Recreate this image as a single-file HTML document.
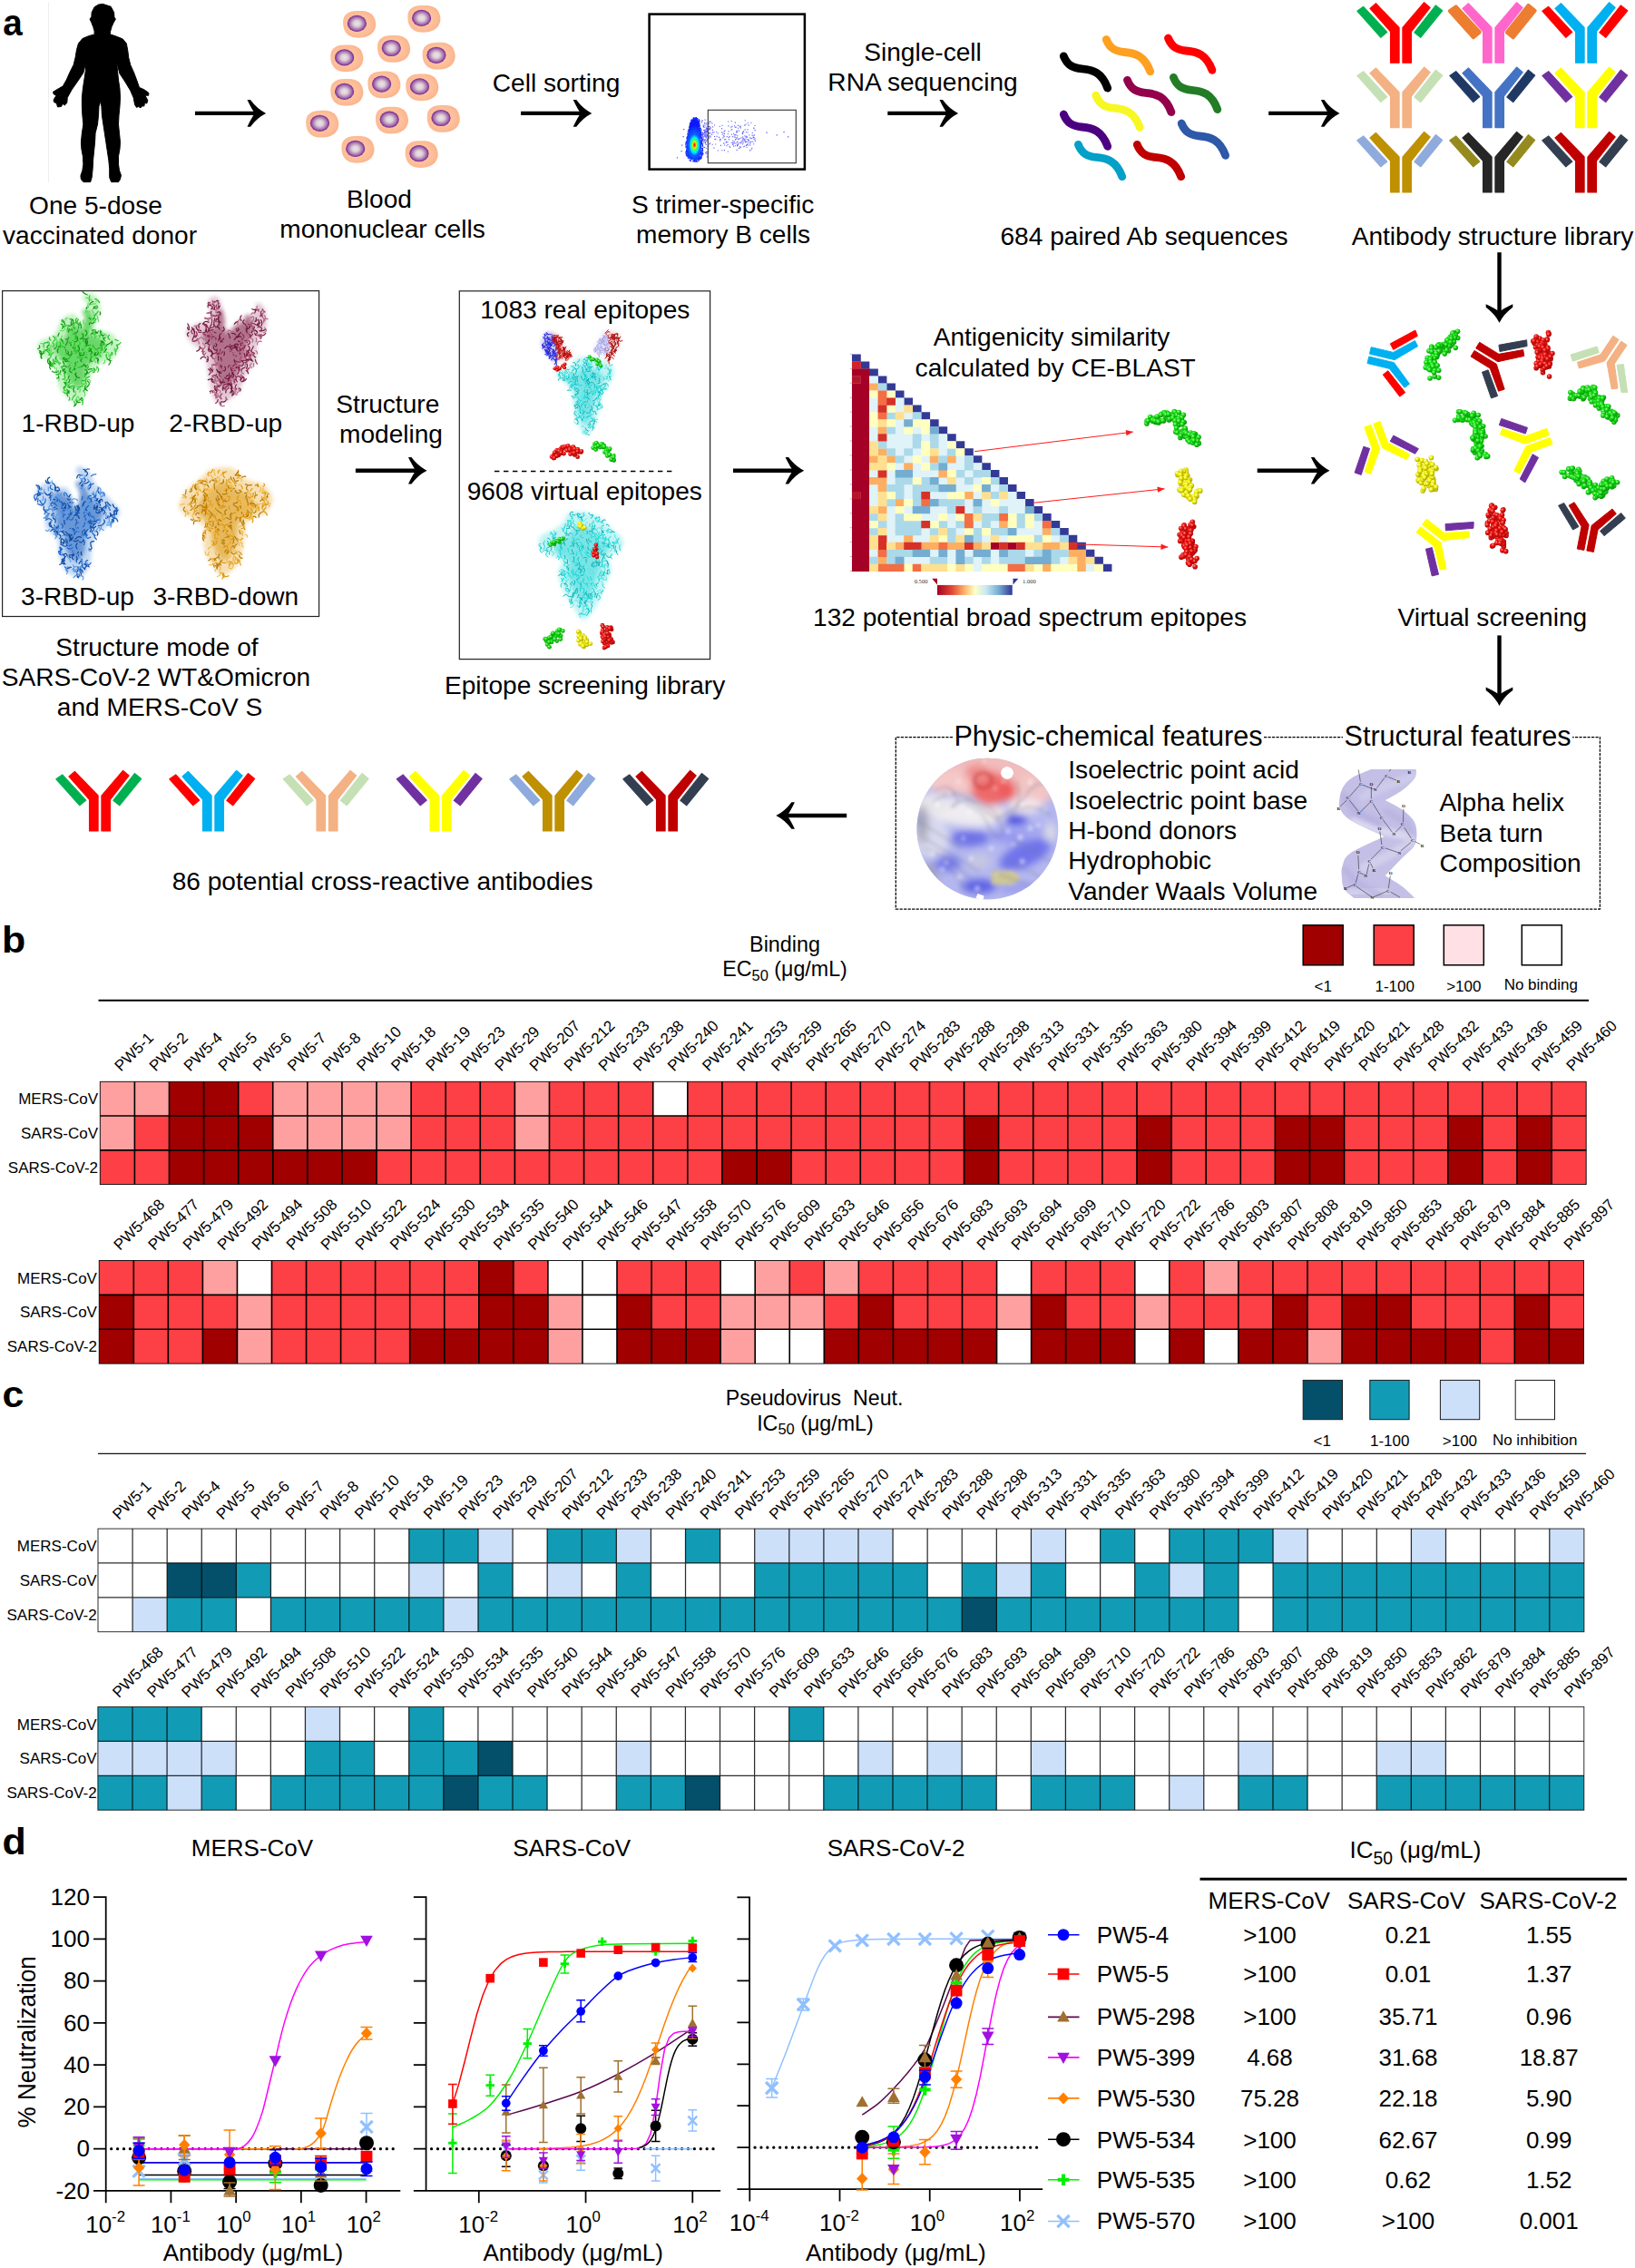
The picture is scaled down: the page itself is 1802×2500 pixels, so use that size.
<!DOCTYPE html>
<html lang="en"><head><meta charset="utf-8"><title>Figure 1</title>
<style>
html,body{margin:0;padding:0;background:#fff;}
body{width:1802px;height:2500px;overflow:hidden;}
svg{display:block;font-family:"Liberation Sans", Arial, sans-serif;fill:#000;}
</style></head><body>
<svg width="1802" height="2500" viewBox="0 0 1802 2500">
<rect width="1802" height="2500" fill="#fff"/>
<g id="panel-a">
<text transform="translate(3.3,38.6) scale(0.966,1.03)" font-size="40" font-weight="bold">a</text>
<path d="M53.4,2V201" stroke="#ececec" stroke-width="1"/><polygon points="113.39,4.4 122.19,7.34 125.62,13.7 125.91,19.08 127.38,21.04 125.13,24.95 123.17,29.35 121.7,34.25 121.21,37.67 128.06,40.12 135.4,43.05 139.32,47.95 140.78,55.77 141.76,63.6 143.72,71.43 147.63,80.23 150.57,88.06 153.5,96.38 158.88,98.83 163.78,102.25 163.78,105.19 159.86,105.19 162.8,110.57 161.82,113.99 159.37,113.5 158.88,116.93 156.44,116.93 154.97,118.88 152.52,117.42 150.57,118.4 148.61,115.46 147.14,107.63 143.72,99.8 137.85,90.02 131.98,81.21 128.55,68.49 129.53,78.28 130.51,88.06 131.98,97.85 132.47,107.63 131.98,117.42 131,127.2 130.51,136.99 131.49,146.77 132.47,156.56 131.98,164.38 130.51,172.21 130.51,181.02 131.49,187.87 133.44,193.25 132.47,197.65 130.51,200.59 122.68,200.59 120.72,195.69 120.72,185.91 119.75,176.13 118.28,166.34 116.81,156.56 115.34,146.77 113.87,136.99 112.41,127.2 111.92,117.42 110.45,111.55 108.98,117.42 108.49,127.2 107.51,136.99 105.07,146.77 104.58,156.56 103.6,166.34 102.62,176.13 102.13,185.91 101.15,195.69 99.69,200.59 91.86,200.59 89.41,197.65 88.92,193.74 90.88,187.87 91.86,181.02 91.37,172.21 89.9,164.38 89.41,156.56 90.39,146.77 91.86,136.99 90.88,127.2 90.39,117.42 90.39,107.63 91.37,97.85 92.84,88.06 94.31,78.28 94.79,68.49 91.86,80.23 85.99,89.04 79.14,98.83 74.25,107.63 73.76,113.5 71.31,115.95 69.35,114.48 67.4,117.42 63.48,117.91 62.5,113.99 59.57,112.52 59.08,110.08 62.02,105.19 59.08,103.72 58.59,101.27 63.48,98.34 69.35,94.91 73.27,88.06 77.18,79.26 81.1,71.43 83.05,63.6 84.52,54.79 86.48,47.95 90.88,42.56 97.73,39.63 104.09,37.96 104.09,34.25 102.62,29.35 100.67,24.46 99,21.04 100.86,18.59 101.15,13.7 104.09,7.83 108.49,5.09" fill="#000" stroke="#000" stroke-width="1" stroke-linejoin="round"/>
<defs><radialGradient id="cellg" cx="45%" cy="48%" r="60%"><stop offset="0" stop-color="#fdd0b3"/><stop offset="0.7" stop-color="#fcbd97"/><stop offset="1" stop-color="#fbb189"/></radialGradient><radialGradient id="nucg"><stop offset="0" stop-color="#ece4e2"/><stop offset="0.35" stop-color="#ded0d8"/><stop offset="0.75" stop-color="#a772b0"/><stop offset="1" stop-color="#74208a"/></radialGradient></defs>
<g transform="translate(396.1,26.8)"><path d="M-18,-2C-18,-11 -12,-14.5 -3,-14.8C6,-15.3 13,-14 16,-8C19,-2 19,4 15,9C10,14.5 2,15.5 -6,14.5C-14,13 -18,7 -18,-2Z" fill="url(#cellg)"/></g><ellipse cx="393.4" cy="25.9" rx="10.6" ry="9.1" fill="url(#nucg)"/>
<g transform="translate(467.3,20.8)"><path d="M-18,-2C-18,-11 -12,-14.5 -3,-14.8C6,-15.3 13,-14 16,-8C19,-2 19,4 15,9C10,14.5 2,15.5 -6,14.5C-14,13 -18,7 -18,-2Z" fill="url(#cellg)"/></g><ellipse cx="464.6" cy="19.9" rx="10.6" ry="9.1" fill="url(#nucg)"/>
<g transform="translate(382.3,64.3)"><path d="M-18,-2C-18,-11 -12,-14.5 -3,-14.8C6,-15.3 13,-14 16,-8C19,-2 19,4 15,9C10,14.5 2,15.5 -6,14.5C-14,13 -18,7 -18,-2Z" fill="url(#cellg)"/></g><ellipse cx="379.6" cy="63.4" rx="10.6" ry="9.1" fill="url(#nucg)"/>
<g transform="translate(434,53.9)"><path d="M-18,-2C-18,-11 -12,-14.5 -3,-14.8C6,-15.3 13,-14 16,-8C19,-2 19,4 15,9C10,14.5 2,15.5 -6,14.5C-14,13 -18,7 -18,-2Z" fill="url(#cellg)"/></g><ellipse cx="431.3" cy="53" rx="10.6" ry="9.1" fill="url(#nucg)"/>
<g transform="translate(483.6,61.7)"><path d="M-18,-2C-18,-11 -12,-14.5 -3,-14.8C6,-15.3 13,-14 16,-8C19,-2 19,4 15,9C10,14.5 2,15.5 -6,14.5C-14,13 -18,7 -18,-2Z" fill="url(#cellg)"/></g><ellipse cx="480.9" cy="60.8" rx="10.6" ry="9.1" fill="url(#nucg)"/>
<g transform="translate(382.3,101.8)"><path d="M-18,-2C-18,-11 -12,-14.5 -3,-14.8C6,-15.3 13,-14 16,-8C19,-2 19,4 15,9C10,14.5 2,15.5 -6,14.5C-14,13 -18,7 -18,-2Z" fill="url(#cellg)"/></g><ellipse cx="379.6" cy="100.9" rx="10.6" ry="9.1" fill="url(#nucg)"/>
<g transform="translate(423.3,93.5)"><path d="M-18,-2C-18,-11 -12,-14.5 -3,-14.8C6,-15.3 13,-14 16,-8C19,-2 19,4 15,9C10,14.5 2,15.5 -6,14.5C-14,13 -18,7 -18,-2Z" fill="url(#cellg)"/></g><ellipse cx="420.6" cy="92.6" rx="10.6" ry="9.1" fill="url(#nucg)"/>
<g transform="translate(465.2,96.3)"><path d="M-18,-2C-18,-11 -12,-14.5 -3,-14.8C6,-15.3 13,-14 16,-8C19,-2 19,4 15,9C10,14.5 2,15.5 -6,14.5C-14,13 -18,7 -18,-2Z" fill="url(#cellg)"/></g><ellipse cx="462.5" cy="95.4" rx="10.6" ry="9.1" fill="url(#nucg)"/>
<g transform="translate(355.2,136.7)"><path d="M-18,-2C-18,-11 -12,-14.5 -3,-14.8C6,-15.3 13,-14 16,-8C19,-2 19,4 15,9C10,14.5 2,15.5 -6,14.5C-14,13 -18,7 -18,-2Z" fill="url(#cellg)"/></g><ellipse cx="352.5" cy="135.8" rx="10.6" ry="9.1" fill="url(#nucg)"/>
<g transform="translate(431.9,132.6)"><path d="M-18,-2C-18,-11 -12,-14.5 -3,-14.8C6,-15.3 13,-14 16,-8C19,-2 19,4 15,9C10,14.5 2,15.5 -6,14.5C-14,13 -18,7 -18,-2Z" fill="url(#cellg)"/></g><ellipse cx="429.2" cy="131.7" rx="10.6" ry="9.1" fill="url(#nucg)"/>
<g transform="translate(488.7,130.9)"><path d="M-18,-2C-18,-11 -12,-14.5 -3,-14.8C6,-15.3 13,-14 16,-8C19,-2 19,4 15,9C10,14.5 2,15.5 -6,14.5C-14,13 -18,7 -18,-2Z" fill="url(#cellg)"/></g><ellipse cx="486" cy="130" rx="10.6" ry="9.1" fill="url(#nucg)"/>
<g transform="translate(394.4,164.8)"><path d="M-18,-2C-18,-11 -12,-14.5 -3,-14.8C6,-15.3 13,-14 16,-8C19,-2 19,4 15,9C10,14.5 2,15.5 -6,14.5C-14,13 -18,7 -18,-2Z" fill="url(#cellg)"/></g><ellipse cx="391.7" cy="163.9" rx="10.6" ry="9.1" fill="url(#nucg)"/>
<g transform="translate(464.6,170.1)"><path d="M-18,-2C-18,-11 -12,-14.5 -3,-14.8C6,-15.3 13,-14 16,-8C19,-2 19,4 15,9C10,14.5 2,15.5 -6,14.5C-14,13 -18,7 -18,-2Z" fill="url(#cellg)"/></g><ellipse cx="461.9" cy="169.2" rx="10.6" ry="9.1" fill="url(#nucg)"/>
<defs><radialGradient id="facsg" gradientUnits="userSpaceOnUse" cx="765.4" cy="159.8" r="11.5" gradientTransform="translate(765.4,159.8) scale(1,1.9) translate(-765.4,-159.8)"><stop offset="0" stop-color="#ff1000"/><stop offset="0.08" stop-color="#ff4a00"/><stop offset="0.16" stop-color="#ffe600"/><stop offset="0.26" stop-color="#40ff50"/><stop offset="0.38" stop-color="#00f0ff"/><stop offset="0.54" stop-color="#0a60ff"/><stop offset="1" stop-color="#0a18ff"/></radialGradient><filter id="fz" x="-20%" y="-20%" width="140%" height="140%"><feGaussianBlur stdDeviation="0.45"/></filter></defs>
<rect x="715.6" y="15.6" width="171.3" height="171" fill="none" stroke="#000" stroke-width="2.5"/>
<path d="M808.65,155.6h1.1v1.1h-1.1zM809.16,148.16h1.1v1.1h-1.1zM797.19,149.08h1.1v1.1h-1.1zM831.9,154.82h1.1v1.1h-1.1zM830.63,153.24h1.1v1.1h-1.1zM819.71,152.67h1.1v1.1h-1.1zM784.68,158.7h1.1v1.1h-1.1zM821.61,155.49h1.1v1.1h-1.1zM784.25,135.31h1.1v1.1h-1.1zM797.88,146.79h1.1v1.1h-1.1zM818.19,150.59h1.1v1.1h-1.1zM821.86,145.22h1.1v1.1h-1.1zM818.25,154.55h1.1v1.1h-1.1zM801.76,166.46h1.1v1.1h-1.1zM822.46,161.77h1.1v1.1h-1.1zM802.45,144.34h1.1v1.1h-1.1zM807.15,150.04h1.1v1.1h-1.1zM823.75,153.24h1.1v1.1h-1.1zM805.39,142.39h1.1v1.1h-1.1zM804.15,161.99h1.1v1.1h-1.1zM799.26,153.2h1.1v1.1h-1.1zM820.25,137.59h1.1v1.1h-1.1zM813.82,162.76h1.1v1.1h-1.1zM778.76,148.11h1.1v1.1h-1.1zM811.2,143.64h1.1v1.1h-1.1zM821.46,150.44h1.1v1.1h-1.1zM788.1,158.45h1.1v1.1h-1.1zM824.38,159.51h1.1v1.1h-1.1zM815.03,139.31h1.1v1.1h-1.1zM823.46,145.49h1.1v1.1h-1.1zM805.3,139.62h1.1v1.1h-1.1zM796.55,146.22h1.1v1.1h-1.1zM788.22,153.15h1.1v1.1h-1.1zM819.08,144.37h1.1v1.1h-1.1zM793.96,159.8h1.1v1.1h-1.1zM831.73,152.42h1.1v1.1h-1.1zM817.18,154.91h1.1v1.1h-1.1zM821.82,155.93h1.1v1.1h-1.1zM786.34,162.54h1.1v1.1h-1.1zM829.24,155.77h1.1v1.1h-1.1zM779.44,145.3h1.1v1.1h-1.1zM827.32,134.7h1.1v1.1h-1.1zM809.87,160.18h1.1v1.1h-1.1zM790.71,165.49h1.1v1.1h-1.1zM822.38,149.65h1.1v1.1h-1.1zM818.52,156.85h1.1v1.1h-1.1zM815.05,161.31h1.1v1.1h-1.1zM801.75,147.27h1.1v1.1h-1.1zM830.71,151.24h1.1v1.1h-1.1zM798.03,159.52h1.1v1.1h-1.1zM789.54,149.79h1.1v1.1h-1.1zM810.47,148.32h1.1v1.1h-1.1zM799.62,156.68h1.1v1.1h-1.1zM818.87,152.28h1.1v1.1h-1.1zM815.59,156.18h1.1v1.1h-1.1zM810,153.5h1.1v1.1h-1.1zM822.74,151.01h1.1v1.1h-1.1zM825.99,156.09h1.1v1.1h-1.1zM805.73,147.65h1.1v1.1h-1.1zM812.78,159.31h1.1v1.1h-1.1zM807.28,154.47h1.1v1.1h-1.1zM793.89,153.2h1.1v1.1h-1.1zM819.77,153.15h1.1v1.1h-1.1zM805.67,156.9h1.1v1.1h-1.1zM817.8,146.3h1.1v1.1h-1.1zM803.58,150.1h1.1v1.1h-1.1zM809.16,150.44h1.1v1.1h-1.1zM830.15,140.48h1.1v1.1h-1.1zM811.87,159.58h1.1v1.1h-1.1zM827.56,164.42h1.1v1.1h-1.1zM784.08,147.82h1.1v1.1h-1.1zM807.2,156.61h1.1v1.1h-1.1zM831.51,137.97h1.1v1.1h-1.1zM824.61,137.57h1.1v1.1h-1.1zM815.99,161.75h1.1v1.1h-1.1zM810.46,152.72h1.1v1.1h-1.1zM826.55,152.27h1.1v1.1h-1.1zM811.5,164.8h1.1v1.1h-1.1zM830.82,148.36h1.1v1.1h-1.1zM828.55,148.61h1.1v1.1h-1.1zM815.25,157.35h1.1v1.1h-1.1zM816.78,156.75h1.1v1.1h-1.1zM787.04,137.41h1.1v1.1h-1.1zM823.45,142.33h1.1v1.1h-1.1zM795.55,137.77h1.1v1.1h-1.1zM813.02,140.74h1.1v1.1h-1.1zM826.02,165.3h1.1v1.1h-1.1zM797.87,165.04h1.1v1.1h-1.1zM829.8,149.4h1.1v1.1h-1.1zM779.48,163.66h1.1v1.1h-1.1zM811.36,145.57h1.1v1.1h-1.1zM819.79,154.69h1.1v1.1h-1.1zM800.35,160.17h1.1v1.1h-1.1zM814.96,152.12h1.1v1.1h-1.1zM773.96,147.52h1.1v1.1h-1.1zM781.48,158.37h1.1v1.1h-1.1zM818.39,145.5h1.1v1.1h-1.1zM812.84,158.49h1.1v1.1h-1.1zM814.34,162.94h1.1v1.1h-1.1zM811.96,160.36h1.1v1.1h-1.1zM801.58,158.92h1.1v1.1h-1.1zM781.11,141.25h1.1v1.1h-1.1zM779.63,160.62h1.1v1.1h-1.1zM792.06,150.89h1.1v1.1h-1.1zM809.73,150.74h1.1v1.1h-1.1zM802.94,153.1h1.1v1.1h-1.1zM822.03,160h1.1v1.1h-1.1zM809.63,139.66h1.1v1.1h-1.1zM803.56,160.66h1.1v1.1h-1.1zM785.01,145.62h1.1v1.1h-1.1zM830.13,158.13h1.1v1.1h-1.1zM813.13,158.25h1.1v1.1h-1.1zM815.82,140.39h1.1v1.1h-1.1zM786.41,145.25h1.1v1.1h-1.1zM828.69,145.91h1.1v1.1h-1.1zM797.66,144.06h1.1v1.1h-1.1zM786.96,149.94h1.1v1.1h-1.1zM792.95,154.28h1.1v1.1h-1.1zM772.88,153.95h1.1v1.1h-1.1zM802.09,133.52h1.1v1.1h-1.1zM825.32,148.52h1.1v1.1h-1.1zM775.09,143.12h1.1v1.1h-1.1zM817.95,146.87h1.1v1.1h-1.1zM826.26,157.73h1.1v1.1h-1.1zM824.33,153.94h1.1v1.1h-1.1zM820.67,132.24h1.1v1.1h-1.1zM828.24,162.78h1.1v1.1h-1.1zM807.95,146.77h1.1v1.1h-1.1zM797.23,157.21h1.1v1.1h-1.1zM822.54,159.12h1.1v1.1h-1.1zM797.6,150.2h1.1v1.1h-1.1zM817.98,158.43h1.1v1.1h-1.1zM812.41,149.24h1.1v1.1h-1.1zM795.73,147.77h1.1v1.1h-1.1zM828.16,151.92h1.1v1.1h-1.1zM798.5,143.43h1.1v1.1h-1.1zM823.57,155.33h1.1v1.1h-1.1zM811.85,155.7h1.1v1.1h-1.1zM779.95,160.3h1.1v1.1h-1.1zM818.52,144.68h1.1v1.1h-1.1zM789.16,145h1.1v1.1h-1.1zM817.95,152.65h1.1v1.1h-1.1zM806.23,142.23h1.1v1.1h-1.1zM792.7,138.89h1.1v1.1h-1.1zM798.17,153.35h1.1v1.1h-1.1zM776.28,144.27h1.1v1.1h-1.1zM812,155.7h1.1v1.1h-1.1zM800.63,149.88h1.1v1.1h-1.1zM820.8,154.39h1.1v1.1h-1.1zM823.85,152.88h1.1v1.1h-1.1zM807.49,158.1h1.1v1.1h-1.1zM813.84,143.57h1.1v1.1h-1.1zM802.36,151h1.1v1.1h-1.1zM811.14,152.41h1.1v1.1h-1.1zM812.99,152.58h1.1v1.1h-1.1zM810.72,139.67h1.1v1.1h-1.1zM820.16,160.48h1.1v1.1h-1.1zM820.39,149.3h1.1v1.1h-1.1zM820.59,142.31h1.1v1.1h-1.1zM780.77,151.54h1.1v1.1h-1.1zM797.18,157.66h1.1v1.1h-1.1zM795.33,165.2h1.1v1.1h-1.1zM806.51,138.68h1.1v1.1h-1.1zM800.02,155.69h1.1v1.1h-1.1zM821.45,152.59h1.1v1.1h-1.1zM812.64,156.37h1.1v1.1h-1.1zM830.4,141.25h1.1v1.1h-1.1zM810.48,157.57h1.1v1.1h-1.1zM807.96,160.62h1.1v1.1h-1.1zM823.14,159.17h1.1v1.1h-1.1zM807.17,158.87h1.1v1.1h-1.1zM829.67,151.06h1.1v1.1h-1.1zM793.16,152.69h1.1v1.1h-1.1zM819.11,161.17h1.1v1.1h-1.1zM826.31,151.22h1.1v1.1h-1.1zM827.51,155.86h1.1v1.1h-1.1zM816.5,151.5h1.1v1.1h-1.1zM808.86,157.18h1.1v1.1h-1.1zM795.08,145.34h1.1v1.1h-1.1zM813.08,137.82h1.1v1.1h-1.1zM805.59,132.92h1.1v1.1h-1.1zM801.39,156.12h1.1v1.1h-1.1zM822.63,150.51h1.1v1.1h-1.1zM809.05,138.25h1.1v1.1h-1.1zM831.59,143.06h1.1v1.1h-1.1zM809.85,134.62h1.1v1.1h-1.1zM826.27,159.42h1.1v1.1h-1.1zM780.74,150.53h1.1v1.1h-1.1zM823.72,135.14h1.1v1.1h-1.1zM781.97,141.41h1.1v1.1h-1.1zM802.3,138.37h1.1v1.1h-1.1zM813.54,153.25h1.1v1.1h-1.1zM823.78,157.32h1.1v1.1h-1.1zM790.7,146.45h1.1v1.1h-1.1zM794.98,141.31h1.1v1.1h-1.1zM811.62,151.05h1.1v1.1h-1.1zM821.34,136.72h1.1v1.1h-1.1zM791.96,150.79h1.1v1.1h-1.1zM809.61,148.2h1.1v1.1h-1.1zM811.93,144.16h1.1v1.1h-1.1zM824.92,154.19h1.1v1.1h-1.1zM811.51,144.95h1.1v1.1h-1.1zM796.32,151.34h1.1v1.1h-1.1zM787.43,152.8h1.1v1.1h-1.1zM815.51,138.6h1.1v1.1h-1.1zM808.74,148.18h1.1v1.1h-1.1zM820.82,156.51h1.1v1.1h-1.1zM776.37,137.49h1.1v1.1h-1.1zM775.98,145.35h1.1v1.1h-1.1zM779.14,148.94h1.1v1.1h-1.1zM773.9,132.46h1.1v1.1h-1.1zM775.16,138.6h1.1v1.1h-1.1zM772.5,144.84h1.1v1.1h-1.1zM774.73,147.05h1.1v1.1h-1.1zM778.38,141.87h1.1v1.1h-1.1zM784.87,142.79h1.1v1.1h-1.1zM780.47,147.22h1.1v1.1h-1.1zM773.79,148.47h1.1v1.1h-1.1zM778.67,169.37h1.1v1.1h-1.1zM777.66,158.8h1.1v1.1h-1.1zM779.26,155.47h1.1v1.1h-1.1zM778.34,144.44h1.1v1.1h-1.1zM778.33,135.22h1.1v1.1h-1.1zM780.75,135.83h1.1v1.1h-1.1zM777.4,167.21h1.1v1.1h-1.1zM775.7,146.2h1.1v1.1h-1.1zM780.69,146.26h1.1v1.1h-1.1zM773.59,148.58h1.1v1.1h-1.1zM778.6,153.1h1.1v1.1h-1.1zM773.72,163.53h1.1v1.1h-1.1zM782.5,146.18h1.1v1.1h-1.1zM777.47,141.71h1.1v1.1h-1.1zM781.59,138.95h1.1v1.1h-1.1zM778.93,141.2h1.1v1.1h-1.1zM774,153.19h1.1v1.1h-1.1zM781.3,145.9h1.1v1.1h-1.1zM774.06,154.11h1.1v1.1h-1.1zM776.32,149.11h1.1v1.1h-1.1zM781.98,157.32h1.1v1.1h-1.1zM774.63,168.84h1.1v1.1h-1.1zM776.51,153.86h1.1v1.1h-1.1zM774.17,145.55h1.1v1.1h-1.1zM781.42,133.85h1.1v1.1h-1.1zM780.73,141.4h1.1v1.1h-1.1zM776.28,142.87h1.1v1.1h-1.1zM776.06,135.12h1.1v1.1h-1.1zM776.59,131.62h1.1v1.1h-1.1zM776.24,149.09h1.1v1.1h-1.1zM778.18,143.68h1.1v1.1h-1.1zM773.25,147.6h1.1v1.1h-1.1zM774.76,161.66h1.1v1.1h-1.1zM779.26,144.85h1.1v1.1h-1.1zM774.8,138.97h1.1v1.1h-1.1zM773.13,142.47h1.1v1.1h-1.1zM777.56,151.16h1.1v1.1h-1.1zM778.55,166.99h1.1v1.1h-1.1zM773.96,146.13h1.1v1.1h-1.1zM774.62,147.7h1.1v1.1h-1.1zM777.06,150.08h1.1v1.1h-1.1zM775.64,149.66h1.1v1.1h-1.1zM776.69,153.71h1.1v1.1h-1.1zM776.49,135.68h1.1v1.1h-1.1zM772.74,152.28h1.1v1.1h-1.1zM774.16,152.35h1.1v1.1h-1.1zM779.18,149.06h1.1v1.1h-1.1zM778.33,144.95h1.1v1.1h-1.1zM778.14,140.71h1.1v1.1h-1.1zM776.14,153.49h1.1v1.1h-1.1zM773.34,152.4h1.1v1.1h-1.1zM783.21,140.45h1.1v1.1h-1.1zM777.03,144.5h1.1v1.1h-1.1zM782.04,149.16h1.1v1.1h-1.1zM779.73,139.1h1.1v1.1h-1.1zM776.44,145.9h1.1v1.1h-1.1zM779.18,144.69h1.1v1.1h-1.1zM778.11,149.66h1.1v1.1h-1.1zM781.87,140.25h1.1v1.1h-1.1zM772.82,132.4h1.1v1.1h-1.1zM772.1,149.36h1.1v1.1h-1.1zM782.59,150.29h1.1v1.1h-1.1zM777.38,168.34h1.1v1.1h-1.1zM774.63,139.26h1.1v1.1h-1.1zM778.4,151.49h1.1v1.1h-1.1zM772.85,134.3h1.1v1.1h-1.1zM777.55,148.47h1.1v1.1h-1.1zM774.55,150.6h1.1v1.1h-1.1zM776.08,145.14h1.1v1.1h-1.1zM775.23,156.54h1.1v1.1h-1.1zM781.51,142.33h1.1v1.1h-1.1zM779.55,138.42h1.1v1.1h-1.1zM776.76,153.5h1.1v1.1h-1.1zM781.95,142.17h1.1v1.1h-1.1zM776.23,147.96h1.1v1.1h-1.1zM774.07,149.71h1.1v1.1h-1.1zM776.64,148.61h1.1v1.1h-1.1zM774.52,154.89h1.1v1.1h-1.1zM775.52,139.94h1.1v1.1h-1.1zM774.06,145.79h1.1v1.1h-1.1zM779.56,144.37h1.1v1.1h-1.1zM777.61,139.45h1.1v1.1h-1.1zM777.59,162.63h1.1v1.1h-1.1zM774.03,169.66h1.1v1.1h-1.1zM774.18,146.17h1.1v1.1h-1.1zM777.12,156.24h1.1v1.1h-1.1zM778.68,153.95h1.1v1.1h-1.1zM778.75,172.31h1.1v1.1h-1.1zM777.24,148.54h1.1v1.1h-1.1zM779.85,149.69h1.1v1.1h-1.1zM782.49,133.62h1.1v1.1h-1.1zM779.42,142.28h1.1v1.1h-1.1zM779.83,167.54h1.1v1.1h-1.1zM776.48,143.45h1.1v1.1h-1.1zM774.7,137.62h1.1v1.1h-1.1zM774.23,152.39h1.1v1.1h-1.1zM776.63,146.66h1.1v1.1h-1.1zM775.88,155.14h1.1v1.1h-1.1zM778.28,144.58h1.1v1.1h-1.1zM778.89,144.48h1.1v1.1h-1.1zM772.35,160.55h1.1v1.1h-1.1zM778.18,136.43h1.1v1.1h-1.1zM780.38,149.45h1.1v1.1h-1.1zM777.7,154.91h1.1v1.1h-1.1zM777.21,144.5h1.1v1.1h-1.1zM776.61,143.13h1.1v1.1h-1.1zM777.76,146.78h1.1v1.1h-1.1zM778.93,142.29h1.1v1.1h-1.1zM774.98,152.76h1.1v1.1h-1.1zM781.31,142.36h1.1v1.1h-1.1zM776.06,161.83h1.1v1.1h-1.1zM775.33,153.34h1.1v1.1h-1.1zM782.54,146.4h1.1v1.1h-1.1zM780.92,138.9h1.1v1.1h-1.1zM777.25,145.23h1.1v1.1h-1.1zM776.91,157.3h1.1v1.1h-1.1zM785.1,139.35h1.1v1.1h-1.1zM774.43,150.97h1.1v1.1h-1.1zM772.7,150.97h1.1v1.1h-1.1zM778.56,143.22h1.1v1.1h-1.1zM844.4,145.5h1.3v1.3h-1.3zM855.6,148.3h1.3v1.3h-1.3zM863.4,145h1.3v1.3h-1.3zM868,150.3h1.3v1.3h-1.3zM745.8,173.3h1.3v1.3h-1.3zM751,159.5h1.3v1.3h-1.3zM753,142h1.3v1.3h-1.3zM750.5,166h1.3v1.3h-1.3zM752.5,150h1.3v1.3h-1.3z" fill="#3030ff" opacity="0.8"/>
<path d="M772.04,157.11h1.1v1.1h-1.1zM757.52,172.72h1.1v1.1h-1.1zM770.53,142.34h1.1v1.1h-1.1zM771.71,161.53h1.1v1.1h-1.1zM769.96,135.63h1.1v1.1h-1.1zM773.98,167.65h1.1v1.1h-1.1zM769.79,141.42h1.1v1.1h-1.1zM772.49,147.79h1.1v1.1h-1.1zM759.11,145.88h1.1v1.1h-1.1zM758.89,141.8h1.1v1.1h-1.1zM766.25,130.1h1.1v1.1h-1.1zM771.3,151.01h1.1v1.1h-1.1zM765.84,175.86h1.1v1.1h-1.1zM767.33,175.28h1.1v1.1h-1.1zM770.5,172.75h1.1v1.1h-1.1zM772.29,168.68h1.1v1.1h-1.1zM769.6,173.51h1.1v1.1h-1.1zM772.74,149.51h1.1v1.1h-1.1zM771.84,144.87h1.1v1.1h-1.1zM769.59,176.7h1.1v1.1h-1.1zM769.8,138.67h1.1v1.1h-1.1zM770.35,132.57h1.1v1.1h-1.1zM771.49,171.83h1.1v1.1h-1.1zM772.25,163.05h1.1v1.1h-1.1zM766.94,130.59h1.1v1.1h-1.1zM756.81,167.35h1.1v1.1h-1.1zM773.17,152.45h1.1v1.1h-1.1zM770.27,135.94h1.1v1.1h-1.1zM772.67,172.31h1.1v1.1h-1.1zM758.33,149.33h1.1v1.1h-1.1zM763.68,174.83h1.1v1.1h-1.1zM761.2,137.67h1.1v1.1h-1.1zM772.15,150.82h1.1v1.1h-1.1zM771.48,157.3h1.1v1.1h-1.1zM772.27,162.72h1.1v1.1h-1.1zM760.95,174.91h1.1v1.1h-1.1zM769.83,134.64h1.1v1.1h-1.1zM757.59,165.46h1.1v1.1h-1.1zM756.57,164.5h1.1v1.1h-1.1zM757.49,160.24h1.1v1.1h-1.1zM773.7,163.51h1.1v1.1h-1.1zM756.78,157.62h1.1v1.1h-1.1zM771.65,160.77h1.1v1.1h-1.1zM773.52,157.49h1.1v1.1h-1.1zM771.62,141.62h1.1v1.1h-1.1zM761.99,133.74h1.1v1.1h-1.1zM774,164.35h1.1v1.1h-1.1zM771.95,147.8h1.1v1.1h-1.1zM773.44,169.43h1.1v1.1h-1.1zM770.35,138.49h1.1v1.1h-1.1zM770.25,136.04h1.1v1.1h-1.1zM771.23,144.6h1.1v1.1h-1.1zM773.84,165.13h1.1v1.1h-1.1zM757.21,157.3h1.1v1.1h-1.1zM760.47,139.26h1.1v1.1h-1.1zM757.47,154.88h1.1v1.1h-1.1zM757.15,167.76h1.1v1.1h-1.1zM773.08,167.46h1.1v1.1h-1.1zM769.77,137.31h1.1v1.1h-1.1zM756.34,157.49h1.1v1.1h-1.1zM761.15,174.62h1.1v1.1h-1.1zM770.62,174.45h1.1v1.1h-1.1zM759.51,143.64h1.1v1.1h-1.1zM768.31,132.27h1.1v1.1h-1.1zM770.48,174.41h1.1v1.1h-1.1zM759.06,139.94h1.1v1.1h-1.1zM757.13,161.05h1.1v1.1h-1.1zM756.55,151.23h1.1v1.1h-1.1zM762.94,134.01h1.1v1.1h-1.1zM772.58,152.9h1.1v1.1h-1.1zM761.43,132.55h1.1v1.1h-1.1zM755.8,157.11h1.1v1.1h-1.1zM769.7,131.01h1.1v1.1h-1.1zM772.24,146.11h1.1v1.1h-1.1zM759.87,136.98h1.1v1.1h-1.1zM773.5,165.27h1.1v1.1h-1.1zM771.16,172.37h1.1v1.1h-1.1zM768.17,177.31h1.1v1.1h-1.1zM764.35,176.29h1.1v1.1h-1.1zM766.42,177.56h1.1v1.1h-1.1zM772.49,170.59h1.1v1.1h-1.1zM769.78,172.35h1.1v1.1h-1.1zM773.22,163.16h1.1v1.1h-1.1zM765.5,177.58h1.1v1.1h-1.1zM772.32,165.33h1.1v1.1h-1.1zM761.25,132.26h1.1v1.1h-1.1zM758.93,142.46h1.1v1.1h-1.1zM771.36,147.16h1.1v1.1h-1.1zM756.85,156.38h1.1v1.1h-1.1zM756.49,154.38h1.1v1.1h-1.1zM757.47,166.1h1.1v1.1h-1.1zM771.63,173.8h1.1v1.1h-1.1zM769.73,134.72h1.1v1.1h-1.1zM760.48,176.67h1.1v1.1h-1.1zM756.79,171.1h1.1v1.1h-1.1zM771.46,173.36h1.1v1.1h-1.1zM757.59,151.14h1.1v1.1h-1.1zM769.11,134.83h1.1v1.1h-1.1zM768.66,135.06h1.1v1.1h-1.1zM756.4,167.04h1.1v1.1h-1.1zM764.51,130.6h1.1v1.1h-1.1zM772.43,153.93h1.1v1.1h-1.1zM760.71,139.95h1.1v1.1h-1.1zM769.35,174.83h1.1v1.1h-1.1zM771.55,142.22h1.1v1.1h-1.1zM766.49,175.43h1.1v1.1h-1.1zM766.96,129.58h1.1v1.1h-1.1zM756.12,165.1h1.1v1.1h-1.1zM763.34,132.67h1.1v1.1h-1.1zM766.71,130.69h1.1v1.1h-1.1zM757.09,160.49h1.1v1.1h-1.1zM771.17,145.47h1.1v1.1h-1.1zM772.02,167.33h1.1v1.1h-1.1zM763.08,132.26h1.1v1.1h-1.1zM771.75,163.21h1.1v1.1h-1.1zM770.82,137.93h1.1v1.1h-1.1zM761.49,136.94h1.1v1.1h-1.1zM757.85,148.5h1.1v1.1h-1.1zM757.53,144.41h1.1v1.1h-1.1zM767,174.64h1.1v1.1h-1.1zM755.91,170.59h1.1v1.1h-1.1zM765.17,175.59h1.1v1.1h-1.1zM765.79,130.06h1.1v1.1h-1.1zM763.88,131.87h1.1v1.1h-1.1zM772.88,167.6h1.1v1.1h-1.1zM772.15,161.78h1.1v1.1h-1.1zM772.32,172.86h1.1v1.1h-1.1zM759,173.16h1.1v1.1h-1.1zM771.14,174.83h1.1v1.1h-1.1zM765.24,129.52h1.1v1.1h-1.1zM768.91,133.04h1.1v1.1h-1.1zM769.54,173.94h1.1v1.1h-1.1zM772.68,169.42h1.1v1.1h-1.1zM771.59,160.84h1.1v1.1h-1.1zM770.87,150.09h1.1v1.1h-1.1zM771.37,157.74h1.1v1.1h-1.1zM772.87,157.85h1.1v1.1h-1.1zM770.02,144.5h1.1v1.1h-1.1zM755.4,168.55h1.1v1.1h-1.1zM766.03,132.46h1.1v1.1h-1.1zM756.94,161.11h1.1v1.1h-1.1zM772.01,144.98h1.1v1.1h-1.1zM771.2,144.02h1.1v1.1h-1.1zM762.03,174.41h1.1v1.1h-1.1zM772.18,168.39h1.1v1.1h-1.1zM768.09,175.23h1.1v1.1h-1.1zM763.64,177.21h1.1v1.1h-1.1zM757,170.57h1.1v1.1h-1.1zM761.08,134.14h1.1v1.1h-1.1zM768.17,134.36h1.1v1.1h-1.1zM763.4,132.19h1.1v1.1h-1.1zM769.46,136.96h1.1v1.1h-1.1zM770.36,142.99h1.1v1.1h-1.1zM757.39,154.4h1.1v1.1h-1.1zM769.39,133.22h1.1v1.1h-1.1zM760.59,134.41h1.1v1.1h-1.1zM760.26,134.63h1.1v1.1h-1.1zM761.77,131.36h1.1v1.1h-1.1zM759.61,176.17h1.1v1.1h-1.1zM769.41,173.14h1.1v1.1h-1.1zM771.68,140.87h1.1v1.1h-1.1zM766.06,130.26h1.1v1.1h-1.1zM755.51,169.27h1.1v1.1h-1.1zM770.96,141.15h1.1v1.1h-1.1zM757.07,167.24h1.1v1.1h-1.1zM765.21,131.33h1.1v1.1h-1.1zM768.18,174.63h1.1v1.1h-1.1zM769.47,135.62h1.1v1.1h-1.1zM772.56,159.17h1.1v1.1h-1.1zM765.73,132.09h1.1v1.1h-1.1zM759.66,142.25h1.1v1.1h-1.1zM771.21,172.87h1.1v1.1h-1.1zM769.66,173.62h1.1v1.1h-1.1zM773.76,158.21h1.1v1.1h-1.1zM757.99,170.88h1.1v1.1h-1.1zM770.04,172.81h1.1v1.1h-1.1zM771.53,146.37h1.1v1.1h-1.1zM773.68,170.21h1.1v1.1h-1.1zM760.63,174.84h1.1v1.1h-1.1zM773.9,168.47h1.1v1.1h-1.1zM767.44,175.73h1.1v1.1h-1.1zM769.96,131.97h1.1v1.1h-1.1zM757.7,148.87h1.1v1.1h-1.1zM762.08,174.46h1.1v1.1h-1.1zM756.79,161.91h1.1v1.1h-1.1zM757.53,148.71h1.1v1.1h-1.1zM757.59,147.45h1.1v1.1h-1.1zM769.74,175.3h1.1v1.1h-1.1zM759.27,143.94h1.1v1.1h-1.1zM771.28,151.81h1.1v1.1h-1.1zM756.21,156.6h1.1v1.1h-1.1zM764.6,176.34h1.1v1.1h-1.1zM768.22,132.57h1.1v1.1h-1.1zM772.5,166.12h1.1v1.1h-1.1zM767.66,131.7h1.1v1.1h-1.1zM771.18,145.66h1.1v1.1h-1.1zM774.11,165.82h1.1v1.1h-1.1zM771.34,169.06h1.1v1.1h-1.1zM758.68,142.27h1.1v1.1h-1.1zM761.22,132.59h1.1v1.1h-1.1zM756.57,165.36h1.1v1.1h-1.1zM758.16,144.69h1.1v1.1h-1.1zM755.35,158.3h1.1v1.1h-1.1zM756.92,164.36h1.1v1.1h-1.1zM757.56,158.82h1.1v1.1h-1.1zM757.77,146.94h1.1v1.1h-1.1zM757.3,164.54h1.1v1.1h-1.1zM760,176.33h1.1v1.1h-1.1zM763.76,129.14h1.1v1.1h-1.1zM757.21,158.43h1.1v1.1h-1.1zM771.2,143.91h1.1v1.1h-1.1zM760.61,135.07h1.1v1.1h-1.1zM772.59,155.12h1.1v1.1h-1.1zM757.81,150.81h1.1v1.1h-1.1zM765.74,129.7h1.1v1.1h-1.1zM759.95,136.45h1.1v1.1h-1.1zM765.32,176.93h1.1v1.1h-1.1zM757.72,149h1.1v1.1h-1.1zM766.97,176.65h1.1v1.1h-1.1zM758.16,171.73h1.1v1.1h-1.1zM770.56,143.4h1.1v1.1h-1.1zM760.6,173.49h1.1v1.1h-1.1zM757.98,169.46h1.1v1.1h-1.1zM757.51,164.07h1.1v1.1h-1.1zM766.8,132.88h1.1v1.1h-1.1zM762.97,174.73h1.1v1.1h-1.1zM771.87,158.93h1.1v1.1h-1.1zM759.33,144.72h1.1v1.1h-1.1zM757.37,155.97h1.1v1.1h-1.1zM771.62,142.39h1.1v1.1h-1.1zM762.93,176.69h1.1v1.1h-1.1zM761.35,132.25h1.1v1.1h-1.1zM771.04,149.54h1.1v1.1h-1.1zM769.01,175.3h1.1v1.1h-1.1zM764.07,131.11h1.1v1.1h-1.1zM771.91,157.8h1.1v1.1h-1.1zM773.84,164.4h1.1v1.1h-1.1zM766.88,131.8h1.1v1.1h-1.1zM760.52,134.55h1.1v1.1h-1.1zM755.17,166.95h1.1v1.1h-1.1zM770.26,140.18h1.1v1.1h-1.1zM766.31,132.55h1.1v1.1h-1.1zM758.03,169.23h1.1v1.1h-1.1zM760.13,135.5h1.1v1.1h-1.1zM769.48,134.61h1.1v1.1h-1.1zM773.12,154.97h1.1v1.1h-1.1zM755.75,167.21h1.1v1.1h-1.1zM765.82,131.92h1.1v1.1h-1.1zM757.74,151.8h1.1v1.1h-1.1zM769.86,138.24h1.1v1.1h-1.1zM760.46,137.17h1.1v1.1h-1.1zM764.49,175.91h1.1v1.1h-1.1zM772.83,171.34h1.1v1.1h-1.1zM758.44,174.05h1.1v1.1h-1.1zM772.78,157h1.1v1.1h-1.1zM769.9,135.15h1.1v1.1h-1.1zM757.54,157.77h1.1v1.1h-1.1zM763.55,174.82h1.1v1.1h-1.1zM760.62,135.47h1.1v1.1h-1.1zM763.67,130.8h1.1v1.1h-1.1zM772.97,157.33h1.1v1.1h-1.1zM770.86,139.62h1.1v1.1h-1.1zM759.7,142.85h1.1v1.1h-1.1zM772.74,166.1h1.1v1.1h-1.1zM772.25,151.66h1.1v1.1h-1.1zM757.11,162.68h1.1v1.1h-1.1zM761.57,174.63h1.1v1.1h-1.1zM763.26,174.64h1.1v1.1h-1.1zM767.94,131.22h1.1v1.1h-1.1zM769.94,135.79h1.1v1.1h-1.1zM771.58,150.86h1.1v1.1h-1.1zM757.58,158.48h1.1v1.1h-1.1zM755.26,157.64h1.1v1.1h-1.1zM772.14,156.1h1.1v1.1h-1.1zM771.07,146.08h1.1v1.1h-1.1zM772.3,157.28h1.1v1.1h-1.1zM768.03,133.79h1.1v1.1h-1.1zM769.83,141.03h1.1v1.1h-1.1zM759.52,138.89h1.1v1.1h-1.1zM770.69,174.78h1.1v1.1h-1.1zM770.18,134.34h1.1v1.1h-1.1zM771.52,157.97h1.1v1.1h-1.1zM765.78,130.95h1.1v1.1h-1.1zM764.32,175h1.1v1.1h-1.1zM768.67,134.96h1.1v1.1h-1.1zM770.3,141.69h1.1v1.1h-1.1zM773.85,167.4h1.1v1.1h-1.1zM770.46,133.39h1.1v1.1h-1.1zM759.48,143.88h1.1v1.1h-1.1zM771.7,147.79h1.1v1.1h-1.1zM756.78,150.33h1.1v1.1h-1.1zM759.29,139.23h1.1v1.1h-1.1zM759.33,171.76h1.1v1.1h-1.1zM756.43,170.29h1.1v1.1h-1.1zM769.07,132.38h1.1v1.1h-1.1zM760.77,176.77h1.1v1.1h-1.1zM770.83,174.35h1.1v1.1h-1.1zM768.79,174.66h1.1v1.1h-1.1zM767.26,132.39h1.1v1.1h-1.1zM773.72,164.69h1.1v1.1h-1.1zM769.11,135.93h1.1v1.1h-1.1zM773.03,154.43h1.1v1.1h-1.1zM765.9,129.16h1.1v1.1h-1.1zM756.25,165.47h1.1v1.1h-1.1zM761.41,135.85h1.1v1.1h-1.1zM769.84,172.38h1.1v1.1h-1.1zM757.11,158.42h1.1v1.1h-1.1zM765.59,174.71h1.1v1.1h-1.1zM757.4,158.41h1.1v1.1h-1.1zM756.91,163.45h1.1v1.1h-1.1zM763.57,129.78h1.1v1.1h-1.1zM762.23,132.78h1.1v1.1h-1.1zM771.94,167.56h1.1v1.1h-1.1zM772.39,165.46h1.1v1.1h-1.1zM756.37,166.35h1.1v1.1h-1.1zM773.18,154.19h1.1v1.1h-1.1zM760.89,138.51h1.1v1.1h-1.1zM759.97,141.84h1.1v1.1h-1.1zM767.56,131.48h1.1v1.1h-1.1zM766.61,132.1h1.1v1.1h-1.1zM761.08,136.99h1.1v1.1h-1.1zM766.83,177.61h1.1v1.1h-1.1zM771.07,154.48h1.1v1.1h-1.1zM771.43,172.19h1.1v1.1h-1.1zM766.75,130.6h1.1v1.1h-1.1zM758.37,142.4h1.1v1.1h-1.1zM771.25,144.27h1.1v1.1h-1.1zM770.78,150.7h1.1v1.1h-1.1zM757.5,171.79h1.1v1.1h-1.1zM762.45,132.8h1.1v1.1h-1.1zM772.17,162.51h1.1v1.1h-1.1zM772.06,174.32h1.1v1.1h-1.1zM756.44,168.79h1.1v1.1h-1.1zM768.31,134.42h1.1v1.1h-1.1zM763.14,131.21h1.1v1.1h-1.1zM760.38,140.17h1.1v1.1h-1.1zM769.5,132.38h1.1v1.1h-1.1zM761.27,175.14h1.1v1.1h-1.1zM771.2,148.86h1.1v1.1h-1.1zM756.25,161.21h1.1v1.1h-1.1zM773.67,163.63h1.1v1.1h-1.1zM768.34,130.29h1.1v1.1h-1.1zM770.09,132.87h1.1v1.1h-1.1zM771.76,144.38h1.1v1.1h-1.1zM773.76,158.67h1.1v1.1h-1.1zM756.29,155.56h1.1v1.1h-1.1zM760,140.21h1.1v1.1h-1.1zM770.39,174.55h1.1v1.1h-1.1zM772.81,154.93h1.1v1.1h-1.1zM773.06,165.23h1.1v1.1h-1.1zM771.47,155.83h1.1v1.1h-1.1zM758.04,151.35h1.1v1.1h-1.1zM765.78,175.62h1.1v1.1h-1.1zM771.82,161.66h1.1v1.1h-1.1zM760.2,141.18h1.1v1.1h-1.1zM761.24,132.11h1.1v1.1h-1.1zM773.07,170.9h1.1v1.1h-1.1zM770.66,147.65h1.1v1.1h-1.1zM756.98,165.74h1.1v1.1h-1.1zM768.19,174.48h1.1v1.1h-1.1zM762.26,174.61h1.1v1.1h-1.1zM763.2,176.63h1.1v1.1h-1.1zM759.72,141.27h1.1v1.1h-1.1zM773.04,155.84h1.1v1.1h-1.1zM762.25,133.4h1.1v1.1h-1.1zM769.81,138.89h1.1v1.1h-1.1zM771.99,160.92h1.1v1.1h-1.1zM768.95,174.08h1.1v1.1h-1.1zM771.73,143.57h1.1v1.1h-1.1zM761.38,136.13h1.1v1.1h-1.1zM772.99,157.22h1.1v1.1h-1.1zM771.51,169.61h1.1v1.1h-1.1zM770.89,143.31h1.1v1.1h-1.1zM769.67,136.45h1.1v1.1h-1.1zM759.57,175.89h1.1v1.1h-1.1zM760.07,139.27h1.1v1.1h-1.1zM759.79,138.33h1.1v1.1h-1.1zM771.78,174.07h1.1v1.1h-1.1zM756.09,169.25h1.1v1.1h-1.1zM768,129.93h1.1v1.1h-1.1zM761.74,133.97h1.1v1.1h-1.1zM769.6,176.46h1.1v1.1h-1.1zM756.38,171.11h1.1v1.1h-1.1zM769.06,136.05h1.1v1.1h-1.1zM761.1,138.35h1.1v1.1h-1.1zM764.28,131.97h1.1v1.1h-1.1zM769.95,140.91h1.1v1.1h-1.1zM771.46,147.54h1.1v1.1h-1.1zM766.91,129.06h1.1v1.1h-1.1zM773.49,169.2h1.1v1.1h-1.1zM758.67,142.43h1.1v1.1h-1.1zM770.5,148.4h1.1v1.1h-1.1zM771.82,160.28h1.1v1.1h-1.1zM760.47,135.29h1.1v1.1h-1.1zM770.97,146.45h1.1v1.1h-1.1zM771.74,156.6h1.1v1.1h-1.1zM771.37,173.24h1.1v1.1h-1.1zM755.4,161.16h1.1v1.1h-1.1zM756.28,156.75h1.1v1.1h-1.1zM761.12,131.9h1.1v1.1h-1.1zM769.9,137.84h1.1v1.1h-1.1zM769.31,176.08h1.1v1.1h-1.1zM756.32,170.86h1.1v1.1h-1.1zM769.15,136.09h1.1v1.1h-1.1zM756.67,167.24h1.1v1.1h-1.1zM767.63,131.48h1.1v1.1h-1.1zM770.05,141.53h1.1v1.1h-1.1zM767.14,131.57h1.1v1.1h-1.1zM755.51,156.09h1.1v1.1h-1.1zM770.91,136.43h1.1v1.1h-1.1zM769.66,132.85h1.1v1.1h-1.1zM764.28,176.83h1.1v1.1h-1.1zM765.82,132.6h1.1v1.1h-1.1zM771.32,147.17h1.1v1.1h-1.1zM758.07,152.72h1.1v1.1h-1.1zM771.65,147.38h1.1v1.1h-1.1zM772.05,145.16h1.1v1.1h-1.1zM763.76,132.87h1.1v1.1h-1.1zM766.35,130.96h1.1v1.1h-1.1zM761.93,134.04h1.1v1.1h-1.1zM758.01,150h1.1v1.1h-1.1zM770.46,144.09h1.1v1.1h-1.1zM759.04,142.1h1.1v1.1h-1.1zM755.72,160.77h1.1v1.1h-1.1zM759.91,140.79h1.1v1.1h-1.1zM760.79,137.36h1.1v1.1h-1.1zM770.03,172.82h1.1v1.1h-1.1zM764.94,130.55h1.1v1.1h-1.1zM768.69,134.2h1.1v1.1h-1.1zM770.32,173.17h1.1v1.1h-1.1zM767.6,177.66h1.1v1.1h-1.1zM763.76,174.83h1.1v1.1h-1.1zM764.06,129.52h1.1v1.1h-1.1zM759.2,141.88h1.1v1.1h-1.1zM758.27,143.52h1.1v1.1h-1.1zM761.66,131.41h1.1v1.1h-1.1zM772.72,155.63h1.1v1.1h-1.1zM772.81,157.71h1.1v1.1h-1.1zM764.73,176.44h1.1v1.1h-1.1zM760.07,137.61h1.1v1.1h-1.1zM771.34,155.64h1.1v1.1h-1.1zM757.63,148.19h1.1v1.1h-1.1zM759.85,135.76h1.1v1.1h-1.1zM773,155.63h1.1v1.1h-1.1zM771.3,148.14h1.1v1.1h-1.1zM758.88,144.73h1.1v1.1h-1.1zM756.28,166.49h1.1v1.1h-1.1zM757.69,157.01h1.1v1.1h-1.1zM760.67,137.9h1.1v1.1h-1.1zM764.69,132.31h1.1v1.1h-1.1zM757.46,157.52h1.1v1.1h-1.1zM757.82,173.65h1.1v1.1h-1.1zM768.24,174.92h1.1v1.1h-1.1zM757.09,146.69h1.1v1.1h-1.1zM766.75,130.56h1.1v1.1h-1.1zM760.24,137.69h1.1v1.1h-1.1zM761,176.93h1.1v1.1h-1.1zM763.42,130.59h1.1v1.1h-1.1zM757.57,151.37h1.1v1.1h-1.1zM757.59,165.2h1.1v1.1h-1.1zM769.96,143.07h1.1v1.1h-1.1zM756,165.87h1.1v1.1h-1.1zM773.88,159.53h1.1v1.1h-1.1zM760.13,136.4h1.1v1.1h-1.1zM756.91,171.33h1.1v1.1h-1.1zM770.18,140.22h1.1v1.1h-1.1zM770.97,144.25h1.1v1.1h-1.1zM771.19,150.18h1.1v1.1h-1.1zM755.98,171.14h1.1v1.1h-1.1zM757.56,149.33h1.1v1.1h-1.1zM761.66,131.69h1.1v1.1h-1.1zM756.65,152.83h1.1v1.1h-1.1zM772.43,147.27h1.1v1.1h-1.1zM769.24,138.37h1.1v1.1h-1.1zM767.62,130.72h1.1v1.1h-1.1zM769.02,133.33h1.1v1.1h-1.1zM771.96,149.34h1.1v1.1h-1.1zM773.44,168.58h1.1v1.1h-1.1zM764.52,177.68h1.1v1.1h-1.1zM763.89,130.72h1.1v1.1h-1.1zM758.31,149.95h1.1v1.1h-1.1zM763.45,133.14h1.1v1.1h-1.1zM772.05,145.29h1.1v1.1h-1.1zM761.04,134.32h1.1v1.1h-1.1zM770.38,136.12h1.1v1.1h-1.1zM759.38,173h1.1v1.1h-1.1zM767.48,175.33h1.1v1.1h-1.1zM772.86,151.07h1.1v1.1h-1.1zM770.54,141.1h1.1v1.1h-1.1zM756.86,161.78h1.1v1.1h-1.1zM755.33,157.73h1.1v1.1h-1.1zM758.73,146.48h1.1v1.1h-1.1zM772.5,173.82h1.1v1.1h-1.1zM773.89,162.8h1.1v1.1h-1.1zM758.47,144.17h1.1v1.1h-1.1zM761.81,135.29h1.1v1.1h-1.1zM756.3,156.9h1.1v1.1h-1.1zM756.3,151.65h1.1v1.1h-1.1zM759.31,138.47h1.1v1.1h-1.1zM770.26,140.13h1.1v1.1h-1.1zM773.78,160.54h1.1v1.1h-1.1zM757.39,157.67h1.1v1.1h-1.1zM766.13,131.39h1.1v1.1h-1.1zM770.87,145.33h1.1v1.1h-1.1zM756.62,165.11h1.1v1.1h-1.1zM759.08,144.97h1.1v1.1h-1.1zM768.91,136.26h1.1v1.1h-1.1zM771.28,154.36h1.1v1.1h-1.1zM773.48,169.24h1.1v1.1h-1.1zM772.34,156.72h1.1v1.1h-1.1zM770.88,172.69h1.1v1.1h-1.1zM755.2,159.47h1.1v1.1h-1.1zM772.53,168.68h1.1v1.1h-1.1zM772.56,168.26h1.1v1.1h-1.1zM774.02,160.07h1.1v1.1h-1.1zM759.33,142.69h1.1v1.1h-1.1zM770.42,173.96h1.1v1.1h-1.1zM771.72,159.04h1.1v1.1h-1.1zM761.37,132.17h1.1v1.1h-1.1zM755.6,162.18h1.1v1.1h-1.1z" fill="#1a28ff"/>
<path d="M766.48,131.2C767.36,131.55 768.6,132.33 769.21,133.61C769.83,134.9 769.92,136.91 770.18,138.92C770.44,140.93 770.55,143.42 770.8,145.67C771.05,147.93 771.4,150.02 771.68,152.43C771.95,154.84 772.31,157.74 772.47,160.15C772.63,162.56 772.82,164.89 772.64,166.9C772.47,168.92 772.13,170.76 771.41,172.21C770.69,173.66 769.58,174.95 768.33,175.59C767.09,176.23 765.4,176.31 763.93,176.07C762.47,175.83 760.71,175.35 759.53,174.14C758.36,172.94 757.41,170.85 756.89,168.83C756.38,166.82 756.44,164.49 756.45,162.08C756.47,159.67 756.66,156.93 756.98,154.36C757.3,151.79 757.89,149.05 758.39,146.64C758.89,144.23 759.44,141.98 759.97,139.88C760.5,137.79 760.9,135.49 761.56,134.09C762.22,132.7 763.11,131.97 763.93,131.49C764.75,131.01 765.6,130.85 766.48,131.2Z" fill="url(#facsg)" filter="url(#fz)"/>
<rect x="780.3" y="121.3" width="97" height="58.4" fill="none" stroke="#333" stroke-width="1.1"/>
<path transform="translate(1172.3,61.8)" d="M0,0C4,10 10,13.2 20,14C32,15 42,18 48.4,35.3" fill="none" stroke="#000000" stroke-width="8.8" stroke-linecap="round"/>
<path transform="translate(1219.3,43.5)" d="M0,0C4,10 10,13.2 20,14C32,15 42,18 48.4,35.3" fill="none" stroke="#ffa020" stroke-width="8.8" stroke-linecap="round"/>
<path transform="translate(1287.5,42)" d="M0,0C4,10 10,13.2 20,14C32,15 42,18 48.4,35.3" fill="none" stroke="#ff0000" stroke-width="8.8" stroke-linecap="round"/>
<path transform="translate(1242.5,88.3)" d="M0,0C4,10 10,13.2 20,14C32,15 42,18 48.4,35.3" fill="none" stroke="#93004c" stroke-width="8.8" stroke-linecap="round"/>
<path transform="translate(1293.4,85.3)" d="M0,0C4,10 10,13.2 20,14C32,15 42,18 48.4,35.3" fill="none" stroke="#237d26" stroke-width="8.8" stroke-linecap="round"/>
<path transform="translate(1207.8,105.1)" d="M0,0C4,10 10,13.2 20,14C32,15 42,18 48.4,35.3" fill="none" stroke="#f7f724" stroke-width="8.8" stroke-linecap="round"/>
<path transform="translate(1172.3,126)" d="M0,0C4,10 10,13.2 20,14C32,15 42,18 48.4,35.3" fill="none" stroke="#4b0082" stroke-width="8.8" stroke-linecap="round"/>
<path transform="translate(1302.2,136)" d="M0,0C4,10 10,13.2 20,14C32,15 42,18 48.4,35.3" fill="none" stroke="#2e58a8" stroke-width="8.8" stroke-linecap="round"/>
<path transform="translate(1188.4,159.4)" d="M0,0C4,10 10,13.2 20,14C32,15 42,18 48.4,35.3" fill="none" stroke="#04a0c8" stroke-width="8.8" stroke-linecap="round"/>
<path transform="translate(1253.3,159.4)" d="M0,0C4,10 10,13.2 20,14C32,15 42,18 48.4,35.3" fill="none" stroke="#c00000" stroke-width="8.8" stroke-linecap="round"/>
<g transform="translate(1544,29.9)" stroke-linejoin="round" stroke-width="1.1"><polygon points="-1.9,0.5 -27.6,-26.2 -34.1,-20.6 -11.5,4.9 -11.5,39.4 -1.9,39.4" fill="#ff0000" stroke="#ff0000"/><polygon points="1.9,0.5 25.6,-27.2 32.2,-21.6 11.5,4.9 11.5,39.4 1.9,39.4" fill="#ff0000" stroke="#ff0000"/><polygon points="-48.2,-17.7 -41.3,-22.6 -15.2,5.5 -22.2,11.4" fill="#00b050" stroke="#00b050" stroke-width="1.1"/><polygon points="38.4,-24 45.7,-18.1 21.7,11.4 14.8,5.9" fill="#00b050" stroke="#00b050" stroke-width="1.1"/></g>
<g transform="translate(1646,29.9)" stroke-linejoin="round" stroke-width="1.1"><polygon points="-1.9,0.5 -27.6,-26.2 -34.1,-20.6 -11.5,4.9 -11.5,39.4 -1.9,39.4" fill="#ff66cc" stroke="#ff66cc"/><polygon points="1.9,0.5 25.6,-27.2 32.2,-21.6 11.5,4.9 11.5,39.4 1.9,39.4" fill="#ff66cc" stroke="#ff66cc"/><polygon points="-48.2,-17.7 -41.3,-22.6 -15.2,5.5 -22.2,11.4" fill="#ed7d31" stroke="#ed7d31" stroke-width="3.96"/><polygon points="38.4,-24 45.7,-18.1 21.7,11.4 14.8,5.9" fill="#ed7d31" stroke="#ed7d31" stroke-width="3.96"/></g>
<g transform="translate(1748,29.9)" stroke-linejoin="round" stroke-width="1.1"><polygon points="-1.9,0.5 -27.6,-26.2 -34.1,-20.6 -11.5,4.9 -11.5,39.4 -1.9,39.4" fill="#00b0f0" stroke="#00b0f0"/><polygon points="1.9,0.5 25.6,-27.2 32.2,-21.6 11.5,4.9 11.5,39.4 1.9,39.4" fill="#00b0f0" stroke="#00b0f0"/><polygon points="-48.2,-17.7 -41.3,-22.6 -15.2,5.5 -22.2,11.4" fill="#ff0000" stroke="#ff0000" stroke-width="1.1"/><polygon points="38.4,-24 45.7,-18.1 21.7,11.4 14.8,5.9" fill="#ff0000" stroke="#ff0000" stroke-width="1.1"/></g>
<g transform="translate(1544,101.2)" stroke-linejoin="round" stroke-width="1.1"><polygon points="-1.9,0.5 -27.6,-26.2 -34.1,-20.6 -11.5,4.9 -11.5,39.4 -1.9,39.4" fill="#f4b183" stroke="#f4b183"/><polygon points="1.9,0.5 25.6,-27.2 32.2,-21.6 11.5,4.9 11.5,39.4 1.9,39.4" fill="#f4b183" stroke="#f4b183"/><polygon points="-48.2,-17.7 -41.3,-22.6 -15.2,5.5 -22.2,11.4" fill="#c5e0b4" stroke="#c5e0b4" stroke-width="1.1"/><polygon points="38.4,-24 45.7,-18.1 21.7,11.4 14.8,5.9" fill="#c5e0b4" stroke="#c5e0b4" stroke-width="1.1"/></g>
<g transform="translate(1646,101.2)" stroke-linejoin="round" stroke-width="1.1"><polygon points="-1.9,0.5 -27.6,-26.2 -34.1,-20.6 -11.5,4.9 -11.5,39.4 -1.9,39.4" fill="#4472c4" stroke="#4472c4"/><polygon points="1.9,0.5 25.6,-27.2 32.2,-21.6 11.5,4.9 11.5,39.4 1.9,39.4" fill="#4472c4" stroke="#4472c4"/><polygon points="-48.2,-17.7 -41.3,-22.6 -15.2,5.5 -22.2,11.4" fill="#1f3864" stroke="#1f3864" stroke-width="1.1"/><polygon points="38.4,-24 45.7,-18.1 21.7,11.4 14.8,5.9" fill="#1f3864" stroke="#1f3864" stroke-width="1.1"/></g>
<g transform="translate(1748,101.2)" stroke-linejoin="round" stroke-width="1.1"><polygon points="-1.9,0.5 -27.6,-26.2 -34.1,-20.6 -11.5,4.9 -11.5,39.4 -1.9,39.4" fill="#ffff00" stroke="#ffff00"/><polygon points="1.9,0.5 25.6,-27.2 32.2,-21.6 11.5,4.9 11.5,39.4 1.9,39.4" fill="#ffff00" stroke="#ffff00"/><polygon points="-48.2,-17.7 -41.3,-22.6 -15.2,5.5 -22.2,11.4" fill="#7030a0" stroke="#7030a0" stroke-width="1.1"/><polygon points="38.4,-24 45.7,-18.1 21.7,11.4 14.8,5.9" fill="#7030a0" stroke="#7030a0" stroke-width="1.1"/></g>
<g transform="translate(1544,172.5)" stroke-linejoin="round" stroke-width="1.1"><polygon points="-1.9,0.5 -27.6,-26.2 -34.1,-20.6 -11.5,4.9 -11.5,39.4 -1.9,39.4" fill="#bf9000" stroke="#bf9000"/><polygon points="1.9,0.5 25.6,-27.2 32.2,-21.6 11.5,4.9 11.5,39.4 1.9,39.4" fill="#bf9000" stroke="#bf9000"/><polygon points="-48.2,-17.7 -41.3,-22.6 -15.2,5.5 -22.2,11.4" fill="#8faadc" stroke="#8faadc" stroke-width="1.1"/><polygon points="38.4,-24 45.7,-18.1 21.7,11.4 14.8,5.9" fill="#8faadc" stroke="#8faadc" stroke-width="1.1"/></g>
<g transform="translate(1646,172.5)" stroke-linejoin="round" stroke-width="1.1"><polygon points="-1.9,0.5 -27.6,-26.2 -34.1,-20.6 -11.5,4.9 -11.5,39.4 -1.9,39.4" fill="#262626" stroke="#262626"/><polygon points="1.9,0.5 25.6,-27.2 32.2,-21.6 11.5,4.9 11.5,39.4 1.9,39.4" fill="#262626" stroke="#262626"/><polygon points="-48.2,-17.7 -41.3,-22.6 -15.2,5.5 -22.2,11.4" fill="#948a1e" stroke="#948a1e" stroke-width="1.1"/><polygon points="38.4,-24 45.7,-18.1 21.7,11.4 14.8,5.9" fill="#948a1e" stroke="#948a1e" stroke-width="1.1"/></g>
<g transform="translate(1748,172.5)" stroke-linejoin="round" stroke-width="1.1"><polygon points="-1.9,0.5 -27.6,-26.2 -34.1,-20.6 -11.5,4.9 -11.5,39.4 -1.9,39.4" fill="#c00000" stroke="#c00000"/><polygon points="1.9,0.5 25.6,-27.2 32.2,-21.6 11.5,4.9 11.5,39.4 1.9,39.4" fill="#c00000" stroke="#c00000"/><polygon points="-48.2,-17.7 -41.3,-22.6 -15.2,5.5 -22.2,11.4" fill="#333f50" stroke="#333f50" stroke-width="1.1"/><polygon points="38.4,-24 45.7,-18.1 21.7,11.4 14.8,5.9" fill="#333f50" stroke="#333f50" stroke-width="1.1"/></g>
<g transform="translate(293.1,124.9) rotate(0)"><path d="M-78.1,0H-10" stroke="#000" stroke-width="4.4" fill="none"/><path d="M0,0Q-10,-5 -17.1,-14.8L-20.6,-14.8Q-16,-5 -12.3,0Q-16,5 -20.6,14.8L-17.1,14.8Q-10,5 0,0Z"/></g>
<g transform="translate(652.3,124.9) rotate(0)"><path d="M-78.2,0H-10" stroke="#000" stroke-width="4.4" fill="none"/><path d="M0,0Q-10,-5 -17.1,-14.8L-20.6,-14.8Q-16,-5 -12.3,0Q-16,5 -20.6,14.8L-17.1,14.8Q-10,5 0,0Z"/></g>
<g transform="translate(1056.1,124.9) rotate(0)"><path d="M-77.8,0H-10" stroke="#000" stroke-width="4.4" fill="none"/><path d="M0,0Q-10,-5 -17.1,-14.8L-20.6,-14.8Q-16,-5 -12.3,0Q-16,5 -20.6,14.8L-17.1,14.8Q-10,5 0,0Z"/></g>
<g transform="translate(1476.5,124.9) rotate(0)"><path d="M-78.3,0H-10" stroke="#000" stroke-width="4.4" fill="none"/><path d="M0,0Q-10,-5 -17.1,-14.8L-20.6,-14.8Q-16,-5 -12.3,0Q-16,5 -20.6,14.8L-17.1,14.8Q-10,5 0,0Z"/></g>
<g transform="translate(1652.5,355.8) rotate(90)"><path d="M-77.6,0H-10" stroke="#000" stroke-width="4.4" fill="none"/><path d="M0,0Q-10,-5 -17.1,-14.8L-20.6,-14.8Q-16,-5 -12.3,0Q-16,5 -20.6,14.8L-17.1,14.8Q-10,5 0,0Z"/></g>
<g transform="translate(1652.5,778) rotate(90)"><path d="M-77.6,0H-10" stroke="#000" stroke-width="4.4" fill="none"/><path d="M0,0Q-10,-5 -17.1,-14.8L-20.6,-14.8Q-16,-5 -12.3,0Q-16,5 -20.6,14.8L-17.1,14.8Q-10,5 0,0Z"/></g>
<g transform="translate(470.6,518.7) rotate(0)"><path d="M-78.7,0H-10" stroke="#000" stroke-width="4.4" fill="none"/><path d="M0,0Q-10,-5 -17.1,-14.8L-20.6,-14.8Q-16,-5 -12.3,0Q-16,5 -20.6,14.8L-17.1,14.8Q-10,5 0,0Z"/></g>
<g transform="translate(886.2,518.7) rotate(0)"><path d="M-78.2,0H-10" stroke="#000" stroke-width="4.4" fill="none"/><path d="M0,0Q-10,-5 -17.1,-14.8L-20.6,-14.8Q-16,-5 -12.3,0Q-16,5 -20.6,14.8L-17.1,14.8Q-10,5 0,0Z"/></g>
<g transform="translate(1465.5,518.7) rotate(0)"><path d="M-79.8,0H-10" stroke="#000" stroke-width="4.4" fill="none"/><path d="M0,0Q-10,-5 -17.1,-14.8L-20.6,-14.8Q-16,-5 -12.3,0Q-16,5 -20.6,14.8L-17.1,14.8Q-10,5 0,0Z"/></g>
<g transform="translate(855.3,899) rotate(180)"><path d="M-77.9,0H-10" stroke="#000" stroke-width="4.4" fill="none"/><path d="M0,0Q-10,-5 -17.1,-14.8L-20.6,-14.8Q-16,-5 -12.3,0Q-16,5 -20.6,14.8L-17.1,14.8Q-10,5 0,0Z"/></g>
<text x="105.5" y="236" font-size="28.1" text-anchor="middle">One 5-dose</text>
<text x="110" y="269.3" font-size="28.1" text-anchor="middle">vaccinated donor</text>
<text x="418" y="228.5" font-size="28.1" text-anchor="middle">Blood</text>
<text x="421.5" y="262.3" font-size="28.1" text-anchor="middle">mononuclear cells</text>
<text x="613" y="101" font-size="28.1" text-anchor="middle">Cell sorting</text>
<text x="796.6" y="235" font-size="28.1" text-anchor="middle">S trimer-specific</text>
<text x="797" y="268.3" font-size="28.1" text-anchor="middle">memory B cells</text>
<text x="1017" y="66.5" font-size="28.1" text-anchor="middle">Single-cell</text>
<text x="1017" y="99.5" font-size="28.1" text-anchor="middle">RNA sequencing</text>
<text x="1261" y="269.8" font-size="28.1" text-anchor="middle">684 paired Ab sequences</text>
<text x="1645" y="269.8" font-size="28.1" text-anchor="middle">Antibody structure library</text>
<text x="86" y="476.2" font-size="28.1" text-anchor="middle">1-RBD-up</text>
<text x="248.8" y="476.2" font-size="28.1" text-anchor="middle">2-RBD-up</text>
<text x="85.5" y="666.7" font-size="28.1" text-anchor="middle">3-RBD-up</text>
<text x="248.8" y="666.7" font-size="28.1" text-anchor="middle">3-RBD-down</text>
<text x="173" y="722.7" font-size="28.1" text-anchor="middle">Structure mode of</text>
<text x="172" y="755.8" font-size="28.1" text-anchor="middle">SARS-CoV-2 WT&amp;Omicron</text>
<text x="176" y="788.8" font-size="28.1" text-anchor="middle">and MERS-CoV S</text>
<text x="427.3" y="454.6" font-size="28.1" text-anchor="middle">Structure</text>
<text x="431" y="488.2" font-size="28.1" text-anchor="middle">modeling</text>
<text x="644.8" y="350.8" font-size="28.1" text-anchor="middle">1083 real epitopes</text>
<text x="644.3" y="550.8" font-size="28.1" text-anchor="middle">9608 virtual epitopes</text>
<text x="644.6" y="765.1" font-size="28.1" text-anchor="middle">Epitope screening library</text>
<text x="1159" y="380.8" font-size="28.1" text-anchor="middle">Antigenicity similarity</text>
<text x="1163.2" y="415" font-size="28.1" text-anchor="middle">calculated by CE-BLAST</text>
<text x="1135" y="689.5" font-size="28.1" text-anchor="middle">132 potential broad spectrum epitopes</text>
<text x="1644.8" y="689.5" font-size="28.1" text-anchor="middle">Virtual screening</text>
<text x="421.6" y="981" font-size="28.1" text-anchor="middle">86 potential cross-reactive antibodies</text>
<g transform="translate(110,876.5)" stroke-linejoin="round" stroke-width="1.1"><polygon points="-1.9,0.5 -27.6,-26.2 -34.1,-20.6 -11.5,4.9 -11.5,39.4 -1.9,39.4" fill="#ff0000" stroke="#ff0000"/><polygon points="1.9,0.5 25.6,-27.2 32.2,-21.6 11.5,4.9 11.5,39.4 1.9,39.4" fill="#ff0000" stroke="#ff0000"/><polygon points="-48.2,-17.7 -41.3,-22.6 -15.2,5.5 -22.2,11.4" fill="#00b050" stroke="#00b050" stroke-width="1.1"/><polygon points="38.4,-24 45.7,-18.1 21.7,11.4 14.8,5.9" fill="#00b050" stroke="#00b050" stroke-width="1.1"/></g>
<g transform="translate(235,876.5)" stroke-linejoin="round" stroke-width="1.1"><polygon points="-1.9,0.5 -27.6,-26.2 -34.1,-20.6 -11.5,4.9 -11.5,39.4 -1.9,39.4" fill="#00b0f0" stroke="#00b0f0"/><polygon points="1.9,0.5 25.6,-27.2 32.2,-21.6 11.5,4.9 11.5,39.4 1.9,39.4" fill="#00b0f0" stroke="#00b0f0"/><polygon points="-48.2,-17.7 -41.3,-22.6 -15.2,5.5 -22.2,11.4" fill="#ff0000" stroke="#ff0000" stroke-width="1.1"/><polygon points="38.4,-24 45.7,-18.1 21.7,11.4 14.8,5.9" fill="#ff0000" stroke="#ff0000" stroke-width="1.1"/></g>
<g transform="translate(360.5,876.5)" stroke-linejoin="round" stroke-width="1.1"><polygon points="-1.9,0.5 -27.6,-26.2 -34.1,-20.6 -11.5,4.9 -11.5,39.4 -1.9,39.4" fill="#f4b183" stroke="#f4b183"/><polygon points="1.9,0.5 25.6,-27.2 32.2,-21.6 11.5,4.9 11.5,39.4 1.9,39.4" fill="#f4b183" stroke="#f4b183"/><polygon points="-48.2,-17.7 -41.3,-22.6 -15.2,5.5 -22.2,11.4" fill="#c5e0b4" stroke="#c5e0b4" stroke-width="1.1"/><polygon points="38.4,-24 45.7,-18.1 21.7,11.4 14.8,5.9" fill="#c5e0b4" stroke="#c5e0b4" stroke-width="1.1"/></g>
<g transform="translate(485.5,876.5)" stroke-linejoin="round" stroke-width="1.1"><polygon points="-1.9,0.5 -27.6,-26.2 -34.1,-20.6 -11.5,4.9 -11.5,39.4 -1.9,39.4" fill="#ffff00" stroke="#ffff00"/><polygon points="1.9,0.5 25.6,-27.2 32.2,-21.6 11.5,4.9 11.5,39.4 1.9,39.4" fill="#ffff00" stroke="#ffff00"/><polygon points="-48.2,-17.7 -41.3,-22.6 -15.2,5.5 -22.2,11.4" fill="#7030a0" stroke="#7030a0" stroke-width="1.1"/><polygon points="38.4,-24 45.7,-18.1 21.7,11.4 14.8,5.9" fill="#7030a0" stroke="#7030a0" stroke-width="1.1"/></g>
<g transform="translate(610,876.5)" stroke-linejoin="round" stroke-width="1.1"><polygon points="-1.9,0.5 -27.6,-26.2 -34.1,-20.6 -11.5,4.9 -11.5,39.4 -1.9,39.4" fill="#bf9000" stroke="#bf9000"/><polygon points="1.9,0.5 25.6,-27.2 32.2,-21.6 11.5,4.9 11.5,39.4 1.9,39.4" fill="#bf9000" stroke="#bf9000"/><polygon points="-48.2,-17.7 -41.3,-22.6 -15.2,5.5 -22.2,11.4" fill="#8faadc" stroke="#8faadc" stroke-width="1.1"/><polygon points="38.4,-24 45.7,-18.1 21.7,11.4 14.8,5.9" fill="#8faadc" stroke="#8faadc" stroke-width="1.1"/></g>
<g transform="translate(735,876.5)" stroke-linejoin="round" stroke-width="1.1"><polygon points="-1.9,0.5 -27.6,-26.2 -34.1,-20.6 -11.5,4.9 -11.5,39.4 -1.9,39.4" fill="#c00000" stroke="#c00000"/><polygon points="1.9,0.5 25.6,-27.2 32.2,-21.6 11.5,4.9 11.5,39.4 1.9,39.4" fill="#c00000" stroke="#c00000"/><polygon points="-48.2,-17.7 -41.3,-22.6 -15.2,5.5 -22.2,11.4" fill="#333f50" stroke="#333f50" stroke-width="1.1"/><polygon points="38.4,-24 45.7,-18.1 21.7,11.4 14.8,5.9" fill="#333f50" stroke="#333f50" stroke-width="1.1"/></g>
<defs><filter id="pblur" x="-10%" y="-10%" width="120%" height="120%"><feGaussianBlur stdDeviation="2.2"/></filter><radialGradient id="spg" cx="38%" cy="35%" r="65%"><stop offset="0" stop-color="#a8ff9a"/><stop offset="0.45" stop-color="#14e014"/><stop offset="1" stop-color="#0a8f0a"/></radialGradient><radialGradient id="spr" cx="38%" cy="35%" r="65%"><stop offset="0" stop-color="#ff9a8a"/><stop offset="0.45" stop-color="#f01010"/><stop offset="1" stop-color="#9a0808"/></radialGradient><radialGradient id="spy" cx="38%" cy="35%" r="65%"><stop offset="0" stop-color="#ffffb0"/><stop offset="0.45" stop-color="#f2f210"/><stop offset="1" stop-color="#a8a000"/></radialGradient></defs>
<rect x="2.6" y="320.6" width="349" height="358.9" fill="none" stroke="#222" stroke-width="1.2"/>
<path d="M94.68,323.21C97.06,322.84 102.94,323.21 105.69,326.51C108.44,329.82 111.56,337.34 111.19,343.03C110.82,348.72 102.94,356.97 103.49,360.64C104.04,364.31 110.82,363.58 114.49,365.05C118.16,366.51 122.75,366.51 125.5,369.45C128.26,372.38 131.38,378.26 131.01,382.66C130.64,387.06 127.16,392.57 123.3,395.87C119.45,399.17 111.93,399.17 107.89,402.48C103.85,405.78 100.92,411.28 99.08,415.69C97.25,420.09 98.71,424.49 96.88,428.9C95.05,433.3 90.64,439.72 88.07,442.11C85.5,444.49 85.14,445.41 81.47,443.21C77.8,441.01 69.36,434.95 66.05,428.9C62.75,422.84 63.85,412.02 61.65,406.88C59.45,401.74 56.15,401.38 52.84,398.07C49.54,394.77 43.3,390.73 41.83,387.06C40.37,383.39 41.1,378.99 44.04,376.05C46.97,373.12 55.41,373.49 59.45,369.45C63.49,365.41 64.59,355.69 68.26,351.83C71.93,347.98 77.8,345.6 81.47,346.33C85.14,347.06 87.71,357.52 90.27,356.24C92.84,354.95 96.7,343.21 96.88,338.62C97.06,334.04 91.74,331.28 91.38,328.72C91.01,326.15 92.29,323.58 94.68,323.21Z" fill="#8fe88f" opacity="0.55" filter="url(#pblur)"/>
<path d="M92.53,340.73C94.01,340.46 97.65,340.73 99.36,343.1C101.07,345.48 103,350.9 102.77,354.99C102.55,359.09 97.65,365.03 97.99,367.68C98.34,370.32 102.55,369.79 104.82,370.85C107.1,371.9 109.94,371.9 111.65,374.02C113.35,376.13 115.29,380.36 115.06,383.53C114.83,386.7 112.67,390.66 110.28,393.04C107.89,395.42 103.23,395.42 100.72,397.8C98.22,400.18 96.4,404.14 95.26,407.31C94.13,410.48 95.04,413.65 93.9,416.82C92.76,419.99 90.03,424.62 88.44,426.33C86.85,428.05 86.62,428.71 84.34,427.13C82.07,425.54 76.84,421.18 74.79,416.82C72.74,412.46 73.42,404.67 72.06,400.97C70.69,397.27 68.64,397 66.6,394.63C64.55,392.25 60.68,389.34 59.77,386.7C58.86,384.06 59.32,380.89 61.14,378.77C62.96,376.66 68.19,376.92 70.69,374.02C73.19,371.11 73.88,364.11 76.15,361.34C78.43,358.56 82.07,356.84 84.34,357.37C86.62,357.9 88.21,365.43 89.8,364.51C91.4,363.58 93.79,355.13 93.9,351.82C94.01,348.52 90.71,346.54 90.49,344.69C90.26,342.84 91.06,340.99 92.53,340.73Z" fill="#1fb81f" opacity="0.5" filter="url(#pblur)"/>
<path d="M70.9,394.1q3.9,1.7 0.4,4.2M76.3,438.2q1.4,1.7 -0.4,3M91.7,376.9q0.7,-1.9 -0.4,-3.5M120.5,395.6q-0.3,3 2.5,1.9M84.6,401.6q-3.9,2.3 -2,6.3M65.8,376.7q0.5,2.3 2,4M86.3,352.2q-3,2.8 0,5.5M120.3,369.3q-2.7,2.8 0.5,5M111.3,388q-4.4,2.6 0.1,5M100,383.5q-0.1,2.6 -2.5,3.6M128.2,386.1q-1.4,2.3 -0.9,4.9M123.6,388.5q1.2,2.9 -1.9,2.9M95.6,430.1q-2.4,-2.3 0.7,-3.7M76.4,375.4q-0.5,3.2 2.3,4.6M52.1,383.9q3.4,-0.6 2.6,2.7M83.5,385q-0.6,-1.8 -2.5,-1.8M58,377.7q2.6,2.3 0.1,4.6M122.6,389.2q-1.6,3.1 -1.7,6.7M76.6,430.9q-2.6,5.6 -6.7,1M104.8,329.3q3.5,0.9 4.8,4.4M129.4,381.3q1.5,3.8 -2.6,4.2M95.7,406.6q3.1,-1.9 0.4,-4.3M47.5,388.8q-4.7,2.2 -1.1,5.9M101.8,382.4q-2.5,2.7 -0.6,5.9M56.3,399.4q2.6,2.1 1.1,5M90.9,425.6q-3.9,0.3 -5.6,3.9M113.3,369.4q-0.5,4 2.7,6.4M108,397.6q-0.4,1.6 0.1,3.2M68.9,417.9q2.4,0.9 2.9,-1.7M52.7,376.6q3.2,1.7 0.6,4.1M66.3,379.6q0.1,1.9 1.5,3M102.3,408.2q-3.2,1 -5.2,3.7M110.6,364.2q3.8,4 -1.1,6.6M76.3,363q2.1,1.9 4.6,0.4M100.7,396.2q-2.1,1.3 -2.1,3.8M93,422.9q-2.4,2.2 -3.2,-1M98.9,414.8q-1.4,0.7 -2.7,1.6M88.2,354.8q-0.4,1.8 1.1,3M128.6,380.3q3,-0.2 4.4,-2.8M103.6,350.9q-1.7,1.9 -4.1,1.2M66.3,373.7q2.6,1.9 3.6,4.9M113.5,386.1q-2.9,-5.2 -6.9,-0.7M94.1,387.7q-0.3,-3.7 -3.3,-1.5M62.8,376.1q-0.3,1.9 -0.8,3.9M86.1,375.4q4.5,3.5 -0.5,6.2M83,435.1q-3,2.2 -3.6,5.9M56.1,393.4q-4.4,3.6 0.3,6.6M83.1,370.4q-0.5,3.2 2.7,3.6M74.9,396.6q1.6,-2.5 3.5,-4.9M75.5,424.8q-5.6,-2.2 -1.3,-6.4M72.3,430.9q-3.4,-1.1 -1,-3.7M74.6,405.2q1.5,-1.2 2.4,-3M89.9,419.4q4.9,1.6 5.2,-3.6M75.1,360.3q-1.4,2 -1,4.5M103.7,388.7q2.6,1 1.2,3.4M67.8,353.2q0.4,2.6 2.8,1.5M71.7,412.2q1.6,-2.7 -0.2,-5.2M111.2,386.2q3.8,-3.3 -0.7,-5.6M60.8,397.2q-1.6,2 -2.1,4.5M66.8,400.5q-2.9,-0.9 -5.8,-2.1M48.3,382.8q-1.6,-6.2 4.7,-5M72.3,421.7q-1.2,2.7 1.7,2.9M77.1,422.7q-3.9,4.5 1.9,5.5M88,393.3q-2,-4 2.4,-4.4M128.3,380.1q1.6,1.9 1.2,4.3M82.1,390.2q2.7,-0.1 2,-2.8M54.7,390.9q-0.8,-4.3 -5.1,-4.6M85,350.8q-3.7,2.6 0.3,4.6M103.1,366.1q3.6,2.8 5.6,-1.3M96.2,393.9q-2.6,-2.3 -5.1,0.1M94.4,420.1q1.3,2.8 0,5.6M98.8,325.9q-1,3 -0.2,6M115.3,380.7q0.4,-5.1 -4.7,-4.7M108,343.2q-0.4,2.1 -2.5,2.9M82.5,381.6q-1.2,-1.7 0.1,-3.4M55.3,388.2q-0.3,1.9 -1.4,3.3M58.5,395.8q-0.3,3.5 2.7,5.4M106.3,385.7q-2.8,-2.1 -3.9,-5.5M106.6,404.1q3.3,2.4 1.2,5.9M126.9,374.2q1.7,0.7 3.3,1.5M82.3,367.9q4.7,4.1 -1,6.7M90,391.3q2.2,-0.9 3.1,1.2M117.4,390.6q-1.3,2.3 0.8,3.9M103.1,364.9q2.8,0.1 4.6,2.2M83.8,400.5q-0.5,6.4 5.3,3.7M98.8,382.2q0.6,2.4 -1.9,2.5M89.4,392.9q-1.1,2.6 -3.1,0.7M117.8,381.6q-4.2,1 -1.2,4.1M93.3,411.9q1.3,1.7 -0.2,3.4M62.2,395.7q2.2,2.8 3.3,6.2M100.1,350.3q1.8,2.1 4.3,0.9M70.8,410.4q0.3,2.5 0.5,5.1M85.9,381.7q-3.8,1.5 -4.1,5.5M95.9,378.5q-0.6,3.8 -4.1,5.4M81.1,375q-3.6,1.7 -3.5,5.7M58.8,388.6q-2.9,0.8 -2.8,3.9M90.3,385q5,1 3.3,-3.9M81.8,442q0.2,2.7 1.3,5.2M88.5,440.4q4,1.7 2.3,5.7M73.9,396.3q1.6,2.6 4.4,3.4M86.4,383.2q0,3.6 -3.6,3.8M105,367.9q1.3,2.2 -0.5,4.1M58.4,370.4q4.5,2.7 0.5,6M54.7,371.7q-1,2.3 1.3,3.3M89.4,438.7q2.3,0.4 1.9,2.8M81.5,358.6q-0.7,-3.8 2.9,-2.5" fill="none" stroke="#22c422" stroke-width="1.2" stroke-linecap="round"/>
<path d="M43.2,386.6q3.8,0.6 1.5,3.7M64.5,414.2q0.9,2.8 -2,2.8M83.7,440.9q1.2,3.7 4.9,2.4M74.7,397.9q-4.9,1.9 -5.4,-3.3M107.6,338.8q-2.7,2.8 -4.3,-0.7M79,362.8q1.3,2.6 1.8,5.5M95.5,380.9q0.2,-2.7 -1.6,-4.7M68.7,404.6q-0.1,3.8 3.2,5.8M82,356.2q-2.3,1.5 -4.7,2.8M105,391.7q-1.6,-2 0.8,-3M76.9,418.2q-0.3,4.9 -4.9,3.2M72.3,373.8q2.9,1.3 3.4,-1.9M47.7,387.9q2.5,-3.6 6.4,-1.8M85.8,364q-0.4,4.4 -4.4,2.6M93.8,425.4q-0.7,3.6 2.5,5.3M96.4,426q4.3,-3.4 -0.4,-6.2M77.8,405.4q-3.2,4 1.7,5.5M101.8,392.8q-2.9,-0.5 -1.4,-3M94,364.1q3.8,2.8 0.3,6M89.9,367.6q2.8,0.8 1.6,3.5M113.4,376.9q-3,1.2 -2.1,4.3M123.3,375.8q1.2,2.2 -0.4,4.2M87.8,388.5q-0.1,3.9 3.2,6.1M79.5,408.7q1.6,-1.5 3.6,-2.4M98.9,386.1q2.7,1.8 4.1,4.7M83.9,410.9q-2.2,5.5 3.7,5.5M43.4,380.9q1.2,2.9 -1.8,3.8M105.8,394.6q3.1,0.9 1.6,3.8M122.6,377.2q-2.4,2.4 -5.7,3.1M105.6,366.4q-0.2,1.8 -1.5,3.1M55.4,398.5q-2.6,5.1 3.1,5.1M71.5,358.4q-0.2,-2 -0.9,-3.9M54,380.6q-2.8,0.3 -1.7,2.9M85.2,442.6q-1,3.2 -3.7,5.2M88.3,373.7q2.2,-0.4 3.5,-2.3M107.1,394.9q2.5,1.1 0.7,3.2M74.7,388.7q-1.9,0.9 -2.2,3M92.4,431.6q0.7,-1.6 0.9,-3.4M68.5,362.2q1.8,-2.8 5,-3.8M105.2,346.8q-2.7,3.1 0.5,5.6M101.3,356.4q-2.9,-1.8 -3,1.6M108.2,387q1,5.1 -4.2,4.4M117.9,395.6q6.3,1.7 2,6.6M92.6,388.4q3.1,-0.6 3,2.6M82.4,412.6q4.4,3 0.4,6.5M79.2,352.8q-1.2,2.1 -0.9,4.5M103.5,366.7q2,-1.4 3.7,0.4M92.4,401.1q0.5,2 2.6,2M82,425.8q-2.1,3.2 -0.3,6.5M77,351.8q5.3,-0.5 3.1,4.4M78.5,380.6q1.5,1.5 2.5,3.4M66.8,408.7q-0.4,4.5 -4.9,4.2M75.2,417.2q0.5,-1.7 1.1,-3.3M76,362.6q0.3,1.9 -0.7,3.6M110.3,365.3q-0.1,4.9 4.8,4.5M93.8,407.4q5.3,2.4 0.6,5.8M97.2,372.5q-4.8,2.4 -1,6.2M66.2,382.6q3,-1.9 5.4,0.7M102.5,351.4q-2.8,1.4 -4.4,-1.2M71.5,405.9q-0.9,2 -2.8,3.1M117.5,384.7q-1.3,1.9 -2.9,3.6M64.5,384.1q-2.1,1.9 -0.8,4.5M92.4,373.7q5.2,-0.2 3.9,4.8M54.6,398.2q1.5,2.3 0.7,4.9M89.9,404.2q3.2,-3.7 5.2,0.8M104.7,353.3q-0.6,2 -2.4,3.1M87,356.4q0.2,2.8 -0.5,5.5M72.4,385.3q0.8,1.4 0.8,2.9M67.6,373.1q-0.1,1.9 1.6,2.7M110.2,343.8q1.2,1.6 -0.1,3.2M107.5,366.4q-2,0.3 -3,2M96.3,325q-3.4,-0.7 -5.4,-3.6M100.9,384.4q-1.7,1.2 -2.4,3.2M76.6,359.1q-2.9,0.2 -5.5,-1.3M70.6,421.4q4.5,3.5 -0.7,5.8M67.3,404.8q3,-2.3 6.3,-0.6M67.3,357.1q2.7,0.4 1.6,2.9M111.5,376.1q3.9,0.9 1.8,4.4M78.8,387.6q1.5,4.6 -3.2,3.7M85.5,399.1q-2.6,-1.2 -2.7,1.7M92.5,389.4q-0.7,4.7 3.9,5.5M89.5,396.4q4.1,-2.3 0.5,-5.3M48.6,389.2q-4.2,1.6 -3.2,5.9M116.2,372.1q-2.1,0.4 -1.7,2.5M45.8,390.1q-3,-0.2 -1.6,-2.9M94.7,412.2q0.6,-1.4 1.3,-2.8M98.7,335.8q1.2,-2.8 4.2,-3.4M73.6,429.3q2.5,1.3 2.5,4.2M100.9,371.3q-1.9,-4.6 3,-4.3M86.2,381q2.7,3.5 -0.1,6.9M59.2,399.2q1,2.8 -2,2.6M68.9,352.5q0.8,1.3 1.8,2.5M97.4,338.2q-2.7,-0.1 -2.1,2.5M58.5,401q-5.9,1 -2.7,6.1M88.8,357.8q0.9,2.1 0.7,4.4M73.5,386.4q2.8,1.5 1.5,4.4M74.5,375.6q-0.3,2.9 -2.2,5M75.4,431q-2.8,2.5 -0.6,5.6M75.7,426.9q2.7,-1.5 5.8,-1.6M105.4,364q-2.2,-1 -4,0.6M103.5,406q1.9,2.2 0.2,4.5M65.4,381.9q-2.2,0.9 -0.9,3M84,395.8q3,-1.8 0.5,-4.2M70.7,394.4q-0.8,2.4 -1.1,4.8M101.3,406.7q-2.1,0 -4.1,0.8M62,392.8q-0.6,1.6 -0.8,3.3M64.3,409q-3.3,3.3 -6.9,0.2M101.6,398.6q-4.4,-1.6 -1,-4.9M90.2,438.5q-1.2,1.6 -2.9,2.6M74.1,395.9q-6.7,-0.1 -3.3,5.7M65.2,367.1q-1,1.6 -1.3,3.6M107.2,337q-3,0.6 -4.3,3.4M62.6,381q-0.4,2.8 -3.1,3.5M101.9,366.3q0.5,2.1 2.5,2.5M99.6,380.3q-4.8,1.7 -5.5,-3.3M53.3,395.6q-1.9,3.1 0.8,5.6M91.2,393.1q-5.4,1.8 -1.2,5.6M81.4,357.5q-2.4,3 1.1,4.6M85,371q2.3,6.3 -4.4,5.5" fill="none" stroke="#0f9a0f" stroke-width="1.2" stroke-linecap="round"/>
<path d="M82.2,390.4q4,0.6 2.9,4.5M84.3,396.9q-1.8,0.4 -3.4,1.2M98.4,394.7q-3.3,-0.7 -5.7,1.7M82.6,356.6q-4.7,2.9 -0.9,6.9M71.9,360.6q-0.5,5.5 -5.7,3.6M95.5,392.4q4.8,-0.7 2.9,3.8M71.2,358.8q3.6,-0.7 4.5,2.9M107.8,370.2q2.2,-1.2 4.1,-2.8M82,362.9q-4.4,1.9 -0.8,5M98.6,381.1q1,1.3 2.4,2.3M79,418.1q0.8,2.2 2.7,3.7M97.5,361.7q-1.3,1.8 -1,4M65.6,416.7q-0.6,1.6 -0.8,3.3M102.9,347.1q0.8,1.3 1.3,2.7M71.7,417.8q-0.1,3.2 3,4.1M85.8,437.1q2.4,2.2 0.9,5M87.7,432.1q2.4,-5.2 -3.2,-6M62.1,405.7q1.4,4.6 -3.4,4.3M115.4,397.1q1.1,2.6 -1.5,3.6M48.7,385q1,1.5 0.8,3.4M86,396.6q2.3,-0.6 4.4,-1.6M69.7,386.9q-2.4,3.1 -0.8,6.7M80.1,380.5q-1,1.7 -1.8,3.6M52.9,376.4q1.7,2.2 2,5M97.6,366.3q-0.2,-2.8 -2.1,-4.8M126.7,383.5q-1.4,1.7 -0.4,3.8M79.8,398q-2.2,1.9 -3.2,-0.9M114.1,367.5q3.9,1.1 4.6,5.2M58.2,401.7q1.7,2.1 2.2,4.7M85.1,405.4q-1.4,-1.9 0.5,-3.3M73.7,410.3q1.7,2.5 4.3,3.9M102.2,393.4q2.9,2.2 0.2,4.6M78.4,422.4q-5.4,0.4 -3.3,5.4M105.7,334.9q-3.6,-0.4 -6.7,1.3M85.9,436.8q-4,3.5 1.1,5.1M90.7,365.5q-1.8,3 -3.3,6.1M122.5,388.4q0.3,3.4 -3,4.3M77.8,382.9q-5.9,0 -3.7,5.4M59.8,399.1q-0.4,-2.7 2.3,-2.2M44.8,378.6q3.8,-0.6 3.8,3.3M70.4,381.2q-2.3,2.7 -1.6,6.1M79.8,406.7q0.2,3 0.4,6M78.5,366.9q1.5,-0.4 3.1,-0.6M91.4,379.8q1.2,3.9 5.3,4.4M84,382q1,1.6 1.9,3.2M68.4,403.7q-1.2,2 0.3,3.9M72.8,430.2q0.3,1.9 0.2,3.7M108.6,387.3q2.5,2.1 0,4.3M97.2,358.2q2.4,2.5 4.2,5.5M79.2,399q0.9,-6.6 6.4,-2.8M91.4,430.8q3.5,2.5 1.7,6.3M73.2,390.4q-1,1.8 -0.5,3.8M88.9,420.4q2.4,2.1 2.9,5.2M94.4,392.7q-3.3,0.6 -6.7,1.1M108.2,375.6q0.3,-2.7 2.6,-4.3M92.9,385q-1.1,-2.3 -3.3,-3.4M89.7,362.6q-1.5,-1.2 -2.7,-2.6M77.7,427.3q2.3,-2.5 5,-0.3M106.7,346.9q1.6,2.1 0.3,4.3M75.2,396.7q3.1,-0.4 2.3,2.6M104.6,351.4q-2.1,2.6 0.9,4M99.7,350.3q3,1.5 1.5,4.4M66.9,376.1q-2.5,-0.1 -3.5,2.3M101.4,341.9q1.4,2.1 2.4,4.4M55.8,386.9q-0.6,4.1 3.2,2.7M65.7,395.2q3.3,0.5 5.3,3.1M80.2,377.3q1,-1.3 1.7,-2.8M73.6,423q-0.1,3.1 -2.1,5.4M104.5,382.5q0.6,-2.5 1.5,-4.8M99.9,368.5q0.9,2.5 1.2,5.2M75.5,409.2q1.1,-5.1 -3.9,-3.5M103.3,366.9q3.4,1.5 2.8,5.1M67.4,390.5q0.6,2.2 2.8,1.4M115.1,388.5q4.6,-1.5 5.2,3.3M104.5,393.9q-1.1,3.3 1.1,6M62.7,377.6q-0.4,-3.4 -0.9,-6.7M101.3,331.4q-2.1,-3.6 -6.3,-3M90.2,375.6q-5,-0.4 -3.3,4.3M96.1,418.7q3.2,-0.9 3.5,2.4M84.5,417.2q2.6,2.6 0.4,5.6M93,392q-0.7,1.5 -1.2,3M101.6,351.1q-2.7,2.1 0.2,3.8M106.5,404.4q0.8,3.3 -2.3,4.8M107.5,348.6q0.6,3 1.2,6.1M56.3,384.3q1.7,2.7 -1.3,4M69.8,389.8q0.4,-2.4 -1.3,-4.2M101.2,383.6q2.6,1.4 2.1,4.3M62.4,397.4q1.6,1.8 2.7,3.9M88.4,381.8q1.5,-2.1 3.3,-3.9M80.1,380.3q1.3,-5.5 -4.3,-4.5M55.2,389.4q-2.4,-2.5 -1.1,-5.8M83.3,397q1.4,3.2 2.7,6.4M92.1,352.6q-1.1,3.7 2.3,5.5M97.3,333.9q-0.8,2.7 -0.7,5.5M93.8,421.8q0.1,2.4 1.5,4.3M93.4,384.8q-0.1,3.4 2.4,5.6M104.2,363.7q0.2,2.2 -0.5,4.2M66.9,383.8q-3.1,0.9 -5.2,-1.6M74.3,350.7q-2.6,-0.1 -2.2,2.4M78.7,370q1.3,2.1 2.9,3.9M68.2,370.2q-0.3,2.8 -2.6,4.4M102.8,406.2q0.6,2.5 -0.6,4.8M83.2,431.3q1.2,2.7 -0.6,5.1M56.4,380q0.5,2.8 -2.2,3.7M58.3,399.4q0.7,2.8 -0.7,5.2M103.8,368.9q4,2.6 0.3,5.7M106.3,329.4q2.4,2 -0.6,3.1M98.9,343.4q-2.8,2.3 -4.4,-1M79.5,417.9q1.1,2.4 -1,4M80.6,392.7q1.7,-2.5 4.4,-1.3M63.4,410q1.4,2.4 4.1,3.1M96.8,342.7q-2.4,-0.4 -3.2,1.9M102.8,388.9q0.4,3.8 -3.4,3M95.5,384.3q-2.4,2.2 -1.3,5.3M67.7,377.9q0.9,3.2 -0.6,6.2" fill="none" stroke="#5fe05f" stroke-width="1.2" stroke-linecap="round"/>
<path d="M230.09,330.92C231.56,326.88 237.43,325.6 240,327.61C242.57,329.63 244.77,338.07 245.5,343.03C246.24,347.98 243.12,354.04 244.4,357.34C245.69,360.64 249.91,363.76 253.21,362.84C256.51,361.93 259.81,354.77 264.22,351.83C268.62,348.9 276.51,348.16 279.63,345.23C282.75,342.29 281.1,335.32 282.93,334.22C284.77,333.12 288.81,335.32 290.64,338.62C292.47,341.93 293.94,349.27 293.94,354.04C293.94,358.81 292.29,363.58 290.64,367.25C288.99,370.92 285.5,370.92 284.03,376.05C282.57,381.19 284.03,391.83 281.83,398.07C279.63,404.31 274.13,407.61 270.82,413.49C267.52,419.36 266.79,428.16 262.02,433.3C257.25,438.44 246.97,444.31 242.2,444.31C237.43,444.31 235.59,439.17 233.39,433.3C231.19,427.43 230.46,416.42 228.99,409.08C227.52,401.74 227.89,394.77 224.59,389.27C221.28,383.76 212.29,380.27 209.17,376.05C206.05,371.83 204.4,367.25 205.87,363.94C207.34,360.64 213.76,358.26 217.98,356.24C222.2,354.22 229.17,356.05 231.19,351.83C233.21,347.61 228.62,334.95 230.09,330.92Z" fill="#c99ab0" opacity="0.55" filter="url(#pblur)"/>
<path d="M238.6,344.44C239.51,341.54 243.15,340.61 244.75,342.07C246.34,343.52 247.7,349.6 248.16,353.16C248.61,356.73 246.68,361.09 247.48,363.47C248.27,365.84 250.89,368.09 252.94,367.43C254.98,366.77 257.03,361.62 259.76,359.5C262.49,357.39 267.38,356.86 269.32,354.75C271.25,352.63 270.23,347.61 271.37,346.82C272.5,346.03 275.01,347.61 276.14,349.99C277.28,352.37 278.19,357.65 278.19,361.09C278.19,364.52 277.17,367.96 276.14,370.6C275.12,373.24 272.96,373.24 272.05,376.94C271.14,380.64 272.05,388.3 270.68,392.8C269.32,397.29 265.91,399.66 263.86,403.89C261.81,408.12 261.35,414.46 258.4,418.16C255.44,421.86 249.07,426.09 246.11,426.09C243.15,426.09 242.02,422.39 240.65,418.16C239.29,413.93 238.83,406.01 237.92,400.72C237.01,395.44 237.24,390.42 235.19,386.45C233.14,382.49 227.57,379.98 225.63,376.94C223.7,373.9 222.68,370.6 223.59,368.22C224.5,365.84 228.48,364.13 231.09,362.67C233.71,361.22 238.03,362.54 239.29,359.5C240.54,356.47 237.69,347.35 238.6,344.44Z" fill="#7e2046" opacity="0.5" filter="url(#pblur)"/>
<path d="M265.9,420.7q3.6,0.1 5.5,-3.1M289.2,340.7q0.7,2.2 2.8,3.2M277.2,386q1.2,-2 2.1,-4.2M230.7,383.2q-3.2,3.5 1.4,4.7M262.3,379.6q-0.9,2.8 -1.3,5.8M275.4,395.3q-2.5,1.7 -4,4.4M212.3,376.1q3.8,0.7 5.5,-2.7M213.8,364.1q1.5,3.4 -0.3,6.7M273.9,375.2q3.4,3 -0.7,4.7M263.4,414.2q-6,1.8 -2,6.6M281.5,363.9q4.3,2.6 0,5.2M286.1,370.2q3.4,0.7 1,3.2M238.9,336q-2,2.8 1,4.6M266.3,393.5q-2.4,2.4 -1.7,5.6M288.1,369.9q3.2,0.2 4.8,-2.5M234.8,390.3q-3,2.9 0.6,5.1M233.2,343.1q-1.5,2.6 -4.2,1.6M243.1,424.6q-1.8,3 -4.9,1.5M239.3,384.8q0.7,5.4 -4.7,4.8M239.3,389.3q3.9,2.3 6.1,-1.7M266.9,368.1q4.5,3.6 -0.7,6.2M234.6,347.2q2.2,2.4 4.7,0.3M260.7,392.4q-4.3,0.6 -3.7,-3.7M286.7,355.5q-3.6,3.9 1.3,6M259.6,414.3q2.1,3.3 -1.8,3.7M260.6,424q-2.7,2.6 0.2,5M252.6,411.3q0.4,2.5 -2,3.3M259.5,408.5q-4.3,-1 -3.6,3.4M283.9,357.6q3,1.5 0.1,3.3M273.3,372.7q3.5,-1.2 5.3,-4.4M266.4,414.5q5.2,2.1 0.9,5.8M233.6,373.4q-2.8,-1.3 -0.8,-3.6M242.3,336.8q-0.4,2.7 -3.1,2.9M233.2,367.7q-0.3,3.8 -3.6,1.9M231.4,333.6q-3,1.8 -2.1,5.2M275.6,390.1q-0.6,3.7 1.7,6.7M255.2,425.6q-3.3,-0.9 -4.1,-4.2M289.7,347q-2.5,-1 -2.8,1.7M239.7,400.2q-2.5,2.2 -5.9,2M225.4,358.7q3.9,0.8 5,4.6M265.4,403q-4.1,-0.6 -5.7,3.3M272,386.5q1.5,0.9 2.7,2.2M265.4,413.8q2.2,1.4 3.5,3.6M242.5,385.1q0.8,4.3 -3.3,5.6M224.9,358.1q3.9,-1.5 3.2,2.6M233.2,358q-2.5,1.3 -0.5,3.2M233.9,414.5q4.8,-2.8 6.1,2.6M245.6,427.1q0.4,-4.6 4.9,-3.5M254.8,415.1q-3,1.7 -2.6,5.1M250.2,420.9q0.4,2.8 3.2,2.3M233.1,340q2,0.5 3.9,1.4M233,344.7q-1.3,2.8 1.2,4.5M245.9,427.3q1.3,2.5 3.1,0.3M259.4,397.6q3.6,3.1 6.8,-0.4M276.9,356q2.4,0.3 4.6,1.5M260.6,401.9q-5.2,-0.3 -3.5,4.6M252.1,413.8q-2.3,-0.9 -2.7,1.5M235.3,357.7q1.9,1.1 2.5,3.3M272.5,398.9q-2.4,-3.1 -5.6,-0.8M218.2,363.8q0.2,3.7 3.6,2.3M252.5,422.4q3.8,2.4 1.8,6.4M208.4,363.5q-2.3,-0.7 -1.5,-3M281.9,354.5q0.7,-1.6 2.4,-2M287,360.5q3.2,1.8 0.1,3.8M244.8,403.6q-1.7,3.7 2.1,5.1M240.7,331.5q-0.8,1.9 -0.2,3.9M254,403q-3,-0.7 -2.4,2.4M241.5,346.5q-0.4,1.9 -0.9,3.8M233,350.5q-3.4,0.6 -6.9,0.7M265.6,376.2q3.2,1.4 0.7,3.9M272.1,386.4q-0.3,3.4 -0.8,6.7M254.6,419.4q-0.8,2.5 1.1,4.1M229.5,406.9q4.8,2.4 0.9,6.1M225,387.4q-3,1.9 0,3.9M221.3,383.6q4.2,1 1.3,4.1M213.9,362.6q-5.1,1.3 -1.7,5.3M267.5,416.1q-2,1.1 -2.1,3.4M253.3,379.7q3.2,2.9 6.2,-0.2M274.8,405.6q-2.9,1 -1.9,3.9M235.4,357.4q1.6,3 -1.7,3.6M263.8,382.9q1.7,2.7 -0.1,5.3M227,361.2q0.8,-4.1 -3.4,-4.6M273.8,357.1q3.4,1.5 0.7,4.1M281.4,396.4q0.2,2.7 2.1,4.7M230.4,381.6q-0.5,2.3 -0.2,4.7M238.8,431.9q-2.2,3.4 0.3,6.6M228.8,392.7q1.4,2.4 -0.9,4.1M216.2,365.9q2.5,3.7 -1.2,6.1M262.7,406.2q1.5,3.6 -1.2,6.4M232.5,386.1q2.3,3.4 -0.3,6.6M275,385.7q-4.5,5.2 2.3,6.3M243.4,421q3.2,0.4 2.5,-2.8M268.9,380.8q1.4,2.7 -1.4,4M224.5,368.4q3.1,1.4 6.1,3.2M270.8,380.6q-2.5,2 -2.7,5.3M260.2,362.4q1,1.3 1,3M260.5,418.2q-3.7,0.4 -1.5,3.4M234.5,363.4q-2.6,1.3 -5.4,1.4M271.1,397.1q2,-2.4 3.1,0.6M232.7,358.4q1.3,-3.3 0.7,-6.9M250.9,421.3q-0.2,2.9 1.1,5.4M242.6,371q-2.5,5.1 3.1,6M288.3,342.8q-2.2,3.8 1.2,6.4M285.3,359.2q-2.6,-0.4 -4.7,-1.9M241.2,424.4q-4.7,2.1 -1,5.6M244.7,434.1q-3.4,2.4 -0.7,5.7" fill="none" stroke="#8e2550" stroke-width="1.2" stroke-linecap="round"/>
<path d="M247.7,404.3q1.7,2.3 -0.2,4.5M266.7,397.8q3.4,3 -0.3,5.6M238.3,367.3q-1.6,-1 -3.4,-1.8M239.7,331.2q-2.4,2.1 -5.5,1.3M246.8,391.7q0.9,-1.9 0.4,-3.9M216.1,369.7q-3.5,1.4 -3.9,5.2M262.2,354.4q-2.6,0.5 -4,2.9M266,408.6q0.3,-3.2 3.5,-3.1M256.1,411.5q3.5,2.3 0,4.7M258.2,380.9q2.4,0.1 2.3,2.5M238.1,426.7q-2.3,2.2 0.6,3.5M220.2,381.8q0.7,4.2 -3.5,5.3M254.7,407.1q-0.2,-2.1 -0.5,-4.3M247.9,421.1q-2.3,1.2 -4.7,0.2M276,371.8q0.6,-3 -2.4,-3.7M276.4,386.6q1.4,2.3 4.1,2.7M258.1,396.1q-0.3,2.5 1.6,4M244.3,367.3q-3.4,1.4 -2.2,4.9M241.1,351.5q-4,-0.7 -3,3.3M280.7,367.2q0.3,1.9 2.2,2.5M240.2,440.5q0.1,2.8 -2.5,4M255.9,426.4q0.3,3.8 -2.2,6.6M272.6,374.3q-2.4,2.9 -4.7,-0.1M240.5,337q1.3,1.6 0.1,3.2M286.1,364.6q3.6,1 6.3,-1.6M247.4,427q-3.2,0.4 -1.6,3.2M279.8,390.2q-1,2.9 1.9,3.7M208.1,366.6q-3.1,1.7 -0.5,4M238.6,360.3q3,-0.3 3.3,2.7M248.7,426.3q2.7,-0.6 3.7,-3.2M274.4,395.3q1.9,1.9 4.4,3M255.2,430.5q1.3,2.5 0.9,5.3M273.2,389.8q-1.6,1.9 0.7,3M236.7,350.9q-1,3.3 -0.8,6.7M255,407.7q3.6,3.2 0.2,6.7M253.6,413.6q-0.7,3.3 -2.3,6.2M243.5,411.5q-2,-0.7 -3.8,-2M262.8,379.7q-1.7,-1.1 -3.5,-0.3M230.2,375.1q-3.1,3.2 0.8,5.2M265.8,385.7q-3.9,1.8 -0.9,4.8M243.2,402.1q-0.3,2 0.2,3.9M243.3,394.1q0.6,2.1 1.2,4.2M258.7,381.8q1.7,2.6 3.5,5.1M255.3,367.4q4,-0.5 5.4,3.3M256,430.2q4.1,3.1 -0.3,5.8M275.5,358q0.3,6.1 -5.3,3.6M281.8,341q-2.1,1.1 -4,-0.4M287.4,352.6q2.4,3 0.6,6.5M243.1,372.9q-3.4,0.4 -1.7,3.4M273.8,381.3q3,3.2 -0.6,5.7M236.8,425.3q-1.4,3.9 2.2,5.9M231.8,361.1q-4.6,4.6 1.5,6.8M261.8,371.3q1.3,-2.8 3.5,-4.8M232.6,336.7q3.2,1.9 0.3,4.2M254,387.6q-1.4,-3.6 1.4,-6.1M265.8,353.4q-2.1,-2.9 0.2,-5.6M236.2,341q0.8,-3.5 -1.8,-6M268.9,352.8q-2.7,2.8 0.8,4.4M284.8,352.4q1.8,3.2 -1.4,5.2M244.5,409.9q-3.9,0.9 -5.8,-2.7M252.2,427.9q-3.8,1.2 -3.3,5.1M240.8,392.4q-0.6,2.3 0,4.7M214.5,367.3q0,-3.8 -3,-6.1M241.7,417.9q0.5,3 2.2,5.5M276.8,355.4q-0.9,3.5 1.9,5.7M238.4,412.7q-0.8,2 1.1,3.1M263.1,428q3.2,0.2 1.6,3M258.3,374.5q1.6,-3.3 5.2,-3.2M247.8,383.9q2,-3.5 5.7,-1.8M269.8,399.3q4.4,2.4 1.8,6.8M272.4,374.5q0,1.6 -0.1,3.2M263.9,404.7q-2,0.1 -4,0.6M240.3,354.4q2.8,2.9 -0.8,4.9M280,359.9q1.1,2.5 -1.6,2.6M247.7,416.2q2.5,3.1 5,0M231.7,407q3.6,-0.1 2.2,3.3M271.5,363.1q0.8,1.9 0.5,3.8M263.9,408.5q0,-1.6 -0.1,-3.2M282.3,350.4q0.3,2.4 -1.3,4.3M246.3,360.6q2.4,3.9 -2.1,4.9M238.1,374.3q-0.2,-4.3 -4.4,-3M251.5,367.5q1.5,2.3 2,5.1M216.1,360.2q0.8,4.6 5.4,4.1M220.7,356.6q-3.1,1.3 -1.1,4M263.6,415.3q3.3,0.7 1.2,3.4M232.6,336.5q-4.2,0.7 -2.8,-3.3M236.3,380.5q-2.9,4.6 2.4,5.7M231.7,405.7q1.7,0.8 1.6,2.7M274.8,394.8q1.9,0.8 3.2,2.5M270.1,393.7q0.9,4.1 4.6,2.1M243.1,346.9q0.1,-4.3 -3.8,-2.6M241.2,349.1q-2,4 1.9,6.4M252.7,422.8q4.6,1.9 1.9,6M283.1,365.5q-3.2,-3.1 -5.7,0.5M262.2,361.7q2.2,2.2 -0.8,3.2M262.6,375.9q3.3,1.4 2.9,5M233.7,416.8q-1.8,4.6 3.1,5.1M266,371.8q-3.1,-3.3 -5.9,0.2M229.8,384.8q4,1.1 4.7,5.1M226.4,378.7q3.7,-1 4.5,-4.8M271.4,408.4q1.6,1.3 2.3,3.3M244.2,442.6q-2,1.4 -0.4,3.3M249.5,438.9q0,4.3 -4.3,4.2M269.7,393.4q0.9,-2.3 -1,-3.9M279.4,362.9q-1.7,1.6 -2.1,3.9M208,363.6q1.1,-3.7 -1.2,-6.7M259.4,383.5q-3.9,-1.3 -4.1,2.8M223.6,366.9q5,-0.3 3.5,-5.1M238,378.5q1.9,2.1 -0.4,3.9M236,419.8q-2.9,-3.2 -6.7,-1M244.7,409.7q-5.4,1.8 -1.2,5.7M229.4,395.8q0.3,2 -1.5,3M234.9,432.7q-1,-3 -3.6,-1.2M223.6,357.2q2.2,-4.4 6.4,-1.9M270.4,357.8q3.7,3.1 0.8,6.9M226.8,394.3q-3.5,-2.5 -5.7,1.3M226.3,364q1.3,1.1 2.4,2.5M246.7,373.1q-2.2,1.8 -3.8,4.2M280.9,344.7q0.3,-3.9 4.2,-3.3M269.2,383q-1.7,0.7 -3.1,2M284.5,369.4q1.8,0.2 3.4,-0.7" fill="none" stroke="#6d1a3c" stroke-width="1.2" stroke-linecap="round"/>
<path d="M254.8,386.8q-2.4,-1.5 -4.4,-3.5M282.2,372.6q1,2.2 -0.1,4.3M272.2,353.4q-0.3,2.3 -0.7,4.7M266.2,379.5q1.7,0.7 1.9,2.5M266.6,390.8q-0.5,1.7 -0.5,3.5M265.7,395.4q-0.2,1.9 -2.1,2.6M240.1,429.5q3.6,0.2 2.4,3.6M239.7,374.2q-3.7,1.4 -0.7,4M272.6,370.4q2.2,-2.3 3.4,-5.2M276.3,373.2q4,0.6 1.7,4M236,431.4q2.1,1.9 0.6,4.3M228.1,376.4q-3.5,-2.5 -0.4,-5.5M230.2,366.8q5.7,2.6 5.6,-3.7M244.5,360.6q-1.5,2.7 -0.2,5.5M226.9,389q-2.2,1.9 -1.6,4.7M254.5,420q-4.2,3.9 -6.5,-1.4M276,389.2q-3.1,1.3 -1.6,4.3M292,353.7q-0.7,-2 -2.2,-3.5M260.7,369.4q-2.2,1.6 -4.7,0.3M251.2,406.2q5.5,-2 1,-5.7M266.1,387.9q-3.5,-1.3 -3,2.4M263.1,403.5q-2.1,0.6 -3.5,-0.9M258.2,388.8q-1.4,1.6 -3.6,1.8M223.5,378.4q5.6,3.7 -0.5,6.6M252.8,374.7q-1.2,1.5 -0.5,3.3M232.7,369.4q0.1,2.7 -0.9,5.3M244.5,385.8q-3.6,3.2 0,6.4M291.5,347.6q2.1,3.4 -0.7,6.2M254.3,364.8q-2.8,-2 -3.4,1.4M275.3,357.5q1.7,2.2 2.7,4.8M258.9,429.7q2.5,2 -0.4,3.4M273.8,370.9q-1.2,2.5 -1.5,5.2M242.9,399.3q3.2,-3.3 4.5,1.1M230,354.5q-0.7,-3.9 -4.7,-4.3M236.4,401.5q-5.1,2.3 -1.1,6.1M237.8,417.2q-3.9,1.9 -1,5.2M232,343.5q-1.4,2.4 -4.2,1.9M242.8,364q0.9,1.5 1.1,3.2M238.7,414.4q-2.9,1.3 -1.2,4M263.5,414.7q2.8,0.6 2.2,-2.2M263.8,393q1.8,-1.6 3,-3.6M259.4,406.6q-2.3,0.6 -2.8,3M290,341.8q2.5,3.5 -1.8,4M277.3,400.7q-3.5,2.3 0,4.6M238,367.1q3.6,3.9 -1.6,5M273.7,395.2q1.5,-0.6 3.1,-0.3M264.9,396.5q2.4,-3.8 6.2,-1.3M237.9,393.7q-2.7,3.3 0.4,6.1M268.3,389.6q-4.3,-3.5 1,-5.4M247.1,405.7q-3.1,5.4 -6,-0.1M259.2,405.9q-2.3,-0.3 -4.1,-1.8M282,386.6q1.8,1.2 1.5,3.4M249.3,369.9q-2.2,2.6 -1.4,5.9M239.2,340.7q-1.5,1.5 -1.1,3.7M238.6,422.1q2.5,4.2 -2.2,5.7M234.4,415.4q5.4,0.9 2.4,5.5M279.6,392.6q-1.6,-2.5 -4.5,-2.5M283.4,337.4q-1.7,4.2 2.4,6.1M277.3,388.9q0.9,2.3 3.1,1.1M243.4,405.4q1.5,2.3 0.3,4.7M250.9,384.2q2.6,4.3 -2.3,5.4M217.2,374.7q2.2,1.5 2.4,4.2M240.8,399.2q-2.1,0.4 -2.9,2.4M268.7,375.9q-3.2,0.4 -5.7,2.6M233,377.5q2.6,0.7 1.1,3M235.7,430.6q-3.1,-0.3 -3.9,2.7M260,416.5q-4.3,2.6 -1.4,6.7M218.8,361.2q-1.3,-4 -4.7,-1.4M259.5,389q-2,3.1 0.8,5.6M276,350.1q1.8,-1.9 3.8,-0.2M234.3,331.4q2.4,2.6 -1,3.6M257,428.5q2.8,-1.2 2.9,1.9M257.9,430.9q0,3.4 3.3,4.2M240.9,417.7q-0.1,2.5 -2.6,2.6M253.3,376.3q1.6,1.7 1.7,4M283.5,379.8q0.2,-4.8 4.7,-3.4M279.5,400.7q0.5,1.7 -0.4,3.4M257.6,375.4q1.9,0.2 2.9,1.8M257.5,392.4q1.5,1.6 0.4,3.4M262.8,427.8q1.7,3.5 -1.6,5.6M218.7,374.4q2.9,-4.9 6,-0.1M270.5,371.5q-4.4,3 0.2,5.7M256.1,399.6q-3.3,0.4 -3.8,-2.9M232.4,335.6q-1.8,-0.1 -3.3,-1M291.7,361.1q4.1,3.8 -1.2,5.8M241.9,375.3q-1.2,5.1 4.1,4.9M241.9,443.1q-0.2,5.7 5.4,4.3M271,361.8q-2.3,0 -4.4,-1.2M277.9,361.1q-0.3,2.8 2.1,4.3M277.6,354.5q2.7,-1.5 1.8,-4.5M265.8,407q-0.5,3.6 2.8,5.2M231,366.4q-3.7,0.4 -3.9,4.1M242.6,438.7q-2,-4.3 -5,-0.6M276.8,346.5q1.4,-2.9 3.9,-0.9M257,365.4q-3.3,-0.5 -3.6,2.9M247.7,429.8q4.6,-0.8 3.1,-5.2M230.6,366q-1.3,2.9 1.9,2.9M286.1,369.2q2.2,-1.4 2.9,1.1M237.6,403.1q2,-0.9 4.2,-0.7M235.7,335.6q1.7,2.9 4.9,4.2M272.6,398.9q-3.5,2.2 -2.4,6.2M242.2,412.9q2.8,1.9 1.3,5M282.4,368.5q2.9,1.5 4.6,4.3M233.2,346.6q0.6,3.6 -2.5,5.4M235.9,334q3.9,-3.9 6.3,1.1M239.9,433.8q1.5,3.5 -1.9,5.2M251.3,392q0.4,1.5 0.7,3M276.1,355.3q1.9,2.6 2.9,5.6M235,380.7q-0.8,2.7 -3,4.4M248.8,437.5q-0.4,2.5 2.1,3.2M218.5,360.7q2.5,2.5 0.2,5.2M261.9,357.2q-0.2,-2.9 2,-4.9M290.7,355.7q-1.2,-5.6 4.4,-4.1" fill="none" stroke="#b86a8a" stroke-width="1.2" stroke-linecap="round"/>
<path d="M88.07,513.67C90.64,514.04 96.15,517.89 99.08,521.37C102.02,524.86 102.38,530.18 105.69,534.59C108.99,538.99 114.49,543.03 118.9,547.8C123.3,552.57 131.38,558.44 132.11,563.21C132.84,567.98 127.34,572.38 123.3,576.42C119.27,580.46 111.56,583.03 107.89,587.43C104.22,591.83 102.75,596.97 101.28,602.84C99.82,608.71 101.28,617.15 99.08,622.66C96.88,628.16 92.48,634.77 88.07,635.87C83.67,636.97 76.51,633.3 72.66,629.26C68.81,625.23 66.61,617.52 64.95,611.65C63.3,605.78 65.14,599.17 62.75,594.03C60.37,588.9 52.84,585.96 50.64,580.82C48.44,575.69 51.56,568.71 49.54,563.21C47.52,557.7 39.45,552.2 38.53,547.8C37.61,543.39 41.28,539.72 44.04,536.79C46.79,533.85 51.74,530.18 55.05,530.18C58.35,530.18 60.55,535.32 63.85,536.79C67.16,538.26 71.93,535.69 74.86,538.99C77.8,542.29 79.27,554.4 81.47,556.6C83.67,558.81 86.6,556.24 88.07,552.2C89.54,548.16 91.01,537.89 90.27,532.38C89.54,526.88 84.04,522.29 83.67,519.17C83.3,516.05 85.5,513.3 88.07,513.67Z" fill="#8fb6ea" opacity="0.55" filter="url(#pblur)"/>
<path d="M86.02,529.76C87.61,530.02 91.02,532.8 92.84,535.31C94.66,537.82 94.89,541.65 96.94,544.82C98.98,547.99 102.4,550.9 105.13,554.33C107.86,557.77 112.86,561.99 113.32,565.43C113.77,568.86 110.36,572.03 107.86,574.94C105.36,577.85 100.58,579.7 98.3,582.87C96.03,586.04 95.12,589.74 94.21,593.96C93.3,598.19 94.21,604.27 92.84,608.23C91.48,612.19 88.75,616.95 86.02,617.74C83.29,618.54 78.85,615.89 76.46,612.99C74.07,610.08 72.71,604.53 71.68,600.3C70.66,596.08 71.8,591.32 70.32,587.62C68.84,583.92 64.17,581.81 62.81,578.11C61.44,574.41 63.38,569.39 62.13,565.43C60.87,561.46 55.87,557.5 55.3,554.33C54.73,551.16 57.01,548.52 58.71,546.4C60.42,544.29 63.49,541.65 65.54,541.65C67.59,541.65 68.95,545.35 71,546.4C73.05,547.46 76,545.61 77.83,547.99C79.65,550.37 80.56,559.09 81.92,560.67C83.29,562.26 85.11,560.41 86.02,557.5C86.93,554.59 87.84,547.2 87.38,543.23C86.93,539.27 83.51,535.97 83.29,533.72C83.06,531.48 84.42,529.49 86.02,529.76Z" fill="#1458b8" opacity="0.5" filter="url(#pblur)"/>
<path d="M103.2,581.4q1.3,3.4 -2.3,4.2M73.6,601.2q3.1,1.6 5.3,-1M93.1,583.3q0.5,3.1 2.2,5.8M67.6,563.5q2,2.7 4.4,5.1M113.3,559.6q-3.1,1.9 -0.7,4.6M83.5,581.4q2.4,3.1 -1.2,4.6M93.3,584.9q-4.1,-0.4 -2.5,3.4M109.8,572.8q-3.3,0.4 -6.4,1.6M123.3,572.6q3.6,0.4 1.4,3.2M78.5,625.4q-5,-0.9 -5.2,4.2M101,585.9q1.2,2.9 3.9,4.4M57.8,553.7q-3.5,1.7 -0.5,4.2M76.9,582.6q2.2,-0.9 3,1.3M60.4,554.2q3.3,-4.8 6.5,0.1M93.4,568.4q0.4,2.5 1,4.9M94.2,561q0,3.2 -2.3,5.5M65.4,607.9q2.1,-2.2 0.4,-4.8M84,583.5q0,1.5 0,3M102.8,548.5q3.4,-0.8 3.9,2.6M101.5,544q3.6,0.8 2.6,4.4M61.6,548.1q2.8,1.5 2.1,4.6M77.5,561.8q2.7,2.5 0.9,5.7M57.9,554.4q2.9,0.7 4.7,3M96.3,590.1q-2,-1.2 -4.1,-2.2M97.7,563.8q2.3,2.5 2.5,5.9M128.8,559.4q0.7,4.2 -3.4,5.5M42,549.7q-0.2,1.8 -0.5,3.6M90.1,550.9q0.8,-1.8 0.8,-3.7M50.5,573.3q3.7,-3.6 6.8,0.5M66.4,603.3q1.6,0.8 2.2,2.5M123.9,573q-1.1,3.1 -1.6,6.3M41.1,546.7q-0.1,3 -2.4,5M54.8,560.7q-1.7,2.8 -4.5,1.1M111,543.1q5,-1.6 4.1,3.6M93.5,576.1q0.1,2.8 -2.1,4.6M92.6,600.4q1.4,-2.6 -0.1,-5M63.2,537.5q-3.7,0.2 -2.4,3.6M90.8,622.4q-0.5,3.2 2.4,4.8M88.3,624.6q1.7,2.3 -1.1,2.8M83.6,572.6q2.2,3.1 -0.3,5.9M68.2,616.4q1.7,4.3 -2.6,6.1M89.4,616.7q1.6,2.5 0.8,5.3M83.4,579.1q-0.3,-3.1 2.8,-2.7M74.5,557.6q1.7,1.9 0.1,3.9M87.5,632.8q0.6,2.5 -1.8,3.4M67.5,577.2q3.5,2 0.8,5M95.2,567.3q-4.5,1.9 -0.5,4.7M94.6,589.8q0.7,5.7 5.3,2.3M46.2,539.1q-3.2,0.1 -5.1,-2.4M128,562.1q-3.7,0.6 -2.2,4M103.1,533.2q-2.6,0.7 -5.1,1.9M68.8,555.6q-0.4,2.5 -1,4.9M100.3,546.3q-3.8,-0.1 -3.3,3.6M59.5,567.9q-3.1,3.6 1.6,4.5M58,584.2q5.7,-1.4 1.6,-5.6M100.5,524.8q2.2,-2.3 5.3,-2M90,623.7q0.6,2.3 3,2.4M77.6,625q-3.2,4 -6.1,-0.2M83.7,560.9q-1.7,5.4 3.9,4.3M98.6,549q1.8,2 2.7,4.4M82.9,564.2q1.8,2.5 -0.8,4.2M126.1,570.6q3.2,1 3.7,4.3M90,590.2q1.9,0.3 3.4,-1M65.2,550.9q0.7,2.2 1.7,4.3M70.1,611.4q-5.2,1.5 -5.6,-3.9M88.8,625q-0.5,2.6 0.8,4.9M93.7,622.2q4,2.2 6.5,-1.7M91.5,535q-1,1.7 -1.8,3.4M75.2,570.1q-1.6,1.1 -1.6,3M98.7,574.7q-1.7,3.7 1.5,6.1M97.8,557.4q-3.4,1.8 -3,5.6M100.8,574.3q-2.8,-1.2 -4,1.6M59.8,581.8q-2.4,1.5 -4,3.8M85.1,616.2q-1.9,1.7 -0.5,3.8M46.3,557.1q-2.6,-0.5 -4.9,-1.8M60.7,558.5q1.3,3.9 -2.8,3.3M123.2,569.2q3.1,1.9 1.3,5.1M72.7,543.3q0.8,2.7 2.8,4.6M98.5,554.4q2.6,-2.1 2.5,-5.5M119.3,557.8q-3.9,-0.8 -5.8,2.7M72.2,559.9q-2.3,2 -4.5,-0.2M52.9,532.4q-2.4,-0.5 -2.5,-3M61.4,588.2q0.1,-2.2 -2.1,-2.5M112.6,552.7q1,-2.5 -1.7,-2.6M96.6,617.7q-3.7,0.9 -1.8,4.3M50,549.9q0.7,4 -2.7,6.2M100.9,569.1q5.1,0.6 2.5,5.1M56,535q-2.2,3.8 2.1,4.6M63.3,536.7q4.5,2.8 -0.2,5.3M80.7,570.3q-0.4,3.7 -4,2.4M68.1,604.8q-1.8,2.8 -1.9,6.1M80.2,603.6q-2.8,2.7 -6,0.4M78,565.8q-1,3.4 -3.2,6.1M98.8,576.2q1.8,1.8 4.2,0.9M51.4,564.6q-2.2,-0.2 -2.2,2.1M91.6,554.9q-0.1,1.8 -1,3.4M85.7,581q1.3,2.6 0.8,5.4M56.3,545.8q-0.4,2.8 -0.6,5.7M77.8,588.9q1.5,1.5 0.6,3.4M71.5,566.8q-3.5,0.8 -1.5,3.7M103.7,589.4q0.1,3.2 2.7,5.3M105.7,544.9q0.9,3.1 -2.2,2.3M99.2,568.1q0,2.6 0.7,5.2M110.6,553.4q-1.9,-0.4 -3.9,-0.9M94,519.2q1.4,-3.2 4.6,-1.9M40.9,544.5q-5.3,1.3 -2.2,5.8M72.5,593.8q-1.7,4.2 2.4,6.1M43.8,551.5q1.2,3.5 4.3,5.5M41.9,541.1q1.4,2.1 2.6,4.4M71.1,542.7q-0.9,1.7 0,3.4M109.8,561.7q-1.9,2 0.2,3.8M67.2,600.3q2.5,1.7 5.4,2.2M126.1,565.2q-0.5,3.1 0,6.1" fill="none" stroke="#1c63c4" stroke-width="1.2" stroke-linecap="round"/>
<path d="M60.6,537.4q0.5,5.3 5,2.5M85.1,599q-2.6,2.9 -0.1,5.9M54.2,566.1q-3.5,1.5 -3.3,5.3M85,632.2q-0.7,2.8 1.5,4.7M62.7,585.5q2.3,2 0.1,4.1M59,550.7q1.9,-0.5 3.4,0.7M89.6,529q4.1,3.2 0.1,6.5M42.9,542.7q-2.4,1.4 -0.9,3.8M109.6,559q3.3,0.8 3.1,4.2M78.2,589.7q4.5,2.6 0.5,6M41.3,545.3q2.8,1.6 3.7,-1.5M89.7,531q-0.8,1.4 -1.9,2.5M74.2,613.2q-0.5,-4.3 -4.2,-2M110.6,563.7q-2.2,3.7 -5,0.4M111.1,550.9q-2.6,2.9 -0.5,6.2M99.5,533.3q1.8,4.1 -2.3,5.8M94.6,519.3q3.6,2.3 0.4,5.2M97.7,530.8q-1.6,2.1 -4.3,2.1M58,532.5q2.8,1.8 3.7,5M56.2,543.1q-3.3,5.5 -6.6,0M76,588.9q1.9,2.6 1.6,5.8M76.2,611.8q-0.3,1.9 1.5,2.8M87.6,597.4q3.8,1.6 4.3,-2.5M120,570.5q2.3,-0.9 1.8,-3.3M85.7,566.2q-1.6,1.8 -4,2.3M64.3,579.4q-0.8,3.1 0.1,6.1M107.5,555.8q-1.4,3.1 -0.6,6.5M87.2,571.5q-0.3,-3.3 -3.4,-4.2M69.3,611.1q4.5,3.2 0.1,6.6M94,552.7q-2.5,1.3 -2.2,4.1M75.8,558.5q-0.4,2.5 1.8,3.8M119.2,568.5q-0.2,2.4 -2.5,2.8M119.2,558.3q1.6,1.8 2,4.1M95.7,562.4q0.5,3.4 2.5,6.1M90.2,523.9q-4.6,-2.1 -5.5,2.9M70.8,588.8q-1.7,-4.2 -6,-2.7M85.9,624.8q1.1,3.3 -1.3,5.9M103.6,596.7q-5.5,-0.1 -3.2,4.8M82.8,585.8q-3,0.6 -1.4,3.2M77.7,550q-1.8,2.4 -3.1,-0.3M84.5,613.6q1,1.6 0.3,3.4M62.2,585q1.1,2.9 -0.7,5.4M80.2,554.6q-1.4,-1.7 -3.3,-0.7M124.2,555.9q0.9,3.6 4.4,5.1M42.7,540.5q3.1,-5.2 -2.9,-5.6M96.6,621.7q0.3,1.8 1.5,3.2M59.6,566.2q-2.7,-0.6 -2.7,2.2M73.8,595q1.1,3.3 -0.4,6.4M93.5,587.8q2,-2.9 4.4,-5.4M79.8,590q-3.8,4.6 2,6M86.4,595.6q-4.9,3.3 -6.6,-2.3M67.6,594.2q-1.5,4.7 3.4,3.9M71.4,618.1q-2.1,-2.8 0.9,-4.6M54.3,548.9q2.7,-2.4 -0.5,-4.1M82.7,558q0,3.9 3.8,4.8M128.6,566.2q-0.5,-2.5 1.5,-4.2M75.6,590.3q5.6,2.4 0.9,6.3M55.2,532.2q-2.7,1.6 -4.3,-1M104.4,556.8q-2.1,3.3 1.5,4.8M54.3,576.4q-0.7,4.9 4.3,4.9M77.4,611.8q5.3,0.2 2.8,-4.4M111.7,550.6q-3.7,0.4 -2.7,4M88.1,630.3q1.5,1.1 1.4,3M86.3,557q-2,2 0,4M72.1,559.1q1.2,3.7 -2.7,3.8M98.3,605.9q4.6,-0.7 1.7,-4.3M123,568.5q0,-2.1 -1.8,-3.1M105.7,580.3q-5,4.3 -6.1,-2.2M105.2,577.1q-2.5,0.9 -3.1,3.5M107.8,549.3q0,2.6 -2.6,2.3M106.2,585.4q2.8,1.9 1,4.7M77.1,562.3q2.4,3.6 -1.8,4.8M71.5,586q2.1,1.1 3.7,2.8M81.2,583.1q3,3.4 0.1,6.8M68.6,617.4q-1.4,3.1 1.7,4.5M68.1,593.4q4.5,2.7 1.1,6.7M91.2,631.1q-0.1,-4.6 -4.2,-2.4M109.8,544q-2.9,-2.2 -1.5,-5.6M91.9,517.3q2.7,0.3 2.2,2.9M58.9,559.6q2.1,0.8 4.2,1.4M114.7,573.1q1.7,2.4 -0.8,4.1M83.6,564.7q4.9,-0.6 3,-5.2M98.6,580.9q3.4,2.2 0.6,5.1M84.3,557.8q2.9,0.3 3.5,3.3M69.1,615.8q-1,2.1 1.2,3.1M69.4,585.2q0,4.5 4.5,5M90.4,616.6q-1.7,2.3 -3.4,4.7M79,582.5q4.1,0.1 2,3.7M62.9,580.5q-0.4,3.5 -3.2,5.5M48.4,558.6q-1.2,4.5 3.3,5.7M107.6,559.3q-2.9,-1.1 -4.2,1.8M86.5,608.6q-2.4,1.8 0,3.5M67.3,553.2q2.3,1.4 3.1,4M67.2,594.8q-0.2,2.7 0,5.5M70.7,573.4q0.2,2.3 0.7,4.5M64.8,589.1q3.9,1.6 0.9,4.6M72,621.9q-2.8,-2 -3,-5.4M92.4,621.5q1.9,0.9 3.6,2.3M106.7,575.3q-2.4,-1 -4.9,-0.3M75.7,590.4q2.2,2 1.3,4.8M58.9,571.5q3.3,1.3 1.9,4.6M116.1,553.6q2,3.5 -0.2,7M73.9,554.9q1.5,2.8 4.3,4.3M45.1,543.2q-1.8,0.4 -2.3,2.2M70.7,554.2q4.3,2.7 0.1,5.5M89.7,592.3q-4.2,-1.9 -6.5,2.1M53.6,531.8q-3.1,-3.6 1.1,-5.7M81.8,611.6q-4.6,2 -0.8,5.3M99.8,578.1q0.4,-1.6 0.1,-3.3M97.2,623.8q-3.8,0.2 -3.6,4M106.7,554.7q1.8,2.1 0.6,4.6M117.8,553.2q1.8,2.4 4.1,4.3M76.3,547.8q-0.1,-1.9 1.6,-2.6M92,527.1q3.7,1 1.1,3.8M113.7,578q-2.5,1.8 -5.5,1.5M89.8,608.3q-1.3,1.9 0.4,3.5M56.2,574.9q-1.6,2.8 0.6,5.1M113.2,561.6q3.8,1.7 1.2,5M123.6,568.3q2,-2.3 4.9,-1.4" fill="none" stroke="#0f4aa0" stroke-width="1.2" stroke-linecap="round"/>
<path d="M55.9,541.8q4.4,2.3 0.9,5.9M80.7,567q0.1,-3.1 3.2,-3.1M91.3,566.2q-0.7,3.6 -3.8,1.8M55.3,557.2q-3,1.8 -0.3,4.1M78.3,552.4q0.4,2.9 2.9,1.3M56.8,561.7q-1.3,-1.1 -3.1,-0.9M76.5,561q2.1,0.7 2.1,2.9M85,577.4q0.2,2.9 -1,5.5M85.4,626.8q-2.5,2.7 -5.4,0.5M85.7,583.5q-3.7,1 -4.8,4.6M88.4,634.7q5.3,0 2.6,4.5M58.4,533.1q-2,-1 -1,-3M96.6,577.1q3.9,2.7 0.6,6.1M91.3,590.7q-0.5,3 -1.2,6M70.4,566.1q-1.2,-3.4 -4.3,-1.6M118.3,576.3q5.8,-0.7 3.8,4.8M105.1,573.4q0.9,-1.7 -0.5,-3.1M98.1,535.1q-2.5,2.7 0.3,5.1M107.6,536.9q6.1,1.8 1.9,6.6M89.6,578.6q-1.4,1.2 -1.1,3.1M48.6,539.8q0.8,5.6 -4.7,4.4M81,604.3q1.2,-2.2 -1,-3.3M94.9,620.3q3.1,1 1.5,3.8M58.1,582.3q3.1,-1.9 3.3,1.7M105,553.3q1.1,4.8 5.1,1.9M42.8,540.5q-0.8,-1.8 -0.9,-3.9M99.1,568.8q-0.1,4.6 4.5,4.7M120.2,561.6q-0.2,-3.4 -1.8,-6.3M89.3,528.5q3.2,2.5 2.7,6.5M67.4,554.5q-3,0.8 -2.9,-2.3M70.2,583.9q1.1,1.4 0.5,3.2M50.8,568.3q1.3,2 -0.8,3.2M83.8,630.3q-4.2,0 -3,-4M88.6,625.1q-2.7,1.9 -1.1,4.8M72.2,627.7q3.9,1.6 1.3,4.9M66.4,583q1,2.1 -1,3.4M73.7,576q1.7,-1.3 3.4,-0.1M107.2,540.5q-1.3,1.7 -1.3,3.8M73.1,568.5q-2.5,0.2 -2.1,2.7M75.6,585.7q1.9,-1.5 3.5,-3.3M80.6,622.8q1,3.5 3.9,1.4M76.3,575.4q-1.6,3.2 0.7,5.9M103.9,563.2q-2,1.8 -3.7,-0.2M108.6,581.3q-1.7,2.8 -4.2,5M64.3,547.2q0.1,1.5 0.7,2.9M52.7,569.2q-0.3,3 -3.1,2M122.5,574.8q0.2,5.4 -5,3.8M45.7,537.1q-1.5,1.5 -0.5,3.4M79.1,551.4q3.2,-3.4 6.4,0.1M78.6,609.8q4.3,-1.5 2.8,-5.9M66.2,581.5q-3.7,2.6 -0.8,6.1M61.3,560.1q-4.6,1.5 -2.7,5.9M47.5,547q1,3 -1.4,5.1M52.8,566.2q-1,3.8 -4.8,4.9M86.4,585.3q0.5,-2 1.4,-4M62.7,579q5.7,-3.1 0.5,-7M98.2,604.1q-1.4,3.4 2.2,3M78,619.4q-1.2,-3.2 -3.5,-5.7M97.4,562.4q-0.5,2.6 -2.4,4.6M71.3,561.7q3.2,0.6 2.4,3.8M65.2,547.7q1.7,-1.9 2.8,-4.2M92.1,561.1q-1.9,0 -3.4,-1.1M64.8,566q-5.4,2.1 -1.3,6.2M60.7,569.2q-0.4,1.7 0.8,2.9M64.2,575.5q2,-0.7 3.3,1.1M54.4,583.6q-1.6,3.2 -4.1,0.7M102.7,542.2q2.5,1.8 -0.2,3.3M74.2,556.3q1.1,1.7 0.6,3.6M89.9,536.6q0.6,2.5 2.9,3.5M79.6,586.1q3.7,3.7 -1.1,5.7M110.1,571.5q1.7,3.8 -1.8,6M91.6,575.1q-2.5,2.1 0.4,3.6M53.3,537.1q-0.2,1.9 0.2,3.8M87.4,633.8q-4,-0.5 -6.3,2.9M110.1,543q0.7,1.7 1,3.5M68.1,590.7q3.9,-1.4 6.6,1.7M68,608.1q-0.2,2 1,3.6M99.5,578q-5,3 0.1,5.9M112.9,578.4q-3.6,4 1.4,6.1M73,552q-0.6,3 1.6,5.2M113,543.5q2,3.8 -2.2,4.7M99.2,563.2q-3.5,1.5 -6.8,-0.4M116.8,564.9q-0.3,3.5 0.9,6.9M99.9,553.5q-2.2,2.7 0.8,4.4M59.9,548.9q3.6,1.5 1,4.3M104.4,553q-0.4,-2.3 -0.1,-4.6M74.8,624.7q-3.8,2.5 0.1,4.9M80.5,594q0.4,2.8 -2.5,2.9M118.6,556.5q-1.4,2.6 -1.8,5.5M57,560.5q1.8,1.3 1.1,3.5M75,561.2q3.2,2.1 1,5.2M51.2,562q0.6,3.4 2.2,6.5M73.6,599.5q2.4,0.4 1.8,2.8M82.1,624.5q-1.9,3 1.2,4.8M100.5,562.1q1.2,-3.7 -2.3,-5.4M89.4,615.5q0.1,2.3 2,3.5M86,610.2q-2.2,3.5 1.9,4.3M100.5,533.3q-2.1,-2.5 -4,-5.1M59.1,588.5q5,1.3 1.6,5.2M108.9,581.3q3,1.4 0.6,3.7M99.6,569.2q-0.3,1.9 -1.3,3.5M62.1,587.4q0.2,2.2 0.8,4.4M60.9,549.6q4.1,-0.5 2.8,-4.4M96.9,552.3q-2.5,1.8 -1.3,4.6M120.6,574.7q-0.9,-2.5 -0.7,-5.2M91.6,523.6q-3.6,-0.7 -4.2,2.9M88.5,527.2q4.9,2.7 5,-2.9M93.3,570.7q-0.4,2.3 -2.1,4.1" fill="none" stroke="#5b9be6" stroke-width="1.2" stroke-linecap="round"/>
<path d="M233.39,516.97C238.9,515.32 249.17,514.04 255.41,515.87C261.65,517.7 264.95,524.86 270.82,527.98C276.7,531.1 285.69,530.92 290.64,534.59C295.59,538.26 300.18,544.86 300.55,550C300.92,555.14 297.43,561.37 292.84,565.41C288.25,569.45 277.06,569.08 273.03,574.22C268.99,579.36 270.09,588.9 268.62,596.24C267.15,603.58 267.89,611.83 264.22,618.25C260.55,624.68 251.74,634.03 246.6,634.77C241.47,635.5 237.06,627.98 233.39,622.66C229.72,617.34 226.05,609.81 224.59,602.84C223.12,595.87 226.79,585.96 224.59,580.82C222.38,575.69 215.96,575.69 211.37,572.02C206.79,568.35 197.8,564.31 197.06,558.81C196.33,553.3 202.75,544.49 206.97,538.99C211.19,533.48 217.98,529.45 222.38,525.78C226.79,522.11 227.89,518.62 233.39,516.97Z" fill="#efc674" opacity="0.55" filter="url(#pblur)"/>
<path d="M238.95,532.93C242.37,531.74 248.74,530.82 252.61,532.14C256.47,533.46 258.52,538.61 262.16,540.86C265.8,543.11 271.38,542.97 274.45,545.62C277.52,548.26 280.36,553.01 280.59,556.71C280.82,560.41 278.66,564.9 275.81,567.81C272.97,570.72 266.03,570.45 263.53,574.15C261.02,577.85 261.71,584.72 260.8,590C259.89,595.29 260.34,601.23 258.07,605.86C255.79,610.48 250.33,617.22 247.15,617.75C243.96,618.28 241.23,612.86 238.95,609.03C236.68,605.2 234.4,599.78 233.49,594.76C232.58,589.74 234.86,582.61 233.49,578.91C232.13,575.21 228.15,575.21 225.3,572.57C222.46,569.92 216.88,567.02 216.43,563.05C215.97,559.09 219.96,552.75 222.57,548.79C225.19,544.82 229.4,541.92 232.13,539.27C234.86,536.63 235.54,534.12 238.95,532.93Z" fill="#d89410" opacity="0.5" filter="url(#pblur)"/>
<path d="M225.1,546.3q1.7,2.5 1.3,5.6M265.8,535.5q1.6,1.3 1.2,3.3M258,591.2q2.6,2 5.4,3.6M225.1,590.1q2.3,2.5 -0.8,3.9M249.5,577.9q-4.1,2.5 -1.7,6.6M245.6,556.2q0.7,2.2 3,2.3M235.2,566.4q-1.1,2 0.6,3.5M258.7,613.8q3.5,2 3.3,6M253.2,527.4q-3.3,3.3 1.2,4.5M205.5,548.1q-1.9,-1.8 -4.2,-2.8M236.9,587.4q6.1,-2.9 0.6,-6.9M236,600.9q4.3,-1.9 2.7,-6.3M277.2,566.3q1.9,-2.8 -0.2,-5.5M262.8,559.7q-2.4,1.2 -1.1,3.5M215.4,545.2q-3.4,3.7 1.5,4.9M290,536.3q2.6,-1.1 0.9,-3.3M246.4,530q-0.7,3.7 -4.4,3M229.9,576.7q-3.3,4.5 2,6.3M240.9,556.7q0.8,5.4 5.3,2.4M225.6,544.5q2,0.3 2.1,2.4M258.6,619.1q1.2,3.7 4.1,1M241.5,589.7q-1.9,-0.6 -2.2,-2.6M241,580.9q-2.3,2.6 -4.3,5.4M289.8,563.4q3.6,1.1 4.7,4.6M236.3,555.5q-3.2,0.1 -2.2,3.2M254.7,569.1q1.1,-4 5.2,-3.9M249.4,519.9q-5.9,1.7 -2,6.5M247.2,540.6q2.6,0.3 2.2,-2.3M269.4,569.2q0.7,2.5 3.2,2.2M256.4,594.2q-4.4,0.5 -2.5,4.5M257.6,622q-1.8,-3.1 -5.5,-3.2M221.1,531.9q0.1,-2.8 2.9,-2.6M227,584.4q-1.6,2.2 -0.2,4.5M277,571.1q3,1.8 1.2,4.8M253.9,605.4q-3.5,0.4 -1.5,3.3M272.1,564.7q-1.6,2 0.3,3.6M225.8,556.2q-0.1,2.6 -0.7,5.1M278.4,552q-4.2,2.9 -0.2,6.1M238.1,529.6q-1.6,1.9 -3.2,-0.1M267.5,569.2q-4.3,1.5 -2.4,5.6M232.7,616.2q3.3,-1.1 5.5,1.5M218.1,530.6q1.3,-0.8 2.7,-1.5M254.9,621.1q-3.4,0 -1.9,3M217,562.9q-3.4,0.4 -3.6,3.8M249,584.8q2.6,1.6 -0.1,3.1M252.9,547.3q-6.8,-0.9 -4,5.4M254.4,537.2q-0.5,1.8 1.1,2.9M232.5,570.3q-2.9,1 -2.6,4.1M279.1,543.5q0.6,2.1 -0.7,3.9M265.5,571.2q-0.7,1.7 -0.1,3.4M236.7,539.6q3.2,0.1 2.9,3.3M235.7,574.6q-3,-0.7 -5.6,1.2M249.7,601.4q-1.2,2.1 -3.6,1.4M263.4,546.4q-4.3,2.9 0.1,5.7M245.6,632.2q-0.6,2.5 1.3,4.3M252.8,557.8q-1.3,1.8 0.4,3.2M232.1,551.9q0.2,2.8 -1,5.3M290.1,550.1q0.8,3.4 3.1,5.9M246.3,631.9q0.7,5.6 5.7,2.9M263.3,608.1q1.9,1.4 3.4,3.2M229.3,558.5q-2.9,3.1 1.2,4.2M227.4,562.8q-0.1,5.7 5.2,3.6M289.6,554.9q3,2.2 -0.4,3.8M257.1,588.1q-3.4,3.1 0.8,5M239.1,551.2q3.9,1.7 1.1,4.9M247.6,520.5q-2.9,-0.4 -2.1,2.4M213.3,534.3q-0.9,3.5 -3.8,5.6M270.7,567.5q2.5,0.6 1.2,2.8M244.7,574.5q-2.5,0.6 -4,-1.4M214.4,551.5q3,3 0.1,6.2M255.9,528.7q1.4,3.4 5,4.3M264,555.8q2.6,-1.5 0.8,-4M230.5,520.4q-2.4,1.5 -0.9,3.8M237.2,587.8q-0.9,3 0,5.9M249.9,610.6q3.7,-2.2 0.1,-4.4M262.5,617q2.4,2.5 2.8,5.9M276,541.4q0.5,-1.8 2,-3M277.3,547.3q-2.3,2.5 -4.6,0M216.2,538.1q2.6,1.2 5,2.7M293.9,542.6q-2.5,2.1 -5.2,0.2M217.8,546.1q1.8,-2.5 -1.2,-2.9M268,565.2q0.7,2.2 0.4,4.6M251.7,599.8q-2.8,3.3 1.1,5.2M242,518.3q-2.1,0.9 -1.4,3.1M237,568q0.3,3.3 1.8,6.3M243.7,631.1q4.3,2.8 1.1,6.9M231.1,580.1q0.8,2.8 3.7,2.7M284.7,536.5q0.1,-1.9 -0.8,-3.5M232.1,521.6q1.2,-2 2.6,-3.9M283.3,557.3q3.4,2.1 1.6,5.7M247.7,558.7q-3.3,0.1 -5.9,-1.9M265.2,595.7q0.4,-2 2.4,-2.4M275.1,555.2q4.9,-0.6 4.9,4.4M291.3,541.5q2.7,2.5 0.1,5.1M292.6,557.2q4.1,-1.1 2.3,-4.9M249.7,528.5q0.2,3.4 0.2,6.8M288.7,547.5q-0.1,2.1 0.7,4M226.2,546q1.1,3 3.2,5.4M255.4,581.5q-0.5,2.2 0.6,4.1M215.1,558.1q-1.6,2.2 -0.5,4.7M265.1,557.7q-3.8,1.6 -2.4,5.5M289.2,564.3q2,-2.4 3.8,-4.9M248.5,571q-1.8,2.5 -4.8,2.8M293.8,556.1q-6.7,-1.1 -4.3,5.2M246,548.9q-0.6,2.8 0,5.5M262.2,521.9q3.2,3.5 -1.2,5.3M239.3,593.4q-1.2,1.7 -2.4,3.3M249.1,588.6q4,1.8 2.6,5.9M228.3,546.7q0.5,-2.6 -2.1,-2.5M266.1,582.7q3.5,-0.1 2.7,-3.6M281.9,545.5q-1.1,-1.5 -0.4,-3.2M240.4,583q-2.2,2.3 0.8,3.5M248.8,567.4q-4.9,-0.9 -3.5,3.9M250.5,552.7q2.9,-1.9 2.8,-5.3M239.6,621.1q0,2.9 2.6,4.1M263.8,571.2q-2,-0.6 -3.8,-1.7M251.7,593.4q1.6,-1.9 2.2,-4.2M249,620.4q-3.3,0.5 -6.1,-1.4M229.7,540.3q-4.2,-1.8 -6.5,2.2M238.5,579.4q-3,2.1 0,4.1M295.5,547.5q-2.4,0.6 -4.9,1.2M275.4,566.8q-0.3,3.8 3.5,4.3M236,568.6q5.5,-2.7 0.9,-6.7M242.9,577.8q3.9,-0.3 5.1,3.5" fill="none" stroke="#e09a10" stroke-width="1.2" stroke-linecap="round"/>
<path d="M225.9,529.9q-2.9,0.8 -4.9,3M246.8,597.4q0.5,2.4 0.6,4.8M240.3,614.2q-2.5,0.7 -3.8,3M269.9,583.8q-1.8,-3 -1.9,-6.5M224.4,545.4q2.6,3.3 0.1,6.7M217.5,574.2q-4.5,-1.2 -4,3.4M228.6,531.9q-1.4,-0.6 -2.6,-1.6M234.1,529.1q-2.7,0.2 -3.1,2.8M244,594.6q0.1,3.3 2.3,5.8M233.1,575.1q4,2.3 0.6,5.5M246.3,552.1q1.8,-0.5 2.9,1.1M240.6,575.6q-1.5,2.3 1.1,3M257.4,593.9q0.6,2.6 -0.6,4.9M259.4,540.5q1.4,5.2 5.8,2.1M271,569.9q3.2,-0.5 3.1,-3.8M253.4,538.7q-2.2,-0.8 -2,-3.2M240,620.5q-0.4,3 -0.8,6.1M258.6,591.1q1.3,3.3 3.8,5.8M227.3,550.8q-3.2,2 -2.6,5.7M266.7,526.4q1.6,-1.9 4,-1M238.6,562q2.7,2 5.5,3.9M234.1,600.9q3.7,-2.5 -0.2,-4.6M230.4,563.7q6.2,2.3 0.9,6.4M245.3,546.9q-2.1,1.3 -0.6,3.4M272.6,535.8q-2.4,2.8 0.8,4.7M232.3,586q-0.3,-3.1 -2.9,-1.3M294.4,548.8q-0.7,-2.9 1.6,-4.7M282.5,556.9q2.2,0.2 1.9,2.5M245.7,586q2.5,-4.9 5.4,-0.2M272.7,562q1.6,3.2 0,6.3M252,580.6q4.2,0 2.7,-3.9M249.9,561.7q-3.4,1.6 -1.5,4.9M265.1,588.5q-0.9,-2 -1.7,-4.2M237.3,527.6q-1.3,1.3 -2.9,2.1M228.2,545.9q0.8,3.2 1.8,6.4M224.8,534q4.1,-1 5.2,3M244.8,617.3q-3.8,2.2 -1.4,5.8M227.6,557.2q-1.2,3.4 -4.5,1.8M279.6,565.5q2.9,-0.6 2.7,-3.6M259.9,535.7q-2.8,-4.8 2.7,-6M283.5,545.7q-3.3,-0.1 -2.7,3.1M232.1,615.7q-0.4,1.9 -2.3,2.1M281.4,535q2.5,-1.2 3.2,1.5M234.8,621.4q1.3,1.5 1.3,3.5M293.4,550.9q-4,-2.3 -6.6,1.4M264.9,570.2q-0.6,2.3 -0.3,4.7M259.3,524q3.2,-0.5 6.2,0.6M226.8,561.4q1.9,-3.2 0.3,-6.6M215.5,536.1q-0.5,2.9 2.3,2.3M213.2,549.5q4.1,1.7 0.7,4.5M254.6,541.5q0,-3.7 3.6,-2.9M215.9,568q0,-3.8 3.4,-2.1M241.1,543.3q2,2.2 2.5,5.1M243.7,574.5q-0.8,-2.5 -3.2,-1.3M275.9,565.5q1.9,3.5 -1.7,5.4M225.7,539.5q-2.8,2.9 0.8,4.6M257.6,601.8q-3.6,0.8 -5.6,3.8M268,574.6q-2.9,1.8 -0.3,3.9M211,548.8q2.6,0.3 1.6,2.7M226.5,586.8q-4.4,1.1 -2.3,5.1M236.4,532.6q-0.8,3.2 0.4,6.3M288.2,564.7q-3.7,1.6 -2.9,5.5M271.9,545.2q-2.1,2.9 0.5,5.3M238.2,549.2q0.5,2.8 0.3,5.6M270.4,533.7q3.3,2.1 6.9,0.7M247.6,595.7q-3.7,-0.5 -2.9,3.2M212.1,554.6q-1.1,1.5 -2.9,1.6M215.3,546.1q-4.1,1.7 -2.8,5.9M239.7,546.6q-0.1,2.8 2.4,4.3M249.4,542.5q-0.5,-3.9 3.1,-2.4M263.7,611.5q-0.2,3.5 3.3,3.9M216,533.6q-3.3,3.4 0.5,6.4M237.8,532.5q1.5,-3 -1.8,-3.8M241.6,610.9q-1.6,2.7 0.3,5.1M212,552q-3.5,3.4 -0.3,7M246.2,528.7q1.1,3.1 -1.9,4.3M262.1,559.7q-2.5,-1.6 -4.9,-3.5M252,591.2q-3.3,1.1 -6.3,3M261.1,521.3q1.3,-1 1.6,-2.7M251.7,607.4q-0.5,1.7 -1.9,2.6M249.6,605.8q-0.6,1.6 -1.9,2.7M250.8,578.7q2.5,0.9 2.5,3.5M241.2,549.9q-3.8,4 0.8,6.9M255.6,575.4q-4.2,0.8 -1.6,4.2M222.2,565.3q0.8,-3.5 4.4,-3.2M254.5,607.2q1.7,6.3 6.2,1.7M268.1,573.1q0.1,2.2 1.3,4.1M217.4,557.6q0.3,2.2 -1.8,2.7M223.6,533.4q-4.6,-3.7 -6.7,1.8M238.1,621q2.8,2.2 0.5,4.9M211.1,539q1.2,3.1 -2.1,2.9M250.3,544.1q-2.6,0.9 -5.3,0.7M262.1,562q4.3,-0.3 3,-4.4M278.7,569.9q2.2,-2 3.4,0.7M275.4,564.5q0.8,1.7 1.2,3.6M261.7,570.6q-2.3,0.5 -2,2.9M241.5,584.3q-2,-1.8 -4.3,-3.3M266.2,564.4q0.3,2.2 2.1,3.6M227.2,575.6q3.6,4 -1.6,5.6M242,620.8q-0.8,4 -4.7,2.8M214.9,558.2q-2,2.7 -4.9,4.3M213.7,572.3q-1.6,2 -3.3,0M226,567.7q2,-4.8 -3,-6M263.6,540.1q1.6,0.5 2.6,1.9M254.3,579.1q0.4,1.9 0.6,3.8M232.8,574.6q-3.8,2.4 0.1,4.6M218.2,557.9q3.7,-2.8 6.1,1.2M240.2,543.2q-1.8,-1.2 -1.8,-3.4M228.2,575.7q-2.8,2.1 -0.7,5M236.3,615.7q0.8,1.8 -0.7,3M234.9,563q1.4,-1.5 2.9,-2.9M204.3,545q0.7,-2.5 0.8,-5.2M259.1,524q1.8,-1.9 3.6,-3.9M203.4,559.1q-2.6,3.5 1.4,5.3M217.8,570.4q4.2,0.6 2,4.2M254.2,572.8q-2.3,-0.9 -4.5,-2.2M272,551.4q2,3.2 1.1,6.8M255,565.5q-2.5,3.1 0.1,6.1M262.4,553q-2,2.1 -5,1.7M273,542.4q-1.5,1.5 -3.6,1.1M257.1,526.5q1.3,1.9 2.1,4M261.3,599.6q-2.5,1.7 -3.4,4.6M254.2,525.6q1.2,1.5 0.6,3.4M224.6,590.4q-2.2,2.9 0.1,5.7M275.9,555.3q5.7,-2.2 5.7,3.9" fill="none" stroke="#b87a08" stroke-width="1.2" stroke-linecap="round"/>
<path d="M229.7,611.9q-4,0.2 -3.4,-3.8M236.6,585.2q-4.3,2.1 -1,5.5M270.5,559.6q1.7,4.6 -3.2,4M245.6,546.3q1.3,4.1 4.1,0.9M219,573.8q-0.1,-2.8 2.6,-1.9M251.3,615.2q1.1,-1.3 2.7,-1.9M271.4,570.7q3.2,-0.4 3.5,2.8M293.6,549.3q-3.3,-1.2 -2.6,2.3M274.9,560.7q-1.6,2.4 1.2,3.3M290.1,556.1q-4.3,-2.4 -6.6,1.9M233.7,579.6q-2.7,-2.6 0,-5.1M275.2,566q4.2,1.5 2.7,5.6M218.2,541.3q-1.2,1.6 0.3,3M297.7,554.5q-0.8,2 -1.1,4.2M198.6,556.7q2.2,-1.1 4.6,-1.2M237.1,561.6q2.5,2.7 0.5,5.8M226.1,537.9q1.9,1.8 3.5,-0.3M231,523.5q6.2,2.4 1,6.6M239.3,620.5q-2.2,-2.5 -5.6,-2.7M205.5,562.2q1.7,2.2 2.2,4.9M236.5,561.3q-2.6,-0.5 -2.8,2.1M283.2,554.1q3.7,5.1 -2.5,6.2M226,553.7q0.5,2.3 -1.6,3.2M208.5,565.1q-1.5,0.6 -2.6,1.8M282.7,562.8q2.3,-2.2 0.6,-4.8M229.5,605.6q0.6,-2.6 3.2,-2.5M277.7,567.5q-0.1,2.2 0.3,4.4M238.1,583.1q3.2,-4.1 5.2,0.7M264,616.4q1,1.8 0.3,3.8M259.9,617.4q0.4,-1.5 0.6,-3M257.3,624.3q-1.9,4.4 -5.5,1.2M227.5,572.6q-2.7,1.7 0.1,3.3M238.2,538.2q0.2,2.4 -1.4,4.2M221,531.1q-4.1,1.8 -3.2,6.2M228.7,583.8q-4.5,-0.1 -4.9,4.3M265.6,551.6q4.1,0 4.7,4.1M243.9,571.9q0,2.1 2.1,2.2M266.5,542.7q1.1,1.8 0.8,4M218.6,533.5q-4.6,3.1 0.1,6M261.1,621q-3.5,-0.7 -5.1,2.4M264.4,563q3.6,-0.1 2,-3.3M274.2,566.2q3.3,2.2 2.3,6.1M223.7,535.7q3.1,1.1 3.8,-2.1M237.1,620.7q-2.8,2.6 -6.6,1.9M263.4,527.2q3.5,-0.1 2.7,3.3M263.3,560.2q4.4,3.4 -0.4,6.2M235.5,601.2q-1,-2.3 -1.6,-4.6M254.1,587.8q0.9,1.6 2.8,1.6M290.4,538.1q-2.4,3.6 1.9,4M242.8,523.6q1.7,0.1 3.4,0M229.6,542.9q3,-1.2 1.8,-4.2M240.8,594.8q-3.6,-0.7 -5.6,2.3M266.2,535.4q-1.3,-2.7 -3,-0.3M238.7,552.7q0.8,3.7 -2.8,2.8M246.5,601.6q3.4,-3 6,0.7M218.4,539.3q3.3,-0.7 3,2.7M211.6,546.2q-0.1,2.4 -2.3,3.4M216.4,548.9q0.9,1.4 1.4,3M244.1,597.7q-1,-6.1 4.9,-4.2M242.1,630.2q1.9,4.3 -2.7,5.3M224.8,568.7q-0.3,-1.9 -2.2,-2.1M264.7,611.3q-3.4,1.3 -3.6,-2.4M264.9,548.4q-0.5,-2.3 -0.2,-4.7M272.8,540.8q1.5,3.5 5.2,4.1M252.3,581.8q3.4,4 -1.5,5.7M258.1,611.7q-1.2,3 -1.4,6.3M204.2,564.2q0.7,2.6 -0.1,5.3M275.2,558.3q-4.1,1.4 -3.6,-2.9M236.6,528.3q4.7,0.1 2.4,4.2M267.2,567.3q1.2,-1.7 2.5,-3.3M251.5,582.8q-2.4,2.9 -4.9,0.1M240,525.7q5.2,2.7 0.1,5.7M218.5,574.2q2.1,-0.8 2.7,-3M216,557.7q-2,1.3 -2.9,3.5M229.4,547q-2.4,3.7 2,4.4M258.1,576.1q2.6,2.9 3.8,-0.8M265.1,553.5q3.2,0.9 6.3,-0.5M241.6,624.7q3.1,1.7 0.3,3.8M276.2,566.5q-2.7,2.8 -0.2,5.7M263.3,581q3.7,-3.2 6.4,0.9M258.5,597.7q1.4,2.5 3.3,0.4M227.8,581.3q1,3.1 3.4,5.2M228.1,575.8q-1,1.9 -0.2,3.8M267.6,598.9q-2.5,2.4 0.5,4M212.4,554.1q-5,2.9 -0.5,6.6M228.2,533.5q0.5,-3.1 -0.8,-5.9M291.3,546.5q2.7,1.6 0.9,4.1M225.1,529.1q1.7,0.5 3,-0.5M269.9,589.5q3.3,-0.5 2.3,2.7M230.4,608.5q-0.9,1.8 -1.2,3.7M255.3,602q-2.4,1.2 -2.4,4M235.9,591.6q-2.7,-3.2 1.4,-4.1M245.7,600.1q-2.4,2.9 -3.9,-0.6M237.1,524.4q-1.3,-3.3 -0.9,-6.8M268.2,586.7q-1.6,1.6 -0.5,3.6M252.3,578.4q2,-1.9 4.4,-0.4M282.9,557.7q-0.5,1.7 -0.4,3.4M263.8,601.5q-1.4,-4.2 2.9,-3.3M259.2,531.2q0,1.7 0.1,3.3M215.9,565.7q-6.3,0.9 -2.4,6M254.5,601.8q-5.1,4 1,6.2M219.9,536q-1.4,2.9 -3.6,0.5M256.6,615.1q1.3,1.6 0.6,3.5M261.8,607.2q-2.2,0.1 -4.4,-0.1M250.7,615.6q-2.1,3.4 1.5,5.3M237.4,532.5q3.6,-0.4 4.6,-3.9M256.4,553.6q2.9,-1.6 1.4,-4.5M227.3,569.3q-1.6,1.7 -0.1,3.6M238.2,607.9q-1.6,3.3 1.9,4.6M255,534.3q3.6,5.2 -2.7,6.4M231.4,576.3q-2.9,2.2 0.1,4.4M254.6,539.5q-1.9,-0.3 -3.5,0.8M287,537q1.9,3.1 -1.2,5M245,605.3q0.9,1.6 0.8,3.5M227.6,542.4q-0.2,-3.3 -3.4,-4.2M204.6,549.5q-1.1,-2.8 -3.6,-1M289.9,555.6q1,-1.9 3,-1.2M252,598.6q2.4,-2.6 -0.6,-4.5M263.2,552.4q-0.7,4.3 3.6,3.9M234.6,557.1q3.5,3.3 -0.3,6.4M248.6,533q0.3,2.8 -1.8,4.7M244.7,570.5q-1.7,-1.1 -3.8,-1.5M276.3,547.6q-0.1,-4.1 -3.9,-5.4M208.9,554.4q-0.7,1.6 -2.4,1.9M239.6,627.7q-2.7,-0.8 -2.4,2.1M230.7,580.3q0.3,2.1 1.5,3.8M274.6,557.2q-4.3,2.4 -0.1,5M258.9,617.2q0.5,-3.2 3.2,-1.4M263.6,584.8q4.8,-0.3 3.2,4.2M239.4,525.9q-0.3,2.4 -2.1,3.9M294.7,543.5q-2.2,-0.9 -3.6,-2.8" fill="none" stroke="#f0bc50" stroke-width="1.2" stroke-linecap="round"/>
<rect x="506.3" y="320.8" width="276.3" height="405.8" fill="none" stroke="#222" stroke-width="1.2"/>
<path d="M545,519.5H743.5" stroke="#000" stroke-width="1.5" stroke-dasharray="5.4,4.6"/>
<path d="M636,395.32C640.11,393.43 645.16,392.48 651.17,393.43C657.17,394.38 667.76,397.85 672.03,401.01C676.29,404.17 677.71,407.96 676.77,412.39C675.82,416.81 668.77,422.5 666.34,427.56C663.9,432.61 663.59,437.04 662.17,442.73C660.74,448.41 659.64,456 657.8,461.69C655.97,467.38 653.54,474.01 651.17,476.86C648.8,479.7 646.17,480.96 643.58,478.75C640.99,476.54 637.67,469.59 635.62,463.58C633.57,457.58 632.46,448.73 631.26,442.73C630.06,436.72 631.1,431.98 628.41,427.56C625.73,423.13 617.67,419.03 615.14,416.18C612.61,413.34 611.35,412.39 613.25,410.49C615.14,408.6 622.73,407.33 626.52,404.8C630.31,402.28 631.89,397.22 636,395.32Z" fill="#8feaea" opacity="0.55" filter="url(#pblur)"/>
<path d="M639.22,407.13C641.77,405.76 644.9,405.08 648.63,405.76C652.35,406.45 658.91,408.95 661.56,411.22C664.2,413.5 665.09,416.23 664.5,419.41C663.91,422.6 659.54,426.7 658.03,430.34C656.52,433.98 656.33,437.16 655.45,441.26C654.56,445.35 653.88,450.81 652.74,454.91C651.61,459.01 650.1,463.78 648.63,465.83C647.16,467.88 645.53,468.79 643.92,467.2C642.32,465.6 640.26,460.6 638.99,456.28C637.71,451.95 637.03,445.58 636.28,441.26C635.54,436.93 636.19,433.52 634.52,430.34C632.85,427.15 627.86,424.19 626.29,422.15C624.72,420.1 623.94,419.41 625.12,418.05C626.29,416.68 630.99,415.77 633.34,413.95C635.7,412.13 636.68,408.49 639.22,407.13Z" fill="#12cfd2" opacity="0.4" filter="url(#pblur)"/>
<path d="M646.8,460.7q0.8,-3.4 3.9,-1.8M642,440.5q-1.5,3.1 -3.5,0.3M655.8,446.9q3.6,1.6 2.4,5.3M662.6,425.4q-4.4,-0.6 -3.4,3.7M615.5,414.6q-0.6,-4 3.4,-3.6M660.6,434.3q2.7,1.2 4.4,-1.2M654.1,466.1q0.3,2 -0.6,3.7M661.3,445q4.6,1.7 1.1,5.1M645.3,474.2q-2.7,2.7 0.7,4.5M663.9,427.5q-1.2,3.1 0.8,5.7M646.7,439.1q-3.9,-0.9 -2.2,-4.5M638.6,396.2q0.4,2.7 -2.4,2.9M657.5,424.7q2,1.1 1.2,3.3M671.1,413.9q0.5,2.8 2.4,5.1M634.6,431q2.9,0 2.3,2.8M659.9,432.6q1,-2.6 3.8,-2.9M635.2,406.6q1.5,2.8 -0.7,5M642.3,410.7q0.7,1.6 1.9,2.9M632.6,421.6q0.6,-3.1 3.7,-2.2M627.1,407.5q-5.1,-1.7 -4.2,3.6M669.1,414.4q0.7,2 -0.3,4M650,471.6q2.4,-2.8 5.3,-0.5M662.2,437.7q-3.7,-1.8 -1.2,-5.1M630.1,423.2q-1,2.5 0.2,4.9M653.4,463.3q-0.5,-1.7 0.6,-2.9M645.3,397q1,3.4 -2.3,4.5M642.5,452.5q-0.1,1.9 1.1,3.4M633.2,415.8q-1.6,-0.6 -3.3,-0.8M637,422.5q0.9,4.8 4.7,1.8M651.4,407.8q-2.3,-3.5 1.9,-4M660.3,442.4q-0.7,2.3 -0.4,4.7M634.2,412.8q0.6,-1.6 0.7,-3.3M646.9,475.9q-1.2,3.8 2.8,3.5M672.8,409.7q-1,1.4 -0.4,3M651.2,456.2q-0.9,3.6 -4.6,3.5M663.9,429.5q2.4,-2.4 5.2,-0.6M645.7,407.2q1.9,3.1 -1.8,3.2M635.3,433.9q-3.1,2.5 0,4.9M673.5,407.4q0.4,2.9 -2.4,3.7M633.2,406.7q-0.3,-3.5 -3.7,-2.9M643.1,450.9q-0.1,3 -2.6,4.5M636,463.4q-0.5,-1.8 -2.1,-2.9M656.1,430.1q0.8,3.9 -3.2,3.9M657.3,405.6q3.4,-0.4 3,2.9M630.3,426.7q-1.9,-0.1 -3.2,1.3M661.4,440.4q-2,-4.2 -4.5,-0.3M659.3,447q-2.8,2.7 0.8,4.3M650.1,426.2q1.9,-0.6 2.3,-2.5M631.6,416.4q-3.9,2.9 -5.7,-1.6M642.9,402q0.2,2 -1.6,2.9M658,427.7q-1.6,1.6 0.2,3M644.9,414.3q0.5,2 -0.7,3.6M673.1,414.3q-2.3,2 -0.2,4.3M672,403.2q1.7,-0.1 3,-1.3M628.4,418.2q-5.5,1.7 -4.2,-3.9M665.8,422.8q4.9,-1.9 4.4,3.4M648.6,417.7q-1.7,2 -3.7,3.7M661.6,432q-2.4,1.9 -3.1,-1M645.2,394.5q-1.6,1.1 -2.8,2.7M640.3,458.7q-2.3,1.2 -4.9,1.8M624.1,408.9q2.6,1.1 0.7,3.2M653.7,462.9q-0.6,-1.8 -2.4,-1.9M637,441.4q-1.6,0.7 -2.5,2.4M636,434q-1.3,1.7 -3.1,2.9M651.2,399.5q2.2,-2.4 1.3,-5.5M657.8,399.8q4.8,0.1 2.4,4.3M623,411.3q-2.5,1.6 0,3.1M648.5,402.1q2,0.1 3.6,-1.1M671.5,408.4q2,3.3 -1.9,3.8M644.9,418q2,-3.1 -0.4,-6M639.1,443.5q-2.7,2.2 -0.7,5.1M637,456.5q3.2,1.4 0.9,4.1M658.5,403.6q1.1,1.9 1.1,4.1M636.1,436.4q1.7,2.1 2.3,4.6M651,412.9q1.7,3.1 -1,5.3M648.9,445.3q2.3,2.9 -1.2,4.2M647.3,415.8q-0.7,3.1 -3,5.2M642.6,457.9q3,2.4 -0.4,4.1M665.1,415.7q2.3,1.6 0.1,3.2M644.3,439.9q-0.4,-2.4 -2.8,-2.6M637,459.9q-1.5,2 -3.8,2.9M648.7,401.8q-2.6,1.7 -1,4.3M648.4,396.2q-2,2.6 -4.2,0.1M653.3,464.1q3.1,-1.7 4.9,1.4M659.7,430.9q0.7,2.3 2.1,4.1M647.9,406.2q0.2,-2.9 3.1,-2.7M657.2,446.8q3.8,2.1 4.1,-2.2M640.7,457.8q-1.9,1.5 -0.2,3.3M655.7,435.5q0.3,-2 1.4,-3.7M649.3,433.5q-2.8,1.8 0.1,3.4M632,425.4q-1.9,-0.1 -3.8,-0.1M640.3,461.6q1.3,1 2.5,2M647.2,422.6q0.1,3.3 -2.6,5.3M647.6,437.1q2.1,2.5 -0.1,4.9M657.1,426.3q-0.3,3.3 2.5,5.1" fill="none" stroke="#10d8d8" stroke-width="1.0" stroke-linecap="round"/>
<path d="M648.7,426.5q2.8,0.8 2.8,3.7M637.1,414.5q-2.9,2.4 -0.5,5.4M636.5,406.6q3.5,-1.7 0.6,-4.4M641.6,405.4q1.8,2.1 0.7,4.6M649.6,440q-1.6,-1.2 -3.3,-2.2M657.7,438.3q-1.2,3.1 -4.4,3.9M655,429.3q-1.9,1.9 -1.7,4.6M640.8,414.5q-0.5,3.5 2.8,4.7M659.7,445.1q1.1,1.5 2,3.2M637.8,445.9q-1.4,1.2 -3,0.3M659.5,438.2q-1.8,-3 1.7,-3.2M651.8,447.4q0.9,1.4 0.4,3M656.4,412q-5.6,0.2 -2.8,5M632.1,407.2q-1.1,2.2 -2.7,4M629.3,430.1q-1.9,-0.1 -3.8,0.2M655.4,443q-2.1,1.2 -1.2,3.5M656,395.7q1,1.7 0,3.4M638,447.1q2,2.1 1.8,4.9M646.4,394.2q2.5,-0.2 3.1,2.3M637,447.7q-0.6,2.3 -2.9,2.9M653.6,432.4q-1,1.4 -0.4,3M647,407.4q-2.1,-1.6 -2.6,-4.3M622.7,419.7q-2.9,-0.7 -2.3,-3.7M645,453.3q-2.4,0.8 -2.8,3.2M661.7,397.6q0.2,1.7 0.5,3.3M654.7,467.9q0.9,-2.8 0.6,-5.8M632.2,412.9q-1.4,2.9 -0.2,5.9M646.3,455q5.3,1.9 4.3,-3.6M663.3,435.1q-0.6,-4.8 -4.5,-2M633.3,446q-0.8,4.4 3.6,3.4M639.9,451.8q-1.4,1.8 -0.2,3.8M655.5,427.3q0.9,-2 -0.4,-3.7M634.6,403.2q0.7,-3.3 -2.7,-3.8M649.8,406q-1.7,1.9 0.6,3.2M662.6,425.9q1.6,-4 5.4,-1.9M619,416.8q-3.1,-0.8 -3.7,2.3M661.3,400.3q-1.2,3 1.2,5.3M660.5,419.6q1.9,2.9 -1.5,3.1M647.1,422.2q1.9,-2.1 1.5,-4.9M653.6,410.6q2.9,3.7 -1.5,5.4M631,424.1q4,0.4 3.2,-3.5M644.6,429.6q-2.1,2.6 1.2,3.3M640.9,448.5q-1.1,-4.2 3.2,-3.3M645.2,420.7q3.7,0.3 4,4M637.3,442.2q-2.7,1.9 -0.6,4.5M632.3,439.2q0.1,-2.4 -2.3,-2.7M647.5,429.4q0.5,1.9 -1.1,3M653.3,471.1q1.4,1.7 -0.3,3.1M651.4,431.5q-1.2,3.6 -4.4,1.5M626.9,413.1q1.5,4.2 -2.9,5M620.8,410.8q-2.6,1.6 0.2,3M622.1,414.5q2.1,3.5 -1.6,5.2M636.1,424.1q-2.9,-1 -5.9,0M633.5,426.8q-2,3.8 2.3,4.5M642.2,443.6q2.6,-1.2 5.4,-0.7M646.4,418.9q5.8,0.9 2,5.4M636.1,462.3q2.4,2.6 0.3,5.5M648.4,467.4q3,2 0,4M665.5,428.8q-0.8,-2.1 0.9,-3.7M616.7,409.8q-1.6,3.1 0.9,5.6M644.9,412.7q3,3.6 -1.2,5.8M652.7,450q-1.8,3.1 1.7,3.8M652.2,404.9q-3.6,1.3 -5.5,-2M637,445q-1.7,1.4 -3.2,2.9M663.3,431.3q-1.7,-2.2 -2.5,-4.8M655.1,413.8q-0.3,2.8 1.5,5M643.3,398.6q1.8,3.9 5.5,1.8M646.2,407.2q0.5,3.4 3.8,2.2M650.5,422q2,-1.9 3.7,0.2M646,445.4q-2.6,1.5 -0.7,3.9M652.9,463.8q-5.2,0.6 -2,4.7M633.7,405.5q1.1,1.3 1.6,3M657.2,456.7q-0.7,-1.7 -1.5,-3.3M660.6,416.9q0.9,1.8 -0.4,3.2M635.7,458.5q-4.7,-1.5 -1.7,-5.4M660.6,407.6q1.2,-2.8 3.8,-4.4M643.1,460.3q-2.2,1.2 -1.7,3.6M656.4,415.7q-0.1,-3.8 -4,-4.2M648.1,418.2q-2.1,2.1 -2.9,4.9M633.5,429q3.3,-2.4 4.7,1.5M672,408.4q-2.4,-0.4 -2.2,-2.8M647.4,432.4q0.8,3.6 -2.5,5.2M646.4,402.5q0.7,-2.8 0.8,-5.8M645.2,471.8q0.4,2.8 3.2,3.4M626.8,422.3q1.4,-4.2 4.5,-1.1M635.4,414.7q-4.2,3.9 1.3,5.6M636.9,430.9q1.7,4.8 -3.3,4M632.6,411.5q-1.3,3.2 2.1,3.9" fill="none" stroke="#0ab4b8" stroke-width="1.0" stroke-linecap="round"/>
<path d="M653.6,434.3q0.8,-2.6 1.4,-5.2M662.2,428.1q2.7,0.9 4.5,-1.2M618,410.3q-4.8,1.9 -1.4,5.7M645.1,420.6q3.1,3.1 -0.5,5.5M644.5,440.4q0.6,1.9 2.3,2.8M632.8,439q1.2,-1.4 0.3,-3M637.9,467.2q-3.6,1.3 -5.1,-2.3M651.7,457.1q-2.4,4.7 2.9,4.3M643.7,435.4q-3.3,0.5 -3,3.8M619,408.4q1.8,1.9 1.6,4.6M642.6,402.7q-0.8,2.1 0.4,4M658.7,406.8q-2.5,0.2 -3.6,2.5M630.5,409.5q-1.1,2 1,2.9M636.6,399.8q-2.6,3.6 1.8,3.9M649.5,471.2q0.6,-2 2.1,-3.3M643,461q-0.2,1.6 -1,3.1M635.7,418.9q-0.3,1.6 -0.5,3.2M665.9,424.2q2.9,1 2.5,4M647.3,468.7q2.4,2.3 4.7,-0.1M660.6,414.6q-4.1,-2.9 0.1,-5.8M632,412q-2.5,2.6 -5.1,0.1M651.5,437q-0.5,2.2 -0.4,4.4M647.2,403.3q1.4,-1.7 0.2,-3.6M649.9,397.4q-2.7,-3.4 1.5,-4.2M645.8,402.5q-3,-0.7 -2.8,2.4M660,438.5q-3.3,1.8 -0.9,4.7M636.7,405.7q0.9,-3 4.1,-2.8M635.4,453.3q0.6,2.9 -1.8,4.5M632.8,415q-4.2,-1.1 -4.3,3.3M644.1,471q-1,-2.3 -3.2,-1M643.3,437.4q-2.5,1.4 -3.6,-1.2M626.2,408.8q4,2.3 1,5.8M643.8,444.3q-1.6,-0.6 -3.3,0M649,398.8q-0.2,2.7 -0.2,5.3M668.1,402.2q0.9,2.7 -1.2,4.6M659.1,450.9q2.6,-0.9 5.3,-1.5M637.4,446.8q-2,-2.9 1.3,-3.9M638.6,449.4q0.7,2.8 -0.4,5.4M666.7,417.7q4.4,-2.4 4.3,2.6M647.5,404.3q0,2.5 2.3,3.2M622.4,415.7q-3.5,-0.4 -3.1,-3.9M663.1,414.4q-3.4,2 -5.3,-1.4M659.1,435.3q-2.7,3.2 0.8,5.6M632.5,403.2q1,2.1 -1.2,3M644.4,445.7q-4,-1.4 -2.2,-5.2M649.2,448.5q1.2,-1.8 0.8,-3.9M645.9,418.8q0.2,-1.7 -0.6,-3.1M653.7,432.6q-2.8,-1.3 -3.3,-4.3M667.5,424.8q-3.4,1 -1.5,4M640.9,458.8q-1.1,3 -4.3,2.5M641.9,455q-0.9,-4.9 -5.1,-2.2M655.7,463.5q1,-2.2 3.1,-1.1M651.8,432.6q5.4,0.7 3.5,-4.4M632.7,428q4,1.1 1.5,4.4M660.2,426.7q-1.8,-1.1 -2.8,-2.9M645.3,433.1q0.7,2.3 0.9,4.8M661.3,406.2q2.9,1.4 2.8,-1.8M647.3,410.9q-2.6,2.4 0.3,4.4M646.7,421.7q-2.3,-2.3 -5.2,-0.9M662.8,439.7q-2.2,0.8 -2.1,3.2M658.1,417.8q0.1,-4 -3.9,-4.5M627.9,421.5q5.1,-1.5 4.6,3.8M631.8,411.4q-1.6,1.9 -2.8,4.1M630.8,424.6q2.5,-2 0,-4.1M664.6,430.1q1.6,-0.1 3,-0.6M670.9,412.1q-0.3,4.2 -4.2,2.6M628.2,416.7q-0.5,3.6 -4.2,3.8M666.2,427q0.5,-1.5 0.1,-3M672.8,406.3q-1,2.4 -3,0.7M642.3,432q1.3,1.7 -0.1,3.2M642.6,474.6q-0.4,1.7 -0.1,3.4M650.8,457.1q2.1,0.2 3.9,-0.9M646.7,449.8q-2.1,0.7 -2,2.8M636.8,449.9q-0.8,2.7 1.9,3.5M626.7,414.6q4.3,1.3 2.1,5.2M661.1,433.5q2.2,-0.2 2.4,2.1M638.6,445q1.5,2.3 2.2,5" fill="none" stroke="#5ae8e8" stroke-width="1.0" stroke-linecap="round"/>
<path d="M626.52,565.97C629.99,564.08 636,563.44 641.69,564.08C647.38,564.71 655.59,566.92 660.65,569.76C665.7,572.61 668.23,577.67 672.03,581.14C675.82,584.62 680.87,587.46 683.4,590.62C685.93,593.78 687.83,596.94 687.19,600.1C686.56,603.26 682.45,607.37 679.61,609.58C676.77,611.79 671.08,610.21 670.13,613.38C669.18,616.54 674.55,623.49 673.92,628.54C673.29,633.6 668.55,638.34 666.34,643.71C664.12,649.08 663.49,654.77 660.65,660.78C657.8,666.78 652.75,676.26 649.27,679.74C645.8,683.21 642.95,683.85 639.79,681.63C636.63,679.42 633.47,671.52 630.31,666.47C627.15,661.41 623.36,656.99 620.83,651.3C618.3,645.61 615.46,638.02 615.14,632.34C614.83,626.65 620.83,620.64 618.93,617.17C617.04,613.69 607.87,614.01 603.77,611.48C599.66,608.95 595.55,605.47 594.29,602C593.02,598.52 593.34,593.78 596.18,590.62C599.03,587.46 607.24,585.57 611.35,583.04C615.46,580.51 618.3,578.3 620.83,575.45C623.36,572.61 623.04,567.87 626.52,565.97Z" fill="#8feaea" opacity="0.55" filter="url(#pblur)"/>
<path d="M632.38,581.56C634.54,580.19 638.26,579.74 641.79,580.19C645.31,580.65 650.41,582.24 653.54,584.29C656.68,586.34 658.24,589.98 660.6,592.48C662.95,594.98 666.08,597.03 667.65,599.31C669.22,601.58 670.39,603.86 670,606.13C669.61,608.41 667.06,611.37 665.3,612.96C663.53,614.55 660.01,613.41 659.42,615.69C658.83,617.96 662.16,622.97 661.77,626.61C661.38,630.25 658.44,633.66 657.07,637.53C655.7,641.4 655.3,645.5 653.54,649.82C651.78,654.14 648.64,660.97 646.49,663.47C644.33,665.97 642.57,666.43 640.61,664.84C638.65,663.24 636.69,657.55 634.73,653.91C632.77,650.27 630.42,647.09 628.85,642.99C627.29,638.9 625.52,633.44 625.33,629.34C625.13,625.25 628.85,620.92 627.68,618.42C626.5,615.92 620.82,616.14 618.27,614.32C615.73,612.5 613.18,610 612.4,607.5C611.61,604.99 611.81,601.58 613.57,599.31C615.34,597.03 620.43,595.67 622.98,593.85C625.52,592.03 627.29,590.43 628.85,588.39C630.42,586.34 630.23,582.92 632.38,581.56Z" fill="#12cfd2" opacity="0.4" filter="url(#pblur)"/>
<path d="M660.1,569.8q-1.8,2.3 -4.5,1.5M643.6,649.8q0.8,2.2 -0.7,3.9M683.2,600.8q-1.4,3 0.3,5.9M669.3,594.5q3.7,0.6 1.6,3.7M634.6,595.7q1.4,-3.1 4,-0.8M639.8,609q1.4,2.2 2.1,4.7M672.9,591.5q-3.9,1.8 -1.6,5.4M640.7,580q0.4,2.5 -1.6,4.2M630.2,641.2q1.4,1 1.7,2.7M673.3,587.2q1.2,-1.4 2.9,-0.9M609.1,597.5q2.9,0.3 2.7,3.2M666.6,589.6q-4.8,0.9 -3.2,-3.7M660.6,591.5q-0.2,3.3 -3.4,3.6M625.5,620.9q-3.4,0.3 -4.2,-3M671.1,627.7q-1,2.6 1.3,4.1M628.4,573.7q1,1.6 0.6,3.5M643.1,668q1.9,-0.9 3.4,0.5M657.7,605q0.9,2.4 2.7,4.3M612.8,589q-4.6,2.8 -0.1,5.9M671.8,598.6q1,3.6 4.8,3.1M660.4,656.4q2.9,3.4 -1.3,4.9M620.7,585.7q-0.4,-2.6 1.5,-4.4M621.8,637.5q-3.4,0.2 -1.9,3.2M670.9,632.7q-3.2,0.5 -5.1,-2.1M631.7,627.2q-2.5,1.5 -1.6,4.3M624.8,583.8q-0.8,2.1 -0.8,4.4M643.6,638.3q-3.1,5.2 3,5.2M660.6,570q0.6,2.5 -0.6,4.8M666.2,598.4q-0.5,5.2 4.3,3.1M659.1,598.4q-1.7,2.2 0,4.4M643.2,624q-2.3,2.3 0.7,3.4M607.1,586.4q1.9,2.2 -0.9,2.9M629.3,578.6q2.3,-4.5 -2.7,-4.9M660,616.9q-0.3,2.8 2.3,3.7M624.7,640.4q-2.8,1.7 -1.8,4.9M659.2,573.6q2.1,1.9 4.7,2.5M665.2,599.1q-0.8,1.8 0.1,3.6M646.5,678.8q1.4,-2.6 2.8,-5.2M622.7,629.8q-3.8,-1.1 -3.3,2.8M665.7,609.4q-0.6,1.8 0.9,3.1M619.8,615.5q-3.7,-1.8 -1.6,-5.4M627.4,622.6q-5.6,2.1 -0.9,5.8M621.4,632.8q2.7,-5.1 -3.1,-4.8M665.2,591.8q4.1,2.7 -0.2,4.9M650.2,613.7q-5.4,-0.5 -2.7,-5.2M644.1,649.2q-2.2,-1.6 -4.8,-0.9M663.8,637.6q-2.9,-1.5 -3.6,1.7M639.9,648q-0.9,1.6 -0.5,3.3M639.4,623.3q-0.8,2.8 -2.7,4.9M665.1,618.4q4.9,-2.4 4.4,3.1M615.1,612.7q2.7,1.8 0.6,4.3M662.2,629.8q-1.4,2.5 -2.2,5.2M619.2,582.1q1.1,1.7 2.4,3.2M660.2,586.9q-1.7,3.7 2.4,3.6M635.4,608.4q1.4,1.9 0,3.9M667,621.7q-2.6,2 -0.6,4.6M662.9,652.7q3.1,-0.1 1.5,-2.7M626,632.2q2.5,1.7 3.6,4.6M667.6,599.4q4.1,0.3 2.2,4M605.1,607.4q0.9,1.8 0.3,3.8M624.3,630.3q2.5,-0.2 2.3,2.3M635.5,638.6q0.8,2.6 2.6,4.6M639.9,668.1q-2.1,2.5 -3.5,-0.4M651.8,585.3q0,-2.5 2.2,-3.8M664.7,644.5q-1.4,2.9 1.8,3.5M633.1,619q3.2,0.9 2.6,4.2M634.8,652q-5,0.1 -3,4.7M611.2,600.2q2.8,1.6 0.1,3.3M668.3,585.7q0.6,-2.7 3.3,-2.3M682.3,593.6q-5.2,2.3 -0.6,5.7M664,619.2q0.1,3 0,5.9M638.5,658.5q3.2,1.2 1.2,4M619.7,605.4q-3.3,1.6 -2.3,5.2M674.4,597.5q2.9,0.6 2.7,3.5M670.8,622.5q-0.3,-2.5 -2.1,-4.3M623.4,577.3q-0.5,3 -1.9,5.6M649.1,587.9q4.3,1 2.5,5M638.2,607.8q1.5,-1.7 3.6,-1.2M596.2,603.5q-3.1,3.5 1,5.8M603.1,598.8q-0.1,3 2.9,2.4M659.3,606.2q2.9,1.4 2.5,-1.8M630.6,661q-3,2.1 -1.5,5.5M657.5,648.6q-3.6,-1.7 -1.3,-5M681.1,596q-1.4,5.7 -5.7,1.7M664.2,573.6q-1.6,1.7 0,3.3M600.3,596.1q-0.7,1.8 -1.6,3.5M653.2,592.1q4.6,-0.6 2,-4.4M640.6,640.9q-1.2,1.7 -1,3.7M602.4,609.2q-2.1,3.2 1.5,4.8M632.5,610.6q-1.7,0.5 -3.5,-0.1M621.6,634.6q1.5,-0.7 2.2,-2.3M652.9,648.7q3.7,0.6 1.4,3.5M647.1,607.4q-3.2,0.1 -1.5,2.8M672.4,598.6q-1.3,2.8 -4.2,4M657.9,605.4q-3.1,-0.7 -2.3,2.4M663,651.5q-2.2,1.6 -0.1,3.3M654.4,574.6q-4.2,2.2 -0.6,5.3M659,635.3q2,2.5 1.2,5.6M648.8,659.4q2.6,-0.4 4.3,1.6M656.4,593.6q2,3 -0.3,5.8M661.9,589.1q4,-0.3 2.3,3.4M648.8,600.6q-2.6,1.5 -0.6,3.8M632.3,573.7q-2.3,3.4 1.5,4.9M665.5,579.1q-4.1,0.4 -2,3.9M643.3,605.1q0.9,-2.8 -2,-2.6M656.6,588.4q2.4,1.9 3.9,4.5M644,654.2q2.7,-0.1 2.7,-2.8M673.8,586.8q-2.4,0.2 -4.3,-1.2M660.3,653.8q-3,0.5 -1.9,3.4M631.4,653.7q4,3.9 -1.4,5.4M636.6,598.1q-2.7,3 0.3,5.8M657.4,570.1q-2.6,3.9 1.8,5.3M603.5,608.3q-2.7,-4.1 -5.8,-0.2M636.4,634.1q-4.3,-2.2 -0.5,-5.3M623.4,636.7q-2.7,-2.1 -2.2,-5.5M650.9,635.7q-0.7,2.4 1.3,3.9M625.9,604.8q0.6,1.9 0.9,3.9M623.7,619.5q-3,1.5 -1.5,4.4M617.3,602.4q2.2,2.8 -1,4.4M595.8,599.3q-3,0.2 -1.5,2.8M648.1,643q-2.9,1.7 -0.1,3.5M622.4,632.8q-1.3,3.5 2.3,4.5M634.1,623.8q0.2,-2 1.7,-3.4M642.7,592.6q-3.6,0.7 -2.6,-2.8M619.3,642.7q-2,1.8 -1,4.4M618.5,637.5q3.5,1.4 0.5,3.7M632,632.9q3.1,-0.3 3.9,2.8M656.1,591.4q1.8,1.6 3.2,3.5M639.1,597.7q4.3,0.8 1.6,4.2M656.3,655.1q-2,-1.6 -3.1,0.7M647.3,635.2q0.7,1.9 1.3,3.9M639.3,566.3q-1.6,1.2 -1.8,3.2M651.8,669.4q-1.2,2.7 -0.3,5.5M625.8,573.4q1.5,2.7 0.3,5.5M632.1,629.4q-0.7,2.9 -0.6,5.8M674.1,610.6q-3.2,3.1 0.6,5.4M649.9,577.3q0.2,1.7 0.2,3.4M599.3,599.8q2.7,2.5 0.1,5.2M623.2,649.6q2.3,4.9 5.7,0.7M663.5,622.3q0.2,2.2 -1.8,2.8M664,610.4q2.8,2.3 1.2,5.6M634.9,567q2.4,-0.8 5,-0.2M641.2,676.4q-2,-0.4 -3.4,1M638,631.5q2.9,4.6 5.9,0.1M641.6,627.5q1.8,-1.5 2,-3.9M648.7,670.2q-1.1,2 0.8,3.4M643.8,659.1q5.2,2 4.6,-3.5M641.8,574.8q1,-4.1 -3.2,-4.6M666.2,629q-1.9,2.9 -0.1,5.8M661.8,592.4q1.6,3.3 4.7,1.4M640.7,675.4q1.3,2.8 4.3,2.4" fill="none" stroke="#10d8d8" stroke-width="1.0" stroke-linecap="round"/>
<path d="M620.3,595.9q1.9,2.3 2.3,5.2M641.3,624.9q-3.2,-1.4 -3.1,-4.9M612.6,592.1q-1,3.4 -3.5,0.9M646.9,585q1.5,1.7 0.2,3.5M659.4,596.6q-2.2,1.6 -0.4,3.6M605.2,601.1q4.7,1.6 1.7,5.6M629.1,568.8q2.1,1 1.2,3.2M646,616.4q-0.3,1.7 0.1,3.5M648.7,599.7q-2.7,-2.1 -2.2,-5.4M636,648.3q0.5,2.5 0.2,5M638.5,584.7q-1.9,0.4 -3.8,0M618.8,631q-0.9,2.3 1.2,3.6M646.5,670.3q4.9,1.8 1.6,5.8M670.2,601.2q2.5,0.9 0.9,2.9M633.5,640.1q0.8,2.6 -0.9,4.7M664.4,606.7q-4.3,2.4 -0.5,5.4M651.5,644.8q-0.5,-2.8 2.3,-2.5M665.4,584.6q-2,0.9 -1.4,3M630.2,605.8q0.3,3.1 2.7,5.2M630,659.9q-2.3,2.6 0.9,3.9M668.1,612.6q1.8,3 5,1.7M608.9,592q2.1,-3.1 -1.3,-4.8M670.2,621.2q0,2 -0.2,4.1M622,596.8q1.5,-1.9 3.8,-3M655.7,652.4q2,2.5 0,5.1M626.6,589.3q1.7,-3.5 4.1,-0.4M621.6,643.2q4.1,-0.6 3.6,3.5M648.8,594.1q-0.8,3.9 3,2.9M639.1,578q-1.5,3 1.8,3.8M635.8,598.2q-4.8,-0.2 -3.5,4.5M651.2,605.1q-0.9,3.5 2.6,4.7M639.8,658.4q2.2,1.7 -0.1,3.2M633.6,568q-1.9,-0.1 -3.5,-1.2M637.3,634.1q2.9,3.7 -1.6,4.9M669.9,627.9q-1.6,2.4 -0.2,5M629.8,578.6q-3.3,0.8 -2,4M640.6,569.3q-0.6,2.4 0.9,4.4M627.3,579.8q0.9,3.8 -2.8,2.6M679.3,607.1q-0.3,2.5 1.5,4.3M648.1,603.5q-1.1,2.9 1.9,3M638.7,606.2q-1.3,-1.4 -0.1,-3M637,565.7q-2,5 3.4,4.6M603.7,593.2q2,-0.1 2.5,1.8M595.6,601.9q0.4,1.8 1.5,3.2M642.1,637.7q3,1.9 -0.2,3.5M654.9,599.8q-0.4,3 2.6,2.4M647.2,615q-2.2,-1.6 -4.2,0.1M630.2,597.4q3.5,3.7 -1.5,4.8M646.3,654.2q-2.2,0.4 -3.1,2.5M652.9,652.7q-2.2,2.1 -2.4,5.1M621.5,597.5q-0.6,2 1.3,2.9M638.6,664.3q2,2.6 0.1,5.2M651.9,659.8q2.1,-3.8 -1.9,-5.4M653.5,663.2q-3,2.2 -1.1,5.4M642.3,658.3q-2.1,1.4 -0.8,3.5M652,623.8q3.5,-1.1 1.7,-4.3M626.2,575.9q1.3,2.9 -1.6,4.2M611.8,586.4q2.4,1.8 0.1,3.7M670.3,599.5q0.6,1.6 0.5,3.3M653.5,588q-2.7,-5 3,-5M620.3,598.6q-4.5,2.2 -0.9,5.8M643.8,664.5q1.7,1 2.4,2.8M653.4,568.1q-3.5,0.5 -4.6,-2.9M637.5,626.3q4.6,1.3 1.3,4.7M657.5,659.1q-1,-2.9 1.2,-4.9M648.8,654.5q-1.4,3.4 1.6,5.6M635.3,648.9q-0.8,2.9 -2.6,5.3M654.8,623.9q2.3,1.7 3.5,-0.8M666.8,615.5q-3.7,-3.3 0.9,-5.1M622,587.3q1.4,1.6 3.3,0.8M635.2,585.1q2.8,3 -0.9,4.8M640.2,646.8q0.9,-2.1 -0.1,-4.1M653.7,603.4q0.9,2 0,4M628.3,568.1q-1.3,-4.3 3.2,-3.8M632.4,613.6q0.8,3.1 -0.7,5.9M603.3,596.1q1.3,1.4 1.4,3.4M655.7,578.7q0.7,2.5 -1.3,4.1M664.5,614.6q-0.6,2.4 -1.5,4.7M633.5,583.6q-0.8,-3.1 -4,-3.1M627.6,660.8q-1.1,4.5 3.5,3.9M635.2,598.4q0.5,3.5 4,4M657.6,622.1q-0.2,-1.7 0.9,-3.1M663.3,598.1q2.4,-0.7 3.3,1.7M638.8,624.8q1.2,2.8 -1.7,3.9M643.8,626.4q1.8,2.2 -0.1,4.3M661.1,619.6q-1.8,1.6 -1.8,3.9M640.6,627.3q2.4,3.1 -1.4,4.2M656.9,608q-1.6,-3.3 -5,-2M662.8,584.1q0.4,2.4 2.7,3.1M663.6,574.9q0.9,-2.9 3.7,-1.6M674.7,601.4q2.5,0.5 1.7,2.9M636.3,619.7q1.2,1.6 0.6,3.6M605.6,602.9q-5,0.7 -2,4.7M658.7,601.9q3.2,0.6 1.1,3.1M624.4,624.2q3,1.1 2,4.2M631,658.2q-1.3,-5.8 4.3,-4M625.1,616.6q1.2,2.4 0.1,4.8M645.6,661.7q-3.3,3.7 1.4,5.2M609.9,592.6q-1.1,2.1 0.8,3.5M648.1,659.9q-2.2,2 -3.1,5M658.5,615.6q-3.3,2.1 -0.4,4.7M630,642q-2.9,1.8 0,3.5M659.3,642.6q-3.1,1 -1.4,3.8M667.6,617.5q2.6,0.6 1.7,3.1M637.7,614.3q-2.2,1.7 -0.4,3.8M647.2,608.8q2,1.5 4.1,2.7M649.1,585.8q2.7,-1.7 3.4,1.4M645.8,653.4q0.2,3 2.6,4.7M638.9,663q2.1,0.6 2,2.8M623.7,648.1q3.7,0.3 4.2,4M672.9,583.8q1.4,2.5 4.3,2.9M630.3,657.8q-2.7,0.7 -4.7,-1.1M662.1,634.9q4.2,0.4 3,-3.6M643,601.2q-1.1,2.7 -2.7,5.1M619.8,634.1q-2.4,-2.3 -4.4,0.4M631.7,592.5q2.6,3.1 -0.4,5.9M624,655.1q-2.1,0.2 -3,2.1M678.4,601.9q-1,2.9 -0.3,5.9M655.2,619.7q2.5,0.7 5.1,0.6M627.2,590q-1.8,-0.9 -3.6,0.1M653,579.5q-1.2,1.4 -0.5,3.2M651.2,571.1q3.3,-0.9 1.7,-3.9M652.7,620.7q-2.5,3.7 1.9,4.4M668.4,578q2.4,-0.2 3.1,2.1M622.2,612.4q2.2,2 -0.1,3.9M637.8,655.4q-0.3,2 -1.6,3.5M642.7,634.2q-1.9,0.1 -3.7,0.8M660.3,623.7q1.4,-1.9 -0.2,-3.7M643.1,565.5q1.6,3.9 -2.4,5.1M667.6,592.8q1.5,2.7 -1,4.6" fill="none" stroke="#0ab4b8" stroke-width="1.0" stroke-linecap="round"/>
<path d="M654.8,604.7q-1,1.9 -0.6,3.9M631.2,567q-0.7,2.3 -0.9,4.6M626.7,602.7q0.4,1.5 1.1,2.9M662.9,641.1q2.6,0.9 1.1,3.2M637.1,663.6q-1.7,-4.5 -4.7,-0.7M643.9,621.3q2.5,1.1 5.2,0.8M613.6,604.5q-0.7,1.5 -2.3,2.1M659.6,635.6q2.7,-1.7 3.3,-4.8M641.9,586.2q1.4,2.4 3,4.6M679.9,594.4q-1.8,2.4 -2.2,5.3M663,603.2q-4.2,0 -3.9,4.2M668.7,623.4q-3.7,0.1 -2.2,3.5M644.3,610.5q-0.5,-3.1 2.6,-3.5M667,590.6q2.8,1.7 1.3,4.6M626.6,608.1q0.7,1.6 1.9,2.8M624.5,656.3q2.6,-1.4 3,-4.3M644.3,582.7q1.9,3.3 -1.9,3.7M626.8,577.2q0.9,3.3 -2.5,3.4M657.9,656.5q-1.5,3.4 -4.4,1M616.2,629.4q3.1,0.5 1.7,3.3M630.6,593.2q1.2,1.6 0,3.3M649.5,610.6q3.2,-1.8 0.4,-4.1M639.2,600.4q-2.4,2.2 0.7,3.3M642.1,579.4q2.8,1.3 0.5,3.4M626.7,638.7q-2.6,3 -4.8,-0.4M635.7,589.2q-2.7,3.6 -5.2,-0.1M667.5,594q-2.5,0.8 -1,3M667.3,622.7q-4.1,2.6 0.2,4.9M642.6,638.3q-0.5,2.7 1.6,4.5M651.6,614.5q-1.8,0 -3.7,-0.1M667.9,635.5q2.2,2.3 0.1,4.6M658.2,602.4q-3.2,0.6 -4.9,3.4M643.5,574.7q1.3,-1.6 2.7,-3M630.8,569.1q2.2,3.4 -1.5,4.9M635.8,639.8q3.3,-0.6 3.6,2.7M646.5,642.1q-3.9,4.3 1.8,5.5M643.9,565.1q-1.8,2.3 1,3.3M643,668.6q1.3,3 -1.4,4.9M647.5,626.9q4.2,2 0.7,5.1M661.6,586.8q-4.2,3.6 0.9,5.7M656.2,655.7q3.2,-1.6 4.4,1.8M627.2,660.5q0.9,2.7 2.2,5.1M673.8,603.9q-3.5,-1.2 -1.2,-4M646.9,608.4q-3.4,2 -2,5.6M633.8,613.3q-1.7,3.2 1.2,5.5M628.4,615.1q-1.8,3.9 2.4,4.6M628.9,646.5q0.1,1.7 -0.8,3.2M665.1,636.4q-0.3,1.6 -0.2,3.2M637,607.9q-2.7,2.1 0.4,3.6M632.2,580.4q2.9,-1.7 3.4,1.6M657.4,637.4q1.1,-2.1 3.5,-1.6M639.9,583.2q2.8,-0.5 2.7,2.3M654.8,644.3q-2.5,1.6 -2.1,4.6M656,583.5q4.6,0.9 1.7,4.6M673.4,602.6q2.4,2.9 -0.5,5.3M640.3,600.7q-1,-1.8 0.2,-3.6M663.4,635.1q-0.8,5.2 4.2,3.5M645.4,633.5q2.7,2.4 -0.2,4.4M610.6,584.9q2.6,2.8 0.5,5.9M635.6,635.9q2,-2.1 4,-0.1M647.6,575.2q-2.2,1.9 -3.5,4.5M674.9,611.4q-2.3,5.1 -5.5,0.5M651.7,581.6q2,-2 4,0.1M646.2,671.6q-4.3,-0.5 -3.6,3.8M649.3,649.5q-2.1,-1 -1.1,-3.1M643.5,634.2q4.7,-1.6 4.7,3.3M636.7,619.1q-0.9,5.3 -5.1,2M639.3,664.7q-0.6,1.5 -0.7,3M646.9,640.4q1.9,1.7 3.3,-0.4M653.6,596.5q-3.4,3 0.9,4.5M642.6,642.1q-2.9,0.6 -5,-1.3M647.6,663.5q1.2,-3.6 -2.5,-4.2M645.9,666.5q3.2,0.1 1.9,3M635.3,594q-3.1,2.4 -4.2,-1.4M677.5,589.3q-0.1,3.2 2.4,5.3M657.3,584q2,-4.2 5.3,-0.9M648.6,664q2.3,-1.6 4.8,-0.4M618.7,630.6q2.8,-2 3.2,1.4M631.9,593.2q-1.3,2.6 -2.3,5.3M650.4,603.7q1,2.5 3,4.4M636.5,617.2q-0.4,3.5 -4,3.6M660.4,603.4q-1.9,1.5 -0.9,3.8M645.3,634.7q-0.6,2.1 -2.6,2.7M630,636.3q2.8,0.2 2,2.9M610.1,588.8q2,2.2 -0.8,3.2M626.7,635q2.4,2.1 4.7,-0.2M640.3,572.1q-2.7,2.6 0.4,4.5M631.2,664.7q2.7,4.4 -2.5,4.7M678.8,599.7q-0.1,-2.4 -2.5,-2.6M625.4,574.6q2.5,1.2 1.1,3.6M641.5,634.2q-1.3,-3.3 -4.2,-1.2M646.9,614.9q-0.4,2.5 1.8,3.8M616.7,600.9q-3.4,1.7 -2,5.2M611.6,591.1q-1,-2.6 -3.2,-0.9M623.7,606.9q-2.3,-1.1 -3,1.4M648.8,589.4q-0.4,-4.2 3.6,-2.7M644.6,630.7q2.7,2.6 -0.8,4M636.5,569.5q0.1,2.2 2.2,3M638.4,631.5q2.9,0.6 1.4,3.2M636.7,582.9q4.6,0.8 3.2,-3.7M645.5,602.6q0.1,2.2 0.2,4.4M636.1,625.2q0.1,3.1 2.2,5.2M613.5,587.2q-2.7,3.1 -5.9,0.5M652.2,659.8q-2.8,2.4 0.3,4.4M665.2,614.3q2.1,1.2 2.4,3.5M631.5,649.1q3,0.7 1.2,3.3M650.7,632.1q3.2,3 4.5,-1.2M619.5,609.5q-3.8,1.4 -3.5,-2.6M660.4,634.7q1.8,0 3.3,-1.1M670.8,582.5q0.6,3.2 -1.6,5.5M646.2,677.5q-2.8,-0.9 -5.5,-0.1M651.2,644q3.5,4 5.1,-1M643.3,673.2q-2.2,-1.6 -0.4,-3.6M627.2,630.3q2.9,4.6 -2.5,5M651.6,627.8q3.8,1.7 0.7,4.4M642.3,623.7q-0.8,-2.9 2.2,-2.9M656,583.4q2.1,1.1 2.9,3.2M647,673q-0.8,2 -2.2,3.6M626,630.3q-2.9,-0.2 -2.3,2.6M634.6,597.5q0.4,2.4 1.1,4.7M638.6,675.6q0.9,2.4 0.9,5M641.1,645.1q3.6,0.1 1.9,3.2M662.4,650.1q-2.1,1.1 -4.3,1.8M620.2,591.3q3.2,-1.2 3.9,2.2M642.4,617.6q-3.3,1.4 -2.5,4.9M654.2,638.5q-1,-2.1 -0.2,-4.3M640.3,617.6q-1.5,1.6 0,3.2M668.4,598.1q-1,2.6 -3.7,3.4M637.6,658.1q1.1,-1.1 2.1,-2.2M660.8,571.3q-2.3,3.7 2.1,4.1M662.1,627.7q3.3,2.5 0.5,5.6M648.7,626.1q2.4,0 2.2,2.5M606.9,607.2q5.6,0.9 2.2,5.4M653.7,642.7q-1.9,-1.9 -3.5,0.3M630.6,587.7q0.3,2.2 1.4,4.2M614.7,612.4q0.6,2.2 -1.6,2.6M654.2,573.4q0.5,2.1 0.3,4.2M641.8,666.2q-0.3,2.4 2.2,2.8M641.1,608.5q0.7,-5.4 -4.5,-3.9" fill="none" stroke="#5ae8e8" stroke-width="1.0" stroke-linecap="round"/>
<path d="M601.87,365.93C604.4,364.04 609.45,366.41 611.35,368.78C613.25,371.15 612.77,376.05 613.25,380.16C613.72,384.26 614.19,389.95 614.19,393.43C614.19,396.9 614.98,401.33 613.25,401.01C611.51,400.7 606.61,395.01 603.77,391.53C600.92,388.06 596.5,384.42 596.18,380.16C595.87,375.89 599.34,367.83 601.87,365.93Z" fill="#8a8af0" opacity="0.45" filter="url(#pblur)"/>
<path d="M612.8,399.2q-1,1.3 -1.8,2.7M603.8,383.9q1.8,2.3 -1,2.9M608.4,371.7q-1,1.9 0.3,3.6M600.5,385.1q-0.1,2.5 2.1,1.3M607.5,379.7q1.2,0.9 0.3,2M609.7,378.1q2.3,0.2 1.9,2.5M600.9,385.2q0.2,1.1 0.9,2.1M608,380.5q-3.9,1.1 -3.3,-3M602.2,385.6q-2.4,1.1 -0.3,2.7M599.3,381.7q1.9,0.9 3.6,2M602.9,387.7q-0.7,1.9 1.1,2.6M611.6,375q3.2,2 -0.1,3.9M607.2,378.6q-2.1,-1.1 -3.8,0.6M612.3,376.3q2.7,2.6 -0.6,4.2M608.1,384.6q-2.1,-0.5 -3.9,-1.6M606.8,380.5q-0.4,2 -1.6,3.7M603.4,378.8q2.2,1.3 4.7,0.5M612.7,400.4q2.5,1.8 -0.1,3.3M609.1,371q-1.5,1.7 0,3.4M603.8,390q3.6,-1.1 3.5,2.7M613.1,384.9q0.7,-1.4 -0.2,-2.7M608.7,376.8q2.4,1.6 3.6,-1M607.6,383.9q-1.7,-2.3 -4.5,-2.2M612.8,389.1q1.5,2.9 -1.7,3.6M605,391.8q0.9,1.8 0.3,3.8M606.4,386q-0.7,3.1 -3.6,1.6M611,389.4q-0.8,-3 2.2,-3.6M605.6,384.8q-1.8,3 1.4,4.6M602.6,373.1q1.5,3.1 4.6,1.8M614,393.2q-0.5,1.2 -0.4,2.4M608.9,389.6q3.1,-1.5 1.5,-4.5M603.5,389.3q1.6,-1.4 -0.3,-2.5M610.4,385.2q-1.8,1.2 -1.1,3.3M600.6,369.2q1.2,2.4 -1,4M603.3,386.9q3.9,2.9 -0.5,4.9M612.6,395.7q-1,2.5 0.6,4.6M605.3,387.9q-1.1,1.1 -1.4,2.6M612.8,383.6q0.6,1.3 0,2.5M610.5,395.5q2.1,1 2,3.3M605.4,373.8q0.7,0.9 1.7,1.4M604.8,368.6q-2.4,-1.7 -3.4,1.1M606.8,391.2q1,1.8 -1,2.6M608.6,369.2q0.2,1.4 -1.1,2M603.1,370.6q0.3,1.9 2.2,2.3M603.1,380.3q-3.9,-0.7 -3.1,3.2M601.1,374.2q-1.9,-0.8 -2.4,-2.9M603.7,382.3q0.6,1.6 1.2,3.2M597.6,380.4q1.4,1.8 0.7,4M609.8,391.3q1.4,-2.8 -1.7,-3.6M608.6,395.3q-1.9,0.3 -0.7,1.9" fill="none" stroke="#1c1cd0" stroke-width="1.0" stroke-linecap="round"/>
<path d="M609.3,375.3q-4,0.8 -3.4,-3.2M606.8,389q-0.1,2.4 -1.9,3.8M608.1,377q-2.2,-0.3 -4.1,0.7M606.7,368.8q-3,0.7 -4.4,-2M604.4,373.6q0,-1.7 -1.7,-1.6M608.6,385.5q2.3,-1 2,1.5M606,380.8q-1.2,-3.4 2.4,-2.9M613.4,394q-1.6,1.1 0.1,2.1M605.7,376.4q-1.9,0.4 -1,2M603,366.6q-1.4,1.6 -3.4,2.1M612.2,389.4q-0.1,2.2 -1.8,3.6M601.1,378.6q1.4,-0.5 1.2,-1.9M611.6,373.2q-1,1.7 -1.6,3.5M605,378.2q-1.4,-0.5 -1.5,-2M603.2,379.4q1,3 3.1,0.7M609.7,387.2q1.7,2.7 -0.7,4.9M602.6,386.4q2.2,3.5 -1.9,4.2M601,387q3.7,1.5 1.1,4.6M609,371.1q-1.3,2.3 1.1,3.5M609.9,381.6q1.8,0.5 2.5,-1.2M610.2,390.2q0.7,-2.3 -0.5,-4.3M613.2,388.2q-0.6,1.7 -0.9,3.5M608.3,372.2q2,-2.4 -0.7,-4.1M610.2,389.3q2,1.8 0.1,3.8M613.7,390q-2.4,1.5 -1.2,4M602.3,385q3.7,2.2 0.1,4.5M612.4,386.7q-1.9,0.8 -0.6,2.5M611.8,378.4q-0.4,-1.5 -1.4,-2.6M609.3,395.5q0.7,0.8 1.4,1.6M608.9,375.8q1.1,1.1 0.5,2.5M606.8,392.5q-0.5,1.3 0.1,2.5M603.8,373q-4.7,-0.4 -2.7,4M601.1,375.3q-0.1,2 0,4.1M603.6,377.4q0.3,-1.8 -1.5,-1.6M613.2,395.7q1.3,1.7 -0.2,3.3M603.8,388.8q1,1.3 2.7,1.3M599.2,377.9q-2.2,2.2 -0.3,4.7M605.8,374.1q-3,-0.3 -2.1,2.6M609.9,394.5q-1.1,-0.1 -2.1,-0.6M608.4,377.5q0.1,1.1 0.6,2M597.9,379.4q2.8,1.6 0.4,3.8M602.2,385.7q0.6,1.6 -0.7,2.7M608.3,391q-0.6,2.3 1.8,2.3M602.4,379.3q0.3,1.2 -0.1,2.4M612.9,391.2q-0.9,-1.1 -2.3,-1.2" fill="none" stroke="#3030e0" stroke-width="1.0" stroke-linecap="round"/>
<path d="M607.56,366.88C608.51,365.3 616.72,370.04 618.93,372.57C621.15,375.1 618.93,379.21 620.83,382.05C622.73,384.9 629.99,387.11 630.31,389.64C630.63,392.16 625.25,396.27 622.73,397.22C620.2,398.17 616.72,397.85 615.14,395.32C613.56,392.8 614.51,386.79 613.25,382.05C611.98,377.31 606.61,368.46 607.56,366.88Z" fill="#f09090" opacity="0.45" filter="url(#pblur)"/>
<path d="M623.8,392.4q1.3,0.8 2.6,0M621.5,387.5q-0.7,1.1 -0.1,2.2M625.7,391.7q-3.7,1.2 -1,4.1M620.7,390.7q2,0.9 0.9,2.8M613.3,372.5q-2.7,-0.7 -2.5,2.1M616,371.3q0,1.1 0.5,2.1M616.7,378.8q-1.6,1.5 -3.8,1.2M625.4,392.5q1.4,2.1 -0.9,3.2M610.1,369.4q2.4,0.3 4.9,0.7M628.2,391q0.5,1.1 1,2.2M618,378.4q2.2,0.3 1.1,2.2M610.6,369.9q0.7,2 2.5,3M621.8,391.3q-3.8,0.4 -2.4,3.9M617.7,394.9q-1.2,2.2 -3.5,1.2M612.4,374.6q2.3,1.7 1.2,4.4M614,384.5q2.5,-1.9 4.5,0.5M629.3,390.1q-1.2,-0.8 -2.6,-0.6M621.3,386.6q3.2,-2.4 -0.5,-4M618.4,378.5q-1.5,-0.2 -2.8,-0.7M626.3,392.7q2.2,3.1 -1.3,4.4M619,382.9q-3,2.4 0.4,4.3M617.2,372.6q-3.4,1.5 -0.5,3.8M618.4,373.5q-0.5,2.6 2.1,3M616.5,393.8q-0.8,0.8 -1.8,1.4M620.5,383q1.6,3 -1.3,4.8M627.2,388.8q-2.3,1.7 0.2,3.1M620.9,386.4q-3.6,-0.9 -3.2,2.8M614.3,378.6q-0.8,-2.5 1.8,-2.7M610,371.6q2.5,3 -1.3,4.2M610.2,371.4q1.8,0.8 3.4,-0.4M614.7,377.9q4.3,-0.2 3,3.9M615.1,390.3q-1.1,1 -1.9,2.3M613.5,377.6q2.5,2.9 -0.9,4.7M613.5,374.1q-4.7,0.8 -1.7,4.4M618.8,385.6q1.8,1.4 1.2,3.7M623.2,389.8q3.1,0.3 3.7,3.4M626.5,390q0.8,-1.4 2.3,-1.7M624.3,394.8q-2.5,1.2 -0.4,3M624,391.4q-2,-3.2 -3.8,0.1M614.2,383.6q2.1,1.2 0.8,3.2M626.6,390.3q-1.8,2.2 1,2.8M614.9,372.4q-0.7,-1.7 0.2,-3.2M619.3,393.2q-1.7,1.9 -3.1,-0.2M621.3,388.5q1.4,2.2 3.9,1.4M613.4,381.5q2,2 -0.6,3.1M617.9,373.9q-2.6,1.7 0.1,3.2" fill="none" stroke="#d01818" stroke-width="1.0" stroke-linecap="round"/>
<path d="M618.2,388.8q-2.6,1 -1,3.3M618.4,374.8q1.3,1.3 -0.3,2.2M622.2,386.6q0.3,-1.6 0.9,-3.1M627.4,388.2q-1.4,-1.5 0.5,-2.2M623.7,391.5q2.1,0.7 1.4,2.9M621.1,382.7q-0.7,1.6 0.6,2.9M611.4,372.6q0.8,1 0.1,2M623,389.6q-2.6,0.2 -1.3,2.4M622,384.1q-3,3 1,4.3M625.1,390.5q2.2,2.5 -1,3.5M627.2,390.3q1.8,-0.5 1.9,1.4M614.2,371q1.1,3 4.1,2M617.1,382.7q-1.8,-0.5 -2.6,1.2M625.2,386.5q-2.1,2 0.5,3.3M614.1,379q2.9,0.1 3.1,3M617.3,379.1q1.2,-2.4 3.7,-3.2M615.5,382.4q0.9,-3.7 -2.9,-3.1M616.7,371.9q1.5,-0.2 3.1,-0.1M614.8,391.8q-1.3,1.2 -3,1.9M624.5,388.8q-2.1,1.3 -2.5,3.8M617.8,389.3q-1.8,0.3 -3.4,-0.6M613.8,371.6q-3.8,0.1 -1.9,3.4M619.8,377.1q0.9,1.8 -1.1,2.2M627.5,391q0.4,1.6 1.4,2.9M621.2,391.7q0.1,2.9 2.8,3.9M623.2,386.9q-2,1.5 0.1,2.8M617,385.1q0.2,1.2 0,2.4M613.7,375.8q-0.8,2 0.9,3.4M614.4,384.8q-0.7,-1.8 1.2,-2.1M617.5,394.9q-1.8,-1.8 0.3,-3.2M626.4,387.5q-1,1.8 -2.1,3.5M614.8,388.2q2.9,0.5 1.7,3.2M621.8,385.2q-0.1,-2.3 2.1,-3M610.3,372.9q2.6,-0.8 3.8,1.6M618.7,374.7q2.6,0.3 2,2.8M613.5,379.8q0.6,1 0.7,2.2M629.2,390.7q-0.6,1.9 1.4,2.1M618.8,375.2q-1.3,2 -3.6,1.1M620.5,389.3q-0.9,1.9 -2.6,2.9M613.6,375.7q-2,0 -3.3,1.4M612.6,372q-1.3,0.4 -1.9,1.6M620.4,392.8q-0.3,-2.7 2.3,-2.3M615.7,386.3q-0.4,-2.4 1.9,-1.7M617.5,385.5q-2.3,0.3 -2.7,2.5M616.2,381q-2.4,1.2 -0.3,2.9M610,372q-2.1,3.8 2.3,3.9M617.8,392.3q-1.3,0.5 -1.3,2M609.5,371.7q1.1,1.4 2,2.8M617.1,386.4q-0.2,2.3 -2.2,3.6" fill="none" stroke="#b00c0c" stroke-width="1.0" stroke-linecap="round"/>
<path d="M666.34,365.93C667.92,364.04 678.66,364.83 681.51,366.88C684.35,368.94 684.03,374.78 683.4,378.26C682.77,381.74 679.93,384.26 677.71,387.74C675.5,391.22 672.03,398.48 670.13,399.12C668.23,399.75 666.02,395.01 666.34,391.53C666.65,388.06 672.03,382.53 672.03,378.26C672.03,373.99 664.76,367.83 666.34,365.93Z" fill="#f0a0a0" opacity="0.4" filter="url(#pblur)"/>
<path d="M676,369.1q-1.3,2 0.4,3.7M674.3,369.4q0.8,1.8 0.6,3.7M677.9,386.5q-1.2,0.2 -1.8,1.3M673.8,382.3q2.1,1.9 0.8,4.4M673.7,385.1q3,2.3 -0.1,4.5M672.6,378q-1.4,1.1 -3.2,0.7M681.2,374.7q1.9,3.1 4.8,0.9M676.1,371.8q0,2 2,1.9M671,369q-2.1,2.1 0.4,3.6M679.9,378.1q0.6,1.9 2.3,0.8M671.2,390.6q0.6,1.4 1,2.9M667.5,367.7q1.2,1.5 2.6,2.7M677.1,375.6q-0.2,1.2 -1.2,1.9M676.5,369.8q1.5,1.9 3.1,3.7M669.1,389q-0.4,2 -0.8,4.1M681.6,379q1.1,3.8 -2.8,4.1M672.5,394.6q-1.4,-1.6 -2.9,-3M681.5,380q-0.8,1.3 0.4,2.1M674.6,380.2q-2,-1.4 -4.1,-2.8M672.6,391.2q3.1,-1.6 0.2,-3.4M675.7,383.7q1.9,-1.7 2.6,-4.2M674.8,387.8q1.6,2.3 -0.8,3.8M672.3,375.3q-0.7,-2.8 1.7,-4.5M676.4,389.5q2.1,-1.4 3.2,-3.7M675.6,384.3q-0.2,1.7 -1.8,2M673.1,372.8q-1.2,-1.4 0.5,-2M679.8,374.8q1.5,2.1 0.5,4.5M674.1,373.3q-0.5,1.2 0.4,2M668.8,386.4q2.4,0.9 2.1,-1.7M676.3,384.4q1.6,0.9 2.2,2.5M672.6,393.3q2.5,0.2 3.9,2.3M668.3,367.4q1,-3 3.7,-1.5M670.4,395.4q0.8,1.1 0.4,2.4M678.1,380.3q-1.3,2.4 -3.9,2M681.5,373.7q0.8,-0.8 1.5,-1.6M677.4,372q1,1.2 0.3,2.7M674.8,380.2q3.7,1.6 1.1,4.7M673.4,379.3q-1.8,-1.6 -3.8,-0.3M668.6,387.4q-3.2,-1.6 -1.1,-4.4M675.6,371.5q0.5,1.5 2,1.5M672.6,393.8q-2.1,1.5 -2.8,4M671.1,396.6q-0.2,2.2 0.2,4.4M673,368.5q2.8,2.1 0.1,4.4" fill="none" stroke="#c01c1c" stroke-width="1.0" stroke-linecap="round"/>
<path d="M680.7,373q2.4,2.2 0.5,4.8M675.6,368.5q-2.4,2.6 0.7,4.3M679.2,373.2q0.9,-2.3 3,-1M675.2,371.4q-2.1,1.6 0.2,2.8M674.9,373.6q2.1,-1 2,1.3M680.3,367.6q2,3.3 -1.7,4.5M680.1,372.6q2.7,1.4 4.1,-1.2M670.1,372q1.2,1.3 -0.2,2.4M671.9,392.1q-0.2,1.5 0.7,2.7M681.1,368q-1.3,-0.8 -2.1,0.5M667,367.1q1.7,-1.6 3.3,-3.3M675.1,385.1q-2.4,1.3 -1.1,3.6M679.5,383.5q-2.5,0.9 -0.8,2.9M675.5,380.3q-0.1,1.8 0.6,3.4M671.9,375.4q-1.9,-0.6 -1.6,1.4M676.9,388.1q-0.8,-1.3 0.4,-2.2M682.4,372.9q-2,1.3 0.1,2.3M677.7,386.9q0.4,-1.2 1.7,-1.1M668.8,389.5q0.7,2.3 2.8,1M675.1,390.2q-1,-2.5 -3.6,-1.5M668.8,392.3q1.5,-0.8 2.1,0.9M672.6,377.4q0.3,1.4 1.6,1.7M673.6,391.4q2.7,-2.2 3.5,1.2M674.4,380.6q-1.9,-0.2 -1.5,1.6M677.7,376q-2.4,2.6 0.9,4M671.5,394.4q0.6,1.4 -0.1,2.8M677.8,386.3q-2.2,2.1 0.7,3M674.4,368.3q2.8,2.3 4.9,-0.6M677.8,368.2q-0.2,1.9 -0.7,3.7M671.4,394.2q1.2,0.8 1.2,2.2M675.8,371.6q1.9,-0.4 1.6,-2.3M678.3,377.3q1.5,2.1 -0.9,3.2M672.2,373.2q-0.2,-1.6 -1.8,-1.2M674.6,376.6q-1.6,0.9 -3.5,0.9M668.8,390.6q1.2,3 -1.7,4.5M678.9,372.3q-1.6,0.4 -2.3,1.9M674.5,378.4q-0.5,1.7 0.6,3" fill="none" stroke="#a01010" stroke-width="1.0" stroke-linecap="round"/>
<path d="M666.34,365.93C668.23,366.88 672.03,373.99 672.03,378.26C672.03,382.53 668.23,389.32 666.34,391.53C664.44,393.74 662.7,392.48 660.65,391.53C658.59,390.58 654.01,389 654.01,385.84C654.01,382.68 658.59,375.89 660.65,372.57C662.7,369.25 664.44,364.99 666.34,365.93Z" fill="#d0d0f8" opacity="0.4" filter="url(#pblur)"/>
<path d="M663.1,382.2q-3.1,0.8 -2.2,4M660.6,387.1q1.5,-0.1 2.8,-0.6M664.9,369.9q0,2.6 2.6,2.6M655.9,386q1.7,0.8 0.4,2.1M660.3,378q1,0.5 2.1,0.4M666.6,379.1q1.5,0.9 0.3,2.1M659.8,378q1.2,0.7 2.5,1.1M667.7,369.6q-1.5,1.4 -2.5,3.1M661.3,388.6q-3,2 -0.8,4.9M664.8,371.9q-1.5,2.1 0,4.1M665,374.1q-2.7,1.5 -1.3,4.3M667.4,383.5q3.9,-0.5 3.3,3.4M667.8,383.7q-2.7,0.5 -3.8,2.9M665.7,375.4q1.2,2.2 -0.4,4.1M659,381.3q2,3.2 -1.6,4M663.2,373q1,2.5 3.5,3.3M666.8,385q-2.3,4.4 2.6,4.1M664.7,379.1q1.9,0.9 2.2,3M667.6,384.8q-2.4,-0.1 -4.6,-0.6M661.5,373.5q-1.1,1.6 0.4,2.8M668.5,370.6q1.2,1.5 2.1,3.1M666.8,384.1q0.3,1.5 0.6,3.1M656.7,383.4q-1.6,2.6 1.5,2.6M669.3,380.5q-1,3.1 2.2,2.4M664.4,375.2q2.1,0.9 0.3,2.4" fill="none" stroke="#9898e0" stroke-width="1.0" stroke-linecap="round"/>
<path d="M667.5,371.1q-0.2,-1.5 -1.7,-1.3M666,387.8q-1.3,2 0.7,3.4M663.2,382.4q-1.6,-0.7 -1.6,-2.5M661.8,383.7q1.4,0.2 2.5,-0.8M661.3,375.4q3.8,2.3 0.2,5M666.2,373q0.6,2.3 2.6,3.6M668.8,378.1q0.2,1 -0.1,2.1M659.3,388.9q3.7,0.2 3.1,-3.4M663.8,386.6q1.2,-1.1 1.3,-2.7M658.2,387.4q-0.5,1.7 0.4,3.1M656.1,385q2.2,0 1.1,1.9M661.5,383.2q0,-3.4 -3,-1.7M668,372.4q0,2.4 1.9,3.8M667.9,377.9q-0.2,2.1 -1.2,3.9M664.3,388.2q-2.8,-0.1 -1.9,2.6M664,373.6q-1,3.3 -3.4,0.8M656.6,382.5q-1.9,1.1 -2.2,3.2M663.2,380.6q0.7,0.9 0.3,2M668.1,380.9q0.5,-2 2.6,-1.8M660.4,378.6q-3.2,0.3 -3,3.6M665.6,378.3q-2.6,-1.5 -2.9,1.5M659.2,382.1q-2.6,2 0.3,3.6M670.6,378.4q1.5,2 1.4,4.5M670.3,378.3q-1.9,0.1 -1.9,2M668.8,383q0.2,1.1 0.6,2M660.1,375.3q2.9,3.4 -1.3,4.8M670.4,380.6q-1.4,-0.3 -2.8,-0.2M656.2,385.6q-2.8,0.6 -1,2.7M659.4,382.7q2.8,2.2 -0.5,3.5M661.4,385.2q-1.2,2.1 1,3.3M666,376.7q2.2,-1.1 3,1.2M661.1,373.2q-0.5,2.7 -3,3.8M662.5,377.5q-1.4,-2.2 0.6,-3.9M660.6,377q-2.2,0.2 -1.1,2.2M667.3,373.9q-3.8,0.1 -2,3.5" fill="none" stroke="#b8b8f0" stroke-width="1.0" stroke-linecap="round"/>
<g fill="url(#spr)"><circle cx="611.49" cy="406.25" r="2"/><circle cx="614.12" cy="407.68" r="2"/><circle cx="614.47" cy="404.99" r="2"/><circle cx="616.07" cy="406.68" r="2"/><circle cx="617.03" cy="405.99" r="2"/><circle cx="620.15" cy="403.18" r="2"/><circle cx="620.96" cy="403.67" r="2"/><circle cx="622.1" cy="405.33" r="2"/><circle cx="622.53" cy="401.5" r="2"/></g>
<g fill="url(#spg)"><circle cx="649.65" cy="393.35" r="2"/><circle cx="651.79" cy="396.39" r="2"/><circle cx="653.81" cy="396.31" r="2"/><circle cx="653.71" cy="396.11" r="2"/><circle cx="657.71" cy="396.73" r="2"/><circle cx="659.41" cy="398.59" r="2"/><circle cx="658.1" cy="396.56" r="2"/><circle cx="660.24" cy="398.15" r="2"/><circle cx="658.31" cy="401.46" r="2"/><circle cx="662.07" cy="402.98" r="2"/></g>
<g fill="url(#spr)"><circle cx="608.12" cy="503.51" r="2.4"/><circle cx="610.77" cy="500.4" r="2.4"/><circle cx="610.13" cy="505.04" r="2.4"/><circle cx="612.86" cy="499.13" r="2.4"/><circle cx="611.48" cy="502.31" r="2.4"/><circle cx="610.97" cy="504.83" r="2.4"/><circle cx="611.85" cy="500.39" r="2.4"/><circle cx="615.85" cy="501.64" r="2.4"/><circle cx="611.39" cy="498.76" r="2.4"/><circle cx="613.62" cy="496.44" r="2.4"/><circle cx="615.19" cy="501.63" r="2.4"/><circle cx="614.42" cy="502.25" r="2.4"/><circle cx="619.11" cy="499.65" r="2.4"/><circle cx="617.81" cy="495.87" r="2.4"/><circle cx="613.49" cy="502.5" r="2.4"/><circle cx="615.95" cy="496.05" r="2.4"/><circle cx="621.48" cy="500.03" r="2.4"/><circle cx="615.92" cy="496.29" r="2.4"/><circle cx="617.51" cy="495.58" r="2.4"/><circle cx="616.25" cy="497.28" r="2.4"/><circle cx="619.27" cy="495.92" r="2.4"/><circle cx="618.95" cy="493.33" r="2.4"/><circle cx="618.36" cy="499.12" r="2.4"/><circle cx="624.71" cy="496.29" r="2.4"/><circle cx="620.35" cy="492.69" r="2.4"/><circle cx="620.95" cy="493.72" r="2.4"/><circle cx="621.08" cy="493.07" r="2.4"/><circle cx="622.88" cy="492.1" r="2.4"/><circle cx="627.12" cy="493.9" r="2.4"/><circle cx="626.31" cy="492.79" r="2.4"/><circle cx="627.34" cy="496.71" r="2.4"/><circle cx="626" cy="491.5" r="2.4"/><circle cx="627.9" cy="494.49" r="2.4"/><circle cx="630.8" cy="492.85" r="2.4"/><circle cx="632.05" cy="492.59" r="2.4"/><circle cx="629.92" cy="496.53" r="2.4"/><circle cx="628.61" cy="500.61" r="2.4"/><circle cx="632.22" cy="495.31" r="2.4"/><circle cx="631.07" cy="499.41" r="2.4"/><circle cx="627.89" cy="495.73" r="2.4"/><circle cx="632.95" cy="501.37" r="2.4"/><circle cx="632.35" cy="499.42" r="2.4"/><circle cx="633.21" cy="498.64" r="2.4"/><circle cx="636.6" cy="503.65" r="2.4"/><circle cx="633.87" cy="495.52" r="2.4"/><circle cx="633.62" cy="501.17" r="2.4"/><circle cx="633.48" cy="494.99" r="2.4"/><circle cx="632.79" cy="499.23" r="2.4"/><circle cx="636.72" cy="495.23" r="2.4"/><circle cx="637.16" cy="498.42" r="2.4"/><circle cx="640.33" cy="498.38" r="2.4"/><circle cx="636.51" cy="497.6" r="2.4"/><circle cx="640.87" cy="497.48" r="2.4"/></g>
<g fill="url(#spg)"><circle cx="653.64" cy="493.56" r="2.4"/><circle cx="656.61" cy="495.46" r="2.4"/><circle cx="657.7" cy="491.6" r="2.4"/><circle cx="658.98" cy="491.78" r="2.4"/><circle cx="655.43" cy="489.32" r="2.4"/><circle cx="657.66" cy="489.51" r="2.4"/><circle cx="656.87" cy="492.38" r="2.4"/><circle cx="661.11" cy="493.12" r="2.4"/><circle cx="657.25" cy="488.2" r="2.4"/><circle cx="659.23" cy="491.31" r="2.4"/><circle cx="664.02" cy="492.78" r="2.4"/><circle cx="665.49" cy="491.11" r="2.4"/><circle cx="664.08" cy="489.66" r="2.4"/><circle cx="662.49" cy="489.65" r="2.4"/><circle cx="664.59" cy="492.94" r="2.4"/><circle cx="665.46" cy="492.05" r="2.4"/><circle cx="665.04" cy="491.64" r="2.4"/><circle cx="668.31" cy="494.47" r="2.4"/><circle cx="668.46" cy="496.61" r="2.4"/><circle cx="665.88" cy="492.45" r="2.4"/><circle cx="666.5" cy="498.4" r="2.4"/><circle cx="670.56" cy="495.55" r="2.4"/><circle cx="671.06" cy="495.69" r="2.4"/><circle cx="672.07" cy="494.76" r="2.4"/><circle cx="671.63" cy="501.6" r="2.4"/><circle cx="669.85" cy="498.85" r="2.4"/><circle cx="668.28" cy="498.37" r="2.4"/><circle cx="669.39" cy="499.29" r="2.4"/><circle cx="668.66" cy="500.09" r="2.4"/><circle cx="669.31" cy="502.41" r="2.4"/><circle cx="671.77" cy="501.17" r="2.4"/><circle cx="676.23" cy="502.11" r="2.4"/><circle cx="674.24" cy="506.46" r="2.4"/><circle cx="676.6" cy="507.33" r="2.4"/><circle cx="676.4" cy="507.06" r="2.4"/><circle cx="673.51" cy="506.51" r="2.4"/><circle cx="676.17" cy="504.08" r="2.4"/></g>
<g fill="url(#spy)"><circle cx="639.1" cy="576.76" r="2.2"/><circle cx="640.51" cy="578.49" r="2.2"/><circle cx="638.49" cy="580.15" r="2.2"/><circle cx="640.33" cy="580.15" r="2.2"/><circle cx="641.69" cy="582.24" r="2.2"/><circle cx="639.56" cy="580.45" r="2.2"/><circle cx="642.34" cy="582.53" r="2.2"/><circle cx="642.99" cy="582.33" r="2.2"/><circle cx="644.53" cy="581.44" r="2.2"/></g>
<g fill="url(#spg)"><circle cx="606.74" cy="600.53" r="2.2"/><circle cx="610.85" cy="599.81" r="2.2"/><circle cx="611.12" cy="599.19" r="2.2"/><circle cx="608.41" cy="597.6" r="2.2"/><circle cx="610.68" cy="597.69" r="2.2"/><circle cx="612.65" cy="596.46" r="2.2"/><circle cx="614.26" cy="596.13" r="2.2"/><circle cx="616.71" cy="597.67" r="2.2"/><circle cx="615.51" cy="596.36" r="2.2"/><circle cx="619.22" cy="593.9" r="2.2"/><circle cx="616.65" cy="593.93" r="2.2"/><circle cx="620.84" cy="593.58" r="2.2"/><circle cx="619.16" cy="593.98" r="2.2"/></g>
<g fill="url(#spr)"><circle cx="656.85" cy="600.82" r="2.2"/><circle cx="656.36" cy="605.83" r="2.2"/><circle cx="657.33" cy="605.24" r="2.2"/><circle cx="656.12" cy="605.58" r="2.2"/><circle cx="655.42" cy="605.33" r="2.2"/><circle cx="656.07" cy="609" r="2.2"/><circle cx="653.83" cy="608.95" r="2.2"/><circle cx="656.57" cy="610.24" r="2.2"/><circle cx="658.11" cy="613.93" r="2.2"/><circle cx="657.86" cy="610.3" r="2.2"/><circle cx="654.27" cy="612.28" r="2.2"/></g>
<g fill="url(#spg)"><circle cx="605.58" cy="708.21" r="2.4"/><circle cx="607.02" cy="703.15" r="2.4"/><circle cx="607.01" cy="706.83" r="2.4"/><circle cx="606.17" cy="703.84" r="2.4"/><circle cx="603.08" cy="704.76" r="2.4"/><circle cx="603.22" cy="710.4" r="2.4"/><circle cx="605.42" cy="713.14" r="2.4"/><circle cx="607.18" cy="703.19" r="2.4"/><circle cx="607.91" cy="706.82" r="2.4"/><circle cx="602.11" cy="706.47" r="2.4"/><circle cx="600.76" cy="704.15" r="2.4"/><circle cx="607.92" cy="707.87" r="2.4"/><circle cx="613.75" cy="706.6" r="2.4"/><circle cx="601.94" cy="704.46" r="2.4"/><circle cx="605.2" cy="707.66" r="2.4"/><circle cx="613.9" cy="698.74" r="2.4"/><circle cx="612.65" cy="701.09" r="2.4"/><circle cx="605.33" cy="702.84" r="2.4"/><circle cx="608.73" cy="700.34" r="2.4"/><circle cx="607.05" cy="701.91" r="2.4"/><circle cx="612.92" cy="698.07" r="2.4"/><circle cx="609.14" cy="698.71" r="2.4"/><circle cx="614.1" cy="698.49" r="2.4"/><circle cx="614.58" cy="695.31" r="2.4"/><circle cx="616.42" cy="700.16" r="2.4"/><circle cx="617.77" cy="704.61" r="2.4"/><circle cx="616.92" cy="694.32" r="2.4"/><circle cx="616.03" cy="700.42" r="2.4"/><circle cx="618.16" cy="700.63" r="2.4"/><circle cx="611.48" cy="704.68" r="2.4"/><circle cx="620.24" cy="695.46" r="2.4"/><circle cx="609.53" cy="698" r="2.4"/><circle cx="616.52" cy="694.02" r="2.4"/><circle cx="615.92" cy="698.64" r="2.4"/></g>
<g fill="url(#spy)"><circle cx="637.84" cy="696.61" r="2.4"/><circle cx="637.86" cy="697.22" r="2.4"/><circle cx="641.71" cy="700.24" r="2.4"/><circle cx="638.8" cy="697.86" r="2.4"/><circle cx="638.21" cy="702.97" r="2.4"/><circle cx="639.54" cy="704.16" r="2.4"/><circle cx="637.51" cy="695.94" r="2.4"/><circle cx="641.18" cy="700.59" r="2.4"/><circle cx="644.64" cy="705.56" r="2.4"/><circle cx="642.42" cy="700.4" r="2.4"/><circle cx="644.63" cy="702.52" r="2.4"/><circle cx="640.21" cy="701.65" r="2.4"/><circle cx="637.54" cy="706.06" r="2.4"/><circle cx="637.88" cy="701.37" r="2.4"/><circle cx="643.52" cy="706.22" r="2.4"/><circle cx="643.4" cy="706.88" r="2.4"/><circle cx="645.12" cy="710.52" r="2.4"/><circle cx="646.68" cy="705.47" r="2.4"/><circle cx="640.41" cy="703.48" r="2.4"/><circle cx="641.11" cy="704.38" r="2.4"/><circle cx="646.03" cy="710.72" r="2.4"/><circle cx="639.56" cy="710.18" r="2.4"/><circle cx="644.71" cy="704.34" r="2.4"/><circle cx="646.33" cy="710.77" r="2.4"/><circle cx="643.48" cy="712.96" r="2.4"/><circle cx="640.15" cy="703.95" r="2.4"/><circle cx="647.02" cy="710.35" r="2.4"/><circle cx="640.35" cy="709.84" r="2.4"/><circle cx="646.73" cy="707.65" r="2.4"/><circle cx="642.61" cy="712.14" r="2.4"/><circle cx="650.78" cy="709.6" r="2.4"/></g>
<g fill="url(#spr)"><circle cx="668.73" cy="695.27" r="2.4"/><circle cx="663.9" cy="689.23" r="2.4"/><circle cx="674.01" cy="693.93" r="2.4"/><circle cx="664.71" cy="690.96" r="2.4"/><circle cx="672.85" cy="692.49" r="2.4"/><circle cx="663.36" cy="698" r="2.4"/><circle cx="664.35" cy="695.7" r="2.4"/><circle cx="669.61" cy="694.22" r="2.4"/><circle cx="673.25" cy="691.6" r="2.4"/><circle cx="669.2" cy="691.42" r="2.4"/><circle cx="673.04" cy="692.26" r="2.4"/><circle cx="667.93" cy="700.34" r="2.4"/><circle cx="671.88" cy="692.76" r="2.4"/><circle cx="671.69" cy="701.46" r="2.4"/><circle cx="665.38" cy="701.01" r="2.4"/><circle cx="664.28" cy="694.89" r="2.4"/><circle cx="663.87" cy="697.03" r="2.4"/><circle cx="671.46" cy="699.15" r="2.4"/><circle cx="673.54" cy="704.34" r="2.4"/><circle cx="665.27" cy="699.72" r="2.4"/><circle cx="663.95" cy="701.81" r="2.4"/><circle cx="670.24" cy="702.26" r="2.4"/><circle cx="664.8" cy="702.99" r="2.4"/><circle cx="665.35" cy="705.95" r="2.4"/><circle cx="669.48" cy="698.23" r="2.4"/><circle cx="675.47" cy="707.96" r="2.4"/><circle cx="668.64" cy="708.24" r="2.4"/><circle cx="668.42" cy="704.32" r="2.4"/><circle cx="671.88" cy="707.58" r="2.4"/><circle cx="666.2" cy="699.81" r="2.4"/><circle cx="666.92" cy="704.14" r="2.4"/><circle cx="673.9" cy="708.38" r="2.4"/><circle cx="666.18" cy="709.01" r="2.4"/><circle cx="666.93" cy="701.65" r="2.4"/><circle cx="669.97" cy="711.96" r="2.4"/><circle cx="674.52" cy="707.3" r="2.4"/><circle cx="673.19" cy="705.1" r="2.4"/><circle cx="666.02" cy="714.02" r="2.4"/><circle cx="671.5" cy="705.89" r="2.4"/><circle cx="667.68" cy="713" r="2.4"/><circle cx="664.46" cy="707.07" r="2.4"/></g>
<path d="M938.95,390.6h9.84v8.27h-9.84zM948.49,398.57h9.84v8.27h-9.84zM958.03,406.54h9.84v8.27h-9.84zM967.57,414.51h9.84v8.27h-9.84zM977.11,422.48h9.84v8.27h-9.84zM986.65,430.45h9.84v8.27h-9.84zM996.19,438.42h9.84v8.27h-9.84zM1005.73,446.39h9.84v8.27h-9.84zM1015.27,454.36h9.84v8.27h-9.84zM1024.81,462.33h9.84v8.27h-9.84zM1034.35,470.3h9.84v8.27h-9.84zM1043.89,478.27h9.84v8.27h-9.84zM1053.43,486.24h9.84v8.27h-9.84zM1062.97,494.21h9.84v8.27h-9.84zM1072.51,502.18h9.84v8.27h-9.84zM1082.05,510.15h9.84v8.27h-9.84zM1091.59,518.12h9.84v8.27h-9.84zM1101.13,526.09h9.84v8.27h-9.84zM1110.67,534.06h9.84v8.27h-9.84zM1120.21,542.03h9.84v8.27h-9.84zM1129.75,550h9.84v8.27h-9.84zM1139.29,557.97h9.84v8.27h-9.84zM1148.83,565.94h9.84v8.27h-9.84zM1158.37,573.91h9.84v8.27h-9.84zM1167.91,581.88h9.84v8.27h-9.84zM1177.45,589.85h9.84v8.27h-9.84zM1186.99,597.82h9.84v8.27h-9.84zM1196.53,605.79h9.84v8.27h-9.84zM1206.07,613.76h9.84v8.27h-9.84zM1215.61,621.73h9.84v8.27h-9.84z" fill="#333a96"/>
<path d="M938.95,398.57h9.84v8.27h-9.84z" fill="#d3222a"/>
<path d="M938.95,406.54h9.84v8.27h-9.84zM948.49,406.54h9.84v8.27h-9.84zM948.49,414.51h9.84v8.27h-9.84zM938.95,422.48h9.84v8.27h-9.84zM948.49,422.48h9.84v8.27h-9.84zM938.95,430.45h9.84v8.27h-9.84zM948.49,430.45h9.84v8.27h-9.84zM938.95,438.42h9.84v8.27h-9.84zM948.49,438.42h9.84v8.27h-9.84zM938.95,446.39h9.84v8.27h-9.84zM948.49,446.39h9.84v8.27h-9.84zM938.95,454.36h9.84v8.27h-9.84zM948.49,454.36h9.84v8.27h-9.84zM938.95,462.33h9.84v8.27h-9.84zM948.49,462.33h9.84v8.27h-9.84zM938.95,470.3h9.84v8.27h-9.84zM948.49,470.3h9.84v8.27h-9.84zM938.95,478.27h9.84v8.27h-9.84zM948.49,478.27h9.84v8.27h-9.84zM938.95,486.24h9.84v8.27h-9.84zM948.49,486.24h9.84v8.27h-9.84zM938.95,494.21h9.84v8.27h-9.84zM948.49,494.21h9.84v8.27h-9.84zM938.95,502.18h9.84v8.27h-9.84zM948.49,502.18h9.84v8.27h-9.84zM938.95,510.15h9.84v8.27h-9.84zM948.49,510.15h9.84v8.27h-9.84zM938.95,518.12h9.84v8.27h-9.84zM948.49,518.12h9.84v8.27h-9.84zM938.95,526.09h9.84v8.27h-9.84zM948.49,526.09h9.84v8.27h-9.84zM938.95,534.06h9.84v8.27h-9.84zM948.49,534.06h9.84v8.27h-9.84zM948.49,542.03h9.84v8.27h-9.84zM938.95,550h9.84v8.27h-9.84zM948.49,550h9.84v8.27h-9.84zM938.95,557.97h9.84v8.27h-9.84zM948.49,557.97h9.84v8.27h-9.84zM938.95,565.94h9.84v8.27h-9.84zM948.49,565.94h9.84v8.27h-9.84zM938.95,573.91h9.84v8.27h-9.84zM948.49,573.91h9.84v8.27h-9.84zM938.95,581.88h9.84v8.27h-9.84zM948.49,581.88h9.84v8.27h-9.84zM938.95,589.85h9.84v8.27h-9.84zM948.49,589.85h9.84v8.27h-9.84zM938.95,597.82h9.84v8.27h-9.84zM948.49,597.82h9.84v8.27h-9.84zM1091.59,597.82h9.84v8.27h-9.84zM1110.67,597.82h9.84v8.27h-9.84zM938.95,605.79h9.84v8.27h-9.84zM948.49,605.79h9.84v8.27h-9.84zM938.95,613.76h9.84v8.27h-9.84zM948.49,613.76h9.84v8.27h-9.84zM938.95,621.73h9.84v8.27h-9.84zM948.49,621.73h9.84v8.27h-9.84z" fill="#a50026"/>
<path d="M938.95,414.51h9.84v8.27h-9.84zM938.95,542.03h9.84v8.27h-9.84z" fill="#b5142a"/>
<path d="M958.03,414.51h9.84v8.27h-9.84zM958.03,438.42h9.84v8.27h-9.84zM986.65,438.42h9.84v8.27h-9.84zM958.03,446.39h9.84v8.27h-9.84zM986.65,446.39h9.84v8.27h-9.84zM996.19,454.36h9.84v8.27h-9.84zM986.65,462.33h9.84v8.27h-9.84zM958.03,470.3h9.84v8.27h-9.84zM986.65,470.3h9.84v8.27h-9.84zM1005.73,470.3h9.84v8.27h-9.84zM958.03,478.27h9.84v8.27h-9.84zM977.11,478.27h9.84v8.27h-9.84zM986.65,478.27h9.84v8.27h-9.84zM996.19,478.27h9.84v8.27h-9.84zM1015.27,478.27h9.84v8.27h-9.84zM1034.35,478.27h9.84v8.27h-9.84zM977.11,486.24h9.84v8.27h-9.84zM986.65,486.24h9.84v8.27h-9.84zM996.19,486.24h9.84v8.27h-9.84zM1034.35,486.24h9.84v8.27h-9.84zM986.65,494.21h9.84v8.27h-9.84zM1005.73,494.21h9.84v8.27h-9.84zM1034.35,494.21h9.84v8.27h-9.84zM996.19,502.18h9.84v8.27h-9.84zM1015.27,502.18h9.84v8.27h-9.84zM1053.43,502.18h9.84v8.27h-9.84zM986.65,510.15h9.84v8.27h-9.84zM1005.73,510.15h9.84v8.27h-9.84zM1043.89,510.15h9.84v8.27h-9.84zM1053.43,510.15h9.84v8.27h-9.84zM1072.51,510.15h9.84v8.27h-9.84zM958.03,518.12h9.84v8.27h-9.84zM977.11,518.12h9.84v8.27h-9.84zM1005.73,518.12h9.84v8.27h-9.84zM1015.27,518.12h9.84v8.27h-9.84zM1024.81,518.12h9.84v8.27h-9.84zM1062.97,518.12h9.84v8.27h-9.84zM977.11,526.09h9.84v8.27h-9.84zM1034.35,526.09h9.84v8.27h-9.84zM1053.43,526.09h9.84v8.27h-9.84zM1072.51,526.09h9.84v8.27h-9.84zM958.03,534.06h9.84v8.27h-9.84zM996.19,534.06h9.84v8.27h-9.84zM1053.43,534.06h9.84v8.27h-9.84zM1062.97,534.06h9.84v8.27h-9.84zM1091.59,534.06h9.84v8.27h-9.84zM958.03,542.03h9.84v8.27h-9.84zM996.19,542.03h9.84v8.27h-9.84zM1024.81,542.03h9.84v8.27h-9.84zM1034.35,542.03h9.84v8.27h-9.84zM1072.51,542.03h9.84v8.27h-9.84zM1110.67,542.03h9.84v8.27h-9.84zM958.03,550h9.84v8.27h-9.84zM1062.97,550h9.84v8.27h-9.84zM1082.05,550h9.84v8.27h-9.84zM1101.13,550h9.84v8.27h-9.84zM1110.67,550h9.84v8.27h-9.84zM1120.21,550h9.84v8.27h-9.84zM977.11,557.97h9.84v8.27h-9.84zM996.19,557.97h9.84v8.27h-9.84zM1024.81,557.97h9.84v8.27h-9.84zM1034.35,557.97h9.84v8.27h-9.84zM1062.97,557.97h9.84v8.27h-9.84zM1082.05,557.97h9.84v8.27h-9.84zM1091.59,557.97h9.84v8.27h-9.84zM1110.67,557.97h9.84v8.27h-9.84zM1120.21,557.97h9.84v8.27h-9.84zM977.11,565.94h9.84v8.27h-9.84zM1015.27,565.94h9.84v8.27h-9.84zM1024.81,565.94h9.84v8.27h-9.84zM1043.89,565.94h9.84v8.27h-9.84zM977.11,573.91h9.84v8.27h-9.84zM1043.89,573.91h9.84v8.27h-9.84zM1072.51,573.91h9.84v8.27h-9.84zM1091.59,573.91h9.84v8.27h-9.84zM1139.29,573.91h9.84v8.27h-9.84zM977.11,581.88h9.84v8.27h-9.84zM1015.27,581.88h9.84v8.27h-9.84zM1053.43,581.88h9.84v8.27h-9.84zM1120.21,581.88h9.84v8.27h-9.84zM1129.75,581.88h9.84v8.27h-9.84zM1139.29,581.88h9.84v8.27h-9.84zM977.11,589.85h9.84v8.27h-9.84zM986.65,589.85h9.84v8.27h-9.84zM1005.73,589.85h9.84v8.27h-9.84zM1015.27,589.85h9.84v8.27h-9.84zM1082.05,589.85h9.84v8.27h-9.84zM1101.13,589.85h9.84v8.27h-9.84zM1158.37,589.85h9.84v8.27h-9.84zM958.03,605.79h9.84v8.27h-9.84zM1024.81,605.79h9.84v8.27h-9.84zM1043.89,605.79h9.84v8.27h-9.84zM1062.97,605.79h9.84v8.27h-9.84zM1091.59,605.79h9.84v8.27h-9.84zM1129.75,605.79h9.84v8.27h-9.84zM996.19,613.76h9.84v8.27h-9.84zM1005.73,613.76h9.84v8.27h-9.84zM1015.27,613.76h9.84v8.27h-9.84zM1043.89,613.76h9.84v8.27h-9.84zM1072.51,613.76h9.84v8.27h-9.84zM1091.59,613.76h9.84v8.27h-9.84zM1167.91,613.76h9.84v8.27h-9.84zM1072.51,621.73h9.84v8.27h-9.84zM1196.53,621.73h9.84v8.27h-9.84z" fill="#e0f3f8"/>
<path d="M958.03,422.48h9.84v8.27h-9.84zM967.57,470.3h9.84v8.27h-9.84zM967.57,494.21h9.84v8.27h-9.84zM958.03,502.18h9.84v8.27h-9.84zM977.11,502.18h9.84v8.27h-9.84zM1024.81,502.18h9.84v8.27h-9.84zM1043.89,502.18h9.84v8.27h-9.84zM996.19,510.15h9.84v8.27h-9.84zM1034.35,518.12h9.84v8.27h-9.84zM958.03,526.09h9.84v8.27h-9.84zM967.57,526.09h9.84v8.27h-9.84zM967.57,534.06h9.84v8.27h-9.84zM1062.97,542.03h9.84v8.27h-9.84zM986.65,550h9.84v8.27h-9.84zM967.57,557.97h9.84v8.27h-9.84zM1101.13,573.91h9.84v8.27h-9.84zM1148.83,581.88h9.84v8.27h-9.84zM996.19,589.85h9.84v8.27h-9.84zM986.65,597.82h9.84v8.27h-9.84zM1015.27,597.82h9.84v8.27h-9.84zM1024.81,597.82h9.84v8.27h-9.84zM1043.89,597.82h9.84v8.27h-9.84zM1053.43,597.82h9.84v8.27h-9.84zM1072.51,597.82h9.84v8.27h-9.84zM1148.83,597.82h9.84v8.27h-9.84zM1158.37,597.82h9.84v8.27h-9.84zM1177.45,605.79h9.84v8.27h-9.84zM1186.99,605.79h9.84v8.27h-9.84zM967.57,613.76h9.84v8.27h-9.84zM1186.99,613.76h9.84v8.27h-9.84zM1148.83,621.73h9.84v8.27h-9.84zM1186.99,621.73h9.84v8.27h-9.84z" fill="#fdae61"/>
<path d="M967.57,422.48h9.84v8.27h-9.84zM977.11,454.36h9.84v8.27h-9.84zM1005.73,454.36h9.84v8.27h-9.84zM977.11,470.3h9.84v8.27h-9.84zM1005.73,478.27h9.84v8.27h-9.84zM1024.81,478.27h9.84v8.27h-9.84zM967.57,486.24h9.84v8.27h-9.84zM1005.73,486.24h9.84v8.27h-9.84zM1024.81,486.24h9.84v8.27h-9.84zM977.11,494.21h9.84v8.27h-9.84zM996.19,494.21h9.84v8.27h-9.84zM1043.89,494.21h9.84v8.27h-9.84zM986.65,502.18h9.84v8.27h-9.84zM1034.35,502.18h9.84v8.27h-9.84zM1062.97,502.18h9.84v8.27h-9.84zM1024.81,510.15h9.84v8.27h-9.84zM1062.97,510.15h9.84v8.27h-9.84zM1053.43,518.12h9.84v8.27h-9.84zM1072.51,518.12h9.84v8.27h-9.84zM1082.05,518.12h9.84v8.27h-9.84zM986.65,526.09h9.84v8.27h-9.84zM996.19,526.09h9.84v8.27h-9.84zM1015.27,526.09h9.84v8.27h-9.84zM1062.97,526.09h9.84v8.27h-9.84zM1091.59,526.09h9.84v8.27h-9.84zM977.11,534.06h9.84v8.27h-9.84zM986.65,534.06h9.84v8.27h-9.84zM1005.73,534.06h9.84v8.27h-9.84zM1015.27,534.06h9.84v8.27h-9.84zM1024.81,534.06h9.84v8.27h-9.84zM1101.13,534.06h9.84v8.27h-9.84zM986.65,542.03h9.84v8.27h-9.84zM1005.73,542.03h9.84v8.27h-9.84zM1091.59,542.03h9.84v8.27h-9.84zM977.11,550h9.84v8.27h-9.84zM1005.73,550h9.84v8.27h-9.84zM1034.35,550h9.84v8.27h-9.84zM1043.89,550h9.84v8.27h-9.84zM1053.43,550h9.84v8.27h-9.84zM1043.89,557.97h9.84v8.27h-9.84zM1072.51,557.97h9.84v8.27h-9.84zM1101.13,557.97h9.84v8.27h-9.84zM958.03,565.94h9.84v8.27h-9.84zM986.65,565.94h9.84v8.27h-9.84zM1082.05,565.94h9.84v8.27h-9.84zM1091.59,565.94h9.84v8.27h-9.84zM1120.21,565.94h9.84v8.27h-9.84zM1139.29,565.94h9.84v8.27h-9.84zM967.57,573.91h9.84v8.27h-9.84zM986.65,573.91h9.84v8.27h-9.84zM996.19,573.91h9.84v8.27h-9.84zM1005.73,573.91h9.84v8.27h-9.84zM1034.35,573.91h9.84v8.27h-9.84zM1053.43,573.91h9.84v8.27h-9.84zM1082.05,573.91h9.84v8.27h-9.84zM1120.21,573.91h9.84v8.27h-9.84zM958.03,581.88h9.84v8.27h-9.84zM986.65,581.88h9.84v8.27h-9.84zM996.19,581.88h9.84v8.27h-9.84zM1005.73,581.88h9.84v8.27h-9.84zM1024.81,581.88h9.84v8.27h-9.84zM1043.89,581.88h9.84v8.27h-9.84zM1072.51,581.88h9.84v8.27h-9.84zM1091.59,581.88h9.84v8.27h-9.84zM1101.13,581.88h9.84v8.27h-9.84zM1158.37,581.88h9.84v8.27h-9.84zM1043.89,589.85h9.84v8.27h-9.84zM1072.51,589.85h9.84v8.27h-9.84zM1139.29,589.85h9.84v8.27h-9.84zM1167.91,589.85h9.84v8.27h-9.84zM977.11,605.79h9.84v8.27h-9.84zM986.65,605.79h9.84v8.27h-9.84zM996.19,605.79h9.84v8.27h-9.84zM1110.67,605.79h9.84v8.27h-9.84zM1120.21,605.79h9.84v8.27h-9.84zM1139.29,605.79h9.84v8.27h-9.84zM1158.37,605.79h9.84v8.27h-9.84zM1167.91,605.79h9.84v8.27h-9.84zM958.03,613.76h9.84v8.27h-9.84zM977.11,613.76h9.84v8.27h-9.84zM1024.81,613.76h9.84v8.27h-9.84zM1034.35,613.76h9.84v8.27h-9.84zM1062.97,613.76h9.84v8.27h-9.84zM1082.05,613.76h9.84v8.27h-9.84zM1101.13,613.76h9.84v8.27h-9.84zM1110.67,613.76h9.84v8.27h-9.84zM1120.21,613.76h9.84v8.27h-9.84zM1158.37,613.76h9.84v8.27h-9.84z" fill="#abd9e9"/>
<path d="M958.03,430.45h9.84v8.27h-9.84zM977.11,430.45h9.84v8.27h-9.84zM977.11,446.39h9.84v8.27h-9.84zM958.03,454.36h9.84v8.27h-9.84zM958.03,462.33h9.84v8.27h-9.84zM977.11,462.33h9.84v8.27h-9.84zM1005.73,462.33h9.84v8.27h-9.84zM1015.27,462.33h9.84v8.27h-9.84zM996.19,470.3h9.84v8.27h-9.84zM1015.27,470.3h9.84v8.27h-9.84zM1015.27,486.24h9.84v8.27h-9.84zM1043.89,486.24h9.84v8.27h-9.84zM1015.27,494.21h9.84v8.27h-9.84zM1053.43,494.21h9.84v8.27h-9.84zM1005.73,502.18h9.84v8.27h-9.84zM977.11,510.15h9.84v8.27h-9.84zM1015.27,510.15h9.84v8.27h-9.84zM1043.89,518.12h9.84v8.27h-9.84zM1005.73,526.09h9.84v8.27h-9.84zM1082.05,526.09h9.84v8.27h-9.84zM1072.51,534.06h9.84v8.27h-9.84zM977.11,542.03h9.84v8.27h-9.84zM1043.89,542.03h9.84v8.27h-9.84zM1053.43,542.03h9.84v8.27h-9.84zM996.19,550h9.84v8.27h-9.84zM1091.59,550h9.84v8.27h-9.84zM986.65,557.97h9.84v8.27h-9.84zM996.19,565.94h9.84v8.27h-9.84zM1005.73,565.94h9.84v8.27h-9.84zM1034.35,565.94h9.84v8.27h-9.84zM1053.43,565.94h9.84v8.27h-9.84zM1110.67,565.94h9.84v8.27h-9.84zM1129.75,565.94h9.84v8.27h-9.84zM958.03,573.91h9.84v8.27h-9.84zM1024.81,573.91h9.84v8.27h-9.84zM1110.67,573.91h9.84v8.27h-9.84zM1129.75,573.91h9.84v8.27h-9.84zM1062.97,581.88h9.84v8.27h-9.84zM1082.05,581.88h9.84v8.27h-9.84zM1034.35,589.85h9.84v8.27h-9.84zM1110.67,589.85h9.84v8.27h-9.84zM1120.21,589.85h9.84v8.27h-9.84zM1129.75,589.85h9.84v8.27h-9.84zM1148.83,589.85h9.84v8.27h-9.84zM996.19,621.73h9.84v8.27h-9.84zM1043.89,621.73h9.84v8.27h-9.84zM1062.97,621.73h9.84v8.27h-9.84zM1082.05,621.73h9.84v8.27h-9.84zM1091.59,621.73h9.84v8.27h-9.84zM1101.13,621.73h9.84v8.27h-9.84zM1139.29,621.73h9.84v8.27h-9.84zM1158.37,621.73h9.84v8.27h-9.84zM1167.91,621.73h9.84v8.27h-9.84zM1177.45,621.73h9.84v8.27h-9.84zM1206.07,621.73h9.84v8.27h-9.84z" fill="#ffffbf"/>
<path d="M967.57,430.45h9.84v8.27h-9.84zM967.57,438.42h9.84v8.27h-9.84zM967.57,454.36h9.84v8.27h-9.84zM1015.27,550h9.84v8.27h-9.84zM1062.97,565.94h9.84v8.27h-9.84zM1101.13,565.94h9.84v8.27h-9.84zM1062.97,573.91h9.84v8.27h-9.84zM1148.83,573.91h9.84v8.27h-9.84zM1034.35,597.82h9.84v8.27h-9.84zM967.57,605.79h9.84v8.27h-9.84zM967.57,621.73h9.84v8.27h-9.84zM977.11,621.73h9.84v8.27h-9.84zM986.65,621.73h9.84v8.27h-9.84zM1005.73,621.73h9.84v8.27h-9.84zM1110.67,621.73h9.84v8.27h-9.84zM1120.21,621.73h9.84v8.27h-9.84z" fill="#f46d43"/>
<path d="M977.11,438.42h9.84v8.27h-9.84zM967.57,446.39h9.84v8.27h-9.84zM967.57,478.27h9.84v8.27h-9.84zM967.57,518.12h9.84v8.27h-9.84zM1015.27,542.03h9.84v8.27h-9.84zM1053.43,557.97h9.84v8.27h-9.84zM1015.27,573.91h9.84v8.27h-9.84zM967.57,589.85h9.84v8.27h-9.84zM967.57,597.82h9.84v8.27h-9.84zM996.19,597.82h9.84v8.27h-9.84zM1005.73,597.82h9.84v8.27h-9.84zM1062.97,597.82h9.84v8.27h-9.84zM1101.13,597.82h9.84v8.27h-9.84zM1120.21,597.82h9.84v8.27h-9.84zM1177.45,597.82h9.84v8.27h-9.84z" fill="#d73027"/>
<path d="M996.19,446.39h9.84v8.27h-9.84zM986.65,454.36h9.84v8.27h-9.84zM967.57,462.33h9.84v8.27h-9.84zM958.03,486.24h9.84v8.27h-9.84zM958.03,494.21h9.84v8.27h-9.84zM1024.81,494.21h9.84v8.27h-9.84zM967.57,502.18h9.84v8.27h-9.84zM958.03,510.15h9.84v8.27h-9.84zM967.57,510.15h9.84v8.27h-9.84zM1043.89,526.09h9.84v8.27h-9.84zM967.57,542.03h9.84v8.27h-9.84zM1082.05,542.03h9.84v8.27h-9.84zM1101.13,542.03h9.84v8.27h-9.84zM967.57,550h9.84v8.27h-9.84zM958.03,557.97h9.84v8.27h-9.84zM967.57,565.94h9.84v8.27h-9.84zM1072.51,565.94h9.84v8.27h-9.84zM967.57,581.88h9.84v8.27h-9.84zM1034.35,581.88h9.84v8.27h-9.84zM958.03,589.85h9.84v8.27h-9.84zM1024.81,589.85h9.84v8.27h-9.84zM1053.43,589.85h9.84v8.27h-9.84zM1091.59,589.85h9.84v8.27h-9.84zM958.03,597.82h9.84v8.27h-9.84zM977.11,597.82h9.84v8.27h-9.84zM1082.05,597.82h9.84v8.27h-9.84zM1129.75,597.82h9.84v8.27h-9.84zM1139.29,597.82h9.84v8.27h-9.84zM1167.91,597.82h9.84v8.27h-9.84zM1177.45,613.76h9.84v8.27h-9.84zM1196.53,613.76h9.84v8.27h-9.84zM958.03,621.73h9.84v8.27h-9.84zM1015.27,621.73h9.84v8.27h-9.84zM1024.81,621.73h9.84v8.27h-9.84zM1034.35,621.73h9.84v8.27h-9.84zM1053.43,621.73h9.84v8.27h-9.84zM1129.75,621.73h9.84v8.27h-9.84z" fill="#fee090"/>
<path d="M996.19,462.33h9.84v8.27h-9.84zM1024.81,470.3h9.84v8.27h-9.84zM1034.35,510.15h9.84v8.27h-9.84zM986.65,518.12h9.84v8.27h-9.84zM996.19,518.12h9.84v8.27h-9.84zM1024.81,526.09h9.84v8.27h-9.84zM1034.35,534.06h9.84v8.27h-9.84zM1043.89,534.06h9.84v8.27h-9.84zM1082.05,534.06h9.84v8.27h-9.84zM1024.81,550h9.84v8.27h-9.84zM1072.51,550h9.84v8.27h-9.84zM1005.73,557.97h9.84v8.27h-9.84zM1015.27,557.97h9.84v8.27h-9.84zM1129.75,557.97h9.84v8.27h-9.84zM1110.67,581.88h9.84v8.27h-9.84zM1062.97,589.85h9.84v8.27h-9.84zM1005.73,605.79h9.84v8.27h-9.84zM1015.27,605.79h9.84v8.27h-9.84zM1034.35,605.79h9.84v8.27h-9.84zM1053.43,605.79h9.84v8.27h-9.84zM1072.51,605.79h9.84v8.27h-9.84zM1082.05,605.79h9.84v8.27h-9.84zM1101.13,605.79h9.84v8.27h-9.84zM1148.83,605.79h9.84v8.27h-9.84zM986.65,613.76h9.84v8.27h-9.84zM1053.43,613.76h9.84v8.27h-9.84zM1129.75,613.76h9.84v8.27h-9.84zM1139.29,613.76h9.84v8.27h-9.84zM1148.83,613.76h9.84v8.27h-9.84z" fill="#74add1"/>
<path d="M936.65,390.4h2.3M936.65,406.34h2.3M936.65,422.28h2.3M936.65,438.22h2.3M936.65,454.16h2.3M936.65,470.1h2.3M936.65,486.04h2.3M936.65,501.98h2.3M936.65,517.92h2.3M936.65,533.86h2.3M936.65,549.8h2.3M936.65,565.74h2.3M936.65,581.68h2.3M936.65,597.62h2.3M936.65,613.56h2.3M936.65,629.5h2.3" stroke="#999" stroke-width="0.6"/>
<defs><linearGradient id="cbar"><stop offset="0" stop-color="#a50026"/><stop offset="0.2" stop-color="#e34a33"/><stop offset="0.38" stop-color="#fdbf71"/><stop offset="0.5" stop-color="#ffffc8"/><stop offset="0.65" stop-color="#c9e8f2"/><stop offset="0.82" stop-color="#74add1"/><stop offset="1" stop-color="#313695"/></linearGradient></defs>
<rect x="1033" y="644.9" width="82.7" height="11" fill="url(#cbar)"/>
<path d="M1027.2,637.7h5.8v6.8z" fill="#a50026"/><path d="M1116.5,644.5v-6.8h5.8z" fill="#313695"/>
<text x="1022.5" y="642.6" font-size="6.6" text-anchor="end" font-family="'Liberation Serif',serif" fill="#333">0.500</text>
<text x="1127" y="642.6" font-size="6.6" font-family="'Liberation Serif',serif" fill="#333">1.000</text>
<path d="M1074.1,497.7L1248.8,476.1" stroke="#ff1a1a" stroke-width="1"/><path transform="translate(1248.8,476.1) rotate(-7.05)" d="M0,0L-7.8,-3.2V3.2Z" fill="#ff1a1a"/>
<path d="M1139.6,554.2L1283.5,538.8" stroke="#ff1a1a" stroke-width="1"/><path transform="translate(1283.5,538.8) rotate(-6.11)" d="M0,0L-7.8,-3.2V3.2Z" fill="#ff1a1a"/>
<path d="M1187.1,599.9L1287.3,603" stroke="#ff1a1a" stroke-width="1"/><path transform="translate(1287.3,603) rotate(1.77)" d="M0,0L-7.8,-3.2V3.2Z" fill="#ff1a1a"/>
<g fill="url(#spg)"><circle cx="1264.11" cy="463.78" r="2.8"/><circle cx="1263.9" cy="466.91" r="2.8"/><circle cx="1265.27" cy="463.92" r="2.8"/><circle cx="1273.14" cy="462.11" r="2.8"/><circle cx="1274.21" cy="465.39" r="2.8"/><circle cx="1270.49" cy="464.14" r="2.8"/><circle cx="1271.52" cy="461.15" r="2.8"/><circle cx="1276.44" cy="461.41" r="2.8"/><circle cx="1276.95" cy="465.88" r="2.8"/><circle cx="1267.65" cy="459.51" r="2.8"/><circle cx="1272.97" cy="465.1" r="2.8"/><circle cx="1270.49" cy="462.84" r="2.8"/><circle cx="1273.1" cy="464.42" r="2.8"/><circle cx="1279.56" cy="463.98" r="2.8"/><circle cx="1272.58" cy="463.77" r="2.8"/><circle cx="1275.77" cy="464.38" r="2.8"/><circle cx="1276.74" cy="464.9" r="2.8"/><circle cx="1282.75" cy="463.85" r="2.8"/><circle cx="1281.73" cy="463.61" r="2.8"/><circle cx="1279.94" cy="456.72" r="2.8"/><circle cx="1284.68" cy="459.53" r="2.8"/><circle cx="1275.23" cy="458.98" r="2.8"/><circle cx="1280.02" cy="456.31" r="2.8"/><circle cx="1286.33" cy="455.15" r="2.8"/><circle cx="1286.39" cy="459.46" r="2.8"/><circle cx="1279.49" cy="457.23" r="2.8"/><circle cx="1282.96" cy="454.48" r="2.8"/><circle cx="1286.85" cy="459.8" r="2.8"/><circle cx="1289.77" cy="461.41" r="2.8"/><circle cx="1288.37" cy="462.91" r="2.8"/><circle cx="1290.53" cy="458.99" r="2.8"/><circle cx="1287.09" cy="457.5" r="2.8"/><circle cx="1290.59" cy="461.44" r="2.8"/><circle cx="1291.41" cy="460.3" r="2.8"/><circle cx="1283.7" cy="455.71" r="2.8"/><circle cx="1284.96" cy="457.18" r="2.8"/><circle cx="1290.73" cy="456.68" r="2.8"/><circle cx="1294.26" cy="453.43" r="2.8"/><circle cx="1293.56" cy="457.43" r="2.8"/><circle cx="1288.84" cy="461.75" r="2.8"/><circle cx="1287.82" cy="456.65" r="2.8"/><circle cx="1293.48" cy="458.25" r="2.8"/><circle cx="1298.76" cy="458.03" r="2.8"/><circle cx="1298.41" cy="455.6" r="2.8"/><circle cx="1294.84" cy="454.31" r="2.8"/><circle cx="1297.13" cy="457.41" r="2.8"/><circle cx="1299.28" cy="454.43" r="2.8"/><circle cx="1296.59" cy="463.47" r="2.8"/><circle cx="1292.52" cy="460.61" r="2.8"/><circle cx="1300.09" cy="461.53" r="2.8"/><circle cx="1299.48" cy="459.43" r="2.8"/><circle cx="1304.31" cy="457.41" r="2.8"/><circle cx="1302.29" cy="461.66" r="2.8"/><circle cx="1302.54" cy="460.36" r="2.8"/><circle cx="1295.14" cy="464.14" r="2.8"/><circle cx="1297.87" cy="464.9" r="2.8"/><circle cx="1305.24" cy="465.52" r="2.8"/><circle cx="1299.16" cy="467.04" r="2.8"/><circle cx="1298.98" cy="462.14" r="2.8"/><circle cx="1300.91" cy="466.3" r="2.8"/><circle cx="1302.1" cy="465.93" r="2.8"/><circle cx="1299.22" cy="468.59" r="2.8"/><circle cx="1298.34" cy="467.86" r="2.8"/><circle cx="1295.03" cy="463.6" r="2.8"/><circle cx="1303.99" cy="465.17" r="2.8"/><circle cx="1299.26" cy="464.16" r="2.8"/><circle cx="1302.93" cy="467.71" r="2.8"/><circle cx="1295.48" cy="467.83" r="2.8"/><circle cx="1304.95" cy="473.44" r="2.8"/><circle cx="1295.61" cy="476.11" r="2.8"/><circle cx="1296.63" cy="471.83" r="2.8"/><circle cx="1301.74" cy="475.54" r="2.8"/><circle cx="1297.95" cy="476.58" r="2.8"/><circle cx="1299.63" cy="476.28" r="2.8"/><circle cx="1306.72" cy="475.35" r="2.8"/><circle cx="1297.41" cy="476.75" r="2.8"/><circle cx="1302.22" cy="478.02" r="2.8"/><circle cx="1306.15" cy="472.14" r="2.8"/><circle cx="1304.2" cy="478.32" r="2.8"/><circle cx="1308.23" cy="478.62" r="2.8"/><circle cx="1305.29" cy="480.83" r="2.8"/><circle cx="1300.86" cy="482.38" r="2.8"/><circle cx="1305.55" cy="480.66" r="2.8"/><circle cx="1301.41" cy="480.09" r="2.8"/><circle cx="1304.36" cy="477.39" r="2.8"/><circle cx="1310.54" cy="484.22" r="2.8"/><circle cx="1306.16" cy="476.36" r="2.8"/><circle cx="1312.26" cy="476.96" r="2.8"/><circle cx="1307.95" cy="481.78" r="2.8"/><circle cx="1312.21" cy="482.88" r="2.8"/><circle cx="1310.24" cy="481.55" r="2.8"/><circle cx="1314.78" cy="484.91" r="2.8"/><circle cx="1308.95" cy="484.81" r="2.8"/><circle cx="1315.74" cy="481.76" r="2.8"/><circle cx="1307.41" cy="477.56" r="2.8"/><circle cx="1317.23" cy="479.18" r="2.8"/><circle cx="1316.18" cy="479.19" r="2.8"/><circle cx="1310.79" cy="479.01" r="2.8"/><circle cx="1317.58" cy="478.46" r="2.8"/><circle cx="1314.65" cy="486.07" r="2.8"/><circle cx="1315.86" cy="477.92" r="2.8"/><circle cx="1310.98" cy="487" r="2.8"/><circle cx="1314.36" cy="479.76" r="2.8"/><circle cx="1317.13" cy="487.59" r="2.8"/><circle cx="1315.25" cy="481.36" r="2.8"/><circle cx="1314.45" cy="485.43" r="2.8"/><circle cx="1321.06" cy="481.9" r="2.8"/><circle cx="1321.29" cy="488.66" r="2.8"/><circle cx="1319.61" cy="486.09" r="2.8"/><circle cx="1314.57" cy="487.88" r="2.8"/><circle cx="1318.94" cy="490.24" r="2.8"/><circle cx="1315.74" cy="485.43" r="2.8"/></g>
<g fill="url(#spy)"><circle cx="1306.87" cy="517.89" r="2.8"/><circle cx="1303.76" cy="524.18" r="2.8"/><circle cx="1307.21" cy="523.39" r="2.8"/><circle cx="1307.32" cy="520.21" r="2.8"/><circle cx="1308.81" cy="524.05" r="2.8"/><circle cx="1297.87" cy="523.4" r="2.8"/><circle cx="1304.57" cy="519.31" r="2.8"/><circle cx="1301.59" cy="519.28" r="2.8"/><circle cx="1297.57" cy="521.79" r="2.8"/><circle cx="1300.25" cy="523.53" r="2.8"/><circle cx="1308.34" cy="525.8" r="2.8"/><circle cx="1309.88" cy="532.84" r="2.8"/><circle cx="1310.84" cy="533.82" r="2.8"/><circle cx="1306.8" cy="530.23" r="2.8"/><circle cx="1311.5" cy="528.73" r="2.8"/><circle cx="1301.58" cy="528.69" r="2.8"/><circle cx="1307.44" cy="524.2" r="2.8"/><circle cx="1301.75" cy="524.56" r="2.8"/><circle cx="1310.64" cy="533.63" r="2.8"/><circle cx="1309.91" cy="528.72" r="2.8"/><circle cx="1300.95" cy="523.28" r="2.8"/><circle cx="1309.56" cy="531.12" r="2.8"/><circle cx="1306.63" cy="526.59" r="2.8"/><circle cx="1301.8" cy="527.19" r="2.8"/><circle cx="1301.71" cy="533.54" r="2.8"/><circle cx="1304.05" cy="533.4" r="2.8"/><circle cx="1305.6" cy="533.78" r="2.8"/><circle cx="1309.85" cy="537.52" r="2.8"/><circle cx="1301.37" cy="540.51" r="2.8"/><circle cx="1311.05" cy="539.04" r="2.8"/><circle cx="1305.29" cy="541.37" r="2.8"/><circle cx="1310.16" cy="531.87" r="2.8"/><circle cx="1308.24" cy="540.89" r="2.8"/><circle cx="1309.01" cy="542.08" r="2.8"/><circle cx="1305.71" cy="539.36" r="2.8"/><circle cx="1299.76" cy="539.58" r="2.8"/><circle cx="1301.13" cy="540.75" r="2.8"/><circle cx="1312.1" cy="536.13" r="2.8"/><circle cx="1300.83" cy="531.86" r="2.8"/><circle cx="1307.47" cy="533.75" r="2.8"/><circle cx="1310.97" cy="540.43" r="2.8"/><circle cx="1308.01" cy="541.61" r="2.8"/><circle cx="1303.5" cy="538.95" r="2.8"/><circle cx="1302.42" cy="540.52" r="2.8"/><circle cx="1313.27" cy="535.33" r="2.8"/><circle cx="1312.18" cy="547.42" r="2.8"/><circle cx="1307.46" cy="536.74" r="2.8"/><circle cx="1306.85" cy="545.81" r="2.8"/><circle cx="1304.83" cy="545.32" r="2.8"/><circle cx="1307.75" cy="545.37" r="2.8"/><circle cx="1316.89" cy="546.97" r="2.8"/><circle cx="1307.55" cy="543.1" r="2.8"/><circle cx="1309.68" cy="548" r="2.8"/><circle cx="1309.76" cy="538.43" r="2.8"/><circle cx="1311.7" cy="537.6" r="2.8"/><circle cx="1309.56" cy="546.55" r="2.8"/><circle cx="1311.44" cy="539.62" r="2.8"/><circle cx="1320.39" cy="541.01" r="2.8"/><circle cx="1318.86" cy="547.25" r="2.8"/><circle cx="1315.94" cy="547.07" r="2.8"/><circle cx="1316.71" cy="550.09" r="2.8"/><circle cx="1318.72" cy="542.39" r="2.8"/><circle cx="1318.62" cy="546.06" r="2.8"/><circle cx="1322.78" cy="540.91" r="2.8"/><circle cx="1316.62" cy="553.13" r="2.8"/><circle cx="1311.67" cy="550.1" r="2.8"/></g>
<g fill="url(#spr)"><circle cx="1311.97" cy="584.42" r="2.8"/><circle cx="1309.67" cy="582.56" r="2.8"/><circle cx="1315.71" cy="580.54" r="2.8"/><circle cx="1312.87" cy="583.7" r="2.8"/><circle cx="1314.28" cy="575.18" r="2.8"/><circle cx="1305.12" cy="588.12" r="2.8"/><circle cx="1312.42" cy="579.02" r="2.8"/><circle cx="1312.16" cy="578.29" r="2.8"/><circle cx="1306.98" cy="582.28" r="2.8"/><circle cx="1305.07" cy="578.81" r="2.8"/><circle cx="1308.49" cy="585.89" r="2.8"/><circle cx="1305.82" cy="586.52" r="2.8"/><circle cx="1314.24" cy="579.11" r="2.8"/><circle cx="1304.89" cy="580.04" r="2.8"/><circle cx="1309.87" cy="584.69" r="2.8"/><circle cx="1306.57" cy="583" r="2.8"/><circle cx="1310.76" cy="590.11" r="2.8"/><circle cx="1306.27" cy="591.43" r="2.8"/><circle cx="1303.25" cy="585.65" r="2.8"/><circle cx="1312.49" cy="584.6" r="2.8"/><circle cx="1301.71" cy="582.52" r="2.8"/><circle cx="1308.37" cy="593.23" r="2.8"/><circle cx="1300.1" cy="589.24" r="2.8"/><circle cx="1304.37" cy="587.75" r="2.8"/><circle cx="1302.07" cy="588.94" r="2.8"/><circle cx="1300.64" cy="596.39" r="2.8"/><circle cx="1301.7" cy="591.78" r="2.8"/><circle cx="1307.75" cy="593.78" r="2.8"/><circle cx="1305.9" cy="592.44" r="2.8"/><circle cx="1312.21" cy="588.31" r="2.8"/><circle cx="1302.96" cy="590.39" r="2.8"/><circle cx="1310.28" cy="592.38" r="2.8"/><circle cx="1306.03" cy="588.29" r="2.8"/><circle cx="1302.91" cy="596.17" r="2.8"/><circle cx="1304.56" cy="594.09" r="2.8"/><circle cx="1304.98" cy="592.56" r="2.8"/><circle cx="1304.69" cy="600.73" r="2.8"/><circle cx="1310.62" cy="595.67" r="2.8"/><circle cx="1305.79" cy="600.63" r="2.8"/><circle cx="1310.42" cy="591.9" r="2.8"/><circle cx="1305.78" cy="602.92" r="2.8"/><circle cx="1307.92" cy="596.33" r="2.8"/><circle cx="1305.3" cy="602.75" r="2.8"/><circle cx="1307.55" cy="599.14" r="2.8"/><circle cx="1314.07" cy="599.21" r="2.8"/><circle cx="1309.86" cy="596.01" r="2.8"/><circle cx="1314.3" cy="596.38" r="2.8"/><circle cx="1313.6" cy="605.9" r="2.8"/><circle cx="1317.89" cy="602.59" r="2.8"/><circle cx="1313.95" cy="596.33" r="2.8"/><circle cx="1317.08" cy="606.52" r="2.8"/><circle cx="1310.78" cy="595.96" r="2.8"/><circle cx="1312.97" cy="601.23" r="2.8"/><circle cx="1316.86" cy="605.88" r="2.8"/><circle cx="1311.19" cy="603.47" r="2.8"/><circle cx="1311.59" cy="605.62" r="2.8"/><circle cx="1313.43" cy="606.06" r="2.8"/><circle cx="1307.71" cy="608.4" r="2.8"/><circle cx="1305.34" cy="601.84" r="2.8"/><circle cx="1311.64" cy="599.22" r="2.8"/><circle cx="1312.01" cy="603.53" r="2.8"/><circle cx="1308.32" cy="600.87" r="2.8"/><circle cx="1308.65" cy="607.79" r="2.8"/><circle cx="1304.11" cy="611.63" r="2.8"/><circle cx="1316.02" cy="608" r="2.8"/><circle cx="1310.19" cy="612.33" r="2.8"/><circle cx="1311.27" cy="610.81" r="2.8"/><circle cx="1308.72" cy="609.39" r="2.8"/><circle cx="1307.04" cy="604.45" r="2.8"/><circle cx="1312.19" cy="612.21" r="2.8"/><circle cx="1301.9" cy="614.14" r="2.8"/><circle cx="1314.42" cy="609.82" r="2.8"/><circle cx="1313.32" cy="607.78" r="2.8"/><circle cx="1309.83" cy="615.83" r="2.8"/><circle cx="1307.12" cy="609.66" r="2.8"/><circle cx="1303.84" cy="613.44" r="2.8"/><circle cx="1306.3" cy="613.02" r="2.8"/><circle cx="1310.55" cy="610.34" r="2.8"/><circle cx="1308.06" cy="608.3" r="2.8"/><circle cx="1311.63" cy="617.75" r="2.8"/><circle cx="1307.07" cy="611.42" r="2.8"/><circle cx="1311.74" cy="615.05" r="2.8"/><circle cx="1314.33" cy="619.37" r="2.8"/><circle cx="1309.82" cy="615.65" r="2.8"/><circle cx="1311.73" cy="618.35" r="2.8"/><circle cx="1310.6" cy="618.12" r="2.8"/><circle cx="1309.47" cy="620.5" r="2.8"/><circle cx="1311.19" cy="613.69" r="2.8"/><circle cx="1313.33" cy="616.64" r="2.8"/><circle cx="1309.75" cy="620.49" r="2.8"/><circle cx="1316.9" cy="618.6" r="2.8"/><circle cx="1311.04" cy="622.14" r="2.8"/><circle cx="1317.1" cy="624.71" r="2.8"/><circle cx="1319.13" cy="615.58" r="2.8"/></g>
<g transform="translate(1537.11,398.25) rotate(103.4) scale(0.8)" stroke-linejoin="round" stroke-width="1.1"><polygon points="-1.9,0.5 -27.6,-26.2 -34.1,-20.6 -11.5,4.9 -11.5,36 -1.9,36" fill="#00b0f0" stroke="#00b0f0"/><polygon points="1.9,0.5 25.6,-27.2 32.2,-21.6 11.5,4.9 11.5,36 1.9,36" fill="#00b0f0" stroke="#00b0f0"/><polygon points="-48.2,-17.7 -41.3,-22.6 -15.2,5.5 -22.2,11.4" fill="#ff0000" stroke="#ff0000" stroke-width="1.1"/><polygon points="38.4,-24 45.7,-18.1 21.7,11.4 14.8,5.9" fill="#ff0000" stroke="#ff0000" stroke-width="1.1"/></g>
<g transform="translate(1650.36,400.22) rotate(121.6) scale(0.8)" stroke-linejoin="round" stroke-width="1.1"><polygon points="-1.9,0.5 -27.6,-26.2 -34.1,-20.6 -11.5,4.9 -11.5,36 -1.9,36" fill="#c00000" stroke="#c00000"/><polygon points="1.9,0.5 25.6,-27.2 32.2,-21.6 11.5,4.9 11.5,36 1.9,36" fill="#c00000" stroke="#c00000"/><polygon points="-48.2,-17.7 -41.3,-22.6 -15.2,5.5 -22.2,11.4" fill="#333f50" stroke="#333f50" stroke-width="1.1"/><polygon points="38.4,-24 45.7,-18.1 21.7,11.4 14.8,5.9" fill="#333f50" stroke="#333f50" stroke-width="1.1"/></g>
<g transform="translate(1769.51,399.24) rotate(213.7) scale(0.8)" stroke-linejoin="round" stroke-width="1.1"><polygon points="-1.9,0.5 -27.6,-26.2 -34.1,-20.6 -11.5,4.9 -11.5,36 -1.9,36" fill="#f4b183" stroke="#f4b183"/><polygon points="1.9,0.5 25.6,-27.2 32.2,-21.6 11.5,4.9 11.5,36 1.9,36" fill="#f4b183" stroke="#f4b183"/><polygon points="-48.2,-17.7 -41.3,-22.6 -15.2,5.5 -22.2,11.4" fill="#c5e0b4" stroke="#c5e0b4" stroke-width="1.1"/><polygon points="38.4,-24 45.7,-18.1 21.7,11.4 14.8,5.9" fill="#c5e0b4" stroke="#c5e0b4" stroke-width="1.1"/></g>
<g transform="translate(1522.34,494.75) rotate(159.7) scale(0.8)" stroke-linejoin="round" stroke-width="1.1"><polygon points="-1.9,0.5 -27.6,-26.2 -34.1,-20.6 -11.5,4.9 -11.5,36 -1.9,36" fill="#ffff00" stroke="#ffff00"/><polygon points="1.9,0.5 25.6,-27.2 32.2,-21.6 11.5,4.9 11.5,36 1.9,36" fill="#ffff00" stroke="#ffff00"/><polygon points="-48.2,-17.7 -41.3,-22.6 -15.2,5.5 -22.2,11.4" fill="#7030a0" stroke="#7030a0" stroke-width="1.1"/><polygon points="38.4,-24 45.7,-18.1 21.7,11.4 14.8,5.9" fill="#7030a0" stroke="#7030a0" stroke-width="1.1"/></g>
<g transform="translate(1680.88,490.81) rotate(250) scale(0.8)" stroke-linejoin="round" stroke-width="1.1"><polygon points="-1.9,0.5 -27.6,-26.2 -34.1,-20.6 -11.5,4.9 -11.5,36 -1.9,36" fill="#ffff00" stroke="#ffff00"/><polygon points="1.9,0.5 25.6,-27.2 32.2,-21.6 11.5,4.9 11.5,36 1.9,36" fill="#ffff00" stroke="#ffff00"/><polygon points="-48.2,-17.7 -41.3,-22.6 -15.2,5.5 -22.2,11.4" fill="#7030a0" stroke="#7030a0" stroke-width="1.1"/><polygon points="38.4,-24 45.7,-18.1 21.7,11.4 14.8,5.9" fill="#7030a0" stroke="#7030a0" stroke-width="1.1"/></g>
<g transform="translate(1589.3,597.16) rotate(128) scale(0.8)" stroke-linejoin="round" stroke-width="1.1"><polygon points="-1.9,0.5 -27.6,-26.2 -34.1,-20.6 -11.5,4.9 -11.5,36 -1.9,36" fill="#ffff00" stroke="#ffff00"/><polygon points="1.9,0.5 25.6,-27.2 32.2,-21.6 11.5,4.9 11.5,36 1.9,36" fill="#ffff00" stroke="#ffff00"/><polygon points="-48.2,-17.7 -41.3,-22.6 -15.2,5.5 -22.2,11.4" fill="#7030a0" stroke="#7030a0" stroke-width="1.1"/><polygon points="38.4,-24 45.7,-18.1 21.7,11.4 14.8,5.9" fill="#7030a0" stroke="#7030a0" stroke-width="1.1"/></g>
<g transform="translate(1752.77,578.45) rotate(10.9) scale(0.8)" stroke-linejoin="round" stroke-width="1.1"><polygon points="-1.9,0.5 -27.6,-26.2 -34.1,-20.6 -11.5,4.9 -11.5,36 -1.9,36" fill="#c00000" stroke="#c00000"/><polygon points="1.9,0.5 25.6,-27.2 32.2,-21.6 11.5,4.9 11.5,36 1.9,36" fill="#c00000" stroke="#c00000"/><polygon points="-48.2,-17.7 -41.3,-22.6 -15.2,5.5 -22.2,11.4" fill="#333f50" stroke="#333f50" stroke-width="1.1"/><polygon points="38.4,-24 45.7,-18.1 21.7,11.4 14.8,5.9" fill="#333f50" stroke="#333f50" stroke-width="1.1"/></g>
<g fill="url(#spg)"><circle cx="1603.03" cy="367.4" r="2.8"/><circle cx="1606.52" cy="365.26" r="2.8"/><circle cx="1600.68" cy="370.18" r="2.8"/><circle cx="1602.44" cy="366.91" r="2.8"/><circle cx="1601.34" cy="367.17" r="2.8"/><circle cx="1598.41" cy="371.28" r="2.8"/><circle cx="1606.67" cy="372.54" r="2.8"/><circle cx="1603.5" cy="369.07" r="2.8"/><circle cx="1601.01" cy="367.43" r="2.8"/><circle cx="1604.27" cy="369.8" r="2.8"/><circle cx="1599.03" cy="378.33" r="2.8"/><circle cx="1599.43" cy="378.91" r="2.8"/><circle cx="1602.49" cy="376.99" r="2.8"/><circle cx="1602.44" cy="370.84" r="2.8"/><circle cx="1603.26" cy="372.37" r="2.8"/><circle cx="1599.56" cy="371.48" r="2.8"/><circle cx="1595.34" cy="374.83" r="2.8"/><circle cx="1594.66" cy="375.64" r="2.8"/><circle cx="1604.2" cy="383.35" r="2.8"/><circle cx="1598.72" cy="373.33" r="2.8"/><circle cx="1597.31" cy="373.13" r="2.8"/><circle cx="1595.3" cy="379.91" r="2.8"/><circle cx="1599.42" cy="373.38" r="2.8"/><circle cx="1597.4" cy="378.23" r="2.8"/><circle cx="1595.84" cy="375.2" r="2.8"/><circle cx="1595.27" cy="375.14" r="2.8"/><circle cx="1598.15" cy="381.79" r="2.8"/><circle cx="1596.96" cy="379.3" r="2.8"/><circle cx="1600.25" cy="379.16" r="2.8"/><circle cx="1591" cy="379.52" r="2.8"/><circle cx="1598.7" cy="377.33" r="2.8"/><circle cx="1596.46" cy="386.7" r="2.8"/><circle cx="1596.96" cy="381.53" r="2.8"/><circle cx="1591.78" cy="386.55" r="2.8"/><circle cx="1594.28" cy="386.11" r="2.8"/><circle cx="1587.59" cy="384.11" r="2.8"/><circle cx="1593.57" cy="380.13" r="2.8"/><circle cx="1586.89" cy="387.44" r="2.8"/><circle cx="1590.54" cy="382.7" r="2.8"/><circle cx="1589.05" cy="381.2" r="2.8"/><circle cx="1585.75" cy="379.72" r="2.8"/><circle cx="1587" cy="380.46" r="2.8"/><circle cx="1592.21" cy="390.11" r="2.8"/><circle cx="1588.12" cy="380.34" r="2.8"/><circle cx="1587.67" cy="381.36" r="2.8"/><circle cx="1584.5" cy="381.31" r="2.8"/><circle cx="1585.42" cy="380.97" r="2.8"/><circle cx="1582.36" cy="383.08" r="2.8"/><circle cx="1583.99" cy="391.43" r="2.8"/><circle cx="1584.76" cy="389.98" r="2.8"/><circle cx="1585.92" cy="387.33" r="2.8"/><circle cx="1577.76" cy="382.11" r="2.8"/><circle cx="1577.99" cy="387.7" r="2.8"/><circle cx="1579.83" cy="392.77" r="2.8"/><circle cx="1577.67" cy="383.77" r="2.8"/><circle cx="1582.26" cy="389.55" r="2.8"/><circle cx="1574.9" cy="386.78" r="2.8"/><circle cx="1578.9" cy="392.6" r="2.8"/><circle cx="1582.25" cy="393.45" r="2.8"/><circle cx="1578.89" cy="394.47" r="2.8"/><circle cx="1578.02" cy="387.56" r="2.8"/><circle cx="1574.09" cy="394.48" r="2.8"/><circle cx="1579.9" cy="392.61" r="2.8"/><circle cx="1583.6" cy="393.41" r="2.8"/><circle cx="1575.75" cy="394.76" r="2.8"/><circle cx="1582.79" cy="389.39" r="2.8"/><circle cx="1582.89" cy="392.77" r="2.8"/><circle cx="1573.16" cy="394.46" r="2.8"/><circle cx="1580.8" cy="394.89" r="2.8"/><circle cx="1574.76" cy="398.71" r="2.8"/><circle cx="1572.71" cy="398.22" r="2.8"/><circle cx="1575.62" cy="398.16" r="2.8"/><circle cx="1577.2" cy="394.92" r="2.8"/><circle cx="1573.6" cy="401.81" r="2.8"/><circle cx="1576.42" cy="396.21" r="2.8"/><circle cx="1577.88" cy="402.45" r="2.8"/><circle cx="1571.94" cy="399.48" r="2.8"/><circle cx="1572.57" cy="403.7" r="2.8"/><circle cx="1571.23" cy="405.06" r="2.8"/><circle cx="1577.43" cy="401.96" r="2.8"/><circle cx="1577.4" cy="399.76" r="2.8"/><circle cx="1576.65" cy="399.07" r="2.8"/><circle cx="1575.78" cy="404.57" r="2.8"/><circle cx="1578.96" cy="401.98" r="2.8"/><circle cx="1579.26" cy="407.88" r="2.8"/><circle cx="1581.34" cy="399.38" r="2.8"/><circle cx="1578.39" cy="401.89" r="2.8"/><circle cx="1582.32" cy="407.23" r="2.8"/><circle cx="1578.17" cy="408.11" r="2.8"/><circle cx="1579.21" cy="404" r="2.8"/><circle cx="1584.12" cy="402.81" r="2.8"/><circle cx="1574.16" cy="406.13" r="2.8"/><circle cx="1575.63" cy="407.62" r="2.8"/><circle cx="1581.36" cy="408.37" r="2.8"/><circle cx="1585.7" cy="408.2" r="2.8"/><circle cx="1585.59" cy="416.34" r="2.8"/><circle cx="1581.28" cy="414.89" r="2.8"/><circle cx="1576.04" cy="416.93" r="2.8"/><circle cx="1580.51" cy="410.58" r="2.8"/></g>
<g fill="url(#spr)"><circle cx="1706.44" cy="366.43" r="2.8"/><circle cx="1707.01" cy="367.91" r="2.8"/><circle cx="1698.81" cy="378.9" r="2.8"/><circle cx="1696.96" cy="373.11" r="2.8"/><circle cx="1693.74" cy="380.79" r="2.8"/><circle cx="1706.81" cy="368.6" r="2.8"/><circle cx="1692.9" cy="373.85" r="2.8"/><circle cx="1699.13" cy="379.13" r="2.8"/><circle cx="1696.2" cy="376.61" r="2.8"/><circle cx="1693.17" cy="371" r="2.8"/><circle cx="1691.76" cy="376.77" r="2.8"/><circle cx="1699.39" cy="378.35" r="2.8"/><circle cx="1705.25" cy="373.82" r="2.8"/><circle cx="1695.65" cy="376.76" r="2.8"/><circle cx="1705.2" cy="374.71" r="2.8"/><circle cx="1694.6" cy="377.06" r="2.8"/><circle cx="1700.88" cy="375.14" r="2.8"/><circle cx="1692.5" cy="382.81" r="2.8"/><circle cx="1698.82" cy="380.81" r="2.8"/><circle cx="1689.73" cy="375.97" r="2.8"/><circle cx="1691.03" cy="378.26" r="2.8"/><circle cx="1703.78" cy="388.68" r="2.8"/><circle cx="1702.73" cy="379.21" r="2.8"/><circle cx="1698.13" cy="388.08" r="2.8"/><circle cx="1694.46" cy="380.55" r="2.8"/><circle cx="1700.28" cy="380.09" r="2.8"/><circle cx="1696.33" cy="380.84" r="2.8"/><circle cx="1701.81" cy="383.77" r="2.8"/><circle cx="1690.53" cy="376.06" r="2.8"/><circle cx="1699.57" cy="378" r="2.8"/><circle cx="1700.33" cy="380.02" r="2.8"/><circle cx="1698.45" cy="382.29" r="2.8"/><circle cx="1700.75" cy="379.25" r="2.8"/><circle cx="1697.15" cy="387.96" r="2.8"/><circle cx="1695.09" cy="393.64" r="2.8"/><circle cx="1707.13" cy="393.59" r="2.8"/><circle cx="1706.5" cy="393.5" r="2.8"/><circle cx="1701.05" cy="392.16" r="2.8"/><circle cx="1698.74" cy="380.14" r="2.8"/><circle cx="1707.38" cy="394.13" r="2.8"/><circle cx="1697.03" cy="385.75" r="2.8"/><circle cx="1696.98" cy="391.48" r="2.8"/><circle cx="1696.26" cy="393.42" r="2.8"/><circle cx="1694.48" cy="387.18" r="2.8"/><circle cx="1706.73" cy="388.84" r="2.8"/><circle cx="1696.75" cy="381.87" r="2.8"/><circle cx="1705.77" cy="382.93" r="2.8"/><circle cx="1699.71" cy="391.68" r="2.8"/><circle cx="1700.47" cy="382.96" r="2.8"/><circle cx="1708.58" cy="394.27" r="2.8"/><circle cx="1705.98" cy="384.63" r="2.8"/><circle cx="1704.27" cy="398.78" r="2.8"/><circle cx="1704.4" cy="387.77" r="2.8"/><circle cx="1710.91" cy="389.6" r="2.8"/><circle cx="1703.99" cy="387.01" r="2.8"/><circle cx="1709.11" cy="395.66" r="2.8"/><circle cx="1703.51" cy="392.97" r="2.8"/><circle cx="1700.16" cy="392.77" r="2.8"/><circle cx="1702.6" cy="386.07" r="2.8"/><circle cx="1705.52" cy="398.17" r="2.8"/><circle cx="1694.27" cy="388.61" r="2.8"/><circle cx="1704.92" cy="392.32" r="2.8"/><circle cx="1695.48" cy="398.29" r="2.8"/><circle cx="1708.64" cy="393.13" r="2.8"/><circle cx="1702.09" cy="396.61" r="2.8"/><circle cx="1701.22" cy="397.69" r="2.8"/><circle cx="1706.64" cy="402.29" r="2.8"/><circle cx="1705.92" cy="399.86" r="2.8"/><circle cx="1703.61" cy="401.28" r="2.8"/><circle cx="1702.99" cy="400.49" r="2.8"/><circle cx="1702.96" cy="390.8" r="2.8"/><circle cx="1693.23" cy="400.63" r="2.8"/><circle cx="1696.99" cy="394.22" r="2.8"/><circle cx="1700.26" cy="394.13" r="2.8"/><circle cx="1701.73" cy="396.33" r="2.8"/><circle cx="1704.52" cy="396.68" r="2.8"/><circle cx="1705.52" cy="397.27" r="2.8"/><circle cx="1702.85" cy="394.61" r="2.8"/><circle cx="1698.62" cy="398.53" r="2.8"/><circle cx="1704.59" cy="404.6" r="2.8"/><circle cx="1700.17" cy="395.42" r="2.8"/><circle cx="1699.64" cy="397.81" r="2.8"/><circle cx="1693.14" cy="405.64" r="2.8"/><circle cx="1700.48" cy="410.77" r="2.8"/><circle cx="1705.47" cy="395.87" r="2.8"/><circle cx="1707.32" cy="404.05" r="2.8"/><circle cx="1708.32" cy="400.89" r="2.8"/><circle cx="1700.19" cy="407.47" r="2.8"/><circle cx="1697.02" cy="403.25" r="2.8"/><circle cx="1698.55" cy="402.58" r="2.8"/><circle cx="1702.06" cy="405.55" r="2.8"/><circle cx="1707.78" cy="401.88" r="2.8"/><circle cx="1697.74" cy="402.96" r="2.8"/><circle cx="1694.18" cy="403.99" r="2.8"/><circle cx="1699.92" cy="400.62" r="2.8"/><circle cx="1702.87" cy="400.9" r="2.8"/><circle cx="1707.54" cy="414.98" r="2.8"/><circle cx="1704.79" cy="403.51" r="2.8"/><circle cx="1697.73" cy="401.68" r="2.8"/></g>
<g fill="url(#spg)"><circle cx="1733.42" cy="434.27" r="2.8"/><circle cx="1739.4" cy="436.28" r="2.8"/><circle cx="1730.45" cy="439.16" r="2.8"/><circle cx="1730.9" cy="432.61" r="2.8"/><circle cx="1731.48" cy="437.35" r="2.8"/><circle cx="1740.98" cy="436.96" r="2.8"/><circle cx="1734.38" cy="439.48" r="2.8"/><circle cx="1742.5" cy="433.28" r="2.8"/><circle cx="1736.16" cy="437.1" r="2.8"/><circle cx="1744.86" cy="439.67" r="2.8"/><circle cx="1744.34" cy="437.19" r="2.8"/><circle cx="1737.4" cy="435.8" r="2.8"/><circle cx="1740.31" cy="435.9" r="2.8"/><circle cx="1741.59" cy="430.69" r="2.8"/><circle cx="1746.94" cy="428.51" r="2.8"/><circle cx="1741.08" cy="431.73" r="2.8"/><circle cx="1748.92" cy="429.07" r="2.8"/><circle cx="1745" cy="438.45" r="2.8"/><circle cx="1745.99" cy="438.07" r="2.8"/><circle cx="1744.06" cy="432.19" r="2.8"/><circle cx="1744.37" cy="431.2" r="2.8"/><circle cx="1744.72" cy="427.66" r="2.8"/><circle cx="1752.73" cy="435.18" r="2.8"/><circle cx="1749.79" cy="432.72" r="2.8"/><circle cx="1744.86" cy="429.04" r="2.8"/><circle cx="1754.37" cy="435.86" r="2.8"/><circle cx="1749.05" cy="434.8" r="2.8"/><circle cx="1755.5" cy="426.54" r="2.8"/><circle cx="1749.24" cy="430.6" r="2.8"/><circle cx="1749.57" cy="432.07" r="2.8"/><circle cx="1749.65" cy="427.09" r="2.8"/><circle cx="1756.93" cy="430.48" r="2.8"/><circle cx="1756.76" cy="426.96" r="2.8"/><circle cx="1751.64" cy="431.04" r="2.8"/><circle cx="1749.12" cy="430" r="2.8"/><circle cx="1751.38" cy="429.66" r="2.8"/><circle cx="1753.32" cy="433.98" r="2.8"/><circle cx="1756.08" cy="428.4" r="2.8"/><circle cx="1757.29" cy="431.56" r="2.8"/><circle cx="1753.31" cy="435.58" r="2.8"/><circle cx="1757.74" cy="427.24" r="2.8"/><circle cx="1757.54" cy="432.25" r="2.8"/><circle cx="1752.53" cy="439.43" r="2.8"/><circle cx="1759" cy="440.23" r="2.8"/><circle cx="1757.6" cy="434.32" r="2.8"/><circle cx="1754.16" cy="437.48" r="2.8"/><circle cx="1758.21" cy="432.41" r="2.8"/><circle cx="1762.62" cy="437.7" r="2.8"/><circle cx="1754.14" cy="442.76" r="2.8"/><circle cx="1758.26" cy="442.65" r="2.8"/><circle cx="1758.45" cy="433.07" r="2.8"/><circle cx="1760.32" cy="437.73" r="2.8"/><circle cx="1763.28" cy="439.29" r="2.8"/><circle cx="1758.78" cy="438.85" r="2.8"/><circle cx="1760.35" cy="443.09" r="2.8"/><circle cx="1764.32" cy="439.76" r="2.8"/><circle cx="1756.93" cy="435.85" r="2.8"/><circle cx="1762.52" cy="438.96" r="2.8"/><circle cx="1765.7" cy="441.68" r="2.8"/><circle cx="1767.32" cy="438.13" r="2.8"/><circle cx="1766.27" cy="439.07" r="2.8"/><circle cx="1759.79" cy="442.93" r="2.8"/><circle cx="1760.59" cy="443.83" r="2.8"/><circle cx="1763.57" cy="446.27" r="2.8"/><circle cx="1758.43" cy="446.65" r="2.8"/><circle cx="1762.87" cy="447.25" r="2.8"/><circle cx="1762.32" cy="449.99" r="2.8"/><circle cx="1761.7" cy="441.97" r="2.8"/><circle cx="1767.98" cy="448.82" r="2.8"/><circle cx="1762.09" cy="445.87" r="2.8"/><circle cx="1765.14" cy="444.72" r="2.8"/><circle cx="1767.17" cy="447.78" r="2.8"/><circle cx="1767.79" cy="452.23" r="2.8"/><circle cx="1763.6" cy="446.9" r="2.8"/><circle cx="1769.55" cy="451.19" r="2.8"/><circle cx="1770.54" cy="447.91" r="2.8"/><circle cx="1765.09" cy="445.75" r="2.8"/><circle cx="1766.53" cy="448.63" r="2.8"/><circle cx="1771.93" cy="450.09" r="2.8"/><circle cx="1772.78" cy="447.96" r="2.8"/><circle cx="1767.42" cy="452.07" r="2.8"/><circle cx="1767.14" cy="453.14" r="2.8"/><circle cx="1776.09" cy="453.39" r="2.8"/><circle cx="1767.52" cy="455.47" r="2.8"/><circle cx="1771.66" cy="458.68" r="2.8"/><circle cx="1766.85" cy="458.07" r="2.8"/><circle cx="1773.24" cy="453.48" r="2.8"/><circle cx="1770.94" cy="451.63" r="2.8"/><circle cx="1777.77" cy="454.49" r="2.8"/><circle cx="1772.29" cy="459.04" r="2.8"/><circle cx="1776.39" cy="459.06" r="2.8"/><circle cx="1772.87" cy="459.99" r="2.8"/><circle cx="1774.66" cy="456.71" r="2.8"/><circle cx="1778.51" cy="455.22" r="2.8"/><circle cx="1771.19" cy="459.42" r="2.8"/><circle cx="1775.32" cy="455.77" r="2.8"/><circle cx="1778.86" cy="465.34" r="2.8"/><circle cx="1777.47" cy="460.88" r="2.8"/><circle cx="1774.81" cy="455.31" r="2.8"/><circle cx="1776.06" cy="462.12" r="2.8"/><circle cx="1782.73" cy="457.88" r="2.8"/><circle cx="1777.33" cy="457.32" r="2.8"/><circle cx="1780.31" cy="456.37" r="2.8"/><circle cx="1780.56" cy="462.64" r="2.8"/><circle cx="1777.16" cy="460.65" r="2.8"/><circle cx="1779.18" cy="455.02" r="2.8"/></g>
<g fill="url(#spg)"><circle cx="1607.74" cy="458.84" r="2.8"/><circle cx="1607.48" cy="462.38" r="2.8"/><circle cx="1603.57" cy="463.34" r="2.8"/><circle cx="1612.12" cy="461.38" r="2.8"/><circle cx="1613.85" cy="454.57" r="2.8"/><circle cx="1614.61" cy="459.98" r="2.8"/><circle cx="1607.4" cy="462.57" r="2.8"/><circle cx="1611.37" cy="461.12" r="2.8"/><circle cx="1607.82" cy="460.81" r="2.8"/><circle cx="1607.49" cy="453.84" r="2.8"/><circle cx="1609.23" cy="453.8" r="2.8"/><circle cx="1615.42" cy="455.99" r="2.8"/><circle cx="1611.45" cy="463.07" r="2.8"/><circle cx="1618.67" cy="458.4" r="2.8"/><circle cx="1612.8" cy="462.58" r="2.8"/><circle cx="1617.28" cy="458.3" r="2.8"/><circle cx="1615.04" cy="458.54" r="2.8"/><circle cx="1617.71" cy="456.56" r="2.8"/><circle cx="1612.69" cy="460.01" r="2.8"/><circle cx="1615.77" cy="455.38" r="2.8"/><circle cx="1617.16" cy="462.66" r="2.8"/><circle cx="1624.14" cy="455.32" r="2.8"/><circle cx="1624.49" cy="458.62" r="2.8"/><circle cx="1625.7" cy="465.51" r="2.8"/><circle cx="1619.83" cy="462.8" r="2.8"/><circle cx="1623.59" cy="458.23" r="2.8"/><circle cx="1628.76" cy="463.21" r="2.8"/><circle cx="1629.22" cy="457.44" r="2.8"/><circle cx="1621.82" cy="466.53" r="2.8"/><circle cx="1622.93" cy="460.29" r="2.8"/><circle cx="1623.24" cy="465.68" r="2.8"/><circle cx="1624.13" cy="457.69" r="2.8"/><circle cx="1622.58" cy="467" r="2.8"/><circle cx="1622.56" cy="458.42" r="2.8"/><circle cx="1625.94" cy="463.57" r="2.8"/><circle cx="1631.91" cy="468.92" r="2.8"/><circle cx="1627.91" cy="466.07" r="2.8"/><circle cx="1626.28" cy="464.83" r="2.8"/><circle cx="1623.2" cy="468.12" r="2.8"/><circle cx="1629.15" cy="467.85" r="2.8"/><circle cx="1632.88" cy="470.2" r="2.8"/><circle cx="1634.66" cy="469.71" r="2.8"/><circle cx="1624.72" cy="465.66" r="2.8"/><circle cx="1630.85" cy="463.94" r="2.8"/><circle cx="1628.32" cy="467.54" r="2.8"/><circle cx="1625.55" cy="468.49" r="2.8"/><circle cx="1632.01" cy="475.04" r="2.8"/><circle cx="1631.95" cy="471.97" r="2.8"/><circle cx="1626.47" cy="476.86" r="2.8"/><circle cx="1633.54" cy="474.08" r="2.8"/><circle cx="1630.35" cy="473.19" r="2.8"/><circle cx="1625.95" cy="470.69" r="2.8"/><circle cx="1625.46" cy="479.31" r="2.8"/><circle cx="1629.53" cy="475.99" r="2.8"/><circle cx="1634.25" cy="474.5" r="2.8"/><circle cx="1637.03" cy="481.02" r="2.8"/><circle cx="1631.51" cy="470.77" r="2.8"/><circle cx="1634.7" cy="476.75" r="2.8"/><circle cx="1625.64" cy="479.79" r="2.8"/><circle cx="1632.16" cy="483.27" r="2.8"/><circle cx="1631.85" cy="477.22" r="2.8"/><circle cx="1626.01" cy="474.93" r="2.8"/><circle cx="1632.98" cy="483.29" r="2.8"/><circle cx="1628.27" cy="480.73" r="2.8"/><circle cx="1626.38" cy="474.76" r="2.8"/><circle cx="1626.35" cy="477.04" r="2.8"/><circle cx="1633.03" cy="476.86" r="2.8"/><circle cx="1625.65" cy="481.33" r="2.8"/><circle cx="1633.64" cy="480.29" r="2.8"/><circle cx="1626.42" cy="486.34" r="2.8"/><circle cx="1628.03" cy="488.71" r="2.8"/><circle cx="1628.29" cy="481.89" r="2.8"/><circle cx="1632.49" cy="486.35" r="2.8"/><circle cx="1627.15" cy="489.43" r="2.8"/><circle cx="1625.46" cy="482.75" r="2.8"/><circle cx="1623.8" cy="483.95" r="2.8"/><circle cx="1630.39" cy="490.93" r="2.8"/><circle cx="1622.92" cy="482.45" r="2.8"/><circle cx="1623.23" cy="482.76" r="2.8"/><circle cx="1628.08" cy="487.09" r="2.8"/><circle cx="1628.75" cy="485.74" r="2.8"/><circle cx="1629.12" cy="493.16" r="2.8"/><circle cx="1625.02" cy="496.31" r="2.8"/><circle cx="1625.06" cy="497.14" r="2.8"/><circle cx="1633.35" cy="496.7" r="2.8"/><circle cx="1626.99" cy="496.18" r="2.8"/><circle cx="1633.05" cy="491.52" r="2.8"/><circle cx="1631.28" cy="492.04" r="2.8"/><circle cx="1625.45" cy="498.89" r="2.8"/><circle cx="1630.98" cy="497.9" r="2.8"/><circle cx="1623.69" cy="494.57" r="2.8"/><circle cx="1623.43" cy="496.25" r="2.8"/><circle cx="1629.59" cy="495.44" r="2.8"/><circle cx="1628.67" cy="496.69" r="2.8"/><circle cx="1623.73" cy="496.62" r="2.8"/><circle cx="1632.14" cy="498.74" r="2.8"/><circle cx="1623.84" cy="495.68" r="2.8"/><circle cx="1626.29" cy="494.16" r="2.8"/><circle cx="1629.01" cy="496.75" r="2.8"/><circle cx="1630.3" cy="502.69" r="2.8"/><circle cx="1637.11" cy="500.59" r="2.8"/><circle cx="1628.19" cy="504.77" r="2.8"/><circle cx="1637.88" cy="503.45" r="2.8"/><circle cx="1630.52" cy="500.62" r="2.8"/><circle cx="1631.32" cy="502.26" r="2.8"/><circle cx="1639.64" cy="502.9" r="2.8"/></g>
<g fill="url(#spy)"><circle cx="1567" cy="507.46" r="2.8"/><circle cx="1575.47" cy="510.72" r="2.8"/><circle cx="1569.76" cy="513.06" r="2.8"/><circle cx="1566.45" cy="515.03" r="2.8"/><circle cx="1577.41" cy="504.54" r="2.8"/><circle cx="1571.26" cy="508.49" r="2.8"/><circle cx="1573.35" cy="515.61" r="2.8"/><circle cx="1562.06" cy="506.21" r="2.8"/><circle cx="1571.53" cy="520.67" r="2.8"/><circle cx="1576.94" cy="520.31" r="2.8"/><circle cx="1564.68" cy="511.61" r="2.8"/><circle cx="1573.34" cy="512.21" r="2.8"/><circle cx="1567.05" cy="523.06" r="2.8"/><circle cx="1575.03" cy="513.4" r="2.8"/><circle cx="1572.31" cy="519.42" r="2.8"/><circle cx="1577.98" cy="521.24" r="2.8"/><circle cx="1570.21" cy="525.11" r="2.8"/><circle cx="1578.64" cy="512.16" r="2.8"/><circle cx="1567.71" cy="515.48" r="2.8"/><circle cx="1569.69" cy="524.28" r="2.8"/><circle cx="1565.21" cy="523.44" r="2.8"/><circle cx="1567.81" cy="523.62" r="2.8"/><circle cx="1572.66" cy="511" r="2.8"/><circle cx="1582.87" cy="516.75" r="2.8"/><circle cx="1582.44" cy="515.21" r="2.8"/><circle cx="1568.07" cy="519.93" r="2.8"/><circle cx="1566.96" cy="520.64" r="2.8"/><circle cx="1576.4" cy="522.15" r="2.8"/><circle cx="1562.78" cy="522.96" r="2.8"/><circle cx="1567.47" cy="519.17" r="2.8"/><circle cx="1578.38" cy="527.32" r="2.8"/><circle cx="1564.29" cy="512.89" r="2.8"/><circle cx="1575.8" cy="519.64" r="2.8"/><circle cx="1574.64" cy="524.03" r="2.8"/><circle cx="1579.7" cy="528.38" r="2.8"/><circle cx="1579.51" cy="529.48" r="2.8"/><circle cx="1571.12" cy="520.36" r="2.8"/><circle cx="1563.1" cy="528.88" r="2.8"/><circle cx="1569.06" cy="522.45" r="2.8"/><circle cx="1564.99" cy="519.79" r="2.8"/><circle cx="1568.71" cy="526.03" r="2.8"/><circle cx="1565.31" cy="516.95" r="2.8"/><circle cx="1571.02" cy="532.34" r="2.8"/><circle cx="1570.67" cy="533.29" r="2.8"/><circle cx="1563.74" cy="530.13" r="2.8"/><circle cx="1570.82" cy="515.89" r="2.8"/><circle cx="1564.22" cy="529.28" r="2.8"/><circle cx="1576.74" cy="518.38" r="2.8"/><circle cx="1574.47" cy="533.03" r="2.8"/><circle cx="1566.35" cy="532.22" r="2.8"/><circle cx="1565.03" cy="519.39" r="2.8"/><circle cx="1577.51" cy="533.9" r="2.8"/><circle cx="1575.96" cy="526.89" r="2.8"/><circle cx="1575.43" cy="528.36" r="2.8"/><circle cx="1574.79" cy="535.59" r="2.8"/><circle cx="1572.57" cy="523.39" r="2.8"/><circle cx="1568.01" cy="528.54" r="2.8"/><circle cx="1578.6" cy="526.17" r="2.8"/><circle cx="1569.46" cy="522.18" r="2.8"/><circle cx="1578.42" cy="519.59" r="2.8"/><circle cx="1571.86" cy="522.8" r="2.8"/><circle cx="1578.79" cy="534.15" r="2.8"/><circle cx="1578.08" cy="522.35" r="2.8"/><circle cx="1570.1" cy="526.17" r="2.8"/><circle cx="1582.3" cy="539.16" r="2.8"/><circle cx="1579.83" cy="532.66" r="2.8"/><circle cx="1572.99" cy="533.33" r="2.8"/><circle cx="1575.51" cy="529.66" r="2.8"/><circle cx="1568.93" cy="524.05" r="2.8"/><circle cx="1569.98" cy="526.39" r="2.8"/><circle cx="1578.84" cy="539.13" r="2.8"/><circle cx="1568.07" cy="541" r="2.8"/><circle cx="1579.6" cy="531.52" r="2.8"/><circle cx="1579.09" cy="534.27" r="2.8"/><circle cx="1577.49" cy="539.64" r="2.8"/><circle cx="1582.57" cy="536.78" r="2.8"/><circle cx="1569.16" cy="538.5" r="2.8"/></g>
<g fill="url(#spg)"><circle cx="1721.2" cy="520.58" r="2.8"/><circle cx="1723.86" cy="520.66" r="2.8"/><circle cx="1724.59" cy="525.43" r="2.8"/><circle cx="1728.75" cy="524.02" r="2.8"/><circle cx="1733.61" cy="521.07" r="2.8"/><circle cx="1728.92" cy="516.77" r="2.8"/><circle cx="1733.21" cy="516.04" r="2.8"/><circle cx="1728.95" cy="517.12" r="2.8"/><circle cx="1733.8" cy="520.44" r="2.8"/><circle cx="1731.83" cy="521.2" r="2.8"/><circle cx="1736.38" cy="526.39" r="2.8"/><circle cx="1731.52" cy="525.18" r="2.8"/><circle cx="1736.08" cy="523.01" r="2.8"/><circle cx="1739.8" cy="517.25" r="2.8"/><circle cx="1732.78" cy="520.42" r="2.8"/><circle cx="1733.26" cy="518.14" r="2.8"/><circle cx="1732.64" cy="525.4" r="2.8"/><circle cx="1742.21" cy="524.83" r="2.8"/><circle cx="1740.78" cy="519.32" r="2.8"/><circle cx="1735.8" cy="519.24" r="2.8"/><circle cx="1732.72" cy="516.44" r="2.8"/><circle cx="1738.35" cy="520.4" r="2.8"/><circle cx="1740.76" cy="522.61" r="2.8"/><circle cx="1734.66" cy="526.46" r="2.8"/><circle cx="1738.78" cy="522.68" r="2.8"/><circle cx="1738.47" cy="521.91" r="2.8"/><circle cx="1745.16" cy="529.37" r="2.8"/><circle cx="1736.96" cy="529.33" r="2.8"/><circle cx="1744.55" cy="528.75" r="2.8"/><circle cx="1738.76" cy="530.13" r="2.8"/><circle cx="1742.56" cy="525.55" r="2.8"/><circle cx="1736.54" cy="526.74" r="2.8"/><circle cx="1738.49" cy="524.61" r="2.8"/><circle cx="1746.84" cy="525.76" r="2.8"/><circle cx="1746.57" cy="526.55" r="2.8"/><circle cx="1738.78" cy="527.42" r="2.8"/><circle cx="1739.71" cy="525.11" r="2.8"/><circle cx="1745.92" cy="531.92" r="2.8"/><circle cx="1740.55" cy="532.82" r="2.8"/><circle cx="1744.97" cy="526.03" r="2.8"/><circle cx="1740.24" cy="533.53" r="2.8"/><circle cx="1750.14" cy="535.36" r="2.8"/><circle cx="1746.98" cy="526.99" r="2.8"/><circle cx="1749.09" cy="527.35" r="2.8"/><circle cx="1750" cy="528.08" r="2.8"/><circle cx="1752.7" cy="533.04" r="2.8"/><circle cx="1744.39" cy="529.02" r="2.8"/><circle cx="1745.41" cy="536.46" r="2.8"/><circle cx="1745.94" cy="529.62" r="2.8"/><circle cx="1752.01" cy="531.07" r="2.8"/><circle cx="1745.71" cy="531.99" r="2.8"/><circle cx="1745.9" cy="532.79" r="2.8"/><circle cx="1745.51" cy="530.52" r="2.8"/><circle cx="1746.55" cy="535.33" r="2.8"/><circle cx="1756.31" cy="540.89" r="2.8"/><circle cx="1752.47" cy="533.5" r="2.8"/><circle cx="1757.34" cy="535.13" r="2.8"/><circle cx="1753.07" cy="538.94" r="2.8"/><circle cx="1752.32" cy="535.5" r="2.8"/><circle cx="1758.37" cy="534.52" r="2.8"/><circle cx="1752.43" cy="541.6" r="2.8"/><circle cx="1752.26" cy="534.16" r="2.8"/><circle cx="1750.48" cy="542.67" r="2.8"/><circle cx="1756.12" cy="538.79" r="2.8"/><circle cx="1760.35" cy="542.41" r="2.8"/><circle cx="1753.4" cy="537.63" r="2.8"/><circle cx="1761.97" cy="540.28" r="2.8"/><circle cx="1758.56" cy="540.09" r="2.8"/><circle cx="1763.59" cy="543.29" r="2.8"/><circle cx="1762.78" cy="541.26" r="2.8"/><circle cx="1761.66" cy="537.75" r="2.8"/><circle cx="1755.69" cy="540.68" r="2.8"/><circle cx="1758.13" cy="548.6" r="2.8"/><circle cx="1757.92" cy="544.32" r="2.8"/><circle cx="1765.95" cy="544.41" r="2.8"/><circle cx="1766.6" cy="545.92" r="2.8"/><circle cx="1765.26" cy="538.87" r="2.8"/><circle cx="1760.43" cy="546.79" r="2.8"/><circle cx="1761.69" cy="545.06" r="2.8"/><circle cx="1764.99" cy="547.14" r="2.8"/><circle cx="1764.3" cy="546.39" r="2.8"/><circle cx="1767.94" cy="542.92" r="2.8"/><circle cx="1769.8" cy="542.09" r="2.8"/><circle cx="1764.26" cy="543.26" r="2.8"/><circle cx="1767.63" cy="539.8" r="2.8"/><circle cx="1768.39" cy="539.02" r="2.8"/><circle cx="1770.5" cy="538.43" r="2.8"/><circle cx="1770.9" cy="536.99" r="2.8"/><circle cx="1770.24" cy="531.69" r="2.8"/><circle cx="1772.19" cy="532.36" r="2.8"/><circle cx="1766.21" cy="533.44" r="2.8"/><circle cx="1771.36" cy="537.67" r="2.8"/><circle cx="1767.23" cy="530.26" r="2.8"/><circle cx="1768.17" cy="538.93" r="2.8"/><circle cx="1773.02" cy="532.05" r="2.8"/><circle cx="1774.76" cy="531.2" r="2.8"/><circle cx="1774.67" cy="528.62" r="2.8"/><circle cx="1764.75" cy="534.28" r="2.8"/><circle cx="1768.53" cy="534.08" r="2.8"/><circle cx="1771.23" cy="529.08" r="2.8"/><circle cx="1776.57" cy="526.81" r="2.8"/><circle cx="1770.13" cy="532.99" r="2.8"/><circle cx="1774.44" cy="529.94" r="2.8"/><circle cx="1771.07" cy="528.07" r="2.8"/><circle cx="1777.99" cy="530.33" r="2.8"/><circle cx="1771.43" cy="535.82" r="2.8"/><circle cx="1778.69" cy="535.58" r="2.8"/><circle cx="1776.67" cy="536.65" r="2.8"/><circle cx="1775.56" cy="535.46" r="2.8"/><circle cx="1782.54" cy="531.75" r="2.8"/><circle cx="1777.87" cy="531.87" r="2.8"/></g>
<g fill="url(#spr)"><circle cx="1642.57" cy="566.95" r="2.8"/><circle cx="1656.82" cy="561.78" r="2.8"/><circle cx="1656.27" cy="562.45" r="2.8"/><circle cx="1650.99" cy="570.72" r="2.8"/><circle cx="1644.19" cy="557.09" r="2.8"/><circle cx="1643.65" cy="557.45" r="2.8"/><circle cx="1647.75" cy="559.29" r="2.8"/><circle cx="1642.13" cy="562.69" r="2.8"/><circle cx="1646.91" cy="572.31" r="2.8"/><circle cx="1640.59" cy="569.04" r="2.8"/><circle cx="1654.79" cy="570.81" r="2.8"/><circle cx="1642.74" cy="561.96" r="2.8"/><circle cx="1645.99" cy="560.06" r="2.8"/><circle cx="1655.45" cy="572.62" r="2.8"/><circle cx="1652.78" cy="571.24" r="2.8"/><circle cx="1655.52" cy="567.49" r="2.8"/><circle cx="1640.27" cy="567.43" r="2.8"/><circle cx="1646.47" cy="575.07" r="2.8"/><circle cx="1639.45" cy="576.27" r="2.8"/><circle cx="1644.89" cy="563.43" r="2.8"/><circle cx="1648.87" cy="577.41" r="2.8"/><circle cx="1648.8" cy="575.66" r="2.8"/><circle cx="1645.99" cy="570.66" r="2.8"/><circle cx="1639.25" cy="578.72" r="2.8"/><circle cx="1647.94" cy="567.34" r="2.8"/><circle cx="1641.68" cy="574.25" r="2.8"/><circle cx="1649.61" cy="581.29" r="2.8"/><circle cx="1645.25" cy="575.27" r="2.8"/><circle cx="1649.93" cy="567.83" r="2.8"/><circle cx="1654.48" cy="573.23" r="2.8"/><circle cx="1655.21" cy="581.43" r="2.8"/><circle cx="1653.2" cy="569.99" r="2.8"/><circle cx="1647.4" cy="575.81" r="2.8"/><circle cx="1645.49" cy="576.04" r="2.8"/><circle cx="1645.67" cy="578.02" r="2.8"/><circle cx="1652.59" cy="579.82" r="2.8"/><circle cx="1654.39" cy="581.94" r="2.8"/><circle cx="1647.58" cy="579.93" r="2.8"/><circle cx="1654.51" cy="571.04" r="2.8"/><circle cx="1653.29" cy="577.53" r="2.8"/><circle cx="1645.08" cy="575.11" r="2.8"/><circle cx="1655.5" cy="581.41" r="2.8"/><circle cx="1652.14" cy="585.5" r="2.8"/><circle cx="1653.47" cy="571.63" r="2.8"/><circle cx="1654.52" cy="579.85" r="2.8"/><circle cx="1657.14" cy="581.93" r="2.8"/><circle cx="1657.05" cy="573.2" r="2.8"/><circle cx="1656.27" cy="576.18" r="2.8"/><circle cx="1648" cy="585" r="2.8"/><circle cx="1658.95" cy="588.51" r="2.8"/><circle cx="1651.8" cy="588.72" r="2.8"/><circle cx="1657.18" cy="584.77" r="2.8"/><circle cx="1660.09" cy="587.48" r="2.8"/><circle cx="1648.29" cy="584.35" r="2.8"/><circle cx="1656.59" cy="585.23" r="2.8"/><circle cx="1652.38" cy="590.47" r="2.8"/><circle cx="1649.62" cy="588.71" r="2.8"/><circle cx="1649.35" cy="577.4" r="2.8"/><circle cx="1647.39" cy="590.5" r="2.8"/><circle cx="1646.1" cy="581.13" r="2.8"/><circle cx="1657.21" cy="581.79" r="2.8"/><circle cx="1660.03" cy="590.57" r="2.8"/><circle cx="1651.97" cy="588.67" r="2.8"/><circle cx="1657.78" cy="588.86" r="2.8"/><circle cx="1659.14" cy="583.22" r="2.8"/><circle cx="1653.01" cy="582.42" r="2.8"/><circle cx="1644.09" cy="590.77" r="2.8"/><circle cx="1648.42" cy="579.53" r="2.8"/><circle cx="1652.02" cy="591.13" r="2.8"/><circle cx="1643.91" cy="585.03" r="2.8"/><circle cx="1656.7" cy="589.72" r="2.8"/><circle cx="1643.31" cy="592.81" r="2.8"/><circle cx="1645.88" cy="587.46" r="2.8"/><circle cx="1657.3" cy="597.06" r="2.8"/><circle cx="1642.29" cy="582.81" r="2.8"/><circle cx="1652.06" cy="588.67" r="2.8"/><circle cx="1644.03" cy="587.79" r="2.8"/><circle cx="1655.44" cy="586.33" r="2.8"/><circle cx="1650.21" cy="591.57" r="2.8"/><circle cx="1645.36" cy="590.87" r="2.8"/><circle cx="1649.88" cy="585.5" r="2.8"/><circle cx="1649.34" cy="584.82" r="2.8"/><circle cx="1639.71" cy="587.14" r="2.8"/><circle cx="1645.41" cy="591.54" r="2.8"/><circle cx="1648.79" cy="587.69" r="2.8"/><circle cx="1653.45" cy="594.22" r="2.8"/><circle cx="1654.77" cy="594.81" r="2.8"/><circle cx="1644.64" cy="601.88" r="2.8"/><circle cx="1650.53" cy="592.52" r="2.8"/><circle cx="1650.98" cy="595.92" r="2.8"/><circle cx="1653.12" cy="590.11" r="2.8"/><circle cx="1656.49" cy="596.94" r="2.8"/><circle cx="1649.92" cy="589.33" r="2.8"/><circle cx="1645.76" cy="601.19" r="2.8"/><circle cx="1649.83" cy="598.5" r="2.8"/><circle cx="1652.89" cy="595.7" r="2.8"/><circle cx="1643.38" cy="590.25" r="2.8"/><circle cx="1657.42" cy="599.72" r="2.8"/><circle cx="1657.31" cy="602.57" r="2.8"/><circle cx="1654.4" cy="596.68" r="2.8"/><circle cx="1655.84" cy="600.11" r="2.8"/><circle cx="1653.35" cy="598.63" r="2.8"/><circle cx="1655.9" cy="606.64" r="2.8"/><circle cx="1659.68" cy="607.64" r="2.8"/></g>
<path d="M1050,812.5H987.3V1002H1763.4V812.5H1733M1393,812.5H1480" fill="none" stroke="#000" stroke-width="1.25" stroke-dasharray="3.2,1.3"/>
<text x="1221.5" y="821.9" font-size="30.6" text-anchor="middle">Physic-chemical features</text>
<text x="1606.5" y="821.9" font-size="30.6" text-anchor="middle">Structural features</text>
<text x="1177.3" y="858.1" font-size="28.1" text-anchor="start">Isoelectric point acid</text>
<text x="1177.3" y="891.5" font-size="28.1" text-anchor="start">Isoelectric point base</text>
<text x="1177.3" y="924.9" font-size="28.1" text-anchor="start">H-bond donors</text>
<text x="1177.3" y="958.3" font-size="28.1" text-anchor="start">Hydrophobic</text>
<text x="1177.3" y="991.7" font-size="28.1" text-anchor="start">Vander Waals Volume</text>
<text x="1586.6" y="894.2" font-size="28.1" text-anchor="start">Alpha helix</text>
<text x="1586.6" y="927.7" font-size="28.1" text-anchor="start">Beta turn</text>
<text x="1586.6" y="961.2" font-size="28.1" text-anchor="start">Composition</text>
<defs><clipPath id="surfc"><path d="M1088.3,835.7a77.9,77.9 0 1 0 0.1,0zM1110.1,845a7,7 0 1 1 -0.1,0z" clip-rule="evenodd"/></clipPath><filter id="sblur" x="-30%" y="-30%" width="160%" height="160%"><feGaussianBlur stdDeviation="4.5"/></filter><filter id="sblur2" x="-30%" y="-30%" width="160%" height="160%"><feGaussianBlur stdDeviation="2"/></filter></defs>
<g clip-path="url(#surfc)"><rect x="1008" y="833" width="162" height="162" fill="#b4b7ef"/><g filter="url(#sblur)"><ellipse cx="1088.08" cy="852.52" rx="70.46" ry="25.32" fill="#f1bcbc" opacity="1"/><ellipse cx="1047.34" cy="861.33" rx="27.52" ry="13.21" fill="#f5c8c8" opacity="1"/><ellipse cx="1138.72" cy="869.04" rx="24.22" ry="18.72" fill="#f2c4c4" opacity="1"/><ellipse cx="1091.38" cy="869.04" rx="20.92" ry="18.72" fill="#ee6a6a" opacity="1"/><ellipse cx="1110.1" cy="871.24" rx="9.91" ry="12.11" fill="#ef5c5c" opacity="1"/><ellipse cx="1077.07" cy="852.52" rx="13.21" ry="9.91" fill="#f08a8a" opacity="1"/><ellipse cx="1057.25" cy="895.46" rx="44.04" ry="14.31" fill="#eeecf0" opacity="1" transform="rotate(10 1057.25 895.46)"/><ellipse cx="1026.42" cy="886.65" rx="18.72" ry="12.11" fill="#e8e6ec" opacity="1"/><ellipse cx="1129.91" cy="887.75" rx="18.72" ry="8.81" fill="#f2e6ea" opacity="1"/><ellipse cx="1096.88" cy="895.46" rx="13.21" ry="6.61" fill="#f0e2e4" opacity="1"/><ellipse cx="1026.42" cy="924.09" rx="20.92" ry="20.92" fill="#d9d9ee" opacity="1"/><ellipse cx="1068.26" cy="924.09" rx="22.02" ry="8.81" fill="#6d71e6" opacity="1"/><ellipse cx="1120" cy="903.72" rx="12.11" ry="6.06" fill="#4a4ee0" opacity="1"/><ellipse cx="1129.91" cy="941.7" rx="30.83" ry="13.21" fill="#6f73ea" opacity="1" transform="rotate(-25 1129.91 941.7)"/><ellipse cx="1044.04" cy="951.61" rx="14.31" ry="8.81" fill="#777bec" opacity="1"/><ellipse cx="1079.27" cy="976.93" rx="18.72" ry="7.71" fill="#5c60e4" opacity="1"/><ellipse cx="1112.3" cy="921.88" rx="22.02" ry="7.71" fill="#9699f0" opacity="1"/><ellipse cx="1136.52" cy="915.28" rx="17.62" ry="6.61" fill="#a3a6f0" opacity="1"/><ellipse cx="1079.27" cy="949.41" rx="13.21" ry="8.81" fill="#c6c6e2" opacity="1"/><ellipse cx="1016.51" cy="908.67" rx="6.06" ry="22.02" fill="#9a9aa8" opacity="0.8"/><ellipse cx="1025.32" cy="962.62" rx="7.71" ry="13.21" fill="#9898a8" opacity="0.7" transform="rotate(-30 1025.32 962.62)"/><ellipse cx="1157.44" cy="917.48" rx="6.61" ry="11.01" fill="#dadae6" opacity="1"/><ellipse cx="1121.11" cy="979.13" rx="22.02" ry="6.61" fill="#9da0ee" opacity="1"/></g><g filter="url(#sblur2)"><path d="M1092.99,960.02h24l8,7l-8,8h-24z" fill="#d2ca8c" opacity="0.9"/><ellipse cx="1083.67" cy="860.23" rx="9.5" ry="8.5" fill="none" stroke="#c23a3a" stroke-width="2.6" opacity="0.75"/><path d="M1028,885q20,-18 40,-4t30,22q10,8 6,18M1098,903q22,-10 34,-28t26,-8M1012,905l48,30M1020,925l60,36M1116,925l44,26M1112,948l48,26" fill="none" stroke="#777a90" stroke-width="1.4" opacity="0.55"/></g><g fill="#fff" opacity="0.8" filter="url(#sblur2)"><circle cx="1056.15" cy="861.33" r="1.88"/><circle cx="1084.77" cy="839.31" r="1.64"/><circle cx="1096.88" cy="869.04" r="1.61"/><circle cx="1105.69" cy="861.33" r="1.7"/><circle cx="1135.42" cy="862.43" r="2.31"/><circle cx="1046.24" cy="874.54" r="1.7"/><circle cx="1126.61" cy="886.65" r="1.86"/><circle cx="1135.42" cy="913.08" r="2.22"/><circle cx="1144.23" cy="909.77" r="2.05"/><circle cx="1124.41" cy="922.99" r="2.53"/><circle cx="1111.2" cy="916.38" r="1.99"/><circle cx="1061.65" cy="924.09" r="1.91"/><circle cx="1092.48" cy="935.1" r="2.14"/><circle cx="1116.7" cy="930.69" r="1.66"/><circle cx="1126.61" cy="949.41" r="2.48"/><circle cx="1042.94" cy="950.51" r="1.85"/><circle cx="1038.53" cy="958.22" r="1.87"/><circle cx="1057.25" cy="967.02" r="2.22"/><circle cx="1099.09" cy="962.62" r="1.58"/><circle cx="1070.46" cy="946.11" r="2.19"/><circle cx="1077.07" cy="979.13" r="2.42"/><circle cx="1151.93" cy="893.26" r="1.81"/><circle cx="1033.03" cy="886.65" r="2.54"/><circle cx="1068.26" cy="895.46" r="2.03"/><circle cx="1027.52" cy="940.6" r="2.33"/></g><g filter="url(#sblur2)" fill="none" stroke="#6a6c86" stroke-width="1.3" opacity="0.5"><path d="M1030,872q14,-10 22,2t-4,16q12,-12 30,-6t22,18M1064,886q18,6 24,22t14,14M1120,862q8,22 -6,40M1122,892q20,-6 36,6M1018,935q30,10 52,34M1096,960q20,12 50,18M1044,956q14,10 18,24"/></g><path d="M1074,994l3.5,-9l7,2.5l-1,6.5zM1108,994l-1,-6l3.5,6z" fill="#fff"/></g>
<defs><clipPath id="helc"><path d="M1511.37,847.98L1560.6,847.98C1560.6,847.98 1561.81,853.54 1559.32,857.4C1556.82,861.25 1551.04,866.96 1545.62,871.1C1540.19,875.23 1526.78,882.23 1526.78,882.23C1526.78,882.23 1540.34,888.65 1545.62,892.5C1550.9,896.35 1555.82,900.78 1558.46,905.34C1561.1,909.91 1561.46,915.33 1561.46,919.9C1561.46,924.46 1561.1,928.46 1558.46,932.74C1555.82,937.02 1550.9,940.16 1545.62,945.58C1540.34,951 1526.78,965.27 1526.78,965.27C1526.78,965.27 1540.19,973.12 1545.62,977.26C1551.04,981.4 1559.32,990.1 1559.32,990.1L1492.53,990.1C1492.53,990.1 1483.69,983.68 1481.4,979.83C1479.12,975.98 1479.12,971.27 1478.84,966.99C1478.55,962.71 1478.12,958.57 1479.69,954.14C1481.26,949.72 1480.55,945.8 1488.25,940.45C1495.96,935.09 1525.92,922.04 1525.92,922.04C1525.92,922.04 1497.24,909.55 1489.11,904.49C1480.98,899.42 1479.26,895.5 1477.12,891.64C1474.98,887.79 1475.84,885.22 1476.27,881.37C1476.7,877.52 1477.41,872.52 1479.69,868.53C1481.97,864.53 1484.69,860.82 1489.97,857.4C1495.25,853.97 1511.37,847.98 1511.37,847.98Z"/></clipPath></defs>
<path d="M1511.37,847.98L1560.6,847.98C1560.6,847.98 1561.81,853.54 1559.32,857.4C1556.82,861.25 1551.04,866.96 1545.62,871.1C1540.19,875.23 1526.78,882.23 1526.78,882.23C1526.78,882.23 1540.34,888.65 1545.62,892.5C1550.9,896.35 1555.82,900.78 1558.46,905.34C1561.1,909.91 1561.46,915.33 1561.46,919.9C1561.46,924.46 1561.1,928.46 1558.46,932.74C1555.82,937.02 1550.9,940.16 1545.62,945.58C1540.34,951 1526.78,965.27 1526.78,965.27C1526.78,965.27 1540.19,973.12 1545.62,977.26C1551.04,981.4 1559.32,990.1 1559.32,990.1L1492.53,990.1C1492.53,990.1 1483.69,983.68 1481.4,979.83C1479.12,975.98 1479.12,971.27 1478.84,966.99C1478.55,962.71 1478.12,958.57 1479.69,954.14C1481.26,949.72 1480.55,945.8 1488.25,940.45C1495.96,935.09 1525.92,922.04 1525.92,922.04C1525.92,922.04 1497.24,909.55 1489.11,904.49C1480.98,899.42 1479.26,895.5 1477.12,891.64C1474.98,887.79 1475.84,885.22 1476.27,881.37C1476.7,877.52 1477.41,872.52 1479.69,868.53C1481.97,864.53 1484.69,860.82 1489.97,857.4C1495.25,853.97 1511.37,847.98 1511.37,847.98Z" fill="#c3bfe6"/><g clip-path="url(#helc)"><path d="M1492.53,905.34L1519.93,915.62L1554.18,922.47" fill="none" stroke="#dcd9f0" stroke-width="9" stroke-linecap="round" opacity="0.9" filter="url(#sblur2)"/><path d="M1555.89,928.46L1528.49,943.87L1502.81,956.71" fill="none" stroke="#d6d3ee" stroke-width="10" stroke-linecap="round" opacity="0.8" filter="url(#sblur2)"/><path d="M1558.46,855.68L1528.49,865.96L1502.81,877.95" fill="none" stroke="#d0cdec" stroke-width="10" stroke-linecap="round" opacity="0.8" filter="url(#sblur2)"/><path d="M1488.25,984.11L1511.37,980.68L1528.49,984.11" fill="none" stroke="#d8d5ef" stroke-width="8" stroke-linecap="round" opacity="0.8" filter="url(#sblur2)"/><path d="M1481.4,877.95L1494.25,895.07L1519.93,907.05" fill="none" stroke="#b4afdd" stroke-width="8" stroke-linecap="round" opacity="0.7" filter="url(#sblur2)"/><path d="M1528.49,895.07L1549.9,907.05L1555.89,919.04" fill="none" stroke="#b6b1de" stroke-width="7" stroke-linecap="round" opacity="0.7" filter="url(#sblur2)"/><path d="M1482.26,958.42L1495.96,973.84L1519.93,985.82" fill="none" stroke="#b6b1de" stroke-width="7" stroke-linecap="round" opacity="0.7" filter="url(#sblur2)"/></g>
<path d="M1497.24,848.41L1499.38,861.68M1501.52,865.1L1513.51,869.81M1498.1,865.96L1487.4,877.95M1517.36,868.53L1525.92,857.4M1530.21,856.54L1538.77,859.97M1531.06,850.55L1532.77,847.98M1511.37,866.82L1511.37,880.51M1483.97,882.23L1477.12,889.08M1487.4,882.23L1496.82,894.21M1499.38,895.07L1509.66,884.79M1513.08,885.65L1521.64,899.35M1524.21,903.63L1534.49,917.33M1537.91,917.33L1544.76,910.48M1546.47,906.2L1546.9,891.64M1547.76,912.19L1555.46,924.18M1559.32,927.6L1565.31,930.6M1555.03,928.46L1543.9,937.88M1540.48,939.59L1526.78,934.88M1522.93,931.03L1520.79,916.47M1522.07,936.16L1510.94,947.29M1510.51,951.58L1513.08,956.71M1508.8,952.43L1506.23,963.56M1502.81,963.99L1499.38,962.28M1497.67,958.42L1496.82,943.01M1496.82,963.56L1494.25,972.98M1491.25,975.55L1484.83,978.54M1495.1,977.26L1511.37,988.39M1513.94,988.82L1527.64,982.83M1530.21,979.4L1532.35,965.27M1532.77,983.25L1543.05,989.25" stroke="#111" stroke-width="0.5" fill="none"/>
<g font-family="'Liberation Serif',serif" font-weight="bold" font-size="5" text-anchor="middle" fill="#111"><text x="1553.32" y="853.1">R</text><text x="1528.07" y="857.38">C</text><text x="1541.34" y="862.95">R</text><text x="1499.81" y="865.52">C</text><text x="1511.37" y="865.95">O</text><text x="1515.65" y="872.37">N</text><text x="1485.68" y="881.36">C</text><text x="1511.37" y="884.78">C</text><text x="1475.41" y="892.92">R</text><text x="1497.67" y="898.05">N</text><text x="1522.5" y="903.19">C</text><text x="1546.9" y="889.92">O</text><text x="1545.62" y="910.47">C</text><text x="1520.36" y="914.75">O</text><text x="1536.2" y="920.74">N</text><text x="1556.75" y="928.02">C</text><text x="1567.45" y="933.58">R</text><text x="1523.78" y="935.72">C</text><text x="1542.19" y="941.72">N</text><text x="1496.82" y="940.86">O</text><text x="1509.23" y="951.13">C</text><text x="1514.37" y="960.98">R</text><text x="1498.1" y="962.69">C</text><text x="1504.95" y="966.97">N</text><text x="1532.77" y="963.55">O</text><text x="1493.39" y="976.82">C</text><text x="1482.69" y="981.1">R</text><text x="1529.78" y="983.67">C</text><text x="1512.23" y="990.95">N</text></g>
</g>
<g id="panel-b">
<text transform="translate(2,1049.8) scale(1.075,1.012)" font-size="40" font-weight="bold">b</text>
<text transform="translate(865,1048.7) scale(0.972,1)" font-size="24" text-anchor="middle">Binding</text>
<text transform="translate(865,1076.3) scale(0.968,1)" font-size="24" text-anchor="middle">EC<tspan font-size="17.04" dy="4.8">50</tspan><tspan dy="-4.8"> (μg/mL)</tspan></text>
<path d="M108.5,1102.8H1751" stroke="#000" stroke-width="2"/>
<rect x="1436.2" y="1019.8" width="44" height="44" fill="#a00000" stroke="#000" stroke-width="1.5"/>
<rect x="1514.2" y="1019.8" width="44" height="44" fill="#fc4045" stroke="#000" stroke-width="1.5"/>
<rect x="1591.3" y="1019.8" width="44" height="44" fill="#ffe0e4" stroke="#000" stroke-width="1.5"/>
<rect x="1677.3" y="1019.8" width="44" height="44" fill="#fff" stroke="#000" stroke-width="1.5"/>
<text x="1458.3" y="1093.4" font-size="17" text-anchor="middle">&lt;1</text>
<text x="1537.2" y="1093.4" font-size="17" text-anchor="middle">1-100</text>
<text x="1613.3" y="1093.4" font-size="17" text-anchor="middle">&gt;100</text>
<text x="1698.3" y="1091.2" font-size="17" text-anchor="middle">No binding</text>
<path d="M110.3,1192.3h38.09v37.77h-38.09zM148.39,1192.3h38.09v37.77h-38.09zM300.75,1192.3h38.09v37.77h-38.09zM338.84,1192.3h38.09v37.77h-38.09zM376.93,1192.3h38.09v37.77h-38.09zM415.02,1192.3h38.09v37.77h-38.09zM567.38,1192.3h38.09v37.77h-38.09zM110.3,1230.07h38.09v37.77h-38.09zM300.75,1230.07h38.09v37.77h-38.09zM338.84,1230.07h38.09v37.77h-38.09zM376.93,1230.07h38.09v37.77h-38.09zM415.02,1230.07h38.09v37.77h-38.09zM567.38,1230.07h38.09v37.77h-38.09z" fill="#ffa0a0"/>
<path d="M186.48,1192.3h38.09v37.77h-38.09zM224.57,1192.3h38.09v37.77h-38.09zM186.48,1230.07h38.09v37.77h-38.09zM224.57,1230.07h38.09v37.77h-38.09zM262.66,1230.07h38.09v37.77h-38.09zM1062.55,1230.07h38.09v37.77h-38.09zM1253,1230.07h38.09v37.77h-38.09zM1405.36,1230.07h38.09v37.77h-38.09zM1443.45,1230.07h38.09v37.77h-38.09zM1595.81,1230.07h38.09v37.77h-38.09zM1671.99,1230.07h38.09v37.77h-38.09zM186.48,1267.84h38.09v37.77h-38.09zM224.57,1267.84h38.09v37.77h-38.09zM262.66,1267.84h38.09v37.77h-38.09zM300.75,1267.84h38.09v37.77h-38.09zM338.84,1267.84h38.09v37.77h-38.09zM376.93,1267.84h38.09v37.77h-38.09zM795.92,1267.84h38.09v37.77h-38.09zM834.01,1267.84h38.09v37.77h-38.09zM1062.55,1267.84h38.09v37.77h-38.09zM1253,1267.84h38.09v37.77h-38.09zM1405.36,1267.84h38.09v37.77h-38.09zM1443.45,1267.84h38.09v37.77h-38.09zM1595.81,1267.84h38.09v37.77h-38.09zM1671.99,1267.84h38.09v37.77h-38.09z" fill="#a00000"/>
<path d="M262.66,1192.3h38.09v37.77h-38.09zM453.11,1192.3h38.09v37.77h-38.09zM491.2,1192.3h38.09v37.77h-38.09zM529.29,1192.3h38.09v37.77h-38.09zM605.47,1192.3h38.09v37.77h-38.09zM643.56,1192.3h38.09v37.77h-38.09zM681.65,1192.3h38.09v37.77h-38.09zM757.83,1192.3h38.09v37.77h-38.09zM795.92,1192.3h38.09v37.77h-38.09zM834.01,1192.3h38.09v37.77h-38.09zM872.1,1192.3h38.09v37.77h-38.09zM910.19,1192.3h38.09v37.77h-38.09zM948.28,1192.3h38.09v37.77h-38.09zM986.37,1192.3h38.09v37.77h-38.09zM1024.46,1192.3h38.09v37.77h-38.09zM1062.55,1192.3h38.09v37.77h-38.09zM1100.64,1192.3h38.09v37.77h-38.09zM1138.73,1192.3h38.09v37.77h-38.09zM1176.82,1192.3h38.09v37.77h-38.09zM1214.91,1192.3h38.09v37.77h-38.09zM1253,1192.3h38.09v37.77h-38.09zM1291.09,1192.3h38.09v37.77h-38.09zM1329.18,1192.3h38.09v37.77h-38.09zM1367.27,1192.3h38.09v37.77h-38.09zM1405.36,1192.3h38.09v37.77h-38.09zM1443.45,1192.3h38.09v37.77h-38.09zM1481.54,1192.3h38.09v37.77h-38.09zM1519.63,1192.3h38.09v37.77h-38.09zM1557.72,1192.3h38.09v37.77h-38.09zM1595.81,1192.3h38.09v37.77h-38.09zM1633.9,1192.3h38.09v37.77h-38.09zM1671.99,1192.3h38.09v37.77h-38.09zM1710.08,1192.3h38.09v37.77h-38.09zM148.39,1230.07h38.09v37.77h-38.09zM453.11,1230.07h38.09v37.77h-38.09zM491.2,1230.07h38.09v37.77h-38.09zM529.29,1230.07h38.09v37.77h-38.09zM605.47,1230.07h38.09v37.77h-38.09zM643.56,1230.07h38.09v37.77h-38.09zM681.65,1230.07h38.09v37.77h-38.09zM719.74,1230.07h38.09v37.77h-38.09zM757.83,1230.07h38.09v37.77h-38.09zM795.92,1230.07h38.09v37.77h-38.09zM834.01,1230.07h38.09v37.77h-38.09zM872.1,1230.07h38.09v37.77h-38.09zM910.19,1230.07h38.09v37.77h-38.09zM948.28,1230.07h38.09v37.77h-38.09zM986.37,1230.07h38.09v37.77h-38.09zM1024.46,1230.07h38.09v37.77h-38.09zM1100.64,1230.07h38.09v37.77h-38.09zM1138.73,1230.07h38.09v37.77h-38.09zM1176.82,1230.07h38.09v37.77h-38.09zM1214.91,1230.07h38.09v37.77h-38.09zM1291.09,1230.07h38.09v37.77h-38.09zM1329.18,1230.07h38.09v37.77h-38.09zM1367.27,1230.07h38.09v37.77h-38.09zM1481.54,1230.07h38.09v37.77h-38.09zM1519.63,1230.07h38.09v37.77h-38.09zM1557.72,1230.07h38.09v37.77h-38.09zM1633.9,1230.07h38.09v37.77h-38.09zM1710.08,1230.07h38.09v37.77h-38.09zM110.3,1267.84h38.09v37.77h-38.09zM148.39,1267.84h38.09v37.77h-38.09zM415.02,1267.84h38.09v37.77h-38.09zM453.11,1267.84h38.09v37.77h-38.09zM491.2,1267.84h38.09v37.77h-38.09zM529.29,1267.84h38.09v37.77h-38.09zM567.38,1267.84h38.09v37.77h-38.09zM605.47,1267.84h38.09v37.77h-38.09zM643.56,1267.84h38.09v37.77h-38.09zM681.65,1267.84h38.09v37.77h-38.09zM719.74,1267.84h38.09v37.77h-38.09zM757.83,1267.84h38.09v37.77h-38.09zM872.1,1267.84h38.09v37.77h-38.09zM910.19,1267.84h38.09v37.77h-38.09zM948.28,1267.84h38.09v37.77h-38.09zM986.37,1267.84h38.09v37.77h-38.09zM1024.46,1267.84h38.09v37.77h-38.09zM1100.64,1267.84h38.09v37.77h-38.09zM1138.73,1267.84h38.09v37.77h-38.09zM1176.82,1267.84h38.09v37.77h-38.09zM1214.91,1267.84h38.09v37.77h-38.09zM1291.09,1267.84h38.09v37.77h-38.09zM1329.18,1267.84h38.09v37.77h-38.09zM1367.27,1267.84h38.09v37.77h-38.09zM1481.54,1267.84h38.09v37.77h-38.09zM1519.63,1267.84h38.09v37.77h-38.09zM1557.72,1267.84h38.09v37.77h-38.09zM1633.9,1267.84h38.09v37.77h-38.09zM1710.08,1267.84h38.09v37.77h-38.09z" fill="#fc4045"/>
<path d="M110.3,1230.07h1637.87M110.3,1267.84h1637.87M148.39,1192.3v113.31M186.48,1192.3v113.31M224.57,1192.3v113.31M262.66,1192.3v113.31M300.75,1192.3v113.31M338.84,1192.3v113.31M376.93,1192.3v113.31M415.02,1192.3v113.31M453.11,1192.3v113.31M491.2,1192.3v113.31M529.29,1192.3v113.31M567.38,1192.3v113.31M605.47,1192.3v113.31M643.56,1192.3v113.31M681.65,1192.3v113.31M719.74,1192.3v113.31M757.83,1192.3v113.31M795.92,1192.3v113.31M834.01,1192.3v113.31M872.1,1192.3v113.31M910.19,1192.3v113.31M948.28,1192.3v113.31M986.37,1192.3v113.31M1024.46,1192.3v113.31M1062.55,1192.3v113.31M1100.64,1192.3v113.31M1138.73,1192.3v113.31M1176.82,1192.3v113.31M1214.91,1192.3v113.31M1253,1192.3v113.31M1291.09,1192.3v113.31M1329.18,1192.3v113.31M1367.27,1192.3v113.31M1405.36,1192.3v113.31M1443.45,1192.3v113.31M1481.54,1192.3v113.31M1519.63,1192.3v113.31M1557.72,1192.3v113.31M1595.81,1192.3v113.31M1633.9,1192.3v113.31M1671.99,1192.3v113.31M1710.08,1192.3v113.31" fill="none" stroke="#000" stroke-width="1.6" stroke-opacity="1"/>
<rect x="110.3" y="1192.3" width="1637.87" height="113.31" fill="none" stroke="#000" stroke-width="0.9" stroke-opacity="1"/>
<text x="108" y="1217.34" font-size="17" text-anchor="end">MERS-CoV</text>
<text x="108" y="1255.11" font-size="17" text-anchor="end">SARS-CoV</text>
<text x="108" y="1292.88" font-size="17" text-anchor="end">SARS-CoV-2</text>
<text transform="translate(133.34,1181.8) rotate(-45)" font-size="17">PW5-1</text>
<text transform="translate(171.44,1181.8) rotate(-45)" font-size="17">PW5-2</text>
<text transform="translate(209.53,1181.8) rotate(-45)" font-size="17">PW5-4</text>
<text transform="translate(247.62,1181.8) rotate(-45)" font-size="17">PW5-5</text>
<text transform="translate(285.71,1181.8) rotate(-45)" font-size="17">PW5-6</text>
<text transform="translate(323.8,1181.8) rotate(-45)" font-size="17">PW5-7</text>
<text transform="translate(361.89,1181.8) rotate(-45)" font-size="17">PW5-8</text>
<text transform="translate(399.98,1181.8) rotate(-45)" font-size="17">PW5-10</text>
<text transform="translate(438.07,1181.8) rotate(-45)" font-size="17">PW5-18</text>
<text transform="translate(476.16,1181.8) rotate(-45)" font-size="17">PW5-19</text>
<text transform="translate(514.25,1181.8) rotate(-45)" font-size="17">PW5-23</text>
<text transform="translate(552.33,1181.8) rotate(-45)" font-size="17">PW5-29</text>
<text transform="translate(590.42,1181.8) rotate(-45)" font-size="17">PW5-207</text>
<text transform="translate(628.51,1181.8) rotate(-45)" font-size="17">PW5-212</text>
<text transform="translate(666.6,1181.8) rotate(-45)" font-size="17">PW5-233</text>
<text transform="translate(704.69,1181.8) rotate(-45)" font-size="17">PW5-238</text>
<text transform="translate(742.78,1181.8) rotate(-45)" font-size="17">PW5-240</text>
<text transform="translate(780.88,1181.8) rotate(-45)" font-size="17">PW5-241</text>
<text transform="translate(818.97,1181.8) rotate(-45)" font-size="17">PW5-253</text>
<text transform="translate(857.05,1181.8) rotate(-45)" font-size="17">PW5-259</text>
<text transform="translate(895.14,1181.8) rotate(-45)" font-size="17">PW5-265</text>
<text transform="translate(933.24,1181.8) rotate(-45)" font-size="17">PW5-270</text>
<text transform="translate(971.32,1181.8) rotate(-45)" font-size="17">PW5-274</text>
<text transform="translate(1009.41,1181.8) rotate(-45)" font-size="17">PW5-283</text>
<text transform="translate(1047.51,1181.8) rotate(-45)" font-size="17">PW5-288</text>
<text transform="translate(1085.6,1181.8) rotate(-45)" font-size="17">PW5-298</text>
<text transform="translate(1123.69,1181.8) rotate(-45)" font-size="17">PW5-313</text>
<text transform="translate(1161.78,1181.8) rotate(-45)" font-size="17">PW5-331</text>
<text transform="translate(1199.87,1181.8) rotate(-45)" font-size="17">PW5-335</text>
<text transform="translate(1237.96,1181.8) rotate(-45)" font-size="17">PW5-363</text>
<text transform="translate(1276.05,1181.8) rotate(-45)" font-size="17">PW5-380</text>
<text transform="translate(1314.14,1181.8) rotate(-45)" font-size="17">PW5-394</text>
<text transform="translate(1352.23,1181.8) rotate(-45)" font-size="17">PW5-399</text>
<text transform="translate(1390.32,1181.8) rotate(-45)" font-size="17">PW5-412</text>
<text transform="translate(1428.41,1181.8) rotate(-45)" font-size="17">PW5-419</text>
<text transform="translate(1466.5,1181.8) rotate(-45)" font-size="17">PW5-420</text>
<text transform="translate(1504.59,1181.8) rotate(-45)" font-size="17">PW5-421</text>
<text transform="translate(1542.68,1181.8) rotate(-45)" font-size="17">PW5-428</text>
<text transform="translate(1580.77,1181.8) rotate(-45)" font-size="17">PW5-432</text>
<text transform="translate(1618.86,1181.8) rotate(-45)" font-size="17">PW5-433</text>
<text transform="translate(1656.95,1181.8) rotate(-45)" font-size="17">PW5-436</text>
<text transform="translate(1695.04,1181.8) rotate(-45)" font-size="17">PW5-459</text>
<text transform="translate(1733.13,1181.8) rotate(-45)" font-size="17">PW5-460</text>
<path d="M109.25,1389.5h38.05v37.87h-38.05zM147.3,1389.5h38.05v37.87h-38.05zM185.35,1389.5h38.05v37.87h-38.05zM299.5,1389.5h38.05v37.87h-38.05zM337.55,1389.5h38.05v37.87h-38.05zM375.6,1389.5h38.05v37.87h-38.05zM413.65,1389.5h38.05v37.87h-38.05zM451.7,1389.5h38.05v37.87h-38.05zM489.75,1389.5h38.05v37.87h-38.05zM565.85,1389.5h38.05v37.87h-38.05zM680,1389.5h38.05v37.87h-38.05zM718.05,1389.5h38.05v37.87h-38.05zM756.1,1389.5h38.05v37.87h-38.05zM870.25,1389.5h38.05v37.87h-38.05zM946.35,1389.5h38.05v37.87h-38.05zM984.4,1389.5h38.05v37.87h-38.05zM1022.45,1389.5h38.05v37.87h-38.05zM1060.5,1389.5h38.05v37.87h-38.05zM1136.6,1389.5h38.05v37.87h-38.05zM1174.65,1389.5h38.05v37.87h-38.05zM1212.7,1389.5h38.05v37.87h-38.05zM1288.8,1389.5h38.05v37.87h-38.05zM1364.9,1389.5h38.05v37.87h-38.05zM1402.95,1389.5h38.05v37.87h-38.05zM1441,1389.5h38.05v37.87h-38.05zM1479.05,1389.5h38.05v37.87h-38.05zM1517.1,1389.5h38.05v37.87h-38.05zM1555.15,1389.5h38.05v37.87h-38.05zM1593.2,1389.5h38.05v37.87h-38.05zM1631.25,1389.5h38.05v37.87h-38.05zM1669.3,1389.5h38.05v37.87h-38.05zM1707.35,1389.5h38.05v37.87h-38.05zM147.3,1427.37h38.05v37.87h-38.05zM185.35,1427.37h38.05v37.87h-38.05zM223.4,1427.37h38.05v37.87h-38.05zM299.5,1427.37h38.05v37.87h-38.05zM337.55,1427.37h38.05v37.87h-38.05zM375.6,1427.37h38.05v37.87h-38.05zM413.65,1427.37h38.05v37.87h-38.05zM451.7,1427.37h38.05v37.87h-38.05zM489.75,1427.37h38.05v37.87h-38.05zM718.05,1427.37h38.05v37.87h-38.05zM756.1,1427.37h38.05v37.87h-38.05zM908.3,1427.37h38.05v37.87h-38.05zM984.4,1427.37h38.05v37.87h-38.05zM1022.45,1427.37h38.05v37.87h-38.05zM1060.5,1427.37h38.05v37.87h-38.05zM1174.65,1427.37h38.05v37.87h-38.05zM1212.7,1427.37h38.05v37.87h-38.05zM1288.8,1427.37h38.05v37.87h-38.05zM1326.85,1427.37h38.05v37.87h-38.05zM1364.9,1427.37h38.05v37.87h-38.05zM1441,1427.37h38.05v37.87h-38.05zM1555.15,1427.37h38.05v37.87h-38.05zM1593.2,1427.37h38.05v37.87h-38.05zM1631.25,1427.37h38.05v37.87h-38.05zM1707.35,1427.37h38.05v37.87h-38.05zM147.3,1465.24h38.05v37.87h-38.05zM185.35,1465.24h38.05v37.87h-38.05zM299.5,1465.24h38.05v37.87h-38.05zM337.55,1465.24h38.05v37.87h-38.05zM375.6,1465.24h38.05v37.87h-38.05zM413.65,1465.24h38.05v37.87h-38.05zM1631.25,1465.24h38.05v37.87h-38.05z" fill="#fc4045"/>
<path d="M223.4,1389.5h38.05v37.87h-38.05zM832.2,1389.5h38.05v37.87h-38.05zM908.3,1389.5h38.05v37.87h-38.05zM1326.85,1389.5h38.05v37.87h-38.05zM261.45,1427.37h38.05v37.87h-38.05zM603.9,1427.37h38.05v37.87h-38.05zM794.15,1427.37h38.05v37.87h-38.05zM832.2,1427.37h38.05v37.87h-38.05zM870.25,1427.37h38.05v37.87h-38.05zM1098.55,1427.37h38.05v37.87h-38.05zM1250.75,1427.37h38.05v37.87h-38.05zM261.45,1465.24h38.05v37.87h-38.05zM603.9,1465.24h38.05v37.87h-38.05zM794.15,1465.24h38.05v37.87h-38.05zM1441,1465.24h38.05v37.87h-38.05z" fill="#ffa0a0"/>
<path d="M527.8,1389.5h38.05v37.87h-38.05zM109.25,1427.37h38.05v37.87h-38.05zM527.8,1427.37h38.05v37.87h-38.05zM565.85,1427.37h38.05v37.87h-38.05zM680,1427.37h38.05v37.87h-38.05zM946.35,1427.37h38.05v37.87h-38.05zM1136.6,1427.37h38.05v37.87h-38.05zM1402.95,1427.37h38.05v37.87h-38.05zM1479.05,1427.37h38.05v37.87h-38.05zM1517.1,1427.37h38.05v37.87h-38.05zM1669.3,1427.37h38.05v37.87h-38.05zM109.25,1465.24h38.05v37.87h-38.05zM223.4,1465.24h38.05v37.87h-38.05zM451.7,1465.24h38.05v37.87h-38.05zM489.75,1465.24h38.05v37.87h-38.05zM527.8,1465.24h38.05v37.87h-38.05zM565.85,1465.24h38.05v37.87h-38.05zM680,1465.24h38.05v37.87h-38.05zM718.05,1465.24h38.05v37.87h-38.05zM756.1,1465.24h38.05v37.87h-38.05zM908.3,1465.24h38.05v37.87h-38.05zM946.35,1465.24h38.05v37.87h-38.05zM984.4,1465.24h38.05v37.87h-38.05zM1022.45,1465.24h38.05v37.87h-38.05zM1060.5,1465.24h38.05v37.87h-38.05zM1136.6,1465.24h38.05v37.87h-38.05zM1174.65,1465.24h38.05v37.87h-38.05zM1212.7,1465.24h38.05v37.87h-38.05zM1288.8,1465.24h38.05v37.87h-38.05zM1364.9,1465.24h38.05v37.87h-38.05zM1402.95,1465.24h38.05v37.87h-38.05zM1479.05,1465.24h38.05v37.87h-38.05zM1517.1,1465.24h38.05v37.87h-38.05zM1555.15,1465.24h38.05v37.87h-38.05zM1593.2,1465.24h38.05v37.87h-38.05zM1669.3,1465.24h38.05v37.87h-38.05zM1707.35,1465.24h38.05v37.87h-38.05z" fill="#a00000"/>
<path d="M109.25,1427.37h1636.15M109.25,1465.24h1636.15M147.3,1389.5v113.61M185.35,1389.5v113.61M223.4,1389.5v113.61M261.45,1389.5v113.61M299.5,1389.5v113.61M337.55,1389.5v113.61M375.6,1389.5v113.61M413.65,1389.5v113.61M451.7,1389.5v113.61M489.75,1389.5v113.61M527.8,1389.5v113.61M565.85,1389.5v113.61M603.9,1389.5v113.61M641.95,1389.5v113.61M680,1389.5v113.61M718.05,1389.5v113.61M756.1,1389.5v113.61M794.15,1389.5v113.61M832.2,1389.5v113.61M870.25,1389.5v113.61M908.3,1389.5v113.61M946.35,1389.5v113.61M984.4,1389.5v113.61M1022.45,1389.5v113.61M1060.5,1389.5v113.61M1098.55,1389.5v113.61M1136.6,1389.5v113.61M1174.65,1389.5v113.61M1212.7,1389.5v113.61M1250.75,1389.5v113.61M1288.8,1389.5v113.61M1326.85,1389.5v113.61M1364.9,1389.5v113.61M1402.95,1389.5v113.61M1441,1389.5v113.61M1479.05,1389.5v113.61M1517.1,1389.5v113.61M1555.15,1389.5v113.61M1593.2,1389.5v113.61M1631.25,1389.5v113.61M1669.3,1389.5v113.61M1707.35,1389.5v113.61" fill="none" stroke="#000" stroke-width="1.6" stroke-opacity="1"/>
<rect x="109.25" y="1389.5" width="1636.15" height="113.61" fill="none" stroke="#000" stroke-width="0.9" stroke-opacity="1"/>
<text x="106.95" y="1414.59" font-size="17" text-anchor="end">MERS-CoV</text>
<text x="106.95" y="1452.45" font-size="17" text-anchor="end">SARS-CoV</text>
<text x="106.95" y="1490.33" font-size="17" text-anchor="end">SARS-CoV-2</text>
<text transform="translate(132.28,1379) rotate(-45)" font-size="17">PW5-468</text>
<text transform="translate(170.33,1379) rotate(-45)" font-size="17">PW5-477</text>
<text transform="translate(208.38,1379) rotate(-45)" font-size="17">PW5-479</text>
<text transform="translate(246.42,1379) rotate(-45)" font-size="17">PW5-492</text>
<text transform="translate(284.47,1379) rotate(-45)" font-size="17">PW5-494</text>
<text transform="translate(322.52,1379) rotate(-45)" font-size="17">PW5-508</text>
<text transform="translate(360.57,1379) rotate(-45)" font-size="17">PW5-510</text>
<text transform="translate(398.62,1379) rotate(-45)" font-size="17">PW5-522</text>
<text transform="translate(436.67,1379) rotate(-45)" font-size="17">PW5-524</text>
<text transform="translate(474.72,1379) rotate(-45)" font-size="17">PW5-530</text>
<text transform="translate(512.77,1379) rotate(-45)" font-size="17">PW5-534</text>
<text transform="translate(550.82,1379) rotate(-45)" font-size="17">PW5-535</text>
<text transform="translate(588.87,1379) rotate(-45)" font-size="17">PW5-540</text>
<text transform="translate(626.92,1379) rotate(-45)" font-size="17">PW5-544</text>
<text transform="translate(664.97,1379) rotate(-45)" font-size="17">PW5-546</text>
<text transform="translate(703.02,1379) rotate(-45)" font-size="17">PW5-547</text>
<text transform="translate(741.07,1379) rotate(-45)" font-size="17">PW5-558</text>
<text transform="translate(779.12,1379) rotate(-45)" font-size="17">PW5-570</text>
<text transform="translate(817.17,1379) rotate(-45)" font-size="17">PW5-576</text>
<text transform="translate(855.22,1379) rotate(-45)" font-size="17">PW5-609</text>
<text transform="translate(893.27,1379) rotate(-45)" font-size="17">PW5-633</text>
<text transform="translate(931.32,1379) rotate(-45)" font-size="17">PW5-646</text>
<text transform="translate(969.37,1379) rotate(-45)" font-size="17">PW5-656</text>
<text transform="translate(1007.42,1379) rotate(-45)" font-size="17">PW5-676</text>
<text transform="translate(1045.47,1379) rotate(-45)" font-size="17">PW5-683</text>
<text transform="translate(1083.53,1379) rotate(-45)" font-size="17">PW5-693</text>
<text transform="translate(1121.58,1379) rotate(-45)" font-size="17">PW5-694</text>
<text transform="translate(1159.62,1379) rotate(-45)" font-size="17">PW5-699</text>
<text transform="translate(1197.67,1379) rotate(-45)" font-size="17">PW5-710</text>
<text transform="translate(1235.72,1379) rotate(-45)" font-size="17">PW5-720</text>
<text transform="translate(1273.78,1379) rotate(-45)" font-size="17">PW5-722</text>
<text transform="translate(1311.83,1379) rotate(-45)" font-size="17">PW5-786</text>
<text transform="translate(1349.88,1379) rotate(-45)" font-size="17">PW5-803</text>
<text transform="translate(1387.92,1379) rotate(-45)" font-size="17">PW5-807</text>
<text transform="translate(1425.97,1379) rotate(-45)" font-size="17">PW5-808</text>
<text transform="translate(1464.03,1379) rotate(-45)" font-size="17">PW5-819</text>
<text transform="translate(1502.08,1379) rotate(-45)" font-size="17">PW5-850</text>
<text transform="translate(1540.12,1379) rotate(-45)" font-size="17">PW5-853</text>
<text transform="translate(1578.17,1379) rotate(-45)" font-size="17">PW5-862</text>
<text transform="translate(1616.22,1379) rotate(-45)" font-size="17">PW5-879</text>
<text transform="translate(1654.28,1379) rotate(-45)" font-size="17">PW5-884</text>
<text transform="translate(1692.33,1379) rotate(-45)" font-size="17">PW5-885</text>
<text transform="translate(1730.38,1379) rotate(-45)" font-size="17">PW5-897</text>
</g>
<g id="panel-c">
<text transform="translate(2.6,1550.9) scale(1.075,1.012)" font-size="40" font-weight="bold">c</text>
<text transform="translate(897.6,1549) scale(0.965,1)" font-size="24" text-anchor="middle" xml:space="preserve">Pseudovirus  Neut.</text>
<text transform="translate(898.4,1576.6) scale(0.968,1)" font-size="24" text-anchor="middle">IC<tspan font-size="17.04" dy="4.8">50</tspan><tspan dy="-4.8"> (μg/mL)</tspan></text>
<path d="M108,1602.4H1748" stroke="#111" stroke-width="1.25"/>
<rect x="1436.2" y="1521.4" width="43.3" height="43.3" fill="#04506a" stroke="#1a1a1a" stroke-width="1"/>
<rect x="1509.8" y="1521.4" width="43.3" height="43.3" fill="#129bb5" stroke="#1a1a1a" stroke-width="1"/>
<rect x="1587.4" y="1521.4" width="43.3" height="43.3" fill="#cce0fa" stroke="#1a1a1a" stroke-width="1"/>
<rect x="1670.2" y="1521.4" width="43.3" height="43.3" fill="#fff" stroke="#1a1a1a" stroke-width="1"/>
<text x="1457.2" y="1593.6" font-size="17" text-anchor="middle">&lt;1</text>
<text x="1531.7" y="1593.6" font-size="17" text-anchor="middle">1-100</text>
<text x="1608.9" y="1593.6" font-size="17" text-anchor="middle">&gt;100</text>
<text x="1691.7" y="1593" font-size="17" text-anchor="middle">No inhibition</text>
<path d="M450.81,1685.1h38.09v37.87h-38.09zM488.9,1685.1h38.09v37.87h-38.09zM603.17,1685.1h38.09v37.87h-38.09zM641.26,1685.1h38.09v37.87h-38.09zM755.53,1685.1h38.09v37.87h-38.09zM1212.61,1685.1h38.09v37.87h-38.09zM1288.79,1685.1h38.09v37.87h-38.09zM1326.88,1685.1h38.09v37.87h-38.09zM1364.97,1685.1h38.09v37.87h-38.09zM260.36,1722.97h38.09v37.87h-38.09zM526.99,1722.97h38.09v37.87h-38.09zM679.35,1722.97h38.09v37.87h-38.09zM831.71,1722.97h38.09v37.87h-38.09zM869.8,1722.97h38.09v37.87h-38.09zM907.89,1722.97h38.09v37.87h-38.09zM945.98,1722.97h38.09v37.87h-38.09zM984.07,1722.97h38.09v37.87h-38.09zM1060.25,1722.97h38.09v37.87h-38.09zM1136.43,1722.97h38.09v37.87h-38.09zM1250.7,1722.97h38.09v37.87h-38.09zM1326.88,1722.97h38.09v37.87h-38.09zM1403.06,1722.97h38.09v37.87h-38.09zM1441.15,1722.97h38.09v37.87h-38.09zM1479.24,1722.97h38.09v37.87h-38.09zM1517.33,1722.97h38.09v37.87h-38.09zM1555.42,1722.97h38.09v37.87h-38.09zM1593.51,1722.97h38.09v37.87h-38.09zM1631.6,1722.97h38.09v37.87h-38.09zM1669.69,1722.97h38.09v37.87h-38.09zM1707.78,1722.97h38.09v37.87h-38.09zM184.18,1760.84h38.09v37.87h-38.09zM222.27,1760.84h38.09v37.87h-38.09zM298.45,1760.84h38.09v37.87h-38.09zM336.54,1760.84h38.09v37.87h-38.09zM374.63,1760.84h38.09v37.87h-38.09zM412.72,1760.84h38.09v37.87h-38.09zM450.81,1760.84h38.09v37.87h-38.09zM526.99,1760.84h38.09v37.87h-38.09zM565.08,1760.84h38.09v37.87h-38.09zM603.17,1760.84h38.09v37.87h-38.09zM641.26,1760.84h38.09v37.87h-38.09zM679.35,1760.84h38.09v37.87h-38.09zM717.44,1760.84h38.09v37.87h-38.09zM755.53,1760.84h38.09v37.87h-38.09zM793.62,1760.84h38.09v37.87h-38.09zM831.71,1760.84h38.09v37.87h-38.09zM869.8,1760.84h38.09v37.87h-38.09zM907.89,1760.84h38.09v37.87h-38.09zM945.98,1760.84h38.09v37.87h-38.09zM984.07,1760.84h38.09v37.87h-38.09zM1022.16,1760.84h38.09v37.87h-38.09zM1098.34,1760.84h38.09v37.87h-38.09zM1136.43,1760.84h38.09v37.87h-38.09zM1174.52,1760.84h38.09v37.87h-38.09zM1212.61,1760.84h38.09v37.87h-38.09zM1250.7,1760.84h38.09v37.87h-38.09zM1288.79,1760.84h38.09v37.87h-38.09zM1326.88,1760.84h38.09v37.87h-38.09zM1403.06,1760.84h38.09v37.87h-38.09zM1441.15,1760.84h38.09v37.87h-38.09zM1479.24,1760.84h38.09v37.87h-38.09zM1517.33,1760.84h38.09v37.87h-38.09zM1555.42,1760.84h38.09v37.87h-38.09zM1593.51,1760.84h38.09v37.87h-38.09zM1631.6,1760.84h38.09v37.87h-38.09zM1669.69,1760.84h38.09v37.87h-38.09zM1707.78,1760.84h38.09v37.87h-38.09z" fill="#129bb5"/>
<path d="M526.99,1685.1h38.09v37.87h-38.09zM679.35,1685.1h38.09v37.87h-38.09zM831.71,1685.1h38.09v37.87h-38.09zM869.8,1685.1h38.09v37.87h-38.09zM907.89,1685.1h38.09v37.87h-38.09zM945.98,1685.1h38.09v37.87h-38.09zM1136.43,1685.1h38.09v37.87h-38.09zM1403.06,1685.1h38.09v37.87h-38.09zM1555.42,1685.1h38.09v37.87h-38.09zM1707.78,1685.1h38.09v37.87h-38.09zM450.81,1722.97h38.09v37.87h-38.09zM603.17,1722.97h38.09v37.87h-38.09zM1098.34,1722.97h38.09v37.87h-38.09zM1288.79,1722.97h38.09v37.87h-38.09zM146.09,1760.84h38.09v37.87h-38.09zM488.9,1760.84h38.09v37.87h-38.09z" fill="#cce0fa"/>
<path d="M184.18,1722.97h38.09v37.87h-38.09zM222.27,1722.97h38.09v37.87h-38.09zM1060.25,1760.84h38.09v37.87h-38.09z" fill="#04506a"/>
<path d="M108,1722.97h1637.87M108,1760.84h1637.87M146.09,1685.1v113.61M184.18,1685.1v113.61M222.27,1685.1v113.61M260.36,1685.1v113.61M298.45,1685.1v113.61M336.54,1685.1v113.61M374.63,1685.1v113.61M412.72,1685.1v113.61M450.81,1685.1v113.61M488.9,1685.1v113.61M526.99,1685.1v113.61M565.08,1685.1v113.61M603.17,1685.1v113.61M641.26,1685.1v113.61M679.35,1685.1v113.61M717.44,1685.1v113.61M755.53,1685.1v113.61M793.62,1685.1v113.61M831.71,1685.1v113.61M869.8,1685.1v113.61M907.89,1685.1v113.61M945.98,1685.1v113.61M984.07,1685.1v113.61M1022.16,1685.1v113.61M1060.25,1685.1v113.61M1098.34,1685.1v113.61M1136.43,1685.1v113.61M1174.52,1685.1v113.61M1212.61,1685.1v113.61M1250.7,1685.1v113.61M1288.79,1685.1v113.61M1326.88,1685.1v113.61M1364.97,1685.1v113.61M1403.06,1685.1v113.61M1441.15,1685.1v113.61M1479.24,1685.1v113.61M1517.33,1685.1v113.61M1555.42,1685.1v113.61M1593.51,1685.1v113.61M1631.6,1685.1v113.61M1669.69,1685.1v113.61M1707.78,1685.1v113.61" fill="none" stroke="#000" stroke-width="1.25" stroke-opacity="0.82"/>
<rect x="108" y="1685.1" width="1637.87" height="113.61" fill="none" stroke="#000" stroke-width="1.0" stroke-opacity="0.82"/>
<text x="106.7" y="1710.18" font-size="17" text-anchor="end">MERS-CoV</text>
<text x="106.7" y="1748.05" font-size="17" text-anchor="end">SARS-CoV</text>
<text x="106.7" y="1785.92" font-size="17" text-anchor="end">SARS-CoV-2</text>
<text transform="translate(131.05,1676) rotate(-45)" font-size="17">PW5-1</text>
<text transform="translate(169.13,1676) rotate(-45)" font-size="17">PW5-2</text>
<text transform="translate(207.23,1676) rotate(-45)" font-size="17">PW5-4</text>
<text transform="translate(245.31,1676) rotate(-45)" font-size="17">PW5-5</text>
<text transform="translate(283.41,1676) rotate(-45)" font-size="17">PW5-6</text>
<text transform="translate(321.5,1676) rotate(-45)" font-size="17">PW5-7</text>
<text transform="translate(359.59,1676) rotate(-45)" font-size="17">PW5-8</text>
<text transform="translate(397.68,1676) rotate(-45)" font-size="17">PW5-10</text>
<text transform="translate(435.77,1676) rotate(-45)" font-size="17">PW5-18</text>
<text transform="translate(473.86,1676) rotate(-45)" font-size="17">PW5-19</text>
<text transform="translate(511.95,1676) rotate(-45)" font-size="17">PW5-23</text>
<text transform="translate(550.03,1676) rotate(-45)" font-size="17">PW5-29</text>
<text transform="translate(588.12,1676) rotate(-45)" font-size="17">PW5-207</text>
<text transform="translate(626.22,1676) rotate(-45)" font-size="17">PW5-212</text>
<text transform="translate(664.3,1676) rotate(-45)" font-size="17">PW5-233</text>
<text transform="translate(702.39,1676) rotate(-45)" font-size="17">PW5-238</text>
<text transform="translate(740.49,1676) rotate(-45)" font-size="17">PW5-240</text>
<text transform="translate(778.58,1676) rotate(-45)" font-size="17">PW5-241</text>
<text transform="translate(816.67,1676) rotate(-45)" font-size="17">PW5-253</text>
<text transform="translate(854.75,1676) rotate(-45)" font-size="17">PW5-259</text>
<text transform="translate(892.85,1676) rotate(-45)" font-size="17">PW5-265</text>
<text transform="translate(930.94,1676) rotate(-45)" font-size="17">PW5-270</text>
<text transform="translate(969.02,1676) rotate(-45)" font-size="17">PW5-274</text>
<text transform="translate(1007.12,1676) rotate(-45)" font-size="17">PW5-283</text>
<text transform="translate(1045.21,1676) rotate(-45)" font-size="17">PW5-288</text>
<text transform="translate(1083.3,1676) rotate(-45)" font-size="17">PW5-298</text>
<text transform="translate(1121.39,1676) rotate(-45)" font-size="17">PW5-313</text>
<text transform="translate(1159.48,1676) rotate(-45)" font-size="17">PW5-331</text>
<text transform="translate(1197.57,1676) rotate(-45)" font-size="17">PW5-335</text>
<text transform="translate(1235.66,1676) rotate(-45)" font-size="17">PW5-363</text>
<text transform="translate(1273.75,1676) rotate(-45)" font-size="17">PW5-380</text>
<text transform="translate(1311.84,1676) rotate(-45)" font-size="17">PW5-394</text>
<text transform="translate(1349.93,1676) rotate(-45)" font-size="17">PW5-399</text>
<text transform="translate(1388.02,1676) rotate(-45)" font-size="17">PW5-412</text>
<text transform="translate(1426.11,1676) rotate(-45)" font-size="17">PW5-419</text>
<text transform="translate(1464.2,1676) rotate(-45)" font-size="17">PW5-420</text>
<text transform="translate(1502.29,1676) rotate(-45)" font-size="17">PW5-421</text>
<text transform="translate(1540.38,1676) rotate(-45)" font-size="17">PW5-428</text>
<text transform="translate(1578.47,1676) rotate(-45)" font-size="17">PW5-432</text>
<text transform="translate(1616.56,1676) rotate(-45)" font-size="17">PW5-433</text>
<text transform="translate(1654.65,1676) rotate(-45)" font-size="17">PW5-436</text>
<text transform="translate(1692.74,1676) rotate(-45)" font-size="17">PW5-459</text>
<text transform="translate(1730.83,1676) rotate(-45)" font-size="17">PW5-460</text>
<path d="M107.9,1881.4h38.09v37.93h-38.09zM145.99,1881.4h38.09v37.93h-38.09zM184.08,1881.4h38.09v37.93h-38.09zM450.71,1881.4h38.09v37.93h-38.09zM869.7,1881.4h38.09v37.93h-38.09zM336.44,1919.33h38.09v37.93h-38.09zM374.53,1919.33h38.09v37.93h-38.09zM450.71,1919.33h38.09v37.93h-38.09zM488.8,1919.33h38.09v37.93h-38.09zM107.9,1957.26h38.09v37.93h-38.09zM145.99,1957.26h38.09v37.93h-38.09zM222.17,1957.26h38.09v37.93h-38.09zM298.35,1957.26h38.09v37.93h-38.09zM336.44,1957.26h38.09v37.93h-38.09zM374.53,1957.26h38.09v37.93h-38.09zM412.62,1957.26h38.09v37.93h-38.09zM450.71,1957.26h38.09v37.93h-38.09zM526.89,1957.26h38.09v37.93h-38.09zM564.98,1957.26h38.09v37.93h-38.09zM679.25,1957.26h38.09v37.93h-38.09zM717.34,1957.26h38.09v37.93h-38.09zM907.79,1957.26h38.09v37.93h-38.09zM945.88,1957.26h38.09v37.93h-38.09zM983.97,1957.26h38.09v37.93h-38.09zM1022.06,1957.26h38.09v37.93h-38.09zM1060.15,1957.26h38.09v37.93h-38.09zM1136.33,1957.26h38.09v37.93h-38.09zM1174.42,1957.26h38.09v37.93h-38.09zM1212.51,1957.26h38.09v37.93h-38.09zM1364.87,1957.26h38.09v37.93h-38.09zM1402.96,1957.26h38.09v37.93h-38.09zM1517.23,1957.26h38.09v37.93h-38.09zM1555.32,1957.26h38.09v37.93h-38.09zM1593.41,1957.26h38.09v37.93h-38.09zM1631.5,1957.26h38.09v37.93h-38.09zM1669.59,1957.26h38.09v37.93h-38.09zM1707.68,1957.26h38.09v37.93h-38.09z" fill="#129bb5"/>
<path d="M336.44,1881.4h38.09v37.93h-38.09zM107.9,1919.33h38.09v37.93h-38.09zM145.99,1919.33h38.09v37.93h-38.09zM184.08,1919.33h38.09v37.93h-38.09zM222.17,1919.33h38.09v37.93h-38.09zM679.25,1919.33h38.09v37.93h-38.09zM945.88,1919.33h38.09v37.93h-38.09zM1022.06,1919.33h38.09v37.93h-38.09zM1136.33,1919.33h38.09v37.93h-38.09zM1364.87,1919.33h38.09v37.93h-38.09zM1517.23,1919.33h38.09v37.93h-38.09zM1555.32,1919.33h38.09v37.93h-38.09zM184.08,1957.26h38.09v37.93h-38.09zM1288.69,1957.26h38.09v37.93h-38.09z" fill="#cce0fa"/>
<path d="M526.89,1919.33h38.09v37.93h-38.09zM488.8,1957.26h38.09v37.93h-38.09zM755.43,1957.26h38.09v37.93h-38.09z" fill="#04506a"/>
<path d="M107.9,1919.33h1637.87M107.9,1957.26h1637.87M145.99,1881.4v113.79M184.08,1881.4v113.79M222.17,1881.4v113.79M260.26,1881.4v113.79M298.35,1881.4v113.79M336.44,1881.4v113.79M374.53,1881.4v113.79M412.62,1881.4v113.79M450.71,1881.4v113.79M488.8,1881.4v113.79M526.89,1881.4v113.79M564.98,1881.4v113.79M603.07,1881.4v113.79M641.16,1881.4v113.79M679.25,1881.4v113.79M717.34,1881.4v113.79M755.43,1881.4v113.79M793.52,1881.4v113.79M831.61,1881.4v113.79M869.7,1881.4v113.79M907.79,1881.4v113.79M945.88,1881.4v113.79M983.97,1881.4v113.79M1022.06,1881.4v113.79M1060.15,1881.4v113.79M1098.24,1881.4v113.79M1136.33,1881.4v113.79M1174.42,1881.4v113.79M1212.51,1881.4v113.79M1250.6,1881.4v113.79M1288.69,1881.4v113.79M1326.78,1881.4v113.79M1364.87,1881.4v113.79M1402.96,1881.4v113.79M1441.05,1881.4v113.79M1479.14,1881.4v113.79M1517.23,1881.4v113.79M1555.32,1881.4v113.79M1593.41,1881.4v113.79M1631.5,1881.4v113.79M1669.59,1881.4v113.79M1707.68,1881.4v113.79" fill="none" stroke="#000" stroke-width="1.25" stroke-opacity="0.82"/>
<rect x="107.9" y="1881.4" width="1637.87" height="113.79" fill="none" stroke="#000" stroke-width="1.0" stroke-opacity="0.82"/>
<text x="106.6" y="1906.52" font-size="17" text-anchor="end">MERS-CoV</text>
<text x="106.6" y="1944.45" font-size="17" text-anchor="end">SARS-CoV</text>
<text x="106.6" y="1982.38" font-size="17" text-anchor="end">SARS-CoV-2</text>
<text transform="translate(130.94,1872.3) rotate(-45)" font-size="17">PW5-468</text>
<text transform="translate(169.04,1872.3) rotate(-45)" font-size="17">PW5-477</text>
<text transform="translate(207.12,1872.3) rotate(-45)" font-size="17">PW5-479</text>
<text transform="translate(245.22,1872.3) rotate(-45)" font-size="17">PW5-492</text>
<text transform="translate(283.31,1872.3) rotate(-45)" font-size="17">PW5-494</text>
<text transform="translate(321.4,1872.3) rotate(-45)" font-size="17">PW5-508</text>
<text transform="translate(359.49,1872.3) rotate(-45)" font-size="17">PW5-510</text>
<text transform="translate(397.57,1872.3) rotate(-45)" font-size="17">PW5-522</text>
<text transform="translate(435.67,1872.3) rotate(-45)" font-size="17">PW5-524</text>
<text transform="translate(473.76,1872.3) rotate(-45)" font-size="17">PW5-530</text>
<text transform="translate(511.85,1872.3) rotate(-45)" font-size="17">PW5-534</text>
<text transform="translate(549.93,1872.3) rotate(-45)" font-size="17">PW5-535</text>
<text transform="translate(588.02,1872.3) rotate(-45)" font-size="17">PW5-540</text>
<text transform="translate(626.12,1872.3) rotate(-45)" font-size="17">PW5-544</text>
<text transform="translate(664.2,1872.3) rotate(-45)" font-size="17">PW5-546</text>
<text transform="translate(702.29,1872.3) rotate(-45)" font-size="17">PW5-547</text>
<text transform="translate(740.38,1872.3) rotate(-45)" font-size="17">PW5-558</text>
<text transform="translate(778.48,1872.3) rotate(-45)" font-size="17">PW5-570</text>
<text transform="translate(816.57,1872.3) rotate(-45)" font-size="17">PW5-576</text>
<text transform="translate(854.65,1872.3) rotate(-45)" font-size="17">PW5-609</text>
<text transform="translate(892.75,1872.3) rotate(-45)" font-size="17">PW5-633</text>
<text transform="translate(930.84,1872.3) rotate(-45)" font-size="17">PW5-646</text>
<text transform="translate(968.92,1872.3) rotate(-45)" font-size="17">PW5-656</text>
<text transform="translate(1007.01,1872.3) rotate(-45)" font-size="17">PW5-676</text>
<text transform="translate(1045.11,1872.3) rotate(-45)" font-size="17">PW5-683</text>
<text transform="translate(1083.2,1872.3) rotate(-45)" font-size="17">PW5-693</text>
<text transform="translate(1121.29,1872.3) rotate(-45)" font-size="17">PW5-694</text>
<text transform="translate(1159.38,1872.3) rotate(-45)" font-size="17">PW5-699</text>
<text transform="translate(1197.47,1872.3) rotate(-45)" font-size="17">PW5-710</text>
<text transform="translate(1235.56,1872.3) rotate(-45)" font-size="17">PW5-720</text>
<text transform="translate(1273.65,1872.3) rotate(-45)" font-size="17">PW5-722</text>
<text transform="translate(1311.74,1872.3) rotate(-45)" font-size="17">PW5-786</text>
<text transform="translate(1349.83,1872.3) rotate(-45)" font-size="17">PW5-803</text>
<text transform="translate(1387.92,1872.3) rotate(-45)" font-size="17">PW5-807</text>
<text transform="translate(1426.01,1872.3) rotate(-45)" font-size="17">PW5-808</text>
<text transform="translate(1464.1,1872.3) rotate(-45)" font-size="17">PW5-819</text>
<text transform="translate(1502.19,1872.3) rotate(-45)" font-size="17">PW5-850</text>
<text transform="translate(1540.28,1872.3) rotate(-45)" font-size="17">PW5-853</text>
<text transform="translate(1578.37,1872.3) rotate(-45)" font-size="17">PW5-862</text>
<text transform="translate(1616.46,1872.3) rotate(-45)" font-size="17">PW5-879</text>
<text transform="translate(1654.55,1872.3) rotate(-45)" font-size="17">PW5-884</text>
<text transform="translate(1692.64,1872.3) rotate(-45)" font-size="17">PW5-885</text>
<text transform="translate(1730.73,1872.3) rotate(-45)" font-size="17">PW5-897</text>
</g>
<g id="panel-d">
<text transform="translate(2.6,2044) scale(1.075,1.012)" font-size="40" font-weight="bold">d</text>
<text x="278" y="2046.3" font-size="26" text-anchor="middle">MERS-CoV</text>
<text x="630.2" y="2046.3" font-size="26" text-anchor="middle">SARS-CoV</text>
<text x="987.5" y="2046.3" font-size="26" text-anchor="middle">SARS-CoV-2</text>
<text transform="translate(39.4,2250.8) rotate(-90) scale(0.912,1)" font-size="28.5" text-anchor="middle">% Neutralization</text>
<text x="278.9" y="2491.5" font-size="26" text-anchor="middle">Antibody (μg/mL)</text>
<text x="631.7" y="2491.5" font-size="26" text-anchor="middle">Antibody (μg/mL)</text>
<text x="987.3" y="2491.5" font-size="26" text-anchor="middle">Antibody (μg/mL)</text>
<text x="99" y="2423.59" font-size="26" text-anchor="end">-20</text>
<text x="99" y="2377.35" font-size="26" text-anchor="end">0</text>
<text x="99" y="2331.11" font-size="26" text-anchor="end">20</text>
<text x="99" y="2284.87" font-size="26" text-anchor="end">40</text>
<text x="99" y="2238.62" font-size="26" text-anchor="end">60</text>
<text x="99" y="2192.38" font-size="26" text-anchor="end">80</text>
<text x="99" y="2146.14" font-size="26" text-anchor="end">100</text>
<text x="99" y="2099.89" font-size="26" text-anchor="end">120</text>
<text x="116.1" y="2460.69" font-size="26" text-anchor="middle">10<tspan font-size="16.8" dy="-11.3">-2</tspan></text>
<text x="187.82" y="2460.69" font-size="26" text-anchor="middle">10<tspan font-size="16.8" dy="-11.3">-1</tspan></text>
<text x="257.34" y="2460.69" font-size="26" text-anchor="middle">10<tspan font-size="16.8" dy="-11.3">0</tspan></text>
<text x="329.06" y="2460.69" font-size="26" text-anchor="middle">10<tspan font-size="16.8" dy="-11.3">1</tspan></text>
<text x="400.78" y="2460.69" font-size="26" text-anchor="middle">10<tspan font-size="16.8" dy="-11.3">2</tspan></text>
<path d="M116.7,2091.19V2414.89M103.9,2414.89H440.4M103.9,2368.65H116.7M103.9,2322.41H116.7M103.9,2276.17H116.7M103.9,2229.92H116.7M103.9,2183.68H116.7M103.9,2137.44H116.7M103.9,2091.19H116.7M116.7,2414.89V2427.49M188.42,2414.89V2427.49M260.14,2414.89V2427.49M331.86,2414.89V2427.49M403.58,2414.89V2427.49" stroke="#000" stroke-width="1.75" fill="none" stroke-linecap="square"/>
<path d="M122.7,2368.65H437.4" stroke="#000" stroke-width="3.3" stroke-linecap="round" stroke-dasharray="0,6.9"/>
<path d="M153.28,2402.87H403.58" stroke="#00f000" stroke-width="1.5"/>
<path d="M153.28,2401.71H403.58" stroke="#90c0ff" stroke-width="1.5"/>
<path d="M153.28,2397.55H403.58" stroke="#000000" stroke-width="1.5"/>
<path d="M153.28,2383.91H403.58" stroke="#ff0000" stroke-width="1.5"/>
<path d="M153.28,2383.68H403.58" stroke="#0000ff" stroke-width="1.5"/>
<path d="M153.28,2368.65H403.58" stroke="#58084e" stroke-width="1.5"/>
<path d="M153.28,2368.65H299.58" stroke="#ff8000" stroke-width="1.5"/>
<path d="M153.28,2368.65H249.38" stroke="#ff00ff" stroke-width="1.5"/>
<path d="M252.35,2368.77C253.99,2368.7 259.34,2369.01 262.22,2368.4C265.1,2367.78 267.16,2366.95 269.63,2365.06C272.1,2363.17 274.77,2360.43 277.04,2357.04C279.3,2353.64 281.15,2349.63 283.21,2344.69C285.27,2339.75 287.33,2334.4 289.38,2327.41C291.44,2320.41 293.29,2311.98 295.56,2302.72C297.82,2293.46 300.7,2281.32 302.96,2271.85C305.23,2262.39 307.28,2253.33 309.14,2245.93C310.99,2238.52 312.22,2233.68 314.07,2227.41C315.93,2221.13 318.19,2214.03 320.25,2208.27C322.3,2202.51 324.36,2197.47 326.42,2192.84C328.48,2188.21 330.53,2184.2 332.59,2180.49C334.65,2176.79 336.5,2173.7 338.77,2170.62C341.03,2167.53 343.7,2164.44 346.17,2161.98C348.64,2159.51 350.7,2157.86 353.58,2155.8C356.46,2153.74 359.75,2151.48 363.46,2149.63C367.16,2147.78 371.69,2145.93 375.8,2144.69C379.92,2143.46 383.42,2142.94 388.15,2142.22C392.88,2141.5 401.52,2140.68 404.2,2140.37" fill="none" stroke="#ff00ff" stroke-width="1.5"/>
<path d="M325.19,2368.77C326.63,2368.62 331.15,2368.52 333.83,2367.9C336.5,2367.28 338.97,2366.36 341.23,2365.06C343.5,2363.77 345.35,2362.28 347.41,2360.12C349.47,2357.96 351.73,2355.49 353.58,2352.1C355.43,2348.7 356.87,2344.69 358.52,2339.75C360.16,2334.81 361.6,2328.64 363.46,2322.47C365.31,2316.3 367.57,2308.89 369.63,2302.72C371.69,2296.54 373.74,2290.68 375.8,2285.43C377.86,2280.19 379.92,2275.56 381.98,2271.23C384.03,2266.91 385.88,2263.11 388.15,2259.51C390.41,2255.91 392.88,2252.51 395.56,2249.63C398.23,2246.75 402.76,2243.46 404.2,2242.22" fill="none" stroke="#ff8000" stroke-width="1.5"/>
<path d="M203.19,2375.07V2386.42M196.69,2375.07h13M196.69,2386.42h13" stroke="#90c0ff" stroke-width="1.5" fill="none"/>
<path d="M404,2329.47V2359.45M397.5,2329.47h13M397.5,2359.45h13" stroke="#90c0ff" stroke-width="1.5" fill="none"/>
<path d="M146.49,2386.67L159.69,2399.87M159.69,2386.67L146.49,2399.87" stroke="#90c0ff" stroke-width="3.3" fill="none"/>
<path d="M196.59,2373.83L209.79,2387.03M209.79,2373.83L196.59,2387.03" stroke="#90c0ff" stroke-width="3.3" fill="none"/>
<path d="M397.4,2337.86L410.6,2351.06M410.6,2337.86L397.4,2351.06" stroke="#90c0ff" stroke-width="3.3" fill="none"/>
<path d="M153.09,2357.95V2369.72M146.59,2357.95h13M146.59,2369.72h13" stroke="#00f000" stroke-width="1.5" fill="none"/>
<path d="M303.38,2386.42V2405.69M296.88,2386.42h13M296.88,2405.69h13" stroke="#00f000" stroke-width="1.5" fill="none"/>
<path d="M146.79,2364.37H159.39M153.09,2358.07V2370.67" stroke="#00f000" stroke-width="3.9" fill="none"/>
<path d="M297.08,2394.34H309.68M303.38,2388.04V2400.64" stroke="#00f000" stroke-width="3.9" fill="none"/>
<path d="M196.89,2399.69H209.49M203.19,2393.39V2405.99" stroke="#00f000" stroke-width="3.9" fill="none"/>
<path d="M347.39,2391.13H359.99M353.69,2384.83V2397.43" stroke="#00f000" stroke-width="3.9" fill="none"/>
<path d="M253.07,2397.55V2412.54M246.57,2397.55h13M246.57,2412.54h13" stroke="#000000" stroke-width="1.5" fill="none"/>
<circle cx="153.09" cy="2378.29" r="8" fill="#000000"/>
<circle cx="203.19" cy="2393.27" r="8" fill="#000000"/>
<circle cx="253.07" cy="2405.05" r="8" fill="#000000"/>
<circle cx="303.38" cy="2384.71" r="8" fill="#000000"/>
<circle cx="353.69" cy="2408.9" r="8" fill="#000000"/>
<circle cx="404" cy="2362.23" r="8" fill="#000000"/>
<path d="M153.09,2356.88V2380.43M146.59,2356.88h13M146.59,2380.43h13" stroke="#a07030" stroke-width="1.5" fill="none"/>
<path d="M203.19,2354.31V2380.43M196.69,2354.31h13M196.69,2380.43h13" stroke="#a07030" stroke-width="1.5" fill="none"/>
<path d="M253.07,2406.12V2421.1M246.57,2406.12h13M246.57,2421.1h13" stroke="#a07030" stroke-width="1.5" fill="none"/>
<path d="M353.69,2378.29V2403.98M347.19,2378.29h13M347.19,2403.98h13" stroke="#a07030" stroke-width="1.5" fill="none"/>
<path d="M153.09,2362.58L159.89,2374.82H146.29Z" fill="#a07030"/>
<path d="M203.19,2361.51L209.99,2373.75H196.39Z" fill="#a07030"/>
<path d="M253.07,2407.54L259.87,2419.78H246.27Z" fill="#a07030"/>
<path d="M303.38,2381.85L310.18,2394.09H296.58Z" fill="#a07030"/>
<path d="M353.69,2388.27L360.49,2400.51H346.89Z" fill="#a07030"/>
<path d="M404,2381.85L410.8,2394.09H397.2Z" fill="#a07030"/>
<path d="M153.09,2368.65V2408.9M146.59,2368.65h13M146.59,2408.9h13" stroke="#ff8000" stroke-width="1.5" fill="none"/>
<path d="M203.19,2353.67V2376.14M196.69,2353.67h13M196.69,2376.14h13" stroke="#ff8000" stroke-width="1.5" fill="none"/>
<path d="M253.07,2347.88V2391.13M246.57,2347.88h13M246.57,2391.13h13" stroke="#ff8000" stroke-width="1.5" fill="none"/>
<path d="M303.38,2365.87V2413.61M296.88,2365.87h13M296.88,2413.61h13" stroke="#ff8000" stroke-width="1.5" fill="none"/>
<path d="M353.69,2335.04V2368.01M347.19,2335.04h13M347.19,2368.01h13" stroke="#ff8000" stroke-width="1.5" fill="none"/>
<path d="M404,2234.42V2248.12M397.5,2234.42h13M397.5,2248.12h13" stroke="#ff8000" stroke-width="1.5" fill="none"/>
<path d="M153.09,2382.91L159.29,2389.42L153.09,2395.93L146.89,2389.42Z" fill="#ff8000"/>
<path d="M203.19,2357.86L209.39,2364.37L203.19,2370.88L196.99,2364.37Z" fill="#ff8000"/>
<path d="M253.07,2368.56L259.27,2375.07L253.07,2381.58L246.87,2375.07Z" fill="#ff8000"/>
<path d="M303.38,2384.62L309.58,2391.13L303.38,2397.64L297.18,2391.13Z" fill="#ff8000"/>
<path d="M353.69,2345.01L359.89,2351.52L353.69,2358.03L347.49,2351.52Z" fill="#ff8000"/>
<path d="M404,2234.76L410.2,2241.27L404,2247.78L397.8,2241.27Z" fill="#ff8000"/>
<path d="M203.19,2391.13V2405.05M196.69,2391.13h13M196.69,2405.05h13" stroke="#ff0000" stroke-width="1.5" fill="none"/>
<path d="M353.69,2376.57V2391.13M347.19,2376.57h13M347.19,2391.13h13" stroke="#ff0000" stroke-width="1.5" fill="none"/>
<rect x="146.69" y="2367.6" width="12.8" height="12.8" fill="#ff0000"/>
<rect x="196.79" y="2392.22" width="12.8" height="12.8" fill="#ff0000"/>
<rect x="246.67" y="2384.73" width="12.8" height="12.8" fill="#ff0000"/>
<rect x="296.98" y="2375.1" width="12.8" height="12.8" fill="#ff0000"/>
<rect x="347.29" y="2378.31" width="12.8" height="12.8" fill="#ff0000"/>
<rect x="397.6" y="2370.81" width="12.8" height="12.8" fill="#ff0000"/>
<path d="M153.09,2355.81V2379.36M146.59,2355.81h13M146.59,2379.36h13" stroke="#a010e0" stroke-width="1.5" fill="none"/>
<path d="M153.09,2373.65L159.89,2361.41H146.29Z" fill="#a010e0"/>
<path d="M253.07,2379L259.87,2366.76H246.27Z" fill="#a010e0"/>
<path d="M303.38,2278.38L310.18,2266.14H296.58Z" fill="#a010e0"/>
<path d="M353.69,2162.77L360.49,2150.53H346.89Z" fill="#a010e0"/>
<path d="M404,2146.08L410.8,2133.84H397.2Z" fill="#a010e0"/>
<path d="M153.09,2362.23V2379.36M146.59,2362.23h13M146.59,2379.36h13" stroke="#0000ff" stroke-width="1.5" fill="none"/>
<path d="M303.38,2369.72V2386.42M296.88,2369.72h13M296.88,2386.42h13" stroke="#0000ff" stroke-width="1.5" fill="none"/>
<path d="M353.69,2379.36V2397.55M347.19,2379.36h13M347.19,2397.55h13" stroke="#0000ff" stroke-width="1.5" fill="none"/>
<path d="M404,2383V2398.62M397.5,2383h13M397.5,2398.62h13" stroke="#0000ff" stroke-width="1.5" fill="none"/>
<circle cx="153.09" cy="2370.79" r="6.5" fill="#0000ff"/>
<circle cx="203.19" cy="2392.2" r="6.5" fill="#0000ff"/>
<circle cx="253.07" cy="2383.64" r="6.5" fill="#0000ff"/>
<circle cx="303.38" cy="2378.29" r="6.5" fill="#0000ff"/>
<circle cx="353.69" cy="2388.56" r="6.5" fill="#0000ff"/>
<circle cx="404" cy="2390.7" r="6.5" fill="#0000ff"/>
<text x="527.19" y="2460.69" font-size="26" text-anchor="middle">10<tspan font-size="16.8" dy="-11.3">-2</tspan></text>
<text x="642.74" y="2460.69" font-size="26" text-anchor="middle">10<tspan font-size="16.8" dy="-11.3">0</tspan></text>
<text x="760.49" y="2460.69" font-size="26" text-anchor="middle">10<tspan font-size="16.8" dy="-11.3">2</tspan></text>
<path d="M469.56,2091.19V2414.89M456.76,2414.89H793.26M456.76,2368.65H469.56M456.76,2322.41H469.56M456.76,2276.17H469.56M456.76,2229.92H469.56M456.76,2183.68H469.56M456.76,2137.44H469.56M456.76,2091.19H469.56M527.79,2414.89V2427.49M645.54,2414.89V2427.49M763.29,2414.89V2427.49" stroke="#000" stroke-width="1.75" fill="none" stroke-linecap="square"/>
<path d="M475.56,2368.65H790.26" stroke="#000" stroke-width="3.3" stroke-linecap="round" stroke-dasharray="0,6.9"/>
<path d="M498.94,2318.95L505.55,2297.64L512.16,2272.44L518.77,2245.81L525.38,2220.81L531.98,2199.81L538.59,2183.76L545.2,2172.36L551.81,2164.67L558.42,2159.68L565.03,2156.5L571.64,2154.51L578.24,2153.28L584.85,2152.52L591.46,2152.05L598.07,2151.76L604.68,2151.59L611.29,2151.48L617.9,2151.41L624.5,2151.37L631.11,2151.35L637.72,2151.33L644.33,2151.32L650.94,2151.32L657.55,2151.32L664.16,2151.31L670.76,2151.31L677.37,2151.31L683.98,2151.31L690.59,2151.31L697.2,2151.31L703.81,2151.31L710.42,2151.31L717.02,2151.31L723.63,2151.31L730.24,2151.31L736.85,2151.31L743.46,2151.31L750.07,2151.31L756.68,2151.31L763.29,2151.31" fill="none" stroke="#ff0000" stroke-width="1.5"/>
<path d="M498.89,2345.1C502.28,2343.5 512.34,2339.57 519.23,2335.47C526.11,2331.36 533.07,2327.97 540.21,2320.48C547.34,2312.99 555.19,2301.93 562.04,2290.51C568.89,2279.09 574.53,2266.6 581.31,2251.97C588.09,2237.34 595.87,2217.72 602.72,2202.73C609.57,2187.75 616.17,2170.98 622.42,2162.06C628.66,2153.14 633.3,2152.25 640.19,2149.21C647.07,2146.18 655.35,2144.93 663.73,2143.86C672.12,2142.79 673.9,2143.04 690.5,2142.79C707.09,2142.54 751.15,2142.43 763.29,2142.36" fill="none" stroke="#00f000" stroke-width="1.5"/>
<path d="M557.76,2318.34C561.15,2313.35 571.25,2298 578.1,2288.37C584.95,2278.73 591.91,2269.1 598.87,2260.54C605.82,2251.97 612.96,2244.23 619.85,2236.99C626.73,2229.74 633.41,2223.86 640.19,2217.08C646.96,2210.3 653.67,2202.81 660.52,2196.31C667.37,2189.82 674.51,2182.57 681.29,2178.11C688.07,2173.65 694.31,2171.98 701.2,2169.55C708.09,2167.12 715.65,2165.16 722.61,2163.56C729.57,2161.95 736.17,2160.88 742.95,2159.92C749.73,2158.95 759.9,2158.13 763.29,2157.78" fill="none" stroke="#0000ff" stroke-width="1.5"/>
<path d="M557.76,2331.61C564.61,2329.58 585.13,2323.76 598.87,2319.41C612.6,2315.06 626.45,2311.03 640.19,2305.5C653.92,2299.97 667.55,2293.36 681.29,2286.23C695.03,2279.09 708.94,2271.06 722.61,2262.68C736.27,2254.29 756.51,2240.38 763.29,2235.92" fill="none" stroke="#58084e" stroke-width="1.5"/>
<path d="M557.82,2368.61L562.95,2368.59L568.09,2368.58L573.23,2368.55L578.36,2368.52L583.5,2368.48L588.64,2368.43L593.77,2368.37L598.91,2368.29L604.05,2368.18L609.18,2368.03L614.32,2367.85L619.46,2367.61L624.59,2367.29L629.73,2366.89L634.87,2366.36L640,2365.69L645.14,2364.81L650.28,2363.68L655.41,2362.22L660.55,2360.36L665.69,2357.98L670.82,2354.96L675.96,2351.15L681.1,2346.39L686.23,2340.51L691.37,2333.34L696.51,2324.74L701.64,2314.62L706.78,2302.98L711.92,2289.95L717.05,2275.79L722.19,2260.87L727.33,2245.69L732.46,2230.76L737.6,2216.57L742.74,2203.5L747.87,2191.82L753.01,2181.65L758.15,2172.99L763.29,2165.78" fill="none" stroke="#ff8000" stroke-width="1.5"/>
<path d="M557.82,2368.65L562.95,2368.65L568.09,2368.65L573.23,2368.65L578.36,2368.65L583.5,2368.65L588.64,2368.65L593.77,2368.65L598.91,2368.65L604.05,2368.65L609.18,2368.65L614.32,2368.65L619.46,2368.65L624.59,2368.65L629.73,2368.65L634.87,2368.65L640,2368.65L645.14,2368.65L650.28,2368.65L655.41,2368.65L660.55,2368.65L665.69,2368.65L670.82,2368.65L675.96,2368.65L681.1,2368.65L686.23,2368.64L691.37,2368.61L696.51,2368.5L701.64,2368.14L706.78,2366.95L711.92,2363.15L717.05,2351.95L722.19,2325.82L727.33,2288.03L732.46,2259.07L737.6,2245.85L742.74,2241.25L747.87,2239.8L753.01,2239.36L758.15,2239.23L763.29,2239.19" fill="none" stroke="#ff00ff" stroke-width="1.5"/>
<path d="M704.41,2367.36L705.88,2367.02L707.35,2366.58L708.83,2366.02L710.3,2365.32L711.77,2364.44L713.24,2363.34L714.71,2361.97L716.19,2360.27L717.66,2358.17L719.13,2355.61L720.6,2352.51L722.07,2348.81L723.55,2344.45L725.02,2339.42L726.49,2333.7L727.96,2327.36L729.43,2320.51L730.9,2313.29L732.38,2305.9L733.85,2298.55L735.32,2291.46L736.79,2284.79L738.26,2278.69L739.74,2273.25L741.21,2268.48L742.68,2264.39L744.15,2260.94L745.62,2258.07L747.09,2255.7L748.57,2253.77L750.04,2252.21L751.51,2250.95L752.98,2249.94L754.45,2249.14L755.93,2248.5L757.4,2247.99L758.87,2247.59L760.34,2247.28L761.81,2247.03L763.29,2246.83" fill="none" stroke="#000000" stroke-width="1.5"/>
<path d="M710.3,2368.65H763.29" stroke="#90c0ff" stroke-width="1.5"/>
<path d="M557.76,2359.02V2376.14M552.89,2359.02h9.75M552.89,2376.14h9.75" stroke="#90c0ff" stroke-width="1.5" fill="none"/>
<path d="M598.87,2391.13V2406.12M593.99,2391.13h9.75M593.99,2406.12h9.75" stroke="#90c0ff" stroke-width="1.5" fill="none"/>
<path d="M640.19,2368.65V2392.2M635.31,2368.65h9.75M635.31,2392.2h9.75" stroke="#90c0ff" stroke-width="1.5" fill="none"/>
<path d="M722.61,2376.14V2403.98M717.73,2376.14h9.75M717.73,2403.98h9.75" stroke="#90c0ff" stroke-width="1.5" fill="none"/>
<path d="M763.29,2325.83V2348.96M758.41,2325.83h9.75M758.41,2348.96h9.75" stroke="#90c0ff" stroke-width="1.5" fill="none"/>
<path d="M552.81,2363.7L562.71,2373.6M562.71,2363.7L552.81,2373.6" stroke="#90c0ff" stroke-width="2.47" fill="none"/>
<path d="M593.92,2392.6L603.82,2402.5M603.82,2392.6L593.92,2402.5" stroke="#90c0ff" stroke-width="2.47" fill="none"/>
<path d="M635.24,2375.48L645.14,2385.38M645.14,2375.48L635.24,2385.38" stroke="#90c0ff" stroke-width="2.47" fill="none"/>
<path d="M717.66,2385.11L727.56,2395.01M727.56,2385.11L717.66,2395.01" stroke="#90c0ff" stroke-width="2.47" fill="none"/>
<path d="M758.34,2332.66L768.24,2342.56M768.24,2332.66L758.34,2342.56" stroke="#90c0ff" stroke-width="2.47" fill="none"/>
<path d="M557.76,2364.37V2388.35M552.89,2364.37h9.75M552.89,2388.35h9.75" stroke="#000000" stroke-width="1.5" fill="none"/>
<path d="M640.19,2332.26V2360.52M635.31,2332.26h9.75M635.31,2360.52h9.75" stroke="#000000" stroke-width="1.5" fill="none"/>
<path d="M681.29,2390.06V2401.41M676.41,2390.06h9.75M676.41,2401.41h9.75" stroke="#000000" stroke-width="1.5" fill="none"/>
<path d="M722.61,2326.26V2360.52M717.73,2326.26h9.75M717.73,2360.52h9.75" stroke="#000000" stroke-width="1.5" fill="none"/>
<path d="M763.29,2240.63V2255.19M758.41,2240.63h9.75M758.41,2255.19h9.75" stroke="#000000" stroke-width="1.5" fill="none"/>
<circle cx="557.76" cy="2376.14" r="6" fill="#000000"/>
<circle cx="598.87" cy="2387.28" r="6" fill="#000000"/>
<circle cx="640.19" cy="2346.17" r="6" fill="#000000"/>
<circle cx="681.29" cy="2395.84" r="6" fill="#000000"/>
<circle cx="722.61" cy="2343.39" r="6" fill="#000000"/>
<circle cx="763.29" cy="2247.69" r="6" fill="#000000"/>
<path d="M557.76,2360.09V2392.84M552.89,2360.09h9.75M552.89,2392.84h9.75" stroke="#ff8000" stroke-width="1.5" fill="none"/>
<path d="M598.87,2368.65V2403.98M593.99,2368.65h9.75M593.99,2403.98h9.75" stroke="#ff8000" stroke-width="1.5" fill="none"/>
<path d="M640.19,2352.59V2384.71M635.31,2352.59h9.75M635.31,2384.71h9.75" stroke="#ff8000" stroke-width="1.5" fill="none"/>
<path d="M681.29,2332.68V2359.02M676.41,2332.68h9.75M676.41,2359.02h9.75" stroke="#ff8000" stroke-width="1.5" fill="none"/>
<path d="M722.61,2251.97V2268.03M717.73,2251.97h9.75M717.73,2268.03h9.75" stroke="#ff8000" stroke-width="1.5" fill="none"/>
<path d="M557.76,2371.69L562.41,2376.57L557.76,2381.45L553.11,2376.57Z" fill="#ff8000"/>
<path d="M598.87,2382.39L603.52,2387.28L598.87,2392.16L594.22,2387.28Z" fill="#ff8000"/>
<path d="M640.19,2363.77L644.84,2368.65L640.19,2373.53L635.54,2368.65Z" fill="#ff8000"/>
<path d="M681.29,2341.29L685.94,2346.17L681.29,2351.05L676.64,2346.17Z" fill="#ff8000"/>
<path d="M722.61,2254.58L727.26,2259.47L722.61,2264.35L717.96,2259.47Z" fill="#ff8000"/>
<path d="M763.29,2164.67L767.94,2169.55L763.29,2174.43L758.64,2169.55Z" fill="#ff8000"/>
<path d="M557.76,2298V2350.88M552.89,2298h9.75M552.89,2350.88h9.75" stroke="#a07030" stroke-width="1.5" fill="none"/>
<path d="M598.87,2279.16V2361.59M593.99,2279.16h9.75M593.99,2361.59h9.75" stroke="#a07030" stroke-width="1.5" fill="none"/>
<path d="M640.19,2289.87V2330.12M635.31,2289.87h9.75M635.31,2330.12h9.75" stroke="#a07030" stroke-width="1.5" fill="none"/>
<path d="M681.29,2271.67V2305.92M676.41,2271.67h9.75M676.41,2305.92h9.75" stroke="#a07030" stroke-width="1.5" fill="none"/>
<path d="M722.61,2268.03V2275.52M717.73,2268.03h9.75M717.73,2275.52h9.75" stroke="#a07030" stroke-width="1.5" fill="none"/>
<path d="M763.29,2211.3V2247.26M758.41,2211.3h9.75M758.41,2247.26h9.75" stroke="#a07030" stroke-width="1.5" fill="none"/>
<path d="M557.76,2322.62L562.86,2331.8H552.66Z" fill="#a07030"/>
<path d="M598.87,2315.13L603.97,2324.31H593.77Z" fill="#a07030"/>
<path d="M640.19,2304.42L645.29,2313.6H635.09Z" fill="#a07030"/>
<path d="M681.29,2283.66L686.39,2292.84H676.19Z" fill="#a07030"/>
<path d="M722.61,2265.89L727.71,2275.07H717.51Z" fill="#a07030"/>
<path d="M763.29,2224.78L768.39,2233.96H758.19Z" fill="#a07030"/>
<path d="M557.76,2354.74V2378.29M552.89,2354.74h9.75M552.89,2378.29h9.75" stroke="#a010e0" stroke-width="1.5" fill="none"/>
<path d="M598.87,2372.93V2390.06M593.99,2372.93h9.75M593.99,2390.06h9.75" stroke="#a010e0" stroke-width="1.5" fill="none"/>
<path d="M640.19,2368.65V2381.5M635.31,2368.65h9.75M635.31,2381.5h9.75" stroke="#a010e0" stroke-width="1.5" fill="none"/>
<path d="M681.29,2360.09V2384.28M676.41,2360.09h9.75M676.41,2384.28h9.75" stroke="#a010e0" stroke-width="1.5" fill="none"/>
<path d="M722.61,2313.63V2331.61M717.73,2313.63h9.75M717.73,2331.61h9.75" stroke="#a010e0" stroke-width="1.5" fill="none"/>
<path d="M763.29,2234.85V2244.48M758.41,2234.85h9.75M758.41,2244.48h9.75" stroke="#a010e0" stroke-width="1.5" fill="none"/>
<path d="M557.76,2370.79L562.86,2361.61H552.66Z" fill="#a010e0"/>
<path d="M598.87,2386.85L603.97,2377.67H593.77Z" fill="#a010e0"/>
<path d="M640.19,2380.43L645.29,2371.25H635.09Z" fill="#a010e0"/>
<path d="M681.29,2377.22L686.39,2368.04H676.19Z" fill="#a010e0"/>
<path d="M722.61,2327.98L727.71,2318.8H717.51Z" fill="#a010e0"/>
<path d="M763.29,2244.48L768.39,2235.3H758.19Z" fill="#a010e0"/>
<path d="M498.89,2330.12V2395.41M494.01,2330.12h9.75M494.01,2395.41h9.75" stroke="#00f000" stroke-width="1.5" fill="none"/>
<path d="M540.21,2287.3V2310.21M535.33,2287.3h9.75M535.33,2310.21h9.75" stroke="#00f000" stroke-width="1.5" fill="none"/>
<path d="M581.31,2236.56V2268.67M576.44,2236.56h9.75M576.44,2268.67h9.75" stroke="#00f000" stroke-width="1.5" fill="none"/>
<path d="M622.42,2154.99V2174.9M617.54,2154.99h9.75M617.54,2174.9h9.75" stroke="#00f000" stroke-width="1.5" fill="none"/>
<path d="M494.16,2362.23H503.61M498.89,2357.5V2366.95" stroke="#00f000" stroke-width="2.92" fill="none"/>
<path d="M535.48,2298.64H544.93M540.21,2293.92V2303.37" stroke="#00f000" stroke-width="2.92" fill="none"/>
<path d="M576.59,2252.62H586.04M581.31,2247.89V2257.34" stroke="#00f000" stroke-width="2.92" fill="none"/>
<path d="M617.69,2164.63H627.14M622.42,2159.9V2169.35" stroke="#00f000" stroke-width="2.92" fill="none"/>
<path d="M659.01,2140.22H668.46M663.73,2135.5V2144.95" stroke="#00f000" stroke-width="2.92" fill="none"/>
<path d="M717.88,2150.92H727.33M722.61,2146.2V2155.65" stroke="#00f000" stroke-width="2.92" fill="none"/>
<path d="M758.56,2139.58H768.01M763.29,2134.85V2144.3" stroke="#00f000" stroke-width="2.92" fill="none"/>
<path d="M557.76,2310.85V2326.26M552.89,2310.85h9.75M552.89,2326.26h9.75" stroke="#0000ff" stroke-width="1.5" fill="none"/>
<path d="M598.87,2254.76V2266.32M593.99,2254.76h9.75M593.99,2266.32h9.75" stroke="#0000ff" stroke-width="1.5" fill="none"/>
<path d="M640.19,2204.87V2228.85M635.31,2204.87h9.75M635.31,2228.85h9.75" stroke="#0000ff" stroke-width="1.5" fill="none"/>
<path d="M763.29,2152.42V2162.49M758.41,2152.42h9.75M758.41,2162.49h9.75" stroke="#0000ff" stroke-width="1.5" fill="none"/>
<circle cx="557.76" cy="2318.34" r="4.88" fill="#0000ff"/>
<circle cx="598.87" cy="2260.54" r="4.88" fill="#0000ff"/>
<circle cx="640.19" cy="2217.08" r="4.88" fill="#0000ff"/>
<circle cx="681.29" cy="2178.11" r="4.88" fill="#0000ff"/>
<circle cx="722.61" cy="2163.56" r="4.88" fill="#0000ff"/>
<circle cx="763.29" cy="2157.78" r="4.88" fill="#0000ff"/>
<path d="M498.89,2297.57V2341.25M494.01,2297.57h9.75M494.01,2341.25h9.75" stroke="#ff0000" stroke-width="1.5" fill="none"/>
<rect x="494.09" y="2314.18" width="9.6" height="9.6" fill="#ff0000"/>
<rect x="535.41" y="2175.88" width="9.6" height="9.6" fill="#ff0000"/>
<rect x="594.07" y="2158.33" width="9.6" height="9.6" fill="#ff0000"/>
<rect x="635.39" y="2148.27" width="9.6" height="9.6" fill="#ff0000"/>
<rect x="676.49" y="2144.41" width="9.6" height="9.6" fill="#ff0000"/>
<rect x="717.81" y="2141.84" width="9.6" height="9.6" fill="#ff0000"/>
<rect x="758.49" y="2142.27" width="9.6" height="9.6" fill="#ff0000"/>
<text x="825.71" y="2458.9" font-size="26" text-anchor="middle">10<tspan font-size="16.8" dy="-11.3">-4</tspan></text>
<text x="924.92" y="2458.9" font-size="26" text-anchor="middle">10<tspan font-size="16.8" dy="-11.3">-2</tspan></text>
<text x="1021.93" y="2458.9" font-size="26" text-anchor="middle">10<tspan font-size="16.8" dy="-11.3">0</tspan></text>
<text x="1121.14" y="2458.9" font-size="26" text-anchor="middle">10<tspan font-size="16.8" dy="-11.3">2</tspan></text>
<path d="M826.06,2091.49V2413.1M813.26,2413.1H1148.26M813.26,2367.15H826.06M813.26,2321.21H826.06M813.26,2275.27H826.06M813.26,2229.32H826.06M813.26,2183.38H826.06M813.26,2137.44H826.06M813.26,2091.49H826.06M826.31,2413.1V2425.7M925.52,2413.1V2425.7M1024.73,2413.1V2425.7M1123.94,2413.1V2425.7" stroke="#000" stroke-width="1.75" fill="none" stroke-linecap="square"/>
<path d="M832.06,2367.15H1145.26" stroke="#000" stroke-width="3.3" stroke-linecap="round" stroke-dasharray="0,6.9"/>
<path d="M850.68,2301.64C853.53,2294.43 862.02,2273.45 867.8,2258.4C873.58,2243.34 880.01,2225.57 885.36,2211.3C890.71,2197.02 895.71,2182.4 899.92,2172.76C904.13,2163.13 906.34,2158.67 910.62,2153.49C914.9,2148.32 919.01,2144.29 925.61,2141.72C932.21,2139.15 940.34,2138.79 950.23,2138.08C960.11,2137.37 967.6,2137.58 984.91,2137.44C1002.21,2137.29 1030.94,2137.26 1054.06,2137.22C1077.18,2137.19 1112.04,2137.22 1123.64,2137.22" fill="none" stroke="#90c0ff" stroke-width="1.5"/>
<path d="M950.23,2331.19C953.26,2329.05 962.64,2323.16 968.42,2318.34C974.2,2313.52 979.2,2308.35 984.91,2302.28C990.62,2296.22 996.93,2289.26 1002.68,2281.95C1008.42,2274.63 1013.67,2269.1 1019.38,2258.4C1025.09,2247.69 1031.15,2231.99 1036.93,2217.72C1042.71,2203.45 1049.6,2184.54 1054.06,2172.76C1058.52,2160.99 1062.09,2151.35 1063.69,2147.07" fill="none" stroke="#58084e" stroke-width="1.5"/>
<path d="M1063.69,2147.07L1069.05,2138.94L1088.31,2138.51L1123.64,2138.08" fill="none" stroke="#58084e" stroke-width="1.5"/>
<path d="M950.32,2366.25L954.66,2365.95L959,2365.55L963.34,2365.02L967.68,2364.31L972.02,2363.38L976.37,2362.15L980.71,2360.53L985.05,2358.41L989.39,2355.64L993.73,2352.05L998.07,2347.45L1002.41,2341.61L1006.75,2334.31L1011.09,2325.36L1015.43,2314.62L1019.77,2302.08L1024.11,2287.9L1028.45,2272.42L1032.79,2256.16L1037.13,2239.77L1041.47,2223.9L1045.81,2209.15L1050.15,2195.92L1054.49,2184.46L1058.83,2174.8L1063.17,2166.86L1067.51,2160.46L1071.85,2155.39L1076.19,2151.43L1080.53,2148.35L1084.87,2145.99L1089.21,2144.18L1093.55,2142.81L1097.89,2141.77L1102.24,2140.98L1106.58,2140.38L1110.92,2139.94L1115.26,2139.6L1119.6,2139.35L1123.94,2139.16" fill="none" stroke="#00f000" stroke-width="1.5"/>
<path d="M950.32,2365.44L954.66,2364.87L959,2364.12L963.34,2363.13L967.68,2361.82L972.02,2360.11L976.37,2357.86L980.71,2354.93L985.05,2351.14L989.39,2346.3L993.73,2340.18L998.07,2332.56L1002.41,2323.26L1006.75,2312.17L1011.09,2299.3L1015.43,2284.85L1019.77,2269.19L1024.11,2252.89L1028.45,2236.58L1032.79,2220.93L1037.13,2206.47L1041.47,2193.6L1045.81,2182.5L1050.15,2173.2L1054.49,2165.57L1058.83,2159.45L1063.17,2154.6L1067.51,2150.82L1071.85,2147.89L1076.19,2145.64L1080.53,2143.92L1084.87,2142.61L1089.21,2141.62L1093.55,2140.87L1097.89,2140.3L1102.24,2139.88L1106.58,2139.56L1110.92,2139.31L1115.26,2139.13L1119.6,2139L1123.94,2138.89" fill="none" stroke="#000000" stroke-width="1.5"/>
<path d="M950.32,2367.13L954.66,2367.12L959,2367.11L963.34,2367.09L967.68,2367.06L972.02,2367.02L976.37,2366.96L980.71,2366.88L985.05,2366.76L989.39,2366.59L993.73,2366.35L998.07,2366.01L1002.41,2365.53L1006.75,2364.85L1011.09,2363.88L1015.43,2362.51L1019.77,2360.58L1024.11,2357.89L1028.45,2354.17L1032.79,2349.06L1037.13,2342.18L1041.47,2333.1L1045.81,2321.46L1050.15,2307.06L1054.49,2290.03L1058.83,2270.91L1063.17,2250.66L1067.51,2230.52L1071.85,2211.67L1076.19,2195.04L1080.53,2181.08L1084.87,2169.87L1089.21,2161.17L1093.55,2154.6L1097.89,2149.74L1102.24,2146.2L1106.58,2143.65L1110.92,2141.83L1115.26,2140.53L1119.6,2139.62L1123.94,2138.97" fill="none" stroke="#ff8000" stroke-width="1.5"/>
<path d="M950.32,2367.15L954.66,2367.15L959,2367.15L963.34,2367.15L967.68,2367.15L972.02,2367.15L976.37,2367.15L980.71,2367.14L985.05,2367.14L989.39,2367.13L993.73,2367.12L998.07,2367.11L1002.41,2367.08L1006.75,2367.05L1011.09,2366.99L1015.43,2366.91L1019.77,2366.79L1024.11,2366.6L1028.45,2366.32L1032.79,2365.89L1037.13,2365.25L1041.47,2364.29L1045.81,2362.85L1050.15,2360.7L1054.49,2357.52L1058.83,2352.89L1063.17,2346.24L1067.51,2336.91L1071.85,2324.29L1076.19,2307.96L1080.53,2288.04L1084.87,2265.42L1089.21,2241.72L1093.55,2218.9L1097.89,2198.63L1102.24,2181.89L1106.58,2168.88L1110.92,2159.23L1115.26,2152.31L1119.6,2147.49L1123.94,2144.18" fill="none" stroke="#ff00ff" stroke-width="1.5"/>
<path d="M950.32,2364.84L954.66,2364.21L959,2363.4L963.34,2362.37L967.68,2361.08L972.02,2359.44L976.37,2357.39L980.71,2354.81L985.05,2351.61L989.39,2347.65L993.73,2342.8L998.07,2336.92L1002.41,2329.87L1006.75,2321.57L1011.09,2311.95L1015.43,2301.04L1019.77,2288.95L1024.11,2275.9L1028.45,2262.21L1032.79,2248.26L1037.13,2234.46L1041.47,2221.21L1045.81,2208.85L1050.15,2197.62L1054.49,2187.67L1058.83,2179.03L1063.17,2171.67L1067.51,2165.5L1071.85,2160.39L1076.19,2156.22L1080.53,2152.83L1084.87,2150.11L1089.21,2147.93L1093.55,2146.19L1097.89,2144.82L1102.24,2143.73L1106.58,2142.87L1110.92,2142.19L1115.26,2141.66L1119.6,2141.25L1123.94,2140.92" fill="none" stroke="#ff0000" stroke-width="1.5"/>
<path d="M950.32,2364.45L954.66,2363.76L959,2362.89L963.34,2361.81L967.68,2360.46L972.02,2358.78L976.37,2356.7L980.71,2354.14L985.05,2351.01L989.39,2347.19L993.73,2342.57L998.07,2337.06L1002.41,2330.54L1006.75,2322.95L1011.09,2314.25L1015.43,2304.46L1019.77,2293.67L1024.11,2282.06L1028.45,2269.87L1032.79,2257.4L1037.13,2244.97L1041.47,2232.92L1045.81,2221.53L1050.15,2211.01L1054.49,2201.53L1058.83,2193.14L1063.17,2185.86L1067.51,2179.64L1071.85,2174.39L1076.19,2170.02L1080.53,2166.4L1084.87,2163.44L1089.21,2161.03L1093.55,2159.07L1097.89,2157.5L1102.24,2156.23L1106.58,2155.21L1110.92,2154.4L1115.26,2153.75L1119.6,2153.23L1123.94,2152.82" fill="none" stroke="#0000ff" stroke-width="1.5"/>
<path d="M850.68,2291.58V2311.92M844.18,2291.58h13M844.18,2311.92h13" stroke="#90c0ff" stroke-width="1.5" fill="none"/>
<path d="M885.36,2203.16V2216.01M878.86,2203.16h13M878.86,2216.01h13" stroke="#90c0ff" stroke-width="1.5" fill="none"/>
<path d="M844.08,2295.04L857.28,2308.24M857.28,2295.04L844.08,2308.24" stroke="#90c0ff" stroke-width="3.3" fill="none"/>
<path d="M878.76,2202.98L891.96,2216.18M891.96,2202.98L878.76,2216.18" stroke="#90c0ff" stroke-width="3.3" fill="none"/>
<path d="M913.65,2138.33L926.85,2151.53M926.85,2138.33L913.65,2151.53" stroke="#90c0ff" stroke-width="3.3" fill="none"/>
<path d="M943.63,2132.34L956.83,2145.54M956.83,2132.34L943.63,2145.54" stroke="#90c0ff" stroke-width="3.3" fill="none"/>
<path d="M978.31,2130.84L991.51,2144.04M991.51,2130.84L978.31,2144.04" stroke="#90c0ff" stroke-width="3.3" fill="none"/>
<path d="M1012.78,2130.84L1025.98,2144.04M1025.98,2130.84L1012.78,2144.04" stroke="#90c0ff" stroke-width="3.3" fill="none"/>
<path d="M1047.46,2130.2L1060.66,2143.4M1060.66,2130.2L1047.46,2143.4" stroke="#90c0ff" stroke-width="3.3" fill="none"/>
<path d="M1082.14,2127.63L1095.34,2140.83M1095.34,2127.63L1082.14,2140.83" stroke="#90c0ff" stroke-width="3.3" fill="none"/>
<path d="M1117.04,2129.77L1130.24,2142.97M1130.24,2129.77L1117.04,2142.97" stroke="#90c0ff" stroke-width="3.3" fill="none"/>
<path d="M984.91,2344.03V2379.36M978.41,2344.03h13M978.41,2379.36h13" stroke="#00f000" stroke-width="1.5" fill="none"/>
<path d="M943.93,2367.15H956.53M950.23,2360.85V2373.45" stroke="#00f000" stroke-width="3.9" fill="none"/>
<path d="M978.61,2369.72H991.21M984.91,2363.42V2376.02" stroke="#00f000" stroke-width="3.9" fill="none"/>
<path d="M1013.08,2303.35H1025.68M1019.38,2297.05V2309.65" stroke="#00f000" stroke-width="3.9" fill="none"/>
<path d="M1047.76,2185.61H1060.36M1054.06,2179.31V2191.91" stroke="#00f000" stroke-width="3.9" fill="none"/>
<path d="M1082.44,2142.79H1095.04M1088.74,2136.49V2149.09" stroke="#00f000" stroke-width="3.9" fill="none"/>
<path d="M1117.34,2137.44H1129.94M1123.64,2131.14V2143.74" stroke="#00f000" stroke-width="3.9" fill="none"/>
<path d="M950.23,2374V2414.04M943.73,2374h13M943.73,2414.04h13" stroke="#ff8000" stroke-width="1.5" fill="none"/>
<path d="M984.91,2374V2407.62M978.41,2374h13M978.41,2407.62h13" stroke="#ff8000" stroke-width="1.5" fill="none"/>
<path d="M1019.38,2358.38V2385.78M1012.88,2358.38h13M1012.88,2385.78h13" stroke="#ff8000" stroke-width="1.5" fill="none"/>
<path d="M1054.06,2283.02V2301.21M1047.56,2283.02h13M1047.56,2301.21h13" stroke="#ff8000" stroke-width="1.5" fill="none"/>
<path d="M1088.74,2144.93V2179.61M1082.24,2144.93h13M1082.24,2179.61h13" stroke="#ff8000" stroke-width="1.5" fill="none"/>
<path d="M950.23,2394.9L956.43,2401.41L950.23,2407.92L944.03,2401.41Z" fill="#ff8000"/>
<path d="M984.91,2384.62L991.11,2391.13L984.91,2397.64L978.71,2391.13Z" fill="#ff8000"/>
<path d="M1019.38,2365.78L1025.58,2372.29L1019.38,2378.8L1013.18,2372.29Z" fill="#ff8000"/>
<path d="M1054.06,2285.5L1060.26,2292.01L1054.06,2298.52L1047.86,2292.01Z" fill="#ff8000"/>
<path d="M1088.74,2155.55L1094.94,2162.06L1088.74,2168.57L1082.54,2162.06Z" fill="#ff8000"/>
<path d="M1123.64,2132L1129.84,2138.51L1123.64,2145.02L1117.44,2138.51Z" fill="#ff8000"/>
<path d="M1054.06,2349.38V2369.29M1047.56,2349.38h13M1047.56,2369.29h13" stroke="#a010e0" stroke-width="1.5" fill="none"/>
<path d="M1088.74,2235.92V2253.47M1082.24,2235.92h13M1082.24,2253.47h13" stroke="#a010e0" stroke-width="1.5" fill="none"/>
<path d="M984.91,2398.27L991.71,2386.03H978.11Z" fill="#a010e0"/>
<path d="M1054.06,2365.09L1060.86,2352.85H1047.26Z" fill="#a010e0"/>
<path d="M1088.74,2251.62L1095.54,2239.38H1081.94Z" fill="#a010e0"/>
<path d="M1123.64,2149.93L1130.44,2137.69H1116.84Z" fill="#a010e0"/>
<circle cx="950.23" cy="2355.81" r="8" fill="#000000"/>
<circle cx="984.91" cy="2361.16" r="8" fill="#000000"/>
<circle cx="1019.38" cy="2270.6" r="8" fill="#000000"/>
<circle cx="1054.06" cy="2166.34" r="8" fill="#000000"/>
<circle cx="1088.74" cy="2142.79" r="8" fill="#000000"/>
<circle cx="1123.64" cy="2135.94" r="8" fill="#000000"/>
<path d="M984.91,2302.28V2318.34M978.41,2302.28h13M978.41,2318.34h13" stroke="#a07030" stroke-width="1.5" fill="none"/>
<path d="M1019.38,2254.54V2278.73M1012.88,2254.54h13M1012.88,2278.73h13" stroke="#a07030" stroke-width="1.5" fill="none"/>
<path d="M950.23,2310.13L957.03,2322.37H943.43Z" fill="#a07030"/>
<path d="M984.91,2304.78L991.71,2317.02H978.11Z" fill="#a07030"/>
<path d="M1019.38,2260.89L1026.18,2273.13H1012.58Z" fill="#a07030"/>
<path d="M1054.06,2170.33L1060.86,2182.57H1047.26Z" fill="#a07030"/>
<path d="M1088.74,2134.58L1095.54,2146.82H1081.94Z" fill="#a07030"/>
<path d="M1123.64,2129.23L1130.44,2141.47H1116.84Z" fill="#a07030"/>
<rect x="943.83" y="2367.6" width="12.8" height="12.8" fill="#ff0000"/>
<rect x="978.51" y="2353.69" width="12.8" height="12.8" fill="#ff0000"/>
<rect x="1012.98" y="2278.76" width="12.8" height="12.8" fill="#ff0000"/>
<rect x="1047.66" y="2187.77" width="12.8" height="12.8" fill="#ff0000"/>
<rect x="1082.34" y="2148.16" width="12.8" height="12.8" fill="#ff0000"/>
<rect x="1117.24" y="2133.18" width="12.8" height="12.8" fill="#ff0000"/>
<path d="M1019.38,2281.95V2298M1012.88,2281.95h13M1012.88,2298h13" stroke="#0000ff" stroke-width="1.5" fill="none"/>
<circle cx="950.23" cy="2367.15" r="6.5" fill="#0000ff"/>
<circle cx="984.91" cy="2355.81" r="6.5" fill="#0000ff"/>
<circle cx="1019.38" cy="2289.44" r="6.5" fill="#0000ff"/>
<circle cx="1054.06" cy="2208.09" r="6.5" fill="#0000ff"/>
<circle cx="1088.74" cy="2169.55" r="6.5" fill="#0000ff"/>
<circle cx="1123.64" cy="2154.56" r="6.5" fill="#0000ff"/>
<path d="M1155,2132.7H1189.5" stroke="#0000ff" stroke-width="1.6"/>
<circle cx="1172" cy="2132.7" r="6.5" fill="#0000ff"/>
<text x="1208.8" y="2141.6" font-size="26" text-anchor="start">PW5-4</text>
<text x="1399.5" y="2141.6" font-size="26" text-anchor="middle">&gt;100</text>
<text x="1552" y="2141.6" font-size="26" text-anchor="middle">0.21</text>
<text x="1707.2" y="2141.6" font-size="26" text-anchor="middle">1.55</text>
<path d="M1155,2176H1189.5" stroke="#ff0000" stroke-width="1.6"/>
<rect x="1165.6" y="2169.6" width="12.8" height="12.8" fill="#ff0000"/>
<text x="1208.8" y="2185.3" font-size="26" text-anchor="start">PW5-5</text>
<text x="1399.5" y="2185.3" font-size="26" text-anchor="middle">&gt;100</text>
<text x="1552" y="2185.3" font-size="26" text-anchor="middle">0.01</text>
<text x="1707.2" y="2185.3" font-size="26" text-anchor="middle">1.37</text>
<path d="M1155,2223.4H1189.5" stroke="#58084e" stroke-width="1.6"/>
<path d="M1172,2216.26L1178.8,2228.5H1165.2Z" fill="#a07030"/>
<text x="1208.8" y="2231.9" font-size="26" text-anchor="start">PW5-298</text>
<text x="1399.5" y="2231.9" font-size="26" text-anchor="middle">&gt;100</text>
<text x="1552" y="2231.9" font-size="26" text-anchor="middle">35.71</text>
<text x="1707.2" y="2231.9" font-size="26" text-anchor="middle">0.96</text>
<path d="M1155,2267.9H1189.5" stroke="#ff00ff" stroke-width="1.6"/>
<path d="M1172,2275.04L1178.8,2262.8H1165.2Z" fill="#a010e0"/>
<text x="1208.8" y="2277.2" font-size="26" text-anchor="start">PW5-399</text>
<text x="1399.5" y="2277.2" font-size="26" text-anchor="middle">4.68</text>
<text x="1552" y="2277.2" font-size="26" text-anchor="middle">31.68</text>
<text x="1707.2" y="2277.2" font-size="26" text-anchor="middle">18.87</text>
<path d="M1155,2312.9H1189.5" stroke="#ff8000" stroke-width="1.6"/>
<path d="M1172,2306.39L1178.2,2312.9L1172,2319.41L1165.8,2312.9Z" fill="#ff8000"/>
<text x="1208.8" y="2321.8" font-size="26" text-anchor="start">PW5-530</text>
<text x="1399.5" y="2321.8" font-size="26" text-anchor="middle">75.28</text>
<text x="1552" y="2321.8" font-size="26" text-anchor="middle">22.18</text>
<text x="1707.2" y="2321.8" font-size="26" text-anchor="middle">5.90</text>
<path d="M1155,2358.2H1189.5" stroke="#000000" stroke-width="1.6"/>
<circle cx="1172" cy="2358.2" r="8" fill="#000000"/>
<text x="1208.8" y="2367.5" font-size="26" text-anchor="start">PW5-534</text>
<text x="1399.5" y="2367.5" font-size="26" text-anchor="middle">&gt;100</text>
<text x="1552" y="2367.5" font-size="26" text-anchor="middle">62.67</text>
<text x="1707.2" y="2367.5" font-size="26" text-anchor="middle">0.99</text>
<path d="M1155,2402.7H1189.5" stroke="#00f000" stroke-width="1.6"/>
<path d="M1165.7,2402.7H1178.3M1172,2396.4V2409" stroke="#00f000" stroke-width="3.9" fill="none"/>
<text x="1208.8" y="2412.1" font-size="26" text-anchor="start">PW5-535</text>
<text x="1399.5" y="2412.1" font-size="26" text-anchor="middle">&gt;100</text>
<text x="1552" y="2412.1" font-size="26" text-anchor="middle">0.62</text>
<text x="1707.2" y="2412.1" font-size="26" text-anchor="middle">1.52</text>
<path d="M1155,2448.5H1189.5" stroke="#90c0ff" stroke-width="1.6"/>
<path d="M1165.4,2441.9L1178.6,2455.1M1178.6,2441.9L1165.4,2455.1" stroke="#90c0ff" stroke-width="3.3" fill="none"/>
<text x="1208.8" y="2457.4" font-size="26" text-anchor="start">PW5-570</text>
<text x="1399.5" y="2457.4" font-size="26" text-anchor="middle">&gt;100</text>
<text x="1552" y="2457.4" font-size="26" text-anchor="middle">&gt;100</text>
<text x="1707.2" y="2457.4" font-size="26" text-anchor="middle">0.001</text>
<text x="1560" y="2047.5" font-size="26" text-anchor="middle">IC<tspan font-size="19.3" dy="7.2">50</tspan><tspan dy="-7.2"> (μg/mL)</tspan></text>
<path d="M1322.5,2071.3H1793" stroke="#000" stroke-width="3"/>
<text x="1398.8" y="2103.8" font-size="26" text-anchor="middle">MERS-CoV</text>
<text x="1550" y="2103.8" font-size="26" text-anchor="middle">SARS-CoV</text>
<text x="1706.4" y="2103.8" font-size="26" text-anchor="middle">SARS-CoV-2</text>
</g>
</svg>
</body></html>
